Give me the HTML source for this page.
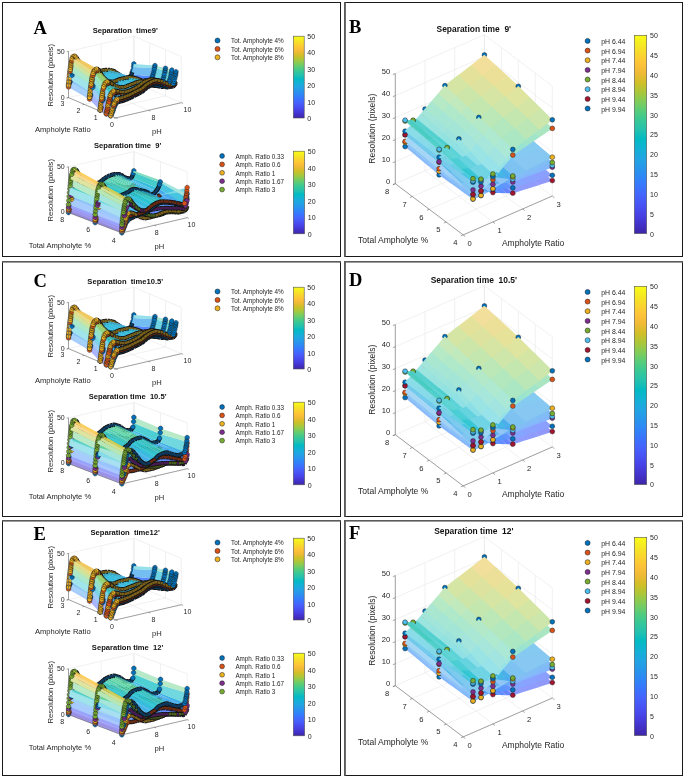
<!DOCTYPE html><html><head><meta charset="utf-8"><style>
html,body{margin:0;padding:0;background:#fff;width:685px;height:778px;overflow:hidden}
svg{display:block;will-change:transform;font-family:"Liberation Sans",sans-serif;fill:#262626}text{white-space:pre}.m{stroke:#1a1a1a;stroke-width:.45}.tb,.t0,.t1,.t2,.t3,.t4{fill:none;stroke-linejoin:round}.tb{stroke:#141414;stroke-width:4.4}.t0,.t1,.t2,.t3,.t4{stroke-width:2.5}.t0{stroke:#0b3a63}.t1{stroke:#6e2a10}.t2{stroke:#7a6018}.t3{stroke:#4a1c55}.t4{stroke:#46621c}

</style></head><body>
<svg width="685" height="778" viewBox="0 0 685 778">
<defs><g id="lt"><line x1="115.9" y1="117.9" x2="68.5" y2="97.6" stroke="#e3e3e3" stroke-width="0.5"/><line x1="148.6" y1="110.3" x2="101.2" y2="90" stroke="#e3e3e3" stroke-width="0.5"/><line x1="181.3" y1="102.7" x2="133.9" y2="82.4" stroke="#e3e3e3" stroke-width="0.5"/><line x1="115.9" y1="117.9" x2="181.3" y2="102.7" stroke="#e3e3e3" stroke-width="0.5"/><line x1="100.1" y1="111.1" x2="165.5" y2="95.9" stroke="#e3e3e3" stroke-width="0.5"/><line x1="84.3" y1="104.4" x2="149.7" y2="89.2" stroke="#e3e3e3" stroke-width="0.5"/><line x1="68.5" y1="97.6" x2="133.9" y2="82.4" stroke="#e3e3e3" stroke-width="0.5"/><line x1="68.5" y1="97.6" x2="68.5" y2="51.4" stroke="#e3e3e3" stroke-width="0.5"/><line x1="101.2" y1="90" x2="101.2" y2="43.8" stroke="#e3e3e3" stroke-width="0.5"/><line x1="133.9" y1="82.4" x2="133.9" y2="36.2" stroke="#e3e3e3" stroke-width="0.5"/><line x1="68.5" y1="51.4" x2="133.9" y2="36.2" stroke="#e3e3e3" stroke-width="0.5"/><line x1="181.3" y1="102.7" x2="181.3" y2="56.5" stroke="#e3e3e3" stroke-width="0.5"/><line x1="165.5" y1="95.9" x2="165.5" y2="49.7" stroke="#e3e3e3" stroke-width="0.5"/><line x1="149.7" y1="89.2" x2="149.7" y2="43" stroke="#e3e3e3" stroke-width="0.5"/><line x1="133.9" y1="82.4" x2="133.9" y2="36.2" stroke="#e3e3e3" stroke-width="0.5"/><line x1="181.3" y1="56.5" x2="133.9" y2="36.2" stroke="#e3e3e3" stroke-width="0.5"/><path d="M152.8 83.6l2-1.7-21.6-3.6-2.1 1.3z" fill="#737af6"/><path d="M154.8 81.9l.4-.6-21.6-3.6-.4.7z" fill="#6370f8"/><path class="tb" d="M133.6 78.3l.3-.5"/><path class="t1" d="M133.6 78.3l.3-.5"/><path d="M150.7 84.1l2.1-.5-21.6-4-2.1.5z" fill="#6367f2"/><path class="tb" d="M131 79.8l.3-.1.3-.1.3-.1.4-.2.3-.1.3-.2.3-.2.4-.5"/><path class="t1" d="M131 79.8l.3-.1.3-.1.3-.1.4-.2.3-.1.3-.2.3-.2.4-.5"/><path d="M148.7 84.2l2-.1-21.6-4-2 .1z" fill="#7378f4"/><path class="tb" d="M128.3 80.2l.4 0 .3 0 .3-.1.3 0 .4 0 .3-.1.3-.1.4-.1"/><path class="t1" d="M128.3 80.2l.4 0 .3 0 .3-.1.3 0 .4 0 .3-.1.3-.1.4-.1"/><path d="M152.8 81.7l2-1.7-21.6-3.5-2.1 1.3z" fill="#7284fc"/><path d="M154.8 80.1l.4-.7-21.6-3.5-.4.6z" fill="#607cfd"/><path class="tb" d="M133.6 76.4l.3-.5"/><path class="t2" d="M133.6 76.4l.3-.5"/><path d="M150.7 82.3l2.1-.6-21.6-3.9-2.1.4z" fill="#6273fa"/><path class="tb" d="M131 78l.3-.1.3-.1.3-.2.4-.1.3-.2.3-.2.3-.2.4-.5"/><path class="t2" d="M131 78l.3-.1.3-.1.3-.2.4-.1.3-.2.3-.2.3-.2.4-.5"/><path d="M146.6 84.1l2.1.1-21.6-4-2.1-.2z" fill="#636cf6"/><path class="tb" d="M125.7 80.1l.4.1.3 0 .3 0 .3 0 .4 0 .3 0 .3 0 .3 0"/><path class="t1" d="M125.7 80.1l.4.1.3 0 .3 0 .3 0 .4 0 .3 0 .3 0 .3 0"/><path d="M148.7 82.3l2 0-21.6-4.1-2 .1z" fill="#7282fb"/><path class="tb" d="M128.3 78.4l.4 0 .3-.1.3 0 .3 0 .4-.1.3-.1.3 0 .4-.1"/><path class="t2" d="M128.3 78.4l.4 0 .3-.1.3 0 .3 0 .4-.1.3-.1.3 0 .4-.1"/><path d="M146.6 84.2l2.1-1.2-21.6-4.2-2.1.9z" fill="#6370f8"/><path d="M148.7 83.1l2-2.8-21.6-3.3-2 1.9z" fill="#7185fc"/><path class="tb" d="M125.7 79.7l.4-.1.3-.1.3-.2.3-.2.4-.2.3-.2.3-.3.3-.3"/><path class="t0" d="M125.7 79.7l.4-.1.3-.1.3-.2.3-.2.4-.2.3-.2.3-.3.3-.3"/><path d="M144.6 84.1l2 .1-21.6-4.5-2-.6z" fill="#727ffa"/><path d="M144.6 83.6l2 .5-21.6-4.1-2-.8z" fill="#7280fa"/><path d="M146.6 82.2l2.1.1-21.6-4-2.1-.1z" fill="#6178fc"/><path class="tb" d="M125.7 78.3l.4 0 .3 0 .3.1.3 0 .4 0 .3 0 .3 0 .3 0"/><path class="t2" d="M125.7 78.3l.4 0 .3 0 .3.1.3 0 .4 0 .3 0 .3 0 .3 0"/><path d="M150.7 80.4l2.1-4-21.6-2.1-2.1 2.8z" fill="#5888ff"/><path class="tb" d="M128.3 78.1l.4-.3.3-.3.3-.3.3-.3.4-.4.3-.4.3-.3.4-.5"/><path class="t0" d="M128.3 78.1l.4-.3.3-.3.3-.3.3-.3.4-.4.3-.4.3-.3.4-.5"/><path d="M144.6 81.7l2 .5-21.6-4-2-.8z" fill="#6f8bfe"/><path d="M142.5 83.5l2.1.6-21.6-5-2.1-1.3z" fill="#6178fc"/><path class="tb" d="M123.1 79.1l.3.2.4.1.3.2.3.1.3 0 .4 0 .3 0 .3 0"/><path class="t0" d="M123.1 79.1l.3.2.4.1.3.2.3.1.3 0 .4 0 .3 0 .3 0"/><path d="M142.5 82.7l2.1.9-21.6-4.4-2.1-1.3z" fill="#617afd"/><path class="tb" d="M123.1 79.2l.3.2.4.1.3.2.3.1.3.1.4.1.3.1.3 0"/><path class="t1" d="M123.1 79.2l.3.2.4.1.3.2.3.1.3.1.4.1.3.1.3 0"/><path class="m" d="M132.2 70a2.3 2.3 0 1 0 .1 0M132.9 67.9a2.3 2.3 0 1 0 .1 0M133.5 64.2a2.3 2.3 0 1 0 .1 0M133.8 61.6a2.3 2.3 0 1 0 .1 0" fill="#0072BD"/><path d="M142.5 80.9l2.1.8-21.6-4.3-2.1-1.4z" fill="#5987ff"/><path class="tb" d="M123.1 77.3l.3.2.4.2.3.1.3.2.3.1.4.1.3.1.3 0"/><path class="t2" d="M123.1 77.3l.3.2.4.2.3.1.3.2.3.1.4.1.3.1.3 0"/><path d="M152.7 76.5l2.1-8.5-21.6-1-2 7.5z" fill="#74bdf1"/><path d="M140.5 82.9l2 .6-21.6-5.7-2-1.3z" fill="#6d8ffe"/><path class="tb" d="M131 75.3l.3-.5.3-.7.3-.8.4-1"/><path class="t0" d="M131 75.3l.3-.5.3-.7.3-.8.4-1"/><path class="tb" d="M120.5 77.3l.3.3.3.2.4.2.3.3.3.2.4.2.3.2.3.2"/><path class="t0" d="M120.5 77.3l.3.3.3.2.4.2.3.3.3.2.4.2.3.2.3.2"/><path d="M140.5 81.9l2 .9-21.6-4.9-2-1.4z" fill="#6b91ff"/><path class="tb" d="M120.5 77.4l.3.2.3.3.4.2.3.2.3.3.4.2.3.2.3.2"/><path class="t1" d="M120.5 77.4l.3.2.3.3.4.2.3.2.3.3.4.2.3.2.3.2"/><path d="M140.5 80.1l2 .8-21.6-4.9-2-1.3z" fill="#619dfc"/><path class="tb" d="M120.5 75.6l.3.2.3.2.4.3.3.2.3.2.4.2.3.2.3.2"/><path class="t2" d="M120.5 75.6l.3.2.3.2.4.3.3.2.3.2.4.2.3.2.3.2"/><path d="M138.4 82.2l2.1.7-21.6-6.4-2-1.1z" fill="#548cfe"/><path class="tb" d="M117.9 75.9l.3.2.3.2.4.1.3.2.3.1.3.2.4.2.3.2"/><path class="t0" d="M117.9 75.9l.3.2.3.2.4.1.3.2.3.1.3.2.4.2.3.2"/><path d="M138.4 81.2l2.1.8-21.6-5.5-2-1.4z" fill="#5090fc"/><path class="tb" d="M117.9 75.7l.3.3.3.2.4.2.3.2.3.2.3.2.4.2.3.2"/><path class="t1" d="M117.9 75.7l.3.3.3.2.4.2.3.2.3.2.3.2.4.2.3.2"/><path d="M154.8 68.2l.4-2.7-21.6-1.6-.4 3.3z" fill="#96e0ea"/><path d="M138.4 79.3l2.1.8-21.6-5.4-2-1.4z" fill="#4d9cf6"/><path d="M136.4 81.3l2 .9-21.5-6.8-2.1-1.1z" fill="#5fa0fa"/><path class="tb" d="M117.9 73.9l.3.2.3.2.4.2.3.2.3.2.3.2.4.2.3.3"/><path class="t2" d="M117.9 73.9l.3.2.3.2.4.2.3.2.3.2.3.2.4.2.3.3"/><path class="tb" d="M115.3 74.4l.3.2.3.2.3.2.4.1.3.2.3.2.4.2.3.2"/><path class="t0" d="M115.3 74.4l.3.2.3.2.3.2.4.1.3.2.3.2.4.2.3.2"/><path d="M136.4 80.4l2 .8-21.5-6.1-2.1-1.4z" fill="#5fa4f8"/><path class="tb" d="M115.3 73.9l.3.2.3.2.3.2.4.3.3.2.3.3.4.2.3.2"/><path class="t1" d="M115.3 73.9l.3.2.3.2.3.2.4.3.3.2.3.3.4.2.3.2"/><path d="M134.4 80.8l2 .5-21.6-7-2-.8z" fill="#4c9ef4"/><path d="M136.4 78.6l2 .8-21.5-6.1-2.1-1.5z" fill="#5aaef0"/><path class="tb" d="M115.3 72l.3.2.3.3.3.2.4.2.3.3.3.2.4.3.3.2"/><path class="t2" d="M115.3 72l.3.2.3.3.3.2.4.2.3.3.3.2.4.3.3.2"/><path d="M134.4 79.9l2 .5-21.6-6.7-2-1.1z" fill="#4aa3f0"/><path d="M132.3 80.6l2.1.2-21.6-7.3-2.1-.4z" fill="#5cadf1"/><path d="M163.3 84.4l2.1-1.7-11.2-.9-2 1.7z" fill="#6895ff"/><path class="tb" d="M112.6 73.5l.4 0 .3.1.3.1.4.1.3.2.3.1.3.2.4.1"/><path class="t0" d="M112.6 73.5l.4 0 .3.1.3.1.4.1.3.2.3.1.3.2.4.1"/><path d="M165.4 82.7l.4-.6-11.2-.9-.4.6z" fill="#518ffd"/><path d="M161.3 84.9l2-.5-11.1-.9-2.1.5z" fill="#5b85ff"/><path class="tb" d="M154.6 81.7l.3-.5"/><path class="t1" d="M154.6 81.7l.3-.5"/><path class="tb" d="M152 83.7l.3-.1.3-.2.4-.2.3-.2.3-.3.3-.2.4-.3.3-.5"/><path class="t1" d="M152 83.7l.3-.1.3-.2.4-.2.3-.2.3-.3.3-.2.4-.3.3-.5"/><path d="M134.4 78l2 .6-21.6-6.8-2-1.1z" fill="#45ade9"/><path d="M132.3 79.6l2.1.3-21.6-7.3-2.1-.5z" fill="#59b2ee"/><path class="tb" d="M112.6 72.6l.4.1.3.1.3.1.4.2.3.2.3.1.3.2.4.3"/><path class="t1" d="M112.6 72.6l.4.1.3.1.3.1.4.2.3.2.3.1.3.2.4.3"/><path d="M159.3 85l2-.1-11.2-.9-2 .1z" fill="#6a92ff"/><path class="tb" d="M149.4 84.1l.3 0 .3 0 .3 0 .4-.1.3 0 .3-.1.3-.1.4-.1"/><path class="t1" d="M149.4 84.1l.3 0 .3 0 .3 0 .4-.1.3 0 .3-.1.3-.1.4-.1"/><path d="M130.3 80.6l2 0-21.6-7.5-2-.1z" fill="#47a8ed"/><path class="tb" d="M110 73.1l.4.1.3 0 .3 0 .3.1.4 0 .3.1.3 0 .3.1"/><path class="t0" d="M110 73.1l.4.1.3 0 .3 0 .3.1.4 0 .3.1.3 0 .3.1"/><path d="M163.3 82.6l2.1-1.8-11.2-.9-2 1.8z" fill="#5fa0fa"/><path d="M165.4 80.9l.4-.7-11.2-.9-.4.7z" fill="#4d9bf6"/><path d="M161.3 83.1l2-.6-11.1-.9-2.1.6z" fill="#4f92fc"/><path class="tb" d="M154.6 79.9l.3-.5"/><path class="t2" d="M154.6 79.9l.3-.5"/><path class="tb" d="M152 81.9l.3-.1.3-.2.4-.2.3-.3.3-.2.3-.3.4-.3.3-.4"/><path class="t2" d="M152 81.9l.3-.1.3-.2.4-.2.3-.3.3-.2.3-.3.4-.3.3-.4"/><path d="M130.3 79.3l2 .2-21.6-7.5-2-.3z" fill="#44aee9"/><path d="M132.3 77.7l2.1.3-21.6-7.3-2.1-.5z" fill="#54bbe9"/><path class="tb" d="M110 72l.4 0 .3.1.3.1.3 0 .4.1.3.1.3.1.3.1"/><path class="t1" d="M110 72l.4 0 .3.1.3.1.3 0 .4.1.3.1.3.1.3.1"/><path class="tb" d="M112.6 70.7l.4.1.3.1.3.2.4.1.3.2.3.2.3.2.4.2"/><path class="t2" d="M112.6 70.7l.4.1.3.1.3.2.4.1.3.2.3.2.3.2.4.2"/><path d="M157.2 84.9l2.1.1-11.2-.9-2.1-.1z" fill="#578afe"/><path d="M157.2 86l2.1-1.1-11.2-2-2.1 1.2z" fill="#578afe"/><path class="tb" d="M146.7 84.1l.4 0 .3 0 .3 0 .3 0 .4 0 .3 0 .3 0 .4 0"/><path class="t1" d="M146.7 84.1l.4 0 .3 0 .3 0 .3 0 .4 0 .3 0 .3 0 .4 0"/><path d="M128.2 80.7l2.1-.2-21.6-7.6-2.1.1z" fill="#58b3ed"/><path class="tb" d="M107.4 73.1l.3-.1.4 0 .3 0 .3 0 .3.1.4 0 .3 0 .3 0"/><path class="t0" d="M107.4 73.1l.3-.1.4 0 .3 0 .3 0 .3.1.4 0 .3 0 .3 0"/><path d="M159.2 85.1l2.1-2.4-11.1-2.6-2.1 2.9z" fill="#619dfc"/><path class="tb" d="M146.7 84.1l.4-.1.3-.2.3-.2.3-.3.4-.3.3-.3.3-.4.4-.5"/><path class="t0" d="M146.7 84.1l.4-.1.3-.2.3-.2.3-.3.4-.3.3-.3.3-.4.4-.5"/><path d="M159.3 83.1l2 0-11.2-.9-2 .1z" fill="#609efb"/><path class="tb" d="M149.4 82.3l.3 0 .3-.1.3 0 .4 0 .3-.1.3 0 .3-.1.4-.1"/><path class="t2" d="M149.4 82.3l.3 0 .3-.1.3 0 .4 0 .3-.1.3 0 .3-.1.4-.1"/><path d="M155.2 85.8l2 .1-11.2-1.8-2-.1z" fill="#6795fe"/><path d="M126.2 81.2l2-.5-21.6-7.7-2 .2z" fill="#45acea"/><path d="M128.2 79.3l2.1 0-21.6-7.6-2.1-.1z" fill="#55b9ea"/><path class="tb" d="M107.4 71.7l.3 0 .4 0 .3 0 .3.1.3 0 .4 0 .3.1.3.1"/><path class="t1" d="M107.4 71.7l.3 0 .4 0 .3 0 .3.1.3 0 .4 0 .3.1.3.1"/><path d="M130.3 77.5l2 .2-21.6-7.5-2-.3z" fill="#3db8e3"/><path d="M155.2 84.6l2 .3-11.2-.9-2-.5z" fill="#639afd"/><path class="tb" d="M110 70.1l.4.1.3 0 .3.1.3.1.4.1.3 0 .3.1.3.1"/><path class="t2" d="M110 70.1l.4.1.3 0 .3.1.3.1.4.1.3 0 .3.1.3.1"/><path d="M157.2 83.1l2.1 0-11.2-.8-2.1-.1z" fill="#4e96fa"/><path class="tb" d="M146.7 82.2l.4 0 .3 0 .3.1.3 0 .4 0 .3 0 .3 0 .4 0"/><path class="t2" d="M146.7 82.2l.4 0 .3 0 .3.1.3 0 .4 0 .3 0 .3 0 .4 0"/><path d="M161.2 82.9l2.1-3.8-11.1-2.9-2.1 4.1z" fill="#4aa3f0"/><path class="tb" d="M149.4 81.8l.3-.4.3-.5.3-.5.4-.5.3-.5.3-.6.3-.5.4-.6"/><path class="t0" d="M149.4 81.8l.3-.4.3-.5.3-.5.4-.5.3-.5.3-.6.3-.5.4-.6"/><path class="tb" d="M152 77.7l.3-.9"/><path class="t0" d="M152 77.7l.3-.9"/><path d="M124.1 81.6l2.1-.5-21.6-7.9-2.1.4z" fill="#58b5ec"/><path class="tb" d="M104.8 73.3l.3 0 .4-.1.3 0 .3 0 .3-.1.4 0 .3 0 .3 0"/><path class="t0" d="M104.8 73.3l.3 0 .4-.1.3 0 .3 0 .3-.1.4 0 .3 0 .3 0"/><path d="M126.2 79.8l2-.5-21.6-7.7-2 .2z" fill="#41b3e6"/><path d="M153.1 85.1l2.1.7-11.2-1.8-2.1-.6z" fill="#5190fc"/><path class="tb" d="M144.1 84l.4.1.3 0 .3.1.3 0 .4 0 .3 0 .3-.1.3 0"/><path class="t0" d="M144.1 84l.4.1.3 0 .3.1.3 0 .4 0 .3 0 .3-.1.3 0"/><path d="M128.2 77.5l2.1-.1-21.6-7.6-2.1 0z" fill="#4dc1e2"/><path class="tb" d="M107.4 69.8l.3.1.4 0 .3 0 .3 0 .3.1.4 0 .3.1.3 0"/><path class="t2" d="M107.4 69.8l.3.1.4 0 .3 0 .3 0 .3.1.4 0 .3.1.3 0"/><path d="M122.1 82.1l2-.5-21.5-8.1-2.1.4z" fill="#45adea"/><path class="tb" d="M102.2 73.8l.3-.1.3 0 .4-.1.3 0 .3-.1.3-.1.4 0 .3-.1"/><path class="t0" d="M102.2 73.8l.3-.1.3 0 .4-.1.3 0 .3-.1.3-.1.4 0 .3-.1"/><path d="M155.2 82.8l2 .3-11.2-.9-2-.6z" fill="#5fa5f8"/><path d="M153.1 84.1l2.1.5-11.2-1.1-2.1-.9z" fill="#4e95fa"/><path class="tb" d="M144.1 83.5l.4.1.3.1.3.1.3.1.4 0 .3.1.3 0 .3.1"/><path class="t1" d="M144.1 83.5l.4.1.3.1.3.1.3.1.4 0 .3.1.3 0 .3.1"/><path d="M124.1 80.3l2.1-.5-21.6-8-2.1.4z" fill="#53bbe8"/><path class="tb" d="M104.8 71.9l.3 0 .4-.1.3 0 .3 0 .3-.1.4 0 .3 0 .3 0"/><path class="t1" d="M104.8 71.9l.3 0 .4-.1.3 0 .3 0 .3-.1.4 0 .3 0 .3 0"/><path d="M120 82.6l2.1-.5-21.6-8.2-2 .3z" fill="#57b5ec"/><path class="tb" d="M99.6 74.2l.3 0 .3-.1.3 0 .4-.1.3 0 .3-.1.4-.1.3 0"/><path class="t0" d="M99.6 74.2l.3 0 .3-.1.3 0 .4-.1.3 0 .3-.1.4-.1.3 0"/><path d="M126.2 77.9l2-.4-21.6-7.8-2 .3z" fill="#37bcdd"/><path d="M122.1 80.7l2-.5-21.5-8-2.1.3z" fill="#40b4e6"/><path d="M151.1 84.6l2 .6-11.2-1.8-2-.6z" fill="#5fa1fa"/><path class="tb" d="M102.2 72.4l.3-.1.3 0 .4-.1.3 0 .3-.1.3-.1.4 0 .3-.1"/><path class="t1" d="M102.2 72.4l.3-.1.3 0 .4-.1.3 0 .3-.1.3-.1.4 0 .3-.1"/><path class="tb" d="M141.5 83.2l.3.1.4.1.3.1.3.1.3.1.4.1.3.1.3.1"/><path class="t0" d="M141.5 83.2l.3.1.4.1.3.1.3.1.3.1.4.1.3.1.3.1"/><path d="M118 83.5l2-.9-21.5-8.4-2.1.3z" fill="#45ade9"/><path d="M153.1 82.3l2.1.5-11.2-1.1-2.1-.9z" fill="#4ba1f2"/><path class="tb" d="M96.9 74.5l.4 0 .3 0 .3-.1.4 0 .3-.1.3 0 .3 0 .4-.1"/><path class="t0" d="M96.9 74.5l.4 0 .3 0 .3-.1.4 0 .3-.1.3 0 .3 0 .4-.1"/><path class="tb" d="M144.1 81.6l.4.1.3.1.3.1.3.1.4.1.3 0 .3.1.3 0"/><path class="t2" d="M144.1 81.6l.4.1.3.1.3.1.3.1.4.1.3 0 .3.1.3 0"/><path d="M124.1 78.4l2.1-.5-21.6-7.9-2.1.3z" fill="#4ac3e0"/><path class="tb" d="M104.8 70.1l.3-.1.4 0 .3 0 .3-.1.3 0 .4 0 .3 0 .3-.1"/><path class="t2" d="M104.8 70.1l.3-.1.4 0 .3 0 .3-.1.3 0 .4 0 .3 0 .3-.1"/><path d="M151.1 83.7l2 .5-11.2-1.5-2-.9z" fill="#5ea6f6"/><path class="tb" d="M141.5 82.4l.3.1.4.2.3.1.3.1.3.2.4.1.3.1.3.2"/><path class="t1" d="M141.5 82.4l.3.1.4.2.3.1.3.1.3.2.4.1.3.1.3.2"/><path d="M120 81.3l2.1-.6-21.6-8.2-2 .3z" fill="#53bce8"/><path class="tb" d="M99.6 72.8l.3 0 .3-.1.3 0 .4-.1.3 0 .3-.1.4 0 .3-.1"/><path class="t1" d="M99.6 72.8l.3 0 .3-.1.3 0 .4-.1.3 0 .3-.1.4 0 .3-.1"/><path d="M115.9 84.3l2.1-.9-21.6-9-2 .2z" fill="#57b5ec"/><path d="M163.2 79.4l2.2-8.7-11.1-2.8-2.1 8.6z" fill="#6ed3e4"/><path d="M122.1 78.9l2-.5-21.5-8.1-2.1.4z" fill="#35bddc"/><path class="tb" d="M102.2 70.5l.3 0 .3-.1.4 0 .3-.1.3 0 .3-.1.4-.1.3 0"/><path class="t2" d="M102.2 70.5l.3 0 .3-.1.4 0 .3-.1.3 0 .3-.1.4-.1.3 0"/><path d="M118 82.1l2-.9-21.5-8.4-2.1.3z" fill="#40b4e5"/><path d="M149 84.2l2.1.4-11.2-1.8-2-.8z" fill="#4c9df5"/><path class="tb" d="M96.9 73.1l.4 0 .3 0 .3-.1.4 0 .3 0 .3-.1.3 0 .4-.1"/><path class="t1" d="M96.9 73.1l.4 0 .3 0 .3-.1.4 0 .3 0 .3-.1.3 0 .4-.1"/><path class="tb" d="M138.9 82.4l.3.1.3.1.4.1.3.1.3.1.4.1.3.1.3.1"/><path class="t0" d="M138.9 82.4l.3.1.3.1.4.1.3.1.3.1.4.1.3.1.3.1"/><path d="M113.9 85l2.1-.7-21.6-9.7-2.1.1z" fill="#45adea"/><path class="tb" d="M94.3 74.8l.4-.1.3 0 .3 0 .3 0 .4-.1.3 0 .3 0 .3-.1"/><path class="t0" d="M94.3 74.8l.4-.1.3 0 .3 0 .3 0 .4-.1.3 0 .3 0 .3-.1"/><path d="M169.6 85.2l2.1-2.7-6.9.1-2 1.8z" fill="#5ea7f6"/><path d="M151.1 81.8l2 .5-11.2-1.5-2-.8z" fill="#5ab0ef"/><path d="M167.6 85.7l2.1-.7-6.9-.7-2.1.6z" fill="#4d98f8"/><path class="tb" d="M141.5 80.5l.3.2.4.1.3.1.3.2.3.1.4.2.3.1.3.1"/><path class="t2" d="M141.5 80.5l.3.2.4.1.3.1.3.2.3.1.4.2.3.1.3.1"/><path d="M120 79.4l2.1-.5-21.6-8.2-2 .3z" fill="#49c4df"/><path d="M115.9 83l2.1-1-21.6-9-2 .2z" fill="#53bce8"/><path class="tb" d="M99.6 71l.3-.1.3 0 .3-.1.4 0 .3-.1.3 0 .4-.1.3-.1"/><path class="t2" d="M99.6 71l.3-.1.3 0 .3-.1.4 0 .3-.1.3 0 .4-.1.3-.1"/><path d="M149 83.1l2.1.6-11.2-1.9-2-.7z" fill="#4aa3f0"/><path class="tb" d="M138.9 81.4l.3.1.3.2.4.1.3.1.3.1.4.1.3.1.3.2"/><path class="t1" d="M138.9 81.4l.3.1.3.2.4.1.3.1.3.1.4.1.3.1.3.2"/><path d="M171.7 82.6l.4-.6-6.9 0-.4.7z" fill="#49a4f0"/><path class="tb" d="M162.6 84.6l.3-.2.3-.1.3-.2.4-.3.3-.2.3-.3.3-.3.4-.4"/><path class="t1" d="M162.6 84.6l.3-.2.3-.1.3-.2.4-.3.3-.2.3-.3.3-.3.4-.4"/><path class="tb" d="M165.2 82.6l.3-.5"/><path class="t1" d="M165.2 82.6l.3-.5"/><path d="M111.8 85.2l2.1-.3-21.5-10.2-2.1-.2z" fill="#57b7eb"/><path d="M118 80.2l2-.8-21.5-8.4-2.1.2z" fill="#34bddc"/><path class="tb" d="M91.7 74.8l.3 0 .4 0 .3 0 .3 0 .4 0 .3 0 .3 0 .3 0"/><path class="t0" d="M91.7 74.8l.3 0 .4 0 .3 0 .3 0 .4 0 .3 0 .3 0 .3 0"/><path class="tb" d="M96.9 71.3l.4 0 .3-.1.3 0 .4-.1.3 0 .3 0 .3-.1.4 0"/><path class="t2" d="M96.9 71.3l.4 0 .3-.1.3 0 .4-.1.3 0 .3 0 .3-.1.4 0"/><path d="M113.9 83.6l2.1-.7-21.6-9.7-2.1.1z" fill="#40b4e5"/><path class="tb" d="M94.3 73.4l.4-.1.3 0 .3 0 .3 0 .4-.1.3 0 .3 0 .3-.1"/><path class="t1" d="M94.3 73.4l.4-.1.3 0 .3 0 .3 0 .4-.1.3 0 .3 0 .3-.1"/><path d="M165.6 85.3l2 .4-6.9-.9-2 .1z" fill="#5fa4f8"/><path d="M147 83.8l2 .4-11.1-2.2-2.1-.8z" fill="#5cadf1"/><path class="tb" d="M159.9 84.9l.4 0 .3 0 .3 0 .3 0 .4-.1.3 0 .3-.1.4-.1"/><path class="t1" d="M159.9 84.9l.4 0 .3 0 .3 0 .3 0 .4-.1.3 0 .3-.1.4-.1"/><path class="tb" d="M136.3 81.3l.3.1.3.2.4.1.3.2.3.1.3.1.4.2.3.1"/><path class="t0" d="M136.3 81.3l.3.1.3.2.4.1.3.2.3.1.3.1.4.2.3.1"/><path d="M169.6 83.3l2.1-2.6-6.9 0-2 1.9z" fill="#59b1ee"/><path d="M167.6 83.9l2.1-.7-6.9-.8-2.1.6z" fill="#4aa4f0"/><path d="M115.9 81.1l2.1-.9-21.6-9-2 .2z" fill="#49c4e0"/><path d="M163.5 86.9l2.1-1-6.9-1.1-2.1 1.1z" fill="#4d99f8"/><path d="M165.5 86.1l2.1-2-6.8-1.6-2.1 2.5z" fill="#5ea8f5"/><path d="M149 81.3l2.1.6-11.2-1.9-2-.8z" fill="#44aee9"/><path class="tb" d="M138.9 79.6l.3.1.3.1.4.1.3.1.3.1.4.2.3.1.3.1"/><path class="t2" d="M138.9 79.6l.3.1.3.1.4.1.3.1.3.1.4.2.3.1.3.1"/><path d="M171.7 80.8l.4-.7-6.9.1-.4.7z" fill="#44aee9"/><path class="tb" d="M162.6 82.7l.3-.1.3-.2.3-.2.4-.2.3-.3.3-.2.3-.3.4-.5"/><path class="t2" d="M162.6 82.7l.3-.1.3-.2.3-.2.4-.2.3-.3.3-.2.3-.3.4-.5"/><path d="M147 82.5l2 .6-11.1-2-2.1-.8z" fill="#59b2ed"/><path class="tb" d="M165.2 80.7l.3-.5"/><path class="t2" d="M165.2 80.7l.3-.5"/><path d="M111.8 83.8l2.1-.3-21.5-10.2-2.1-.2z" fill="#52bde7"/><path class="tb" d="M136.3 80.4l.3.1.3.1.4.2.3.1.3.1.3.2.4.1.3.1"/><path class="t1" d="M136.3 80.4l.3.1.3.1.4.2.3.1.3.1.3.2.4.1.3.1"/><path class="tb" d="M91.7 73.4l.3 0 .4 0 .3 0 .3 0 .4 0 .3 0 .3 0 .3 0"/><path class="t1" d="M91.7 73.4l.3 0 .4 0 .3 0 .3 0 .4 0 .3 0 .3 0 .3 0"/><path class="tb" d="M157.3 85.8l.4-.1.3-.1.3-.2.3-.2.4-.3.3-.3.3-.3.3-.3"/><path class="t0" d="M157.3 85.8l.4-.1.3-.1.3-.2.3-.2.4-.3.3-.3.3-.3.3-.3"/><path d="M109.8 85.1l2.1.1-21.6-10.7-2-.4z" fill="#42b2e7"/><path class="tb" d="M89.1 74.4l.3 0 .4.1.3.1.3 0 .3.1.4 0 .3 0 .3.1"/><path class="t0" d="M89.1 74.4l.3 0 .4.1.3.1.3 0 .3.1.4 0 .3 0 .3.1"/><path d="M163.5 84.7l2.1.6-6.9-.4-2.1 0z" fill="#4c9ef4"/><path class="tb" d="M157.3 84.9l.4 0 .3 0 .3 0 .3 0 .4 0 .3.1.3 0 .3-.1"/><path class="t1" d="M157.3 84.9l.4 0 .3 0 .3 0 .3 0 .4 0 .3.1.3 0 .3-.1"/><path d="M113.9 81.7l2.1-.6-21.6-9.7-2.1.1z" fill="#35bddc"/><path d="M161.5 86.8l2 0-6.9-1-2-.1z" fill="#5fa3f9"/><path class="tb" d="M94.3 71.5l.4 0 .3 0 .3 0 .3-.1.4 0 .3 0 .3-.1.3 0"/><path class="t2" d="M94.3 71.5l.4 0 .3 0 .3 0 .3-.1.4 0 .3 0 .3-.1.3 0"/><path d="M165.6 83.4l2 .4-6.9-.8-2 .1z" fill="#5baef0"/><path class="tb" d="M159.9 83.1l.4 0 .3 0 .3-.1.3 0 .4 0 .3-.1.3-.1.4-.1"/><path class="t2" d="M159.9 83.1l.4 0 .3 0 .3-.1.3 0 .4 0 .3-.1.3-.1.4-.1"/><path d="M144.9 83.8l2.1 0-11.2-2.6-2-.6z" fill="#46a9ec"/><path d="M167.5 84.4l2.2-3.4-6.8-2.1-2.2 3.8z" fill="#45abea"/><path class="tb" d="M159.9 84l.4-.4.3-.4.3-.4.3-.4.4-.5.3-.4.3-.5.4-.6"/><path class="t0" d="M159.9 84l.4-.4.3-.4.3-.4.3-.4.4-.5.3-.4.3-.5.4-.6"/><path d="M165.4 70.9l.4-2.7-11.2-2.8-.4 2.7z" fill="#a6e6d6"/><path class="m" d="M154.5 65.3a2.3 2.3 0 1 0 .1 0M154.9 63.2a2.3 2.3 0 1 0 .1 0" fill="#0072BD"/><path d="M109.8 83.7l2.1.1-21.6-10.7-2-.4z" fill="#3cb9e2"/><path class="tb" d="M89.1 73l.3.1.4 0 .3.1.3 0 .3.1.4 0 .3.1.3 0"/><path class="t1" d="M89.1 73l.3.1.4 0 .3.1.3 0 .3.1.4 0 .3.1.3 0"/><path d="M147 80.7l2 .6-11.1-2.1-2.1-.8z" fill="#53bbe8"/><path d="M111.8 81.9l2.1-.2-21.5-10.3-2.1-.1z" fill="#46c5de"/><path class="tb" d="M136.3 78.6l.3.1.3.1.4.1.3.1.3.2.3.1.4.1.3.2"/><path class="t2" d="M136.3 78.6l.3.1.3.1.4.1.3.1.3.2.3.1.4.1.3.2"/><path d="M144.9 82.4l2.1.1-11.2-2.2-2-.6z" fill="#43afe8"/><path class="tb" d="M91.7 71.5l.3.1.4 0 .3 0 .3 0 .4 0 .3-.1.3 0 .3 0"/><path class="t2" d="M91.7 71.5l.3.1.4 0 .3 0 .3 0 .4 0 .3-.1.3 0 .3 0"/><path d="M107.8 84.5l2 .6-21.5-11-2.1-.9z" fill="#51bee6"/><path class="tb" d="M86.5 73.4l.3.2.3.1.4.2.3.1.3.1.3.1.4.1.3.1"/><path class="t0" d="M86.5 73.4l.3.2.3.1.4.2.3.1.3.1.3.1.4.1.3.1"/><path class="tb" d="M162.6 80.4l.3-.8"/><path class="t0" d="M162.6 80.4l.3-.8"/><path d="M142.9 84.3l2-.5-11.1-3.2-2.1-.2z" fill="#58b4ec"/><path d="M163.5 82.8l2.1.6-6.9-.3-2.1-.1z" fill="#46a9ec"/><path class="tb" d="M133.7 80.6l.3.1.3 0 .3.1.4.1.3.1.3.1.3.1.4.1"/><path class="t0" d="M133.7 80.6l.3.1.3 0 .3.1.4.1.3.1.3.1.3.1.4.1"/><path d="M161.5 83.8l2 .9-6.9.2-2-.3z" fill="#5cadf1"/><path d="M159.4 86.3l2.1.5-6.9-1.1-2.1-.6z" fill="#4c9ef4"/><path class="tb" d="M157.3 83l.4.1.3 0 .3 0 .3 0 .4 0 .3 0 .3 0 .3 0"/><path class="t2" d="M157.3 83l.4.1.3 0 .3 0 .3 0 .4 0 .3 0 .3 0 .3 0"/><path class="tb" d="M154.7 85.7l.3.1.4 0 .3.1.3 0 .3 0 .4 0 .3 0 .3-.1"/><path class="t0" d="M154.7 85.7l.3.1.4 0 .3.1.3 0 .3 0 .4 0 .3 0 .3-.1"/><path d="M109.8 81.9l2.1 0-21.6-10.6-2-.4z" fill="#2bc0d6"/><path class="tb" d="M89.1 71.1l.3.1.4.1.3 0 .3.1.3 0 .4.1.3 0 .3 0"/><path class="t2" d="M89.1 71.1l.3.1.4.1.3 0 .3.1.3 0 .4.1.3 0 .3 0"/><path d="M142.9 82.9l2-.5-11.1-2.7-2.1-.3z" fill="#54bae9"/><path d="M107.8 83.1l2 .6-21.5-11-2.1-.9z" fill="#49c4df"/><path class="tb" d="M133.7 79.7l.3.1.3 0 .3.1.4.1.3.1.3.1.3.1.4.1"/><path class="t1" d="M133.7 79.7l.3.1.3 0 .3.1.4.1.3.1.3.1.3.1.4.1"/><path class="tb" d="M86.5 71.9l.3.2.3.2.4.2.3.1.3.1.3.1.4.1.3.1"/><path class="t1" d="M86.5 71.9l.3.2.3.2.4.2.3.1.3.1.3.1.4.1.3.1"/><path d="M140.8 84.8l2.1-.6-11.1-3.8-2.1 0z" fill="#44aee9"/><path class="tb" d="M131 80.5l.4 0 .3 0 .3 0 .4 0 .3.1.3 0 .3 0 .4 0"/><path class="t0" d="M131 80.5l.4 0 .3 0 .3 0 .4 0 .3.1.3 0 .3 0 .4 0"/><path d="M171.8 86.7l2.1-.7-4.8-1.1-2.1.7z" fill="#4ba1f2"/><path d="M144.9 80.5l2.1.2-11.2-2.3-2-.5z" fill="#3cb9e1"/><path d="M173.8 86.2l2.2-2.8-4.8-1.1-2.1 2.8z" fill="#59b0ef"/><path d="M89.8 97.5l.8-2-21.5-12.3-.9 1.8z" fill="#8fb6fe"/><path d="M161.5 82l2 .9-6.9.2-2-.4z" fill="#57b6eb"/><path d="M157.4 85.9l2 .4-6.9-1.2-2-.6z" fill="#5badf1"/><path d="M176 83.6l.4-.7-4.9-1-.4.7z" fill="#44aee9"/><path class="tb" d="M152.1 84.9l.3.1.3.1.4.1.3.1.3.1.4.1.3.1.3.1"/><path class="t0" d="M152.1 84.9l.3.1.3.1.4.1.3.1.3.1.4.1.3.1.3.1"/><path d="M159.4 82.8l2.1 1.1-6.9.8-2.1-.6z" fill="#46aaeb"/><path class="tb" d="M154.7 84.6l.3 0 .4.1.3 0 .3.1.3 0 .4.1.3 0 .3 0"/><path class="t1" d="M154.7 84.6l.3 0 .4.1.3 0 .3.1.3 0 .4.1.3 0 .3 0"/><path d="M105.7 83l2.1 1.5-21.6-11.3-2-1.3z" fill="#33bedb"/><path d="M138.8 85.3l2.1-.6-11.2-4.4-2 .2z" fill="#56b7eb"/><path class="tb" d="M128.4 80.5l.4 0 .3 0 .3 0 .3 0 .4-.1.3 0 .3.1.3 0"/><path class="t0" d="M128.4 80.5l.4 0 .3 0 .3 0 .3 0 .4-.1.3 0 .3.1.3 0"/><path d="M140.8 83.4l2.1-.6-11.2-3.5-2-.2z" fill="#3fb5e5"/><path class="tb" d="M131 79.3l.4.1.3 0 .3.1.4 0 .3.1.3 0 .3.1.4 0"/><path class="t1" d="M131 79.3l.4.1.3 0 .3.1.4 0 .3.1.3 0 .3.1.4 0"/><path d="M169.8 86.2l2.1.4-4.9-1-2-.4z" fill="#5cadf2"/><path d="M89.7 99.4l.9-7-21.5-13.9-.9 8.4z" fill="#a7cbfc"/><path d="M169.5 81.3l2.1-8.9-6.6-1.9-2.2 8.8z" fill="#6ad6dd"/><path d="M142.9 81l2-.5-11.1-2.7-2.1-.3z" fill="#4bc2e1"/><path d="M107.8 81.2l2 .7-21.5-11.1-2.1-.9z" fill="#3dcad3"/><path d="M169.8 86.8l2.1-1.4-4.8-1.5-2.1 2.1z" fill="#5aaff0"/><path class="tb" d="M133.7 77.9l.3 0 .3.1.3.1.4 0 .3.1.3.1.3.1.4.2"/><path class="t2" d="M133.7 77.9l.3 0 .3.1.3.1.4 0 .3.1.3.1.3.1.4.2"/><path class="tb" d="M86.5 70.1l.3.2.3.2.4.1.3.2.3.1.3.1.4.1.3 0"/><path class="t2" d="M86.5 70.1l.3.2.3.2.4.1.3.2.3.1.3.1.4.1.3 0"/><path d="M90.6 95.6l.8-2.2-21.5-12.1-.9 2z" fill="#97c4fa"/><path d="M171.8 84.9l2.1-.8-4.8-1.1-2.1.8z" fill="#45acea"/><path d="M173.8 84.3l2.2-2.7-4.8-1.1-2.1 2.8z" fill="#55b9ea"/><path class="tb" d="M168.9 85.4l.3-.2.3-.3.4-.4.3-.4.3-.4.3-.4.4-.4.3-.4"/><path class="t1" d="M168.9 85.4l.3-.2.3-.3.4-.4.3-.4.3-.4.3-.4.4-.4.3-.4"/><path d="M167.8 87.3l2-.7-4.8-.8-2.1 1z" fill="#4ba2f1"/><path d="M136.7 85.8l2.1-.6-11.1-4.7-2.1.5z" fill="#43afe8"/><path class="tb" d="M166.3 85.5l.3.1.3 0 .3 0 .4.1.3-.1.3 0 .4-.1.3-.1"/><path class="t1" d="M166.3 85.5l.3.1.3 0 .3 0 .4.1.3-.1.3 0 .4-.1.3-.1"/><path d="M171.7 85.7l2.2-2.7-4.7-2.2-2.2 3.4z" fill="#44afe9"/><path d="M138.8 83.9l2.1-.6-11.2-4.2-2 0z" fill="#52bde7"/><path d="M105.7 81.4l2.1 1.7-21.6-11.3-2-1.6z" fill="#27c3d0"/><path class="tb" d="M128.4 79.2l.4 0 .3 0 .3 0 .3 0 .4 0 .3 0 .3.1.3 0"/><path class="t1" d="M128.4 79.2l.4 0 .3 0 .3 0 .3 0 .4 0 .3 0 .3.1.3 0"/><path d="M155.4 85.7l2 .2-6.9-1.4-2.1-.4z" fill="#46a9ec"/><path class="tb" d="M149.5 84.3l.3.1.3.1.4 0 .3.1.3 0 .3.1.4.1.3.1"/><path class="t0" d="M149.5 84.3l.3.1.3.1.4 0 .3.1.3 0 .3.1.4.1.3.1"/><path d="M176 81.8l.4-.7-4.9-1-.4.6z" fill="#3db8e2"/><path d="M159.4 80.9l2.1 1.1-6.9.8-2.1-.5z" fill="#40b4e5"/><path class="tb" d="M171.5 82.5l.3-.5"/><path class="t1" d="M171.5 82.5l.3-.5"/><path class="tb" d="M154.7 82.7l.3.1.4 0 .3.1.3 0 .3.1.4 0 .3 0 .3 0"/><path class="t2" d="M154.7 82.7l.3.1.4 0 .3.1.3 0 .3.1.4 0 .3 0 .3 0"/><path d="M157.4 82.1l2 .8-6.8 1.3-2.1-.5z" fill="#55b8ea"/><path class="tb" d="M152.1 83.9l.3.1.3.1.4.1.3 0 .3.1.4.1.3.1.3.1"/><path class="t1" d="M152.1 83.9l.3.1.3.1.4.1.3 0 .3.1.4.1.3.1.3.1"/><path d="M134.7 86.6l2.1-.9-11.2-4.8-2 .5z" fill="#56b7eb"/><path d="M140.8 81.5l2.1-.5-11.2-3.5-2-.2z" fill="#34bddb"/><path class="tb" d="M125.8 81.1l.3-.1.4-.1.3-.1.3 0 .3-.1.4-.1.3 0 .3-.1"/><path class="t0" d="M125.8 81.1l.3-.1.4-.1.3-.1.3 0 .3-.1.4-.1.3 0 .3-.1"/><path class="tb" d="M131 77.5l.4 0 .3.1.3 0 .4.1.3 0 .3.1.3 0 .4.1"/><path class="t2" d="M131 77.5l.4 0 .3.1.3 0 .4.1.3 0 .3.1.3 0 .4.1"/><path d="M169.8 84.4l2.1.4-4.9-1.1-2-.3z" fill="#57b6eb"/><path d="M167.8 85.7l2 .5-4.8-1-2.1-.5z" fill="#47a9ec"/><path d="M165.8 86.6l2 .6-4.9-.5-2 0z" fill="#5cadf1"/><path d="M89.7 97.6l.9-7.1-21.5-13.9-.9 8.5z" fill="#a6d1f8"/><path d="M136.7 84.4l2.1-.6-11.1-4.7-2.1.5z" fill="#3eb7e4"/><path d="M91.4 93.5l.8-2.9-21.5-11.6-.8 2.4z" fill="#88c6f4"/><path class="m" d="M96.3 75.2a2.3 2.3 0 1 0 .1 0M152.2 74.5a2.3 2.3 0 1 0 .1 0M152.9 72.5a2.3 2.3 0 1 0 .1 0M153.6 70a2.3 2.3 0 1 0 .1 0M154.2 67.3a2.3 2.3 0 1 0 .1 0" fill="#0072BD"/><path class="tb" d="M163.6 86.7l.4-.1.3-.1.3-.2.4-.2.3-.2.3-.2.3-.3.4-.2"/><path class="t0" d="M163.6 86.7l.4-.1.3-.1.3-.2.4-.2.3-.2.3-.2.3-.3.4-.2"/><path class="tb" d="M168.9 83.6l.3-.3.3-.3.4-.3.3-.4.3-.4.3-.4.4-.4.3-.5"/><path class="t2" d="M168.9 83.6l.3-.3.3-.3.4-.3.3-.4.3-.4.3-.4.4-.4.3-.5"/><path d="M132.6 87.4l2.1-.9-11.1-5.1-2.1.5z" fill="#44aee9"/><path class="tb" d="M123.2 81.7l.3-.1.3-.1.4-.1.3 0 .3-.1.4-.1.3-.1.3 0"/><path class="t0" d="M123.2 81.7l.3-.1.3-.1.4-.1.3 0 .3-.1.4-.1.3-.1.3 0"/><path d="M103.7 81.4l2 1.6-21.5-11.1-2.1-1.7z" fill="#3dcbd1"/><path class="tb" d="M83.9 71.6l.3.2.3.3.3.2.4.2.3.3.3.2.4.2.3.2"/><path class="t0" d="M83.9 71.6l.3.2.3.3.3.2.4.2.3.3.3.2.4.2.3.2"/><path class="tb" d="M166.3 85.2l.3-.3.3-.3.3-.4.4-.3.3-.4.3-.3.4-.4.3-.6"/><path class="t0" d="M166.3 85.2l.3-.3.3-.3.3-.4.4-.3.3-.4.3-.3.4-.4.3-.6"/><path class="tb" d="M166.3 83.7l.3 0 .3.1.3 0 .4 0 .3 0 .3 0 .4-.1.3-.1"/><path class="t2" d="M166.3 83.7l.3 0 .3.1.3 0 .4 0 .3 0 .3 0 .4-.1.3-.1"/><path d="M138.8 82l2.1-.5-11.2-4.3-2 .1z" fill="#45c5dd"/><path d="M153.3 85.5l2.1.2-6.9-1.6-2.1-.5z" fill="#57b6eb"/><path d="M105.7 79.5l2.1 1.7-21.6-11.2-2-1.6z" fill="#3ac9c1"/><path class="tb" d="M128.4 77.3l.4 0 .3 0 .3 0 .3 0 .4.1.3 0 .3 0 .3.1"/><path class="t2" d="M128.4 77.3l.4 0 .3 0 .3 0 .3 0 .4.1.3 0 .3 0 .3.1"/><path d="M134.7 85.2l2.1-.9-11.2-4.8-2 .5z" fill="#51bee7"/><path class="tb" d="M125.8 79.7l.3-.1.4-.1.3 0 .3-.1.3-.1.4 0 .3-.1.3 0"/><path class="t1" d="M125.8 79.7l.3-.1.4-.1.3 0 .3-.1.3-.1.4 0 .3-.1.3 0"/><path class="tb" d="M163.6 84.8l.4.1.3.1.3.1.4.1.3.1.3.1.3 0 .4.1"/><path class="t1" d="M163.6 84.8l.4.1.3.1.3.1.4.1.3.1.3.1.3 0 .4.1"/><path class="tb" d="M171.5 80.6l.3-.4"/><path class="t2" d="M171.5 80.6l.3-.4"/><path d="M130.6 88.2l2.1-.8-11.1-5.6-2.1.6z" fill="#57b5ec"/><path class="tb" d="M120.6 82.3l.3-.1.3-.1.4 0 .3-.1.3-.1.3-.1.4 0 .3-.1"/><path class="t0" d="M120.6 82.3l.3-.1.3-.1.4 0 .3-.1.3-.1.3-.1.4 0 .3-.1"/><path d="M157.4 80.2l2 .8-6.8 1.4-2.1-.6z" fill="#4ec1e3"/><path class="tb" d="M152.1 82.1l.3.1.3 0 .4.1.3.1.3.1.4.1.3 0 .3.1"/><path class="t2" d="M152.1 82.1l.3.1.3 0 .4.1.3.1.3.1.4.1.3 0 .3.1"/><path class="tb" d="M146.9 83.7l.3.1.3.1.3 0 .4.1.3.1.3.1.4 0 .3.1"/><path class="t0" d="M146.9 83.7l.3.1.3.1.3 0 .4.1.3.1.3.1.4 0 .3.1"/><path class="m" d="M68.5 82.8a2.3 2.3 0 1 0 .1 0M69.4 80.7a2.3 2.3 0 1 0 .1 0M70.1 79.2a2.3 2.3 0 1 0 .1 0M70.7 77.4a2.3 2.3 0 1 0 .1 0M71.4 75.3a2.3 2.3 0 1 0 .1 0" fill="#0072BD"/><path d="M155.3 81.6l2.1.6-6.9 1.6-2.1-.7z" fill="#3fb6e4"/><path class="tb" d="M168.9 82.2l.3-.7"/><path class="t0" d="M168.9 82.2l.3-.7"/><path class="tb" d="M149.5 83.3l.3.1.3.1.4.1.3 0 .3.1.3.1.4.1.3 0"/><path class="t1" d="M149.5 83.3l.3.1.3.1.4.1.3 0 .3.1.3.1.4.1.3 0"/><path d="M167.8 83.8l2 .6-4.8-1-2.1-.6z" fill="#41b3e6"/><path d="M132.6 86l2.1-.9-11.1-5.1-2.1.5z" fill="#3fb5e5"/><path class="tb" d="M123.2 80.3l.3-.1.3-.1.4 0 .3-.1.3-.1.4-.1.3 0 .3-.1"/><path class="t1" d="M123.2 80.3l.3-.1.3-.1.4 0 .3-.1.3-.1.4-.1.3 0 .3-.1"/><path d="M128.5 89.1l2.1-.9-11.1-5.9-2.1.9z" fill="#45acea"/><path d="M163.7 85.2l2.1 1.5-4.9.1-2.1-.5z" fill="#46aaec"/><path d="M136.7 82.6l2.1-.6-11.1-4.8-2.1.5z" fill="#2fbfd9"/><path d="M165.8 84.8l2 .9-4.9-1-2-.9z" fill="#56b7eb"/><path class="tb" d="M118 83.2l.3-.1.3-.2.3-.1.4-.1.3-.1.3-.1.4-.1.3-.1"/><path class="t0" d="M118 83.2l.3-.1.3-.2.3-.1.4-.1.3-.1.3-.1.4-.1.3-.1"/><path class="tb" d="M161 86.7l.4 0 .3.1.3 0 .3 0 .4 0 .3 0 .3-.1.3 0"/><path class="t0" d="M161 86.7l.4 0 .3.1.3 0 .3 0 .4 0 .3 0 .3-.1.3 0"/><path d="M92.2 90.6l.9-3.1-21.6-11.2-.8 2.8z" fill="#8fd4f0"/><path d="M103.7 79.3l2 2.1-21.5-11.2-2.1-2z" fill="#53cfc4"/><path class="tb" d="M83.9 69.8l.3.3.3.3.3.3.4.3.3.2.3.3.4.2.3.2"/><path class="t1" d="M83.9 69.8l.3.3.3.3.3.3.4.3.3.2.3.3.4.2.3.2"/><path d="M151.2 85.6l2.1-.1-6.9-1.9-2 0z" fill="#42b1e8"/><path d="M126.5 89.9l2.1-.9-11.1-5.9-2.1 1z" fill="#59b2ed"/><path d="M130.6 86.9l2.1-.9-11.1-5.6-2.1.6z" fill="#53bce8"/><path class="tb" d="M120.6 80.9l.3-.1.3-.1.4 0 .3-.1.3-.1.3-.1.4 0 .3-.1"/><path class="t1" d="M120.6 80.9l.3-.1.3-.1.4 0 .3-.1.3-.1.3-.1.4 0 .3-.1"/><path d="M102.9 80.5l.8.9-21.6-11.2-.8-.8z" fill="#3dc9c0"/><path d="M171.7 72.8l.4-2.8-6.8-2-.5 2.8z" fill="#abe8cf"/><path d="M134.7 83.3l2.1-.8-11.2-4.8-2 .5z" fill="#45c5dd"/><path class="tb" d="M125.8 77.8l.3 0 .4-.1.3-.1.3-.1.3 0 .4-.1.3 0 .3-.1"/><path class="t2" d="M125.8 77.8l.3 0 .4-.1.3-.1.3-.1.3 0 .4-.1.3 0 .3-.1"/><path class="tb" d="M163.6 83l.4.1.3.1.3 0 .4.1.3.1.3.1.3.1.4.1"/><path class="t2" d="M163.6 83l.4.1.3.1.3 0 .4.1.3.1.3.1.3.1.4.1"/><path class="m" d="M68.5 84.7a2.3 2.3 0 1 0 .1 0M68.8 81.4a2.3 2.3 0 1 0 .1 0M69.1 78.1a2.3 2.3 0 1 0 .1 0M69.4 74.8a2.3 2.3 0 1 0 .1 0M69.8 71.7a2.3 2.3 0 1 0 .1 0" fill="#D95319"/><path d="M173.7 83.3l2.2-9.1-4.6-1.9-2.1 8.9z" fill="#6bd7db"/><path class="tb" d="M173.1 86.3l.4-.2.3-.3.3-.4.4-.4.3-.4.3-.4.3-.4.4-.4"/><path class="t1" d="M173.1 86.3l.4-.2.3-.3.3-.4.4-.4.3-.4.3-.4.3-.4.4-.4"/><path d="M124.5 90.4l2-.6-11.1-5.8-2 .7z" fill="#47a8ed"/><path d="M128.5 87.7l2.1-.9-11.1-5.9-2.1.9z" fill="#41b3e6"/><path class="tb" d="M115.3 84.3l.4-.1.3-.1.3-.2.4-.1.3-.1.3-.2.3-.1.4-.2"/><path class="t0" d="M115.3 84.3l.4-.1.3-.1.3-.2.4-.1.3-.1.3-.2.3-.1.4-.2"/><path class="tb" d="M118 81.8l.3-.1.3-.1.3-.2.4-.1.3-.1.3-.1.4-.1.3-.1"/><path class="t1" d="M118 81.8l.3-.1.3-.1.3-.2.4-.1.3-.1.3-.1.4-.1.3-.1"/><path d="M155.3 79.7l2.1.6-6.9 1.6-2.1-.7z" fill="#31beda"/><path class="tb" d="M149.5 81.5l.3.1.3 0 .4.1.3.1.3.1.3 0 .4.1.3.1"/><path class="t2" d="M149.5 81.5l.3.1.3 0 .4.1.3.1.3.1.3 0 .4.1.3.1"/><path d="M153.3 81.2l2.1.5-6.9 1.5-2.1-.7z" fill="#4dc1e2"/><path class="tb" d="M170.5 86.4l.4.1.3 0 .3 0 .3.1.4-.1.3 0 .3-.1.3-.1"/><path class="t1" d="M170.5 86.4l.4.1.3 0 .3 0 .3.1.4-.1.3 0 .3-.1.3-.1"/><path class="tb" d="M146.9 82.5l.3.1.3.1.3.1.4.1.3.1.3.1.4.1.3.1"/><path class="t1" d="M146.9 82.5l.3.1.3.1.3.1.4.1.3.1.3.1.4.1.3.1"/><path d="M132.6 84.2l2.1-.9-11.1-5.2-2.1.6z" fill="#32beda"/><path d="M149.2 86.2l2.1-.7-6.9-1.9-2.1.5z" fill="#55bae9"/><path class="tb" d="M123.2 78.4l.3 0 .3-.1.4-.1.3-.1.3 0 .4-.1.3-.1.3-.1"/><path class="t2" d="M123.2 78.4l.3 0 .3-.1.4-.1.3-.1.3 0 .4-.1.3-.1.3-.1"/><path class="tb" d="M144.2 83.8l.4-.1.3 0 .3-.1.4 0 .3 0 .3.1.3 0 .4 0"/><path class="t0" d="M144.2 83.8l.4-.1.3 0 .3-.1.4 0 .3 0 .3.1.3 0 .4 0"/><path d="M165.8 83l2 .9-4.9-1-2-.9z" fill="#4fc0e4"/><path d="M126.5 88.5l2.1-.9-11.1-5.8-2.1.9z" fill="#55b9ea"/><path class="m" d="M164.8 69.9a2.3 2.3 0 1 0 .1 0M165.1 68a2.3 2.3 0 1 0 .1 0M165.4 65.9a2.3 2.3 0 1 0 .1 0" fill="#0072BD"/><path class="tb" d="M175.8 83.4l.3-.5"/><path class="t1" d="M175.8 83.4l.3-.5"/><path d="M161.6 84.3l2.1 1.1-4.8 1-2.1-.5z" fill="#56b8ea"/><path d="M102 79.7l.9.8-21.6-11.1-.8-.8z" fill="#5bd1be"/><path class="tb" d="M158.4 86.1l.3.1.4 0 .3.1.3.1.3.1.4 0 .3.1.3.1"/><path class="t0" d="M158.4 86.1l.3.1.4 0 .3.1.3.1.3.1.4 0 .3.1.3.1"/><path d="M103.7 77.5l2 2.1-21.5-11.2-2.1-2z" fill="#62d3b6"/><path class="tb" d="M81.3 69.2l.3.4.3.3.3.3.4.3.3.3.3.3.3.2.4.3"/><path class="t0" d="M81.3 69.2l.3.4.3.3.3.3.4.3.3.3.3.3.3.2.4.3"/><path class="tb" d="M83.9 68l.3.3.3.3.3.3.4.2.3.3.3.2.4.3.3.2"/><path class="t2" d="M83.9 68l.3.3.3.3.3.3.4.2.3.3.3.2.4.3.3.2"/><path d="M122.4 90.6l2.1-.2-11.1-5.7-2.1.2z" fill="#59b1ee"/><path d="M163.7 83.8l2 1.1-4.8-1-2-1.1z" fill="#3eb6e4"/><path class="tb" d="M112.7 85l.4-.1.3 0 .3-.1.3-.1.4-.1.3 0 .3-.2.3-.1"/><path class="t0" d="M112.7 85l.4-.1.3 0 .3-.1.3-.1.4-.1.3 0 .3-.2.3-.1"/><path class="tb" d="M161 83.8l.4.2.3.1.3.2.3.1.4.1.3.1.3.1.3.1"/><path class="t1" d="M161 83.8l.4.2.3.1.3.2.3.1.4.1.3.1.3.1.3.1"/><path d="M130.6 85l2.1-.9-11.1-5.5-2.1.6z" fill="#49c4df"/><path class="tb" d="M120.6 79.1l.3-.1.3-.1.4-.1.3-.1.3 0 .3-.1.4-.1.3-.1"/><path class="t2" d="M120.6 79.1l.3-.1.3-.1.4-.1.3-.1.3 0 .3-.1.4-.1.3-.1"/><path d="M147.1 87l2.1-.9-6.8-2.1-2.1.6z" fill="#42b1e7"/><path d="M124.5 89.1l2-.7-11.1-5.8-2 .7z" fill="#43b0e8"/><path class="tb" d="M115.3 82.9l.4-.1.3-.1.3-.1.4-.2.3-.1.3-.2.3-.1.4-.2"/><path class="t1" d="M115.3 82.9l.4-.1.3-.1.3-.1.4-.2.3-.1.3-.2.3-.1.4-.2"/><path d="M93 87.5l.9-3.3-21.6-11-.8 3.2z" fill="#75d7e3"/><path d="M90.5 92.5l.9-6.5-21.5-14.9-.9 7.5z" fill="#a5e2f0"/><path class="tb" d="M170.5 86.1l.4-.2.3-.2.3-.2.3-.2.4-.2.3-.3.3-.2.3-.4"/><path class="t0" d="M170.5 86.1l.4-.2.3-.2.3-.2.3-.2.4-.2.3-.3.3-.2.3-.4"/><path d="M102.9 78.2l.8 1.1-21.6-11.1-.8-1.1z" fill="#51cfad"/><path class="m" d="M68.5 82.8a2.3 2.3 0 1 0 .1 0M68.8 79.6a2.3 2.3 0 1 0 .1 0M69.1 76.2a2.3 2.3 0 1 0 .1 0M69.4 72.9a2.3 2.3 0 1 0 .1 0M69.8 69.8a2.3 2.3 0 1 0 .1 0" fill="#EDB120"/><path class="tb" d="M173.1 84.5l.4-.3.3-.3.3-.3.4-.4.3-.4.3-.4.3-.4.4-.5"/><path class="t2" d="M173.1 84.5l.4-.3.3-.3.3-.3.4-.4.3-.4.3-.4.3-.4.4-.5"/><path class="tb" d="M141.6 84.4l.4-.1.3-.1.3 0 .3-.1.4-.1.3-.1.3 0 .3-.1"/><path class="t0" d="M141.6 84.4l.4-.1.3-.1.3 0 .3-.1.4-.1.3-.1.3 0 .3-.1"/><path d="M128.5 85.9l2.1-1-11.1-5.8-2.1.9z" fill="#37bcdd"/><path class="tb" d="M173.1 84.2l.4-.7"/><path class="t0" d="M173.1 84.2l.4-.7"/><path class="tb" d="M167.9 87.1l.3-.1.4-.1.3-.1.3-.1.3-.1.4-.2.3-.1.3-.2"/><path class="t0" d="M167.9 87.1l.3-.1.4-.1.3-.1.3-.1.3-.1.4-.2.3-.1.3-.2"/><path class="tb" d="M118 80l.3-.2.3-.1.3-.1.4-.1.3-.2.3-.1.4-.1.3 0"/><path class="t2" d="M118 80l.3-.2.3-.1.3-.1.4-.1.3-.2.3-.1.4-.1.3 0"/><path d="M151.3 81.3l2 0-6.9 1.2-2-.1z" fill="#32bedb"/><path d="M100.3 110.5l.8-2.5-10.9-12.8-.9 2z" fill="#9a9ef7"/><path d="M153.3 79.3l2.1.5-6.9 1.5-2.1-.7z" fill="#3ec8d7"/><path d="M145.1 87.8l2.1-1-6.9-2.3-2.1.5z" fill="#55b8ea"/><path class="tb" d="M170.5 84.6l.4 0 .3.1.3 0 .3 0 .4 0 .3 0 .3-.1.3-.1"/><path class="t2" d="M170.5 84.6l.4 0 .3.1.3 0 .3 0 .4 0 .3 0 .3-.1.3-.1"/><path class="tb" d="M146.9 80.6l.3.1.3.1.3.1.4.1.3.1.3.1.4.2.3.1"/><path class="t2" d="M146.9 80.6l.3.1.3.1.3.1.4.1.3.1.3.1.4.2.3.1"/><path d="M101.2 78.9l.8.8-21.5-11.1-.8-.8z" fill="#50ceaf"/><path d="M120.4 90.6l2 0-11.1-5.7-2 0z" fill="#46abeb"/><path d="M122.4 89.2l2.1-.2-11.1-5.7-2.1.2z" fill="#56b8ea"/><path class="tb" d="M110.1 85l.3 0 .4 0 .3 0 .3 0 .4 0 .3 0 .3 0 .3 0"/><path class="t0" d="M110.1 85l.3 0 .4 0 .3 0 .3 0 .4 0 .3 0 .3 0 .3 0"/><path d="M126.5 86.7l2.1-.9-11.1-5.9-2.1 1z" fill="#4dc1e3"/><path class="tb" d="M112.7 83.6l.4-.1.3 0 .3-.1.3-.1.4 0 .3-.1.3-.1.3-.2"/><path class="t1" d="M112.7 83.6l.4-.1.3 0 .3-.1.3-.1.4 0 .3-.1.3-.1.3-.2"/><path class="tb" d="M167.9 85.7l.3.1.4.1.3.1.3.1.3.1.4.1.3 0 .3.1"/><path class="t1" d="M167.9 85.7l.3.1.4.1.3.1.3.1.3.1.4.1.3 0 .3.1"/><path class="tb" d="M175.8 81.5l.3-.4"/><path class="t2" d="M175.8 81.5l.3-.4"/><path d="M159.5 83.8l2.2.6-4.8 1.7-2.1-.4z" fill="#3fb5e5"/><path d="M143 88.8l2.1-1.1-6.8-2.8-2.1.7z" fill="#43afe8"/><path class="tb" d="M155.8 85.7l.3.1.4 0 .3.1.3 0 .3 0 .4.1.3 0 .3.1"/><path class="t0" d="M155.8 85.7l.3.1.4 0 .3.1.3 0 .3 0 .4.1.3 0 .3.1"/><path d="M163.7 82l2 1-4.8-.9-2-1.1z" fill="#30bfd9"/><path class="tb" d="M161 82l.4.1.3.2.3.1.3.2.4.1.3.1.3.1.3.1"/><path class="t2" d="M161 82l.4.1.3.2.3.1.3.2.4.1.3.1.3.1.3.1"/><path d="M100.2 110.5l1-5.5-11-13-1 7.1z" fill="#a7aefb"/><path class="tb" d="M139 85l.3-.1.4-.1.3 0 .3-.1.3-.1.4-.1.3 0 .3-.1"/><path class="t0" d="M139 85l.3-.1.4-.1.3 0 .3-.1.3-.1.4-.1.3 0 .3-.1"/><path d="M149.2 81.8l2.1-.5-6.9 1.1-2.1.4z" fill="#44c5dd"/><path d="M124.5 87.2l2-.6-11.1-5.8-2 .7z" fill="#3bb9e1"/><path class="tb" d="M144.2 82.4l.4-.1.3 0 .3 0 .4 0 .3 0 .3.1.3 0 .4.1"/><path class="t1" d="M144.2 82.4l.4-.1.3 0 .3 0 .4 0 .3 0 .3.1.3 0 .4.1"/><path class="tb" d="M115.3 81.1l.4-.1.3-.2.3-.1.4-.1.3-.2.3-.1.3-.2.4-.1"/><path class="t2" d="M115.3 81.1l.4-.1.3-.2.3-.1.4-.1.3-.2.3-.1.3-.2.4-.1"/><path d="M161.7 83.1l2 .8-4.9-1-2-.8z" fill="#4ac3e0"/><path d="M90.5 90.6l.9-6.5-21.5-14.8-.9 7.5z" fill="#9fe5ea"/><path d="M102 77l.9 1.2-21.6-11-.8-1.2z" fill="#6cd6a9"/><path d="M141 90l2.1-1.3-6.8-3.3-2.2.9z" fill="#57b5ec"/><path class="tb" d="M81.3 66.8l.3.5.3.4.3.4.4.4.3.4.3.3.3.3.4.3"/><path class="t1" d="M81.3 66.8l.3.5.3.4.3.4.4.4.3.4.3.3.3.3.4.3"/><path class="tb" d="M165.3 86.6l.3.1.3.2.4.1.3.1.3.1.4 0 .3 0 .3-.1"/><path class="t0" d="M165.3 86.6l.3.1.3.2.4.1.3.1.3.1.4 0 .3 0 .3-.1"/><path d="M100.4 78.4l.8.6-21.5-11.2-.8-.5z" fill="#66d5af"/><path d="M102.9 76.4l.8 1.1-21.6-11.1-.8-1.1z" fill="#62d39a"/><path class="tb" d="M158.4 82.6l.3.1.4.2.3.1.3.2.3.1.4.2.3.2.3.1"/><path class="t1" d="M158.4 82.6l.3.1.4.2.3.1.3.2.3.1.4.2.3.2.3.1"/><path d="M101.1 108.1l.9-2.7-11-12.4-.9 2.2z" fill="#a4affd"/><path d="M120.4 89.2l2 0-11.1-5.7-2 0z" fill="#41b2e7"/><path d="M151.3 79.4l2 0-6.9 1.3-2-.2z" fill="#28c4cd"/><path class="tb" d="M110.1 83.6l.3 0 .4 0 .3.1.3-.1.4 0 .3 0 .3 0 .3 0"/><path class="t1" d="M110.1 83.6l.3 0 .4 0 .3.1.3-.1.4 0 .3 0 .3 0 .3 0"/><path d="M93.9 84.3l.8-2.8-21.5-11.1-.9 2.8z" fill="#5bd1c8"/><path d="M138.9 91.1l2.1-1.3-6.8-3.6-2.1 1z" fill="#46aaeb"/><path d="M147.2 82.6l2-.8-6.9 1-2 .5z" fill="#30bfd9"/><path d="M118.3 90.4l2.1.1-11.1-5.7-2.1-.6z" fill="#57b7eb"/><path class="tb" d="M141.6 83l.4-.1.3-.1.3 0 .3-.1.4-.1.3-.1.3 0 .3-.1"/><path class="t1" d="M141.6 83l.4-.1.3-.1.3 0 .3-.1.4-.1.3-.1.3 0 .3-.1"/><path class="tb" d="M107.5 84.4l.3.2.4.1.3.1.3.1.3 0 .4.1.3 0 .3 0"/><path class="t0" d="M107.5 84.4l.3.2.4.1.3.1.3.1.3 0 .4.1.3 0 .3 0"/><path d="M100.2 110.5l1-6.5-11-13.8-.9 7z" fill="#a9b5fd"/><path d="M122.4 87.4l2.1-.2-11.1-5.8-2.1.3z" fill="#4ec1e4"/><path class="tb" d="M136.4 85.7l.3-.1.4-.1.3-.1.3-.1.3-.1.4-.1.3 0 .3-.1"/><path class="t0" d="M136.4 85.7l.3-.1.4-.1.3-.1.3-.1.3-.1.4-.1.3 0 .3-.1"/><path class="tb" d="M112.7 81.7l.4 0 .3-.1.3 0 .3-.1.4-.1.3-.1.3-.1.3-.1"/><path class="t2" d="M112.7 81.7l.4 0 .3-.1.3 0 .3-.1.4-.1.3-.1.3-.1.3-.1"/><path class="tb" d="M167.9 83.9l.3.1.4.1.3 0 .3.1.3.1.4.1.3.1.3.1"/><path class="t2" d="M167.9 83.9l.3.1.4.1.3 0 .3.1.3.1.4.1.3.1.3.1"/><path d="M136.9 91.9l2.1-.9-6.8-4-2.1 1z" fill="#59b1ee"/><path d="M99.6 77.9l.8.5-21.5-11.1-.9-.5z" fill="#5cd29f"/><path d="M157.5 83.4l2.1.5-4.8 1.9-2.1-.3z" fill="#4fc0e4"/><path d="M175.9 74.6l.5-2.8-4.8-2-.5 2.8z" fill="#ace8cb"/><path class="tb" d="M78.6 67.1l.4.2.3.2.3.2.3.3.4.3.3.3.3.3.4.3"/><path class="t0" d="M78.6 67.1l.4.2.3.2.3.2.3.3.4.3.3.3.3.3.4.3"/><path d="M106.6 114.1l.9-2.1-6.8-4.4-.9 2.5z" fill="#978cdc"/><path class="m" d="M169.2 79.2a2.3 2.3 0 1 0 .1 0M169.8 77.1a2.3 2.3 0 1 0 .1 0M170.5 74.5a2.3 2.3 0 1 0 .1 0M171.1 71.7a2.3 2.3 0 1 0 .1 0M171.4 69.8a2.3 2.3 0 1 0 .1 0" fill="#0072BD"/><path d="M145.1 83.5l2.1-.9-6.9.6-2.1.6z" fill="#47c4de"/><path class="tb" d="M153.2 85.4l.3 0 .3.1.4 0 .3.1.3 0 .3 0 .4.1.3 0"/><path class="t0" d="M153.2 85.4l.3 0 .3.1.4 0 .3.1.3 0 .3 0 .4.1.3 0"/><path class="tb" d="M139 83.6l.3-.1.4 0 .3-.1.3-.1.3-.1.4 0 .3-.1.3-.1"/><path class="t1" d="M139 83.6l.3-.1.4 0 .3-.1.3-.1.3-.1.4 0 .3-.1.3-.1"/><path d="M149.2 80l2.1-.6-6.9 1.1-2.1.5z" fill="#3fcbd0"/><path class="tb" d="M144.2 80.5l.4 0 .3-.1.3 0 .4 0 .3.1.3 0 .3.1.4 0"/><path class="t2" d="M144.2 80.5l.4 0 .3-.1.3 0 .4 0 .3.1.3 0 .3.1.4 0"/><path d="M134.8 92.5l2.2-.8-6.9-3.9-2.1 1z" fill="#47a7ee"/><path d="M101.2 75.8l.8 1.2-21.5-11-.8-1.2z" fill="#6ed490"/><path class="tb" d="M165.3 84.7l.3.2.3.1.4.2.3.1.3.1.4.1.3.1.3.1"/><path class="t1" d="M165.3 84.7l.3.2.3.1.4.2.3.1.3.1.4.1.3.1.3.1"/><path d="M161.7 81.3l2 .7-4.9-1-2-.7z" fill="#3dc9d4"/><path d="M102 75.2l.9 1.2-21.6-11.1-.8-1.2z" fill="#83d896"/><path class="tb" d="M133.8 86.7l.3-.2.3-.1.4-.1.3-.2.3-.1.3-.1.4-.1.3-.1"/><path class="t0" d="M133.8 86.7l.3-.2.3-.1.4-.1.3-.2.3-.1.3-.1.4-.1.3-.1"/><path class="tb" d="M81.3 65l.3.4.3.5.3.4.4.4.3.4.3.3.3.3.4.3"/><path class="t2" d="M81.3 65l.3.4.3.5.3.4.4.4.3.4.3.3.3.3.4.3"/><path class="tb" d="M158.4 80.8l.3.1.4.1.3.2.3.1.3.2.4.1.3.2.3.2"/><path class="t2" d="M158.4 80.8l.3.1.4.1.3.2.3.1.3.2.4.1.3.2.3.2"/><path d="M159.6 82.7l2.1.5-4.9-1.1-2-.5z" fill="#2bc1d5"/><path d="M118.3 88.9l2.1.3-11.1-5.8-2.1-.6z" fill="#51bee7"/><path class="tb" d="M107.5 82.9l.3.2.4.2.3.1.3.1.3.1.4 0 .3 0 .3 0"/><path class="t1" d="M107.5 82.9l.3.2.4.2.3.1.3.1.3.1.4 0 .3 0 .3 0"/><path d="M143.1 84.6l2-1.2-6.9.3-2 .6z" fill="#35bddc"/><path d="M98.8 77.5l.8.4-21.6-11.1-.8-.4z" fill="#73d7a3"/><path d="M94.7 81.6l.8-2-21.5-11.1-.9 2z" fill="#51cfac"/><path d="M120.4 87.3l2 .1-11.1-5.8-2 0z" fill="#38bbde"/><path class="tb" d="M110.1 81.8l.3 0 .4 0 .3 0 .3 0 .4 0 .3 0 .3 0 .3-.1"/><path class="t2" d="M110.1 81.8l.3 0 .4 0 .3 0 .3 0 .4 0 .3 0 .3 0 .3-.1"/><path d="M132.8 93.1l2.1-.7-6.8-3.7-2.1.9z" fill="#5baef0"/><path d="M106.6 114.1l.9-3.6-6.7-5.9-1 5.6z" fill="#9890e5"/><path d="M147.2 80.8l2-.8-6.9.9-2 .5z" fill="#28c5cc"/><path d="M101.9 105.5l.9-3.9-11-11.4-.9 2.9z" fill="#93b2ff"/><path class="tb" d="M141.6 81.2l.4-.1.3-.1.3-.1.3-.1.4 0 .3-.1.3-.1.3-.1"/><path class="t2" d="M141.6 81.2l.4-.1.3-.1.3-.1.3-.1.4 0 .3-.1.3-.1.3-.1"/><path d="M141 86.3l2.1-1.8-6.9-.3-2.1.8z" fill="#4dc1e2"/><path class="tb" d="M131.2 87.7l.3-.1.3-.1.3-.1.4-.2.3-.1.3-.1.4-.2.3-.1"/><path class="t0" d="M131.2 87.7l.3-.1.3-.1.3-.1.4-.2.3-.1.3-.1.4-.2.3-.1"/><path class="tb" d="M136.4 84.3l.3-.1.4-.1.3-.1.3-.1.3-.1.4 0 .3-.1.3-.1"/><path class="t1" d="M136.4 84.3l.3-.1.4-.1.3-.1.3-.1.3-.1.4 0 .3-.1.3-.1"/><path d="M155.5 83.4l2.1.1-4.8 2.1-2.1 0z" fill="#36bcdd"/><path d="M116.3 89.8l2 .6-11.1-6.2-2-1.5z" fill="#3fb5e5"/><path d="M139 87.9l2.1-1.8-6.9-1.2-2.1.9z" fill="#3db7e3"/><path class="m" d="M72 73a2.3 2.3 0 1 0 .1 0M72.7 70.4a2.3 2.3 0 1 0 .1 0M73.4 68.3a2.3 2.3 0 1 0 .1 0M74 66.8a2.3 2.3 0 1 0 .1 0M75 64.8a2.3 2.3 0 1 0 .1 0" fill="#0072BD"/><path class="tb" d="M155.8 81.9l.3.1.4 0 .3.1.3.1.3.1.4.1.3.1.3.1"/><path class="t1" d="M155.8 81.9l.3.1.4 0 .3.1.3.1.3.1.4.1.3.1.3.1"/><path d="M106.6 114.1l.9-4.7-6.7-5.9-1 6.8z" fill="#a8a2ec"/><path d="M107.4 112.1l.9-2.2-6.8-4.9-.9 2.8z" fill="#a39eee"/><path d="M98 77.3l.8.2-21.6-11.1-.8-.2z" fill="#6bd392"/><path class="tb" d="M162.7 85l.3.2.3.2.4.2.3.2.3.2.3.2.4.2.3.2"/><path class="t0" d="M162.7 85l.3.2.3.2.4.2.3.2.3.2.3.2.4.2.3.2"/><path d="M136.9 89.3l2.1-1.5-6.9-2.1-2 .9z" fill="#53bbe8"/><path d="M130.8 93.7l2.1-.7-6.9-3.5-2.1.7z" fill="#49a4ef"/><path class="tb" d="M133.8 85.3l.3-.1.3-.2.4-.1.3-.1.3-.2.3-.1.4-.1.3-.1"/><path class="t1" d="M133.8 85.3l.3-.1.3-.2.4-.1.3-.1.3-.2.3-.1.4-.1.3-.1"/><path d="M145.1 81.7l2.1-1-6.9.7-2.1.5z" fill="#3dcad2"/><path d="M95.5 79.7l.8-1.6-21.5-11.2-.9 1.7z" fill="#6fd7a6"/><path class="tb" d="M139 81.8l.3-.1.4-.1.3-.1.3 0 .3-.1.4-.1.3-.1.3 0"/><path class="t2" d="M139 81.8l.3-.1.4-.1.3-.1.3 0 .3-.1.4-.1.3-.1.3 0"/><path class="tb" d="M128.5 88.8l.4-.1.3-.2.3-.1.4-.1.3-.2.3-.1.3-.1.4-.2"/><path class="t0" d="M128.5 88.8l.4-.1.3-.2.3-.1.4-.1.3-.2.3-.1.3-.1.4-.2"/><path d="M100.4 74.7l.8 1.1-21.5-11-.8-1.2z" fill="#8fd88b"/><path d="M134.8 90.4l2.2-1.3-6.9-2.6-2.1 1z" fill="#42b1e8"/><path d="M101.2 74l.8 1.2-21.5-11.1-.8-1.2z" fill="#8bd478"/><path class="tb" d="M165.3 82.9l.3.1.3.2.4.1.3.2.3.1.4.1.3.1.3.1"/><path class="t2" d="M165.3 82.9l.3.1.3.2.4.1.3.2.3.1.4.1.3.1.3.1"/><path d="M91.4 86.1l.8-5.6-21.5-15-.8 5.7z" fill="#a3e6d4"/><path d="M97.1 77.3l.9 0-21.6-11.1-.8 0z" fill="#7ed89a"/><path d="M159.6 80.8l2.1.5-4.9-1-2-.5z" fill="#2fc7c7"/><path class="tb" d="M76 66.3l.3 0 .4 0 .3.1.3.1.4.1.3.2.3.2.3.1"/><path class="t0" d="M76 66.3l.3 0 .4 0 .3.1.3.1.4.1.3.2.3.2.3.1"/><path d="M157.6 82.3l2 .4-4.8-1.1-2.1-.4z" fill="#3dcad3"/><path d="M153.5 84l2-.5-4.8 2.1-2.1.5z" fill="#49c3e0"/><path d="M118.3 87l2.1.3-11.1-5.7-2.1-.6z" fill="#45c5dd"/><path class="tb" d="M150.6 85.6l.3-.1.3-.1.3 0 .4 0 .3 0 .3 0 .4 0 .3 0"/><path class="t0" d="M150.6 85.6l.3-.1.3-.1.3 0 .4 0 .3 0 .3 0 .4 0 .3 0"/><path d="M96.3 78.1l.8-.8-21.5-11.1-.8.8z" fill="#6cd491"/><path class="tb" d="M107.5 81.1l.3.2.4.1.3.2.3.1.3 0 .4 0 .3.1.3 0"/><path class="t2" d="M107.5 81.1l.3.2.4.1.3.2.3.1.3 0 .4 0 .3.1.3 0"/><path d="M143.1 82.8l2-1.2-6.9.2-2 .6z" fill="#27c4cf"/><path d="M132.8 91.5l2.1-1.2-6.8-3-2.1.9z" fill="#57b6eb"/><path class="tb" d="M131.2 86.4l.3-.2.3-.1.3-.1.4-.2.3-.1.3-.1.4-.2.3-.1"/><path class="t1" d="M131.2 86.4l.3-.2.3-.1.3-.1.4-.2.3-.1.3-.1.4-.2.3-.1"/><path d="M128.7 94.4l2.1-.8-6.8-3.5-2.1.3z" fill="#5badf1"/><path class="tb" d="M125.9 89.8l.4-.1.3-.1.3-.1.3-.2.4-.1.3-.1.3-.2.3-.1"/><path class="t0" d="M125.9 89.8l.4-.1.3-.1.3-.1.3-.2.4-.1.3-.1.3-.2.3-.1"/><path d="M116.3 88.1l2 .8-11.1-6.1-2-1.7z" fill="#36bcdd"/><path d="M141 84.4l2.1-1.7-6.9-.4-2.1.9z" fill="#3ec8d7"/><path class="tb" d="M136.4 82.4l.3-.1.4-.1.3-.1.3 0 .3-.1.4-.1.3-.1.3 0"/><path class="t2" d="M136.4 82.4l.3-.1.4-.1.3-.1.3 0 .3-.1.4-.1.3-.1.3 0"/><path d="M151.4 85l2.1-.9-4.8 2.1-2.1.7z" fill="#37bcdd"/><path d="M130.8 92.3l2.1-.9-6.9-3.3-2.1.7z" fill="#45acea"/><path d="M139 86.1l2.1-1.8-6.9-1.3-2.1 1z" fill="#2ebfd8"/><path class="tb" d="M147.9 86.4l.4-.1.3-.2.3-.1.4-.1.3-.1.3-.1.3-.1.4 0"/><path class="t0" d="M147.9 86.4l.4-.1.3-.2.3-.1.4-.1.3-.1.3-.1.3-.1.4 0"/><path class="tb" d="M162.7 83.5l.3.1.3.2.4.1.3.2.3.1.3.2.4.2.3.1"/><path class="t1" d="M162.7 83.5l.3.1.3.2.4.1.3.2.3.1.3.2.4.2.3.1"/><path class="tb" d="M155.8 80l.3.1.4.1.3.1.3 0 .3.1.4.1.3.1.3.2"/><path class="t2" d="M155.8 80l.3.1.4.1.3.1.3 0 .3.1.4.1.3.1.3.2"/><path class="tb" d="M128.5 87.4l.4-.1.3-.2.3-.1.4-.1.3-.2.3-.1.3-.1.4-.1"/><path class="t1" d="M128.5 87.4l.4-.1.3-.2.3-.1.4-.1.3-.2.3-.1.3-.1.4-.1"/><path d="M136.9 87.4l2.1-1.4-6.9-2.1-2 .9z" fill="#4ac3e0"/><path d="M101.1 105.1l.9-5.3-11-14.2-.9 6.5z" fill="#9cc5fc"/><path class="tb" d="M133.8 83.4l.3-.1.3-.1.4-.2.3-.1.3-.1.3-.1.4-.2.3-.1"/><path class="t2" d="M133.8 83.4l.3-.1.3-.1.4-.2.3-.1.3-.1.3-.1.4-.2.3-.1"/><path d="M149.4 86.1l2-1.1-4.8 1.9-2 .9z" fill="#4ec1e3"/><path d="M126.6 95.1l2.2-.8-6.8-4-2.1 0z" fill="#49a4ef"/><path class="tb" d="M123.3 90.4l.3 0 .4-.1.3 0 .3-.1.4-.1.3-.1.3-.1.3-.1"/><path class="t0" d="M123.3 90.4l.3 0 .4-.1.3 0 .3-.1.4-.1.3-.1.3-.1.3-.1"/><path d="M99.6 73.5l.8 1.2-21.5-11.1-.9-1.3z" fill="#9ad36c"/><path d="M110.9 115.9l.9-1.7-4.8-2.5-.9 2.1z" fill="#968ad6"/><path d="M108.2 110l1-3-6.8-5.8-1 4z" fill="#9a9ef8"/><path class="tb" d="M78.6 63l.4.5.3.4.3.5.3.5.4.5.3.5.3.5.4.4"/><path class="t1" d="M78.6 63l.4.5.3.4.3.5.3.5.4.5.3.5.3.5.4.4"/><path d="M100.4 72.8l.8 1.2-21.5-11.1-.8-1.2z" fill="#acd776"/><path d="M102.7 101.7l.9-4.1-11-10.5-.9 3.2z" fill="#97c7f9"/><path d="M134.8 88.6l2.2-1.3-6.9-2.7-2.1 1z" fill="#3abae0"/><path d="M114.2 88.9l2.1.9-11.1-7.1-2-1.6z" fill="#4ac3e0"/><path class="tb" d="M153.2 81.3l.3.1.3 0 .4.1.3.1.3 0 .3.1.4.1.3.1"/><path class="t1" d="M153.2 81.3l.3.1.3 0 .4.1.3.1.3 0 .3.1.4.1.3.1"/><path class="tb" d="M104.9 82.4l.3.3.3.3.4.2.3.3.3.2.3.3.4.2.3.2"/><path class="t0" d="M104.9 82.4l.3.3.3.3.4.2.3.3.3.2.3.3.4.2.3.2"/><path class="m" d="M171.8 67.7a2.3 2.3 0 1 0 .1 0" fill="#0072BD"/><path d="M155.5 82.3l2.1-.1-4.9-1-2 .1z" fill="#2cc6c9"/><path class="m" d="M89.5 96.9a2.3 2.3 0 1 0 .1 0M89.8 94.2a2.3 2.3 0 1 0 .1 0M90.1 91.4a2.3 2.3 0 1 0 .1 0M90.4 88.6a2.3 2.3 0 1 0 .1 0M90.8 86a2.3 2.3 0 1 0 .1 0" fill="#D95319"/><path d="M128.7 93.1l2.1-.9-6.8-3.5-2.1.3z" fill="#58b4ec"/><path class="m" d="M89.5 95.1a2.3 2.3 0 1 0 .1 0M90.1 93.5a2.3 2.3 0 1 0 .1 0M90.8 91.9a2.3 2.3 0 1 0 .1 0M91.4 89.9a2.3 2.3 0 1 0 .1 0M92.1 87.5a2.3 2.3 0 1 0 .1 0" fill="#0072BD"/><path d="M91.4 84.3l.8-5.6-21.5-15-.8 5.7z" fill="#ace8c9"/><path d="M147.4 87.4l2-1.4-4.9 1.7-2 1z" fill="#3db7e3"/><path class="tb" d="M125.9 88.4l.4-.1.3-.1.3-.1.3-.1.4-.2.3-.1.3-.1.3-.2"/><path class="t1" d="M125.9 88.4l.4-.1.3-.1.3-.1.3-.1.4-.2.3-.1.3-.1.3-.2"/><path class="tb" d="M145.3 87.4l.4-.1.3-.1.3-.2.3-.1.4-.1.3-.2.3-.1.3-.1"/><path class="t0" d="M145.3 87.4l.4-.1.3-.1.3-.2.3-.1.4-.1.3-.2.3-.1.3-.1"/><path d="M157.6 80.4l2 .4-4.8-1-2.1-.4z" fill="#50cec6"/><path d="M110.9 115.9l.9-2.1-4.7-3.6-1 3.7z" fill="#978bda"/><path d="M143.2 91.1l2.1-2-4.8.5-2.1 1.3z" fill="#44aee9"/><path d="M145.3 89.3l2-2-4.8 1.3-2 1.2z" fill="#54bbe9"/><path d="M132.8 89.6l2.1-1.1-6.8-3-2.1.9z" fill="#50bfe5"/><path class="tb" d="M131.2 84.5l.3-.1.3-.1.3-.2.4-.1.3-.1.3-.2.4-.1.3-.2"/><path class="t2" d="M131.2 84.5l.3-.1.3-.1.3-.2.4-.1.3-.1.3-.2.4-.1.3-.2"/><path d="M141.2 92.5l2.1-1.6-4.9-.2-2 1z" fill="#59b2ed"/><path class="tb" d="M160.1 84.2l.3 0 .3.1.3.1.4.1.3.1.3.1.4.1.3.2"/><path class="t0" d="M160.1 84.2l.3 0 .3.1.3.1.4.1.3.1.3.1.4.1.3.2"/><path d="M107.4 110.7l.9-3.6-6.7-7.7-1 5.4z" fill="#a4aafa"/><path d="M116.3 86.3l2 .7-11.1-6-2-1.7z" fill="#27c3d0"/><path d="M110.8 115.9l1-3.2-4.7-3.5-1 4.7z" fill="#978dde"/><path class="m" d="M174.7 76.4a2.3 2.3 0 1 0 .1 0M175.4 73.6a2.3 2.3 0 1 0 .1 0M175.7 71.6a2.3 2.3 0 1 0 .1 0M176 69.5a2.3 2.3 0 1 0 .1 0" fill="#0072BD"/><path class="tb" d="M142.7 88.6l.3-.1.4-.2.3-.2.3-.1.4-.1.3-.2.3-.1.3-.2"/><path class="t0" d="M142.7 88.6l.3-.1.4-.2.3-.2.3-.1.4-.1.3-.2.3-.1.3-.2"/><path class="m" d="M100.1 107.9a2.3 2.3 0 1 0 .1 0M100.7 106a2.3 2.3 0 1 0 .1 0M101.4 104a2.3 2.3 0 1 0 .1 0M102 101.5a2.3 2.3 0 1 0 .1 0M102.3 99.9a2.3 2.3 0 1 0 .1 0" fill="#0072BD"/><path d="M139.1 93.6l2.1-1.3-4.8-.8-2.1.8z" fill="#47a7ed"/><path d="M124.6 95.4l2.1-.4-6.8-4.8-2.1-.1z" fill="#5aaff0"/><path d="M111.7 114.4l.9-1.8-4.7-3.1-1 2.4z" fill="#a29ae6"/><path d="M130.8 90.5l2.1-1-6.9-3.2-2.1.7z" fill="#3eb6e4"/><path d="M126.7 93.7l2.1-.7-6.8-4.1-2.1 0z" fill="#45acea"/><path class="tb" d="M162.7 81.7l.3.1.3.1.4.2.3.1.3.2.3.2.4.1.3.2"/><path class="t2" d="M162.7 81.7l.3.1.3.1.4.2.3.1.3.2.3.2.4.1.3.2"/><path class="tb" d="M123.3 89l.3 0 .4-.1.3 0 .3-.1.4-.1.3-.1.3-.1.3-.1"/><path class="t1" d="M123.3 89l.3 0 .4-.1.3 0 .3-.1.4-.1.3-.1.3-.1.3-.1"/><path d="M153.4 83l2.1-.8-4.8-1-2.1.6z" fill="#43cccd"/><path d="M101.1 104.1l.9-6.1-11-14.2-.9 6.5z" fill="#9fcdf8"/><path class="tb" d="M128.5 85.6l.4-.2.3-.1.3-.1.4-.2.3-.1.3-.1.3-.2.4-.1"/><path class="t2" d="M128.5 85.6l.4-.2.3-.1.3-.1.4-.2.3-.1.3-.1.3-.2.4-.1"/><path class="tb" d="M120.7 90.4l.3.1.4 0 .3 0 .3 0 .3 0 .4-.1.3 0 .3 0"/><path class="t0" d="M120.7 90.4l.3.1.4 0 .3 0 .3 0 .3 0 .4-.1.3 0 .3 0"/><path class="tb" d="M140.1 90.1l.3-.2.4-.1.3-.2.3-.2.3-.2.4-.2.3-.2.3-.2"/><path class="t0" d="M140.1 90.1l.3-.2.4-.1.3-.2.3-.2.3-.2.4-.2.3-.2.3-.2"/><path d="M137.1 94.6l2.1-1.2-4.8-1.3-2.1.7z" fill="#5baef0"/><path class="m" d="M100.1 107.9a2.3 2.3 0 1 0 .1 0M100.4 105.8a2.3 2.3 0 1 0 .1 0M100.7 103.6a2.3 2.3 0 1 0 .1 0M101 101.5a2.3 2.3 0 1 0 .1 0M101.4 99.4a2.3 2.3 0 1 0 .1 0" fill="#D95319"/><path d="M99.6 71.6l.8 1.3-21.5-11.2-.9-1.2z" fill="#b9cf56"/><path d="M98.8 72.2l.8 1.3-21.6-11.2-.8-1.4z" fill="#bbd56b"/><path class="tb" d="M78.6 61.1l.4.5.3.5.3.5.3.5.4.4.3.5.3.5.4.5"/><path class="t2" d="M78.6 61.1l.4.5.3.5.3.5.3.5.4.4.3.5.3.5.4.5"/><path d="M114.2 87.1l2.1 1-11.1-7-2-2.1z" fill="#3dc9d4"/><path class="tb" d="M104.9 80.7l.3.3.3.3.4.3.3.3.3.3.3.3.4.2.3.2"/><path class="t1" d="M104.9 80.7l.3.3.3.3.4.3.3.3.3.3.3.3.4.2.3.2"/><path class="tb" d="M153.2 79.5l.3 0 .3.1.4 0 .3.1.3.1.3.1.4 0 .3.1"/><path class="t2" d="M153.2 79.5l.3 0 .3.1.4 0 .3.1.3.1.3.1.4 0 .3.1"/><path class="tb" d="M137.5 91.4l.3-.1.3-.2.4-.1.3-.2.3-.1.3-.2.4-.2.3-.2"/><path class="t0" d="M137.5 91.4l.3-.1.3-.2.4-.1.3-.2.3-.1.3-.2.4-.2.3-.2"/><path d="M155.5 80.5l2.1-.1-4.9-1.1-2 .1z" fill="#45cbba"/><path class="m" d="M89.5 95.1a2.3 2.3 0 1 0 .1 0M89.8 92.3a2.3 2.3 0 1 0 .1 0M90.1 89.5a2.3 2.3 0 1 0 .1 0M90.4 86.8a2.3 2.3 0 1 0 .1 0M90.8 84.1a2.3 2.3 0 1 0 .1 0" fill="#EDB120"/><path d="M128.7 91.2l2.1-.8-6.8-3.6-2.1.3z" fill="#52bde7"/><path d="M151.4 83.9l2.1-1.1-4.8-1.1-2.1.9z" fill="#2cc6c9"/><path d="M113.4 88.1l.8.8-11-7.8-.8-.9z" fill="#28c2d3"/><path class="tb" d="M125.9 86.6l.4-.1.3-.1.3-.2.3-.1.4-.1.3-.2.3-.1.3-.1"/><path class="t2" d="M125.9 86.6l.4-.1.3-.1.3-.2.3-.1.4-.1.3-.2.3-.1.3-.1"/><path class="tb" d="M150.6 81.4l.3-.1.3 0 .3 0 .4-.1.3 0 .3.1.4 0 .3 0"/><path class="t1" d="M150.6 81.4l.3-.1.3 0 .3 0 .4-.1.3 0 .3.1.4 0 .3 0"/><path class="tb" d="M160.1 82.8l.3.1.3 0 .3.1.4.1.3.1.3.1.4.1.3.1"/><path class="t1" d="M160.1 82.8l.3.1.3 0 .3.1.4.1.3.1.3.1.4.1.3.1"/><path d="M107.4 109.7l.9-4.5-6.7-7.7-1 6.3z" fill="#a5b1fd"/><path d="M135 95.6l2.1-1.2-4.7-1.8-2.2.8z" fill="#4aa3f0"/><path class="m" d="M105.6 87.7a2.3 2.3 0 1 0 .1 0M106.6 85.7a2.3 2.3 0 1 0 .1 0M162.8 77.3a2.3 2.3 0 1 0 .1 0M163.5 75.3a2.3 2.3 0 1 0 .1 0M164.1 72.7a2.3 2.3 0 1 0 .1 0" fill="#0072BD"/><path class="m" d="M100.1 107.9a2.3 2.3 0 1 0 .1 0M100.4 105.4a2.3 2.3 0 1 0 .1 0M100.7 102.8a2.3 2.3 0 1 0 .1 0M101 100.2a2.3 2.3 0 1 0 .1 0M101.4 97.8a2.3 2.3 0 1 0 .1 0" fill="#EDB120"/><path d="M124.6 94l2.1-.4-6.8-4.8-2.1-.2z" fill="#57b6eb"/><path d="M111.7 114l.9-2.3-4.7-5-1 3.7z" fill="#a49fef"/><path d="M92.2 80.6l.9-4.2-21.6-14.9-.8 4.1z" fill="#bce6b0"/><path d="M149.3 85l2.2-1.3-4.8-1.3-2.2 1.1z" fill="#3dcad2"/><path d="M122.6 95.4l2.1-.1-6.8-5.3-2.1-.5z" fill="#46a9ec"/><path d="M141.1 91.2l2.2-1.6-4.8-2.1-2.1 1.6z" fill="#52bde7"/><path class="m" d="M70.1 69a2.3 2.3 0 1 0 .1 0M70.4 66.7a2.3 2.3 0 1 0 .1 0M70.7 64.5a2.3 2.3 0 1 0 .1 0M71.1 62.5a2.3 2.3 0 1 0 .1 0M71.4 60.8a2.3 2.3 0 1 0 .1 0" fill="#D95319"/><path d="M143.1 89.8l2.2-2-4.7-1.9-2.2 1.9z" fill="#3abae0"/><path class="tb" d="M134.9 92.2l.3-.1.3-.1.4-.1.3-.1.3-.1.3-.1.4-.1.3-.1"/><path class="t0" d="M134.9 92.2l.3-.1.3-.1.4-.1.3-.1.3-.1.3-.1.4-.1.3-.1"/><path d="M109 107.1l1-3.1-6.8-6.8-.9 4.1z" fill="#a2b4fe"/><path class="tb" d="M120.7 89.1l.3 0 .4 0 .3 0 .3 0 .3 0 .4 0 .3-.1.3 0"/><path class="t1" d="M120.7 89.1l.3 0 .4 0 .3 0 .3 0 .3 0 .4 0 .3-.1.3 0"/><path d="M103.5 97.7l.9-3.4-11-10.4-.9 3.3z" fill="#85ccf0"/><path d="M112.5 112.8l.9-2.8-4.7-3.4-.9 3.2z" fill="#9a97f1"/><path d="M132.9 96.7l2.2-1.3-4.7-2.1-2.2.8z" fill="#5daaf3"/><path d="M139.1 92.2l2.1-1.3-4.7-2.1-2.2 1.4z" fill="#42b1e7"/><path d="M147.3 86.2l2.1-1.4-4.8-1.5-2.1 1.2z" fill="#27c3d1"/><path d="M145.2 88l2.2-2-4.8-1.7-2.1 1.8z" fill="#43c6dc"/><path d="M126.7 91.8l2.1-.7-6.8-4.1-2.1.1z" fill="#3eb6e4"/><path class="tb" d="M123.3 87.2l.3-.1.4 0 .3-.1.3 0 .4-.1.3-.1.3-.1.3-.1"/><path class="t2" d="M123.3 87.2l.3-.1.4 0 .3-.1.3 0 .4-.1.3-.1.3-.1.3-.1"/><path d="M153.4 81.1l2.1-.7-4.8-1.1-2.1.7z" fill="#59d0c0"/><path d="M137 93.2l2.2-1.2-4.8-2-2.1 1.2z" fill="#57b6eb"/><path class="tb" d="M157.4 83.6l.4.1.3 0 .3.1.4.1.3 0 .3.1.3.1.4.1"/><path class="t0" d="M157.4 83.6l.4.1.3 0 .3.1.4.1.3 0 .3.1.3.1.4.1"/><path class="tb" d="M118.1 90.2l.3.1.3 0 .4.1.3 0 .3 0 .3 0 .4 0 .3 0"/><path class="t0" d="M118.1 90.2l.3.1.3 0 .4.1.3 0 .3 0 .3 0 .4 0 .3 0"/><path d="M130.9 97.8l2.2-1.3-4.8-2.5-2.1.8z" fill="#4c9ef4"/><path d="M112.6 87.3l.8.8-11.1-7.9-.8-.8z" fill="#3fcbd0"/><path class="tb" d="M102.3 80.1l.3.3.3.3.3.4.4.3.3.3.3.2.4.3.3.2"/><path class="t0" d="M102.3 80.1l.3.3.3.3.3.4.4.3.3.3.3.2.4.3.3.2"/><path class="tb" d="M147.9 82.2l.4-.1.3-.1.3-.1.4-.1.3-.1.3-.1.3-.1.4-.1"/><path class="t1" d="M147.9 82.2l.4-.1.3-.1.3-.1.4-.1.3-.1.3-.1.3-.1.4-.1"/><path d="M98 71.1l.8 1.1-21.6-11.3-.8-1.2z" fill="#c9cc4d"/><path d="M98.8 70.3l.8 1.3-21.6-11.1-.8-1.4z" fill="#d4d05c"/><path d="M114.2 85.2l2.1 1.1-11.1-7-2-2.2z" fill="#4ecec7"/><path d="M135 94.2l2.1-1.2-4.7-1.9-2.2 1z" fill="#45abea"/><path class="tb" d="M104.9 78.9l.3.3.3.3.4.3.3.3.3.3.3.2.4.3.3.2"/><path class="t2" d="M104.9 78.9l.3.3.3.3.4.3.3.3.3.3.3.2.4.3.3.2"/><path class="tb" d="M132.3 93l.3-.1.3-.1.3-.1.4-.1.3-.1.3-.1.3-.1.4-.1"/><path class="t0" d="M132.3 93l.3-.1.3-.1.3-.1.4-.1.3-.1.3-.1.3-.1.4-.1"/><path d="M151.4 82.1l2.1-1.1-4.8-1.2-2.1.9z" fill="#45cbba"/><path d="M111.6 113l1-3.2-4.7-4.9-1 4.6z" fill="#a4a4f5"/><path class="tb" d="M150.6 79.6l.3-.1.3-.1.3 0 .4 0 .3 0 .3 0 .4 0 .3.1"/><path class="t2" d="M150.6 79.6l.3-.1.3-.1.3 0 .4 0 .3 0 .3 0 .4 0 .3.1"/><path d="M113.4 86.5l.8.6-11-8.1-.8-1.1z" fill="#36c8c3"/><path class="tb" d="M160.1 80.9l.3.1.3.1.3.1.4 0 .3.1.3.1.4.1.3.2"/><path class="t2" d="M160.1 80.9l.3.1.3.1.3.1.4 0 .3.1.3.1.4.1.3.2"/><path d="M122.5 94.1l2.2-.1-6.8-5.5-2.1-.7z" fill="#42b2e7"/><path d="M128.8 98.7l2.2-1.1-4.7-3-2.2.5z" fill="#5ea7f6"/><path d="M132.9 95.3l2.2-1.2-4.8-2.2-2.1.9z" fill="#59b1ee"/><path d="M124.6 92.2l2.1-.4-6.8-4.8-2.1-.3z" fill="#50bfe5"/><path d="M92.2 78.8l.9-4.2-21.6-14.9-.8 4.1z" fill="#cee4a2"/><path d="M149.3 83.1l2.2-1.2-4.8-1.3-2.2 1z" fill="#53cfc4"/><path class="tb" d="M145.3 83.3l.4-.2.3-.1.3-.2.3-.1.4-.1.3-.2.3-.1.3-.1"/><path class="t1" d="M145.3 83.3l.4-.2.3-.1.3-.2.3-.1.4-.1.3-.2.3-.1.3-.1"/><path d="M120.5 95.3l2.1.1-6.8-6-2-.9z" fill="#57b6eb"/><path d="M141.1 89.3l2.2-1.6-4.8-2-2.1 1.5z" fill="#47c4de"/><path class="m" d="M70.1 67.2a2.3 2.3 0 1 0 .1 0M70.4 64.9a2.3 2.3 0 1 0 .1 0M70.7 62.6a2.3 2.3 0 1 0 .1 0M71.1 60.6a2.3 2.3 0 1 0 .1 0M71.4 58.9a2.3 2.3 0 1 0 .1 0" fill="#EDB120"/><path d="M143.1 88l2.2-2.1-4.7-1.9-2.2 1.9z" fill="#29c2d3"/><path d="M101.9 99.9l.9-5.3-11-14.5-.9 5.6z" fill="#82d0ee"/><path class="tb" d="M120.7 87.2l.3 0 .4 0 .3 0 .3 0 .3 0 .4 0 .3 0 .3 0"/><path class="t2" d="M120.7 87.2l.3 0 .4 0 .3 0 .3 0 .3 0 .4 0 .3 0 .3 0"/><path class="tb" d="M157.4 82.2l.4.1.3 0 .3.1.4.1.3 0 .3.1.3.1.4.1"/><path class="t1" d="M157.4 82.2l.4.1.3 0 .3.1.4.1.3 0 .3.1.3.1.4.1"/><path d="M139.1 90.4l2.1-1.3-4.7-2.1-2.2 1.4z" fill="#39badf"/><path d="M108.2 107.3l.9-4.3-6.7-8.9-.9 5.5z" fill="#92b3ff"/><path d="M111.8 86.8l.8.5-11.1-7.9-.8-.8z" fill="#35c8c4"/><path class="tb" d="M118.1 88.7l.3.1.3.1.4 0 .3.1.3 0 .3 0 .4 0 .3.1"/><path class="t1" d="M118.1 88.7l.3.1.3.1.4 0 .3.1.3 0 .3 0 .4 0 .3.1"/><path d="M147.3 84.4l2.1-1.5-4.8-1.5-2.1 1.3z" fill="#37c8c3"/><path d="M130.9 96.4l2.2-1.2-4.8-2.6-2.1.8z" fill="#47a7ee"/><path d="M145.2 86.2l2.2-2-4.8-1.8-2.1 1.9z" fill="#40cbcf"/><path class="tb" d="M129.6 93.8l.4-.1.3-.1.3-.1.3-.1.4-.1.3-.1.3-.1.4-.1"/><path class="t0" d="M129.6 93.8l.4-.1.3-.1.3-.1.3-.1.4-.1.3-.1.3-.1.4-.1"/><path d="M113.3 110.3l1-2.7-4.8-4-.9 3.3z" fill="#a4abfb"/><path d="M97.1 70.8l.9.3-21.6-11.4-.8-.9z" fill="#dcce5a"/><path class="tb" d="M137.5 88.6l.3-.2.3-.2.4-.2.3-.3.3-.2.3-.3.4-.3.3-.2"/><path class="t1" d="M137.5 88.6l.3-.2.3-.2.4-.2.3-.3.3-.2.3-.3.4-.3.3-.2"/><path d="M126.8 99.6l2.1-1-4.6-3.7-2.2.1z" fill="#4d9cf5"/><path class="tb" d="M76 59.1l.3.3.4.4.3.5.3.5.4.5.3.6.3.5.3.6"/><path class="t1" d="M76 59.1l.3.3.4.4.3.5.3.5.4.5.3.6.3.5.3.6"/><path d="M137 91.4l2.2-1.2-4.8-2-2.1 1.2z" fill="#50bfe5"/><path class="tb" d="M142.7 84.6l.3-.2.4-.2.3-.2.3-.2.4-.1.3-.1.3-.2.3-.1"/><path class="t1" d="M142.7 84.6l.3-.2.4-.2.3-.2.3-.2.4-.1.3-.1.3-.2.3-.1"/><path class="m" d="M106.4 111.5a2.3 2.3 0 1 0 .1 0M107 110a2.3 2.3 0 1 0 .1 0M107.7 108.4a2.3 2.3 0 1 0 .1 0M108.3 106.4a2.3 2.3 0 1 0 .1 0M109 103.9a2.3 2.3 0 1 0 .1 0" fill="#0072BD"/><path d="M112.4 111.9l1-3.2-4.6-6.1-1 4.3z" fill="#9aa1fa"/><path class="tb" d="M134.9 90.1l.3-.2.3-.2.4-.1.3-.2.3-.2.3-.2.4-.2.3-.2"/><path class="t1" d="M134.9 90.1l.3-.2.3-.2.4-.1.3-.2.3-.2.3-.2.4-.2.3-.2"/><path d="M104.4 94.3l.9-2.6-11.1-10.5-.9 2.8z" fill="#47c4de"/><path class="tb" d="M140.1 86.7l.3-.3.4-.3.3-.3.3-.2.3-.3.4-.2.3-.3.3-.2"/><path class="t1" d="M140.1 86.7l.3-.3.4-.3.3-.3.3-.2.3-.3.4-.2.3-.3.3-.2"/><path d="M93 76.5l.9-2.6-21.5-15.1-.9 2.8z" fill="#d7df8f"/><path class="tb" d="M147.9 80.4l.4-.2.3-.1.3-.1.4-.1.3-.1.3-.1.3-.1.4 0"/><path class="t2" d="M147.9 80.4l.4-.2.3-.1.3-.1.4-.1.3-.1.3-.1.3-.1.4 0"/><path d="M98 69.3l.8 1-21.6-11.2-.8-1.3z" fill="#e2c749"/><path class="tb" d="M154.8 83.7l.4-.1.3 0 .3-.1.3 0 .4 0 .3 0 .3.1.3 0"/><path class="t0" d="M154.8 83.7l.4-.1.3 0 .3-.1.3 0 .4 0 .3 0 .3.1.3 0"/><path d="M109.8 104.1l1-2.9-6.8-7.4-.9 3.5z" fill="#8cbafc"/><path d="M112.6 85.9l.8.6-11-8.6-.9-1.2z" fill="#57d0c2"/><path class="m" d="M106.4 111.5a2.3 2.3 0 1 0 .1 0M106.7 109.8a2.3 2.3 0 1 0 .1 0M107 108a2.3 2.3 0 1 0 .1 0M107.4 106.3a2.3 2.3 0 1 0 .1 0M107.7 104.5a2.3 2.3 0 1 0 .1 0" fill="#EDB120"/><path d="M128.8 97.3l2.2-1.1-4.7-3-2.2.5z" fill="#5baef0"/><path class="tb" d="M102.3 77.6l.3.5.3.4.3.5.4.4.3.3.3.4.4.3.3.3"/><path class="t1" d="M102.3 77.6l.3.5.3.4.3.5.4.4.3.3.3.4.4.3.3.3"/><path d="M135 92.4l2.1-1.2-4.7-2-2.2 1z" fill="#3fb5e5"/><path class="tb" d="M132.3 91.4l.3-.1.3-.2.3-.1.4-.2.3-.2.3-.1.3-.2.4-.2"/><path class="t1" d="M132.3 91.4l.3-.1.3-.2.3-.1.4-.2.3-.2.3-.1.3-.2.4-.2"/><path class="tb" d="M115.5 89.5l.3.1.3.1.4.1.3.1.3.1.3.1.4 0 .3.1"/><path class="t0" d="M115.5 89.5l.3.1.3.1.4.1.3.1.3.1.3.1.4 0 .3.1"/><path d="M111 86.7l.8.1-11.1-8.2-.8-.5z" fill="#52cfc5"/><path class="tb" d="M127 94.7l.3-.1.4-.1.3-.1.3-.1.4-.2.3-.1.3-.1.3-.1"/><path class="t0" d="M127 94.7l.3-.1.4-.1.3-.1.3-.1.4-.2.3-.1.3-.1.3-.1"/><path d="M113.4 84.7l.8.6-11-8.1-.8-1.2z" fill="#4ccdb4"/><path d="M122.5 92.2l2.2-.1-6.8-5.4-2.1-.8z" fill="#39bbdf"/><path d="M96.3 71.2l.8-.4-21.5-12-.8-.7z" fill="#dfc749"/><path d="M119.7 95.2l.8.1-6.7-6.8-.8-.8z" fill="#41b3e6"/><path d="M120.5 93.9l2.1.1-6.7-6.3-2.1-1z" fill="#51bee6"/><path d="M132.9 93.5l2.2-1.3-4.8-2.2-2.1.9z" fill="#54bae9"/><path d="M124.7 100.4l2.2-.9-4.7-4.6-2.1 0z" fill="#5ea7f6"/><path class="tb" d="M129.6 92.5l.4-.2.3-.1.3-.1.3-.1.4-.2.3-.1.3-.1.4-.2"/><path class="t1" d="M129.6 92.5l.4-.2.3-.1.3-.1.3-.1.4-.2.3-.1.3-.1.4-.2"/><path class="tb" d="M145.3 81.4l.4-.1.3-.2.3-.1.3-.1.4-.2.3-.1.3-.1.3-.1"/><path class="t2" d="M145.3 81.4l.4-.1.3-.2.3-.1.3-.1.4-.2.3-.1.3-.1.3-.1"/><path d="M126.8 98.2l2.1-1-4.6-3.6-2.2.1z" fill="#49a5ef"/><path d="M101.9 98.1l.9-5.4-11-14.4-.9 5.6z" fill="#7ad5e7"/><path class="tb" d="M157.4 80.4l.4 0 .3.1.3 0 .4.1.3.1.3.1.3.1.4 0"/><path class="t2" d="M157.4 80.4l.4 0 .3.1.3 0 .4.1.3.1.3.1.3.1.4 0"/><path class="tb" d="M118.1 86.9l.3.1.3 0 .4.1.3 0 .3.1.3 0 .4 0 .3 0"/><path class="t2" d="M118.1 86.9l.3.1.3 0 .4.1.3 0 .3.1.3 0 .4 0 .3 0"/><path d="M95.5 71.7l.8-.5-21.5-13.1-.8-.5z" fill="#e5cc5c"/><path d="M110.1 86.9l.9-.2-11.1-8.6-.8-.5z" fill="#45cbbb"/><path d="M108.2 105.4l.9-4.4-6.7-8.8-.9 5.5z" fill="#8cbcfb"/><path d="M130.9 94.5l2.2-1.2-4.8-2.5-2.1.7z" fill="#42b1e8"/><path class="tb" d="M99.7 78l.3.2.3.1.3.3.4.2.3.3.3.3.3.3.4.4"/><path class="t0" d="M99.7 78l.3.2.3.1.3.3.4.2.3.3.3.3.3.3.4.4"/><path class="tb" d="M152.2 84.6l.3-.1.4-.2.3-.1.3-.1.4-.1.3-.1.3-.1.3-.1"/><path class="t0" d="M152.2 84.6l.3-.1.4-.2.3-.1.3-.1.4-.1.3-.1.3-.1.3-.1"/><path d="M93.8 73.9l.9-1.5-21.5-14.9-.9 1.4z" fill="#dece5a"/><path class="tb" d="M154.8 82.3l.4-.1.3 0 .3 0 .3-.1.4 0 .3.1.3 0 .3 0"/><path class="t1" d="M154.8 82.3l.4-.1.3 0 .3 0 .3-.1.4 0 .3.1.3 0 .3 0"/><path d="M97.1 69l.9.3-21.6-11.5-.8-.9z" fill="#f0cb62"/><path class="tb" d="M137.5 86.8l.3-.2.3-.3.4-.2.3-.2.3-.3.3-.3.4-.2.3-.3"/><path class="t2" d="M137.5 86.8l.3-.2.3-.3.4-.2.3-.2.3-.3.3-.3.4-.2.3-.3"/><path d="M105.2 91.7l.9-1.9-11.1-10.5-.8 2z" fill="#29c5cb"/><path class="m" d="M106.4 111.5a2.3 2.3 0 1 0 .1 0M107 108.8a2.3 2.3 0 1 0 .1 0M107.7 106.1a2.3 2.3 0 1 0 .1 0M108.3 103.1a2.3 2.3 0 1 0 .1 0M108.7 101.4a2.3 2.3 0 1 0 .1 0" fill="#D95319"/><path d="M123.9 100.7l.9-.4-4.7-5.5-.8-.1z" fill="#4c9ef4"/><path class="tb" d="M76 57.2l.3.4.4.4.3.5.3.5.4.5.3.6.3.5.3.5"/><path class="t2" d="M76 57.2l.3.4.4.4.3.5.3.5.4.5.3.6.3.5.3.5"/><path class="m" d="M72 58.3a2.3 2.3 0 1 0 .1 0M72.7 56.3a2.3 2.3 0 1 0 .1 0M74.3 55.5a2.3 2.3 0 1 0 .1 0M75.6 56.5a2.3 2.3 0 1 0 .1 0" fill="#D95319"/><path d="M114.1 107.8l.9-2-4.6-5-1 3z" fill="#98acfe"/><path class="tb" d="M124.4 95.2l.3 0 .4-.1.3 0 .3-.1.3 0 .4-.1.3-.1.3-.1"/><path class="t0" d="M124.4 95.2l.3 0 .4-.1.3 0 .3-.1.3 0 .4-.1.3-.1.3-.1"/><path d="M111.8 85.3l.8.6-11.1-9.2-.8-1.2z" fill="#4ecdb1"/><path class="tb" d="M142.7 82.7l.3-.2.4-.2.3-.1.3-.2.4-.1.3-.2.3-.1.3-.2"/><path class="t2" d="M142.7 82.7l.3-.2.4-.2.3-.1.3-.2.4-.1.3-.2.3-.1.3-.2"/><path d="M118.9 95l.8.1-6.7-7.4-.8-.8z" fill="#52bde7"/><path class="tb" d="M134.9 88.3l.3-.2.3-.2.4-.2.3-.2.3-.2.3-.2.4-.2.3-.1"/><path class="t2" d="M134.9 88.3l.3-.2.3-.2.4-.2.3-.2.3-.2.3-.2.4-.2.3-.1"/><path d="M112.4 110l1-3.3-4.6-6.1-1 4.5z" fill="#99a9fe"/><path d="M94.7 72.4l.8-.7-21.5-14.1-.8-.1z" fill="#e3c64a"/><path class="tb" d="M140.1 84.8l.3-.3.4-.2.3-.3.3-.3.3-.2.4-.3.3-.2.3-.3"/><path class="t2" d="M140.1 84.8l.3-.3.4-.2.3-.3.3-.3.3-.2.4-.3.3-.2.3-.3"/><path d="M93 74.6l.9-2.6-21.5-15-.9 2.7z" fill="#e8dc89"/><path class="tb" d="M127 93.3l.3-.1.4-.1.3-.1.3-.1.4-.1.3-.1.3-.1.3-.1"/><path class="t1" d="M127 93.3l.3-.1.4-.1.3-.1.3-.1.4-.1.3-.1.3-.1.3-.1"/><path class="tb" d="M115.5 87.7l.3.1.3.2.4.1.3.2.3.1.3.1.4.1.3.1"/><path class="t1" d="M115.5 87.7l.3.1.3.2.4.1.3.2.3.1.3.1.4.1.3.1"/><path d="M112.6 84l.8.7-11-8.7-.9-1.2z" fill="#64d4b3"/><path d="M109.3 87.1l.8-.2-11-9.3-.8-.4z" fill="#5ad1bf"/><path d="M128.8 95.5l2.2-1.1-4.7-3-2.2.4z" fill="#56b7ea"/><path class="tb" d="M102.3 75.8l.3.4.3.5.3.4.4.4.3.4.3.3.4.3.3.4"/><path class="t2" d="M102.3 75.8l.3.4.3.5.3.4.4.4.3.4.3.3.4.3.3.4"/><path class="tb" d="M141.8 91.8l.3-.2.3-.2.3-.3.4-.2.3-.3.3-.3.3-.3.4-.3"/><path class="t0" d="M141.8 91.8l.3-.2.3-.2.3-.3.4-.2.3-.3.3-.3.3-.3.4-.3"/><path d="M123.1 101l.9-.4-4.7-5.9-.8-.2z" fill="#5ea8f5"/><path class="tb" d="M132.3 89.6l.3-.2.3-.1.3-.2.4-.1.3-.2.3-.2.3-.2.4-.1"/><path class="t2" d="M132.3 89.6l.3-.2.3-.1.3-.2.4-.1.3-.2.3-.2.3-.2.4-.1"/><path class="tb" d="M149.6 85.9l.3-.2.4-.2.3-.1.3-.2.3-.1.4-.2.3-.2.3-.1"/><path class="t0" d="M149.6 85.9l.3-.2.4-.2.3-.1.3-.2.3-.1.4-.2.3-.2.3-.1"/><path d="M124.7 99l2.2-.9-4.7-4.5-2.1-.1z" fill="#5baef0"/><path d="M119.7 93.7l.8.2-6.7-7.2-.8-.6z" fill="#3abae0"/><path class="tb" d="M139.1 93.3l.4-.2.3-.2.3-.2.3-.1.4-.2.3-.2.3-.2.4-.2"/><path class="t0" d="M139.1 93.3l.4-.2.3-.2.3-.2.3-.1.4-.2.3-.2.3-.2.4-.2"/><path d="M110.7 101.3l.9-2.3-6.7-7.7-1 2.6z" fill="#5badf1"/><path d="M96.3 69.3l.8-.3-21.5-12.1-.8-.6z" fill="#f4c456"/><path class="tb" d="M144.4 89.7l.3-.3.3-.2.3-.3.4-.3.3-.3.3-.3.4-.3.3-.2"/><path class="t0" d="M144.4 89.7l.3-.3.3-.2.3-.3.4-.3.3-.3.3-.3.4-.3.3-.2"/><path d="M120.5 92.1l2.1.1-6.7-6.3-2.1-1z" fill="#44c5dd"/><path d="M122.3 101.2l.8-.3-4.6-6.4-.8-.1z" fill="#4c9ff3"/><path class="tb" d="M147 87.5l.3-.3.3-.2.4-.2.3-.2.3-.2.3-.2.4-.1.3-.2"/><path class="t0" d="M147 87.5l.3-.3.3-.2.4-.2.3-.2.3-.2.3-.2.4-.1.3-.2"/><path d="M113.2 108.8l1-3-4.6-6.9-1 3.8z" fill="#a0b7ff"/><path d="M108.5 87.3l.8-.2-11-9.9-.8-.2z" fill="#4accb6"/><path d="M118 94.9l.9.1-6.7-8.1-.8-.5z" fill="#3cb9e1"/><path class="tb" d="M136.5 94.5l.3-.1.4-.2.3-.1.3-.2.4-.2.3-.1.3-.2.3-.1"/><path class="t0" d="M136.5 94.5l.3-.1.4-.2.3-.1.3-.2.4-.2.3-.1.3-.2.3-.1"/><path d="M106 89.8l.9-1.6-11-10.5-.9 1.7z" fill="#51cfc5"/><path class="tb" d="M129.6 90.6l.4-.1.3-.1.3-.2.3-.1.4-.1.3-.1.3-.2.4-.1"/><path class="t2" d="M129.6 90.6l.4-.1.3-.1.3-.2.3-.1.4-.1.3-.1.3-.2.4-.1"/><path class="tb" d="M152.2 83.2l.3-.1.4-.2.3-.1.3-.1.4-.1.3-.1.3-.1.3-.1"/><path class="t1" d="M152.2 83.2l.3-.1.4-.2.3-.1.3-.1.4-.1.3-.1.3-.1.3-.1"/><path class="m" d="M92.7 85.1a2.3 2.3 0 1 0 .1 0M93.4 82.5a2.3 2.3 0 1 0 .1 0M94 80a2.3 2.3 0 1 0 .1 0M94.7 78.4a2.3 2.3 0 1 0 .1 0M95.4 76.9a2.3 2.3 0 1 0 .1 0" fill="#0072BD"/><path d="M126.8 96.3l2.1-1-4.6-3.6-2.2.1z" fill="#44afe8"/><path d="M123.9 99.2l.9-.3-4.7-5.5-.8-.1z" fill="#48a6ee"/><path class="tb" d="M124.4 93.8l.3 0 .4-.1.3 0 .3-.1.3 0 .4-.1.3-.1.3-.1"/><path class="t1" d="M124.4 93.8l.3 0 .4-.1.3 0 .3-.1.3 0 .4-.1.3-.1.3-.1"/><path d="M110.9 84.8l.9.5-11.1-9.8-.8-1.1z" fill="#66d5b0"/><path d="M121.5 101.5l.8-.3-4.6-6.8-.8.1z" fill="#5ea9f4"/><path d="M114.9 106l.9-1.5-4.6-5.9-1 2.3z" fill="#6697fe"/><path d="M95.5 69.9l.8-.6-21.5-13-.8-.6z" fill="#f7ca69"/><path d="M109 103.1l.9-3.7-6.6-9.6-1 4.5z" fill="#95cbf6"/><path d="M118.9 93.5l.8.2-6.7-7.6-.8-.6z" fill="#49c4df"/><path d="M107.7 87.5l.8-.2-11-10.4-.9.1z" fill="#5dd1bc"/><path class="tb" d="M121.8 95.2l.3 0 .3 0 .4 0 .3 0 .3 0 .4 0 .3 0 .3 0"/><path class="t0" d="M121.8 95.2l.3 0 .3 0 .4 0 .3 0 .3 0 .4 0 .3 0 .3 0"/><path class="tb" d="M133.9 95.9l.3-.2.4-.2.3-.1.3-.2.3-.2.4-.1.3-.2.3-.2"/><path class="t0" d="M133.9 95.9l.3-.2.4-.2.3-.1.3-.2.3-.2.4-.1.3-.2.3-.2"/><path d="M93.8 72l.9-1.5-21.5-14.9-.9 1.4z" fill="#f2ca64"/><path class="tb" d="M154.8 80.5l.4-.1.3-.1.3 0 .3 0 .4 0 .3 0 .3 0 .3.1"/><path class="t2" d="M154.8 80.5l.4-.1.3-.1.3 0 .3 0 .4 0 .3 0 .3 0 .3.1"/><path d="M106.8 88.2l.9-.8-11-10.5-.9.8z" fill="#49ccb7"/><path class="tb" d="M112.9 87.6l.3.3.3.4.3.3.4.2.3.3.3.1.3.2.4.1"/><path class="t0" d="M112.9 87.6l.3.3.3.4.3.3.4.2.3.3.3.1.3.2.4.1"/><path d="M117.2 95l.9-.1-6.7-8.5-.9-.1z" fill="#4dc1e2"/><path class="m" d="M72 56.4a2.3 2.3 0 1 0 .1 0M72.7 54.5a2.3 2.3 0 1 0 .1 0M74.3 53.7a2.3 2.3 0 1 0 .1 0M75.6 54.6a2.3 2.3 0 1 0 .1 0" fill="#EDB120"/><path class="m" d="M110.6 113.4a2.3 2.3 0 1 0 .1 0M111.3 111.8a2.3 2.3 0 1 0 .1 0M111.9 110.2a2.3 2.3 0 1 0 .1 0M112.6 108.2a2.3 2.3 0 1 0 .1 0M113.3 105.6a2.3 2.3 0 1 0 .1 0" fill="#D95319"/><path d="M120.6 101.6l.9-.2-4.6-6.9-.9.2z" fill="#4ca0f3"/><path class="tb" d="M141.8 90.4l.3-.2.3-.2.3-.3.4-.2.3-.3.3-.3.3-.2.4-.3"/><path class="t1" d="M141.8 90.4l.3-.2.3-.2.3-.3.4-.2.3-.3.3-.3.3-.2.4-.3"/><path d="M111.8 83.5l.8.5-11.1-9.2-.8-1.2z" fill="#5cd29f"/><path d="M102.7 94.7l.9-4.5-11-14.2-.9 4.2z" fill="#88dfdd"/><path class="tb" d="M149.6 84.5l.3-.2.4-.1.3-.2.3-.2.3-.1.4-.2.3-.1.3-.2"/><path class="t1" d="M149.6 84.5l.3-.2.4-.1.3-.2.3-.2.3-.1.4-.2.3-.1.3-.2"/><path d="M123.1 99.5l.9-.3-4.7-6-.8-.2z" fill="#5ab0ef"/><path d="M94.7 70.5l.8-.7-21.5-14.1-.8-.1z" fill="#f7c458"/><path class="tb" d="M139.1 91.9l.4-.2.3-.2.3-.1.3-.2.4-.2.3-.2.3-.2.4-.2"/><path class="t1" d="M139.1 91.9l.4-.2.3-.2.3-.1.3-.2.4-.2.3-.2.3-.2.4-.2"/><path class="m" d="M110.6 113.4a2.3 2.3 0 1 0 .1 0M111.6 111.6a2.3 2.3 0 1 0 .1 0M112.6 109.3a2.3 2.3 0 1 0 .1 0M113.3 107.2a2.3 2.3 0 1 0 .1 0M113.9 105.2a2.3 2.3 0 1 0 .1 0" fill="#0072BD"/><path class="tb" d="M127 91.5l.3-.1.4-.1.3-.1.3-.1.4-.1.3-.2.3-.1.3-.1"/><path class="t2" d="M127 91.5l.3-.1.4-.1.3-.1.3-.1.4-.1.3-.2.3-.1.3-.1"/><path class="tb" d="M131.3 97.2l.3-.1.3-.2.4-.2.3-.1.3-.2.3-.2.4-.2.3-.1"/><path class="t0" d="M131.3 97.2l.3-.1.3-.2.4-.2.3-.1.3-.2.3-.2.4-.2.3-.1"/><path d="M111.5 99.1l.9-1.6-6.7-8.2-.9 2z" fill="#44afe9"/><path class="tb" d="M115.5 85.8l.3.2.3.1.4.2.3.1.3.1.3.2.4.1.3.1"/><path class="t2" d="M115.5 85.8l.3.2.3.1.4.2.3.1.3.1.3.2.4.1.3.1"/><path d="M119.8 101.8l.9-.2-4.6-6.9-.9.2z" fill="#5ea9f4"/><path class="tb" d="M144.4 88.4l.3-.3.3-.3.3-.3.4-.3.3-.3.3-.3.4-.3.3-.2"/><path class="t1" d="M144.4 88.4l.3-.3.3-.3.3-.3.4-.3.3-.3.3-.3.4-.3.3-.2"/><path d="M116.4 95.2l.8-.2-6.6-8.8-.9.3z" fill="#38bbdf"/><path class="tb" d="M147 86.1l.3-.3.3-.2.4-.2.3-.2.3-.2.3-.1.4-.2.3-.2"/><path class="t1" d="M147 86.1l.3-.3.3-.2.4-.2.3-.2.3-.2.3-.1.4-.2.3-.2"/><path d="M124.7 97.1l2.2-.9-4.7-4.5-2.1 0z" fill="#56b8ea"/><path d="M115.7 104.6l.9-1.1-4.6-6.4-.9 1.5z" fill="#4e95fa"/><path class="m" d="M102.7 98.3a2.3 2.3 0 1 0 .1 0M103 96.6a2.3 2.3 0 1 0 .1 0M103.6 93.8a2.3 2.3 0 1 0 .1 0M104.3 91.2a2.3 2.3 0 1 0 .1 0M105 89.2a2.3 2.3 0 1 0 .1 0" fill="#0072BD"/><path d="M119.7 91.9l.8.2-6.7-7.3-.8-.5z" fill="#28c2d3"/><path d="M122.3 99.7l.8-.3-4.6-6.4-.8-.2z" fill="#47a8ed"/><path class="tb" d="M136.5 93.1l.3-.1.4-.2.3-.1.3-.2.4-.1.3-.2.3-.2.3-.1"/><path class="t1" d="M136.5 93.1l.3-.1.4-.2.3-.1.3-.2.4-.1.3-.2.3-.2.3-.1"/><path d="M118 93.3l.9.2-6.7-8-.9-.6z" fill="#2ebfd8"/><path d="M119 102l.9-.2-4.6-6.9-.9.2z" fill="#4ca0f3"/><path d="M115.6 95.4l.8-.2-6.7-8.8-.8.2z" fill="#4cc2e2"/><path class="tb" d="M128.7 98.4l.3-.1.3-.1.4-.2.3-.1.3-.2.3-.1.4-.2.3-.2"/><path class="t0" d="M128.7 98.4l.3-.1.3-.1.4-.2.3-.1.3-.2.3-.1.4-.2.3-.2"/><path d="M110.1 84.4l.8.4-11-10.4-.8-1.3z" fill="#5ed29d"/><path class="tb" d="M99.7 73.9l.3.4.3.5.3.4.4.5.3.4.3.5.3.5.4.5"/><path class="t1" d="M99.7 73.9l.3.4.3.5.3.4.4.5.3.4.3.5.3.5.4.5"/><path d="M113.2 106.8l1-2.8-4.6-6.9-1 3.7z" fill="#99bffd"/><path class="tb" d="M97 77.1l.4 0 .3.1.3 0 .3.1.4.2.3.1.3.2.4.2"/><path class="t0" d="M97 77.1l.4 0 .3.1.3 0 .3.1.4.2.3.1.3.2.4.2"/><path d="M116.5 103.6l.9-1-4.6-6.8-.9 1.3z" fill="#5fa5f7"/><path d="M118.2 102.2l.9-.2-4.6-7-.9.3z" fill="#5ea9f4"/><path class="tb" d="M121.8 93.8l.3 0 .3 0 .4 0 .3 0 .3 0 .4 0 .3 0 .3 0"/><path class="t1" d="M121.8 93.8l.3 0 .3 0 .4 0 .3 0 .3 0 .4 0 .3 0 .3 0"/><path d="M121.4 100l.9-.3-4.6-6.9-.8-.1z" fill="#59b2ee"/><path class="tb" d="M152.2 81.4l.3-.2.4-.1.3-.1.3-.2.4-.1.3-.1.3-.1.3 0"/><path class="t2" d="M152.2 81.4l.3-.2.4-.1.3-.1.3-.2.4-.1.3-.1.3-.1.3 0"/><path class="tb" d="M133.9 94.5l.3-.2.4-.2.3-.1.3-.2.3-.2.4-.1.3-.2.3-.2"/><path class="t1" d="M133.9 94.5l.3-.2.4-.2.3-.1.3-.2.3-.2.4-.1.3-.2.3-.2"/><path d="M114.8 95.6l.8-.3-6.7-8.7-.8.2z" fill="#38bbdf"/><path class="m" d="M110.6 113.4a2.3 2.3 0 1 0 .1 0M111.3 111a2.3 2.3 0 1 0 .1 0M111.9 108.6a2.3 2.3 0 1 0 .1 0M112.6 106.2a2.3 2.3 0 1 0 .1 0M113.3 103.6a2.3 2.3 0 1 0 .1 0" fill="#EDB120"/><path d="M112.3 97.6l.9-1.3-6.7-8.5-.9 1.6z" fill="#52bde7"/><path class="m" d="M114.6 103.8a2.3 2.3 0 1 0 .1 0M115.5 102.1a2.3 2.3 0 1 0 .1 0M116.8 100.4a2.3 2.3 0 1 0 .1 0M173.4 81.2a2.3 2.3 0 1 0 .1 0M174.1 79.1a2.3 2.3 0 1 0 .1 0" fill="#0072BD"/><path d="M114.1 105.9l.9-1.9-4.6-7.5-.9 2.5z" fill="#8cbafc"/><path d="M117.4 102.7l.8-.5-4.6-7-.8.7z" fill="#4c9ff4"/><path d="M123.9 97.4l.9-.4-4.7-5.4-.8-.2z" fill="#43b0e8"/><path class="tb" d="M124.4 92l.3-.1.4 0 .3 0 .3-.1.3-.1.4-.1.3 0 .3-.1"/><path class="t2" d="M124.4 92l.3-.1.4 0 .3 0 .3-.1.3-.1.4-.1.3 0 .3-.1"/><path d="M110.9 83l.9.5-11.1-9.9-.8-1.1z" fill="#78d89e"/><path class="tb" d="M126.1 99.5l.3-.1.3-.1.3-.2.4-.1.3-.1.3-.2.3-.1.4-.2"/><path class="t0" d="M126.1 99.5l.3-.1.3-.1.3-.2.4-.1.3-.1.3-.2.3-.1.4-.2"/><path d="M118.9 91.7l.8.2-6.7-7.7-.8-.6z" fill="#3dcad3"/><path d="M113.9 95.7l.9-.2-6.7-8.7-.8.2z" fill="#4cc2e2"/><path d="M109 101.2l.9-3.6-6.6-9.7-1 4.4z" fill="#92d1f2"/><path class="tb" d="M112.9 86.1l.3.2.3.3.3.2.4.2.3.2.3.2.3.1.4.2"/><path class="t1" d="M112.9 86.1l.3.2.3.3.3.2.4.2.3.2.3.2.3.1.4.2"/><path d="M117.2 93.1l.9.2-6.7-8.4-.9-.5z" fill="#3ec8d8"/><path class="tb" d="M131.3 95.9l.3-.2.3-.2.4-.1.3-.2.3-.2.3-.2.4-.1.3-.2"/><path class="t1" d="M131.3 95.9l.3-.2.3-.2.4-.1.3-.2.3-.2.3-.2.4-.1.3-.2"/><path d="M120.6 100.2l.9-.3-4.6-7.3-.8-.1z" fill="#46aaeb"/><path d="M113.1 96.4l.9-.7-6.7-8.7-.9.8z" fill="#3abae0"/><path class="tb" d="M119.2 94.9l.3 0 .3.1.4.1.3 0 .3.1.3 0 .4 0 .3 0"/><path class="t0" d="M119.2 94.9l.3 0 .3.1.4.1.3 0 .3.1.3 0 .4 0 .3 0"/><path class="tb" d="M141.8 88.6l.3-.2.3-.3.3-.2.4-.3.3-.2.3-.3.3-.3.4-.3"/><path class="t2" d="M141.8 88.6l.3-.2.3-.3.3-.2.4-.3.3-.2.3-.3.3-.3.4-.3"/><path class="tb" d="M149.6 82.7l.3-.2.4-.2.3-.2.3-.1.3-.2.4-.1.3-.2.3-.1"/><path class="t2" d="M149.6 82.7l.3-.2.4-.2.3-.2.3-.1.3-.2.4-.1.3-.2.3-.1"/><path d="M123.1 97.6l.9-.3-4.7-5.9-.8-.2z" fill="#55b9ea"/><path d="M102.7 92.7l.9-4.3-11-14.2-.9 4.2z" fill="#96e1d4"/><path class="tb" d="M139.1 90l.4-.1.3-.2.3-.2.3-.2.4-.1.3-.2.3-.2.4-.2"/><path class="t2" d="M139.1 90l.4-.1.3-.2.3-.2.3-.2.4-.1.3-.2.3-.2.4-.2"/><path class="m" d="M101.7 97.4a2.3 2.3 0 1 0 .1 0M102 95.3a2.3 2.3 0 1 0 .1 0M102.3 93.2a2.3 2.3 0 1 0 .1 0M102.7 91.1a2.3 2.3 0 1 0 .1 0M103 89.3a2.3 2.3 0 1 0 .1 0" fill="#D95319"/><path class="tb" d="M128.7 97.1l.3-.2.3-.1.4-.2.3-.1.3-.2.3-.1.4-.2.3-.1"/><path class="t1" d="M128.7 97.1l.3-.2.3-.1.4-.2.3-.1.3-.2.3-.1.4-.2.3-.1"/><path d="M119.8 100.4l.9-.2-4.6-7.7-.9-.1z" fill="#58b3ed"/><path class="m" d="M91.1 83.6a2.3 2.3 0 1 0 .1 0M91.4 81.3a2.3 2.3 0 1 0 .1 0M91.8 79.1a2.3 2.3 0 1 0 .1 0M92.1 77.1a2.3 2.3 0 1 0 .1 0M92.4 75.3a2.3 2.3 0 1 0 .1 0" fill="#D95319"/><path class="tb" d="M144.4 86.5l.3-.3.3-.3.3-.3.4-.3.3-.3.3-.2.4-.3.3-.3"/><path class="t2" d="M144.4 86.5l.3-.3.3-.3.3-.3.4-.3.3-.3.3-.2.4-.3.3-.3"/><path class="tb" d="M147 84.2l.3-.2.3-.2.4-.2.3-.2.3-.2.3-.2.4-.2.3-.1"/><path class="t2" d="M147 84.2l.3-.2.3-.2.4-.2.3-.2.3-.2.3-.2.4-.2.3-.1"/><path class="tb" d="M123.4 100.5l.4-.1.3-.1.3-.2.3-.1.4-.1.3-.1.3-.2.4-.1"/><path class="t0" d="M123.4 100.5l.4-.1.3-.1.3-.2.3-.1.4-.1.3-.1.3-.2.4-.1"/><path d="M109.3 84l.8.4-11-11.3-.8-1.3z" fill="#7bd89c"/><path d="M122.3 97.9l.8-.3-4.6-6.4-.8-.2z" fill="#41b2e7"/><path class="tb" d="M136.5 91.3l.3-.2.4-.1.3-.2.3-.1.4-.2.3-.2.3-.1.3-.2"/><path class="t2" d="M136.5 91.3l.3-.2.4-.1.3-.2.3-.1.4-.2.3-.2.3-.1.3-.2"/><path d="M114.9 104.1l.9-1.4-4.6-7.8-.9 1.7z" fill="#5ea8f5"/><path d="M116.4 93l.8.1-6.6-8.7-.9-.4z" fill="#27c3d0"/><path d="M109.8 99.5l.9-2.5-6.6-10.4-1 3.2z" fill="#82d0ed"/><path d="M118 91.4l.9.2-6.7-8-.9-.6z" fill="#2bc6ca"/><path d="M119 100.6l.8-.2-4.5-8-.9 0z" fill="#45abea"/><path d="M110.1 82.6l.8.4-11-10.5-.8-1.2z" fill="#78d487"/><path class="tb" d="M99.7 72l.3.5.3.4.3.5.4.4.3.5.3.5.3.5.4.5"/><path class="t2" d="M99.7 72l.3.5.3.4.3.5.4.4.3.5.3.5.3.5.4.5"/><path class="tb" d="M126.1 98.1l.3-.1.3-.1.3-.1.4-.2.3-.1.3-.2.3-.1.4-.1"/><path class="t1" d="M126.1 98.1l.3-.1.3-.1.3-.1.4-.2.3-.1.3-.2.3-.1.4-.1"/><path class="tb" d="M121.8 92l.3 0 .3 0 .4 0 .3 0 .3 0 .4 0 .3 0 .3 0"/><path class="t2" d="M121.8 92l.3 0 .3 0 .4 0 .3 0 .3 0 .4 0 .3 0 .3 0"/><path d="M103.5 90.3l.9-3.2-11-13.7-.8 2.7z" fill="#91e1c7"/><path d="M121.4 98.1l.9-.2-4.6-7-.8-.1z" fill="#54bbe9"/><path class="tb" d="M133.9 92.6l.3-.1.4-.2.3-.2.3-.2.3-.1.4-.2.3-.1.3-.2"/><path class="t2" d="M133.9 92.6l.3-.1.4-.2.3-.2.3-.2.3-.1.4-.2.3-.1.3-.2"/><path d="M114.1 104.1l.9-1.9-4.6-7.5-.9 2.5z" fill="#8bc2f7"/><path d="M115.7 102.8l.9-.9-4.6-8.1-.9 1.1z" fill="#49a5ef"/><path class="tb" d="M119.2 93.4l.3.1.3.1.4.1.3 0 .3.1.3 0 .4 0 .3 0"/><path class="t1" d="M119.2 93.4l.3.1.3.1.4.1.3 0 .3.1.3 0 .4 0 .3 0"/><path d="M118.2 100.8l.8-.2-4.5-8.2-.9.1z" fill="#58b4ec"/><path class="tb" d="M120.8 101.3l.4-.1.3-.1.3 0 .3-.1.4-.1.3-.1.3-.2.3-.1"/><path class="t0" d="M120.8 101.3l.4-.1.3-.1.3 0 .3-.1.4-.1.3-.1.3-.2.3-.1"/><path d="M115.6 92.9l.8.1-6.7-9-.8-.4z" fill="#3dcad2"/><path d="M116.5 101.9l.9-.7-4.6-8.3-.8.9z" fill="#59b1ee"/><path d="M117.3 101.3l.9-.5-4.5-8.4-.9.5z" fill="#46abeb"/><path class="tb" d="M112.9 84.2l.3.3.3.2.3.3.4.2.3.2.3.1.3.2.4.1"/><path class="t2" d="M112.9 84.2l.3.3.3.2.3.3.4.2.3.2.3.1.3.2.4.1"/><path d="M117.2 91.3l.9.1-6.7-8.4-.9-.4z" fill="#46cdcb"/><path class="tb" d="M131.3 94l.3-.2.3-.1.4-.2.3-.2.3-.1.3-.2.4-.2.3-.2"/><path class="t2" d="M131.3 94l.3-.2.3-.1.4-.2.3-.2.3-.1.3-.2.4-.2.3-.2"/><path d="M120.6 98.3l.9-.2-4.6-7.3-.8-.1z" fill="#40b4e6"/><path class="tb" d="M110.2 86.6l.4-.1.3 0 .3 0 .3.1.4.2.3.2.3.3.4.3"/><path class="t0" d="M110.2 86.6l.4-.1.3 0 .3 0 .3.1.4.2.3.2.3.3.4.3"/><path d="M108.5 83.8l.8.2-11-12.2-.8-1z" fill="#7ad485"/><path class="tb" d="M123.4 99.1l.4-.1.3-.2.3-.1.3-.1.4-.1.3-.1.3-.1.4-.2"/><path class="t1" d="M123.4 99.1l.4-.1.3-.2.3-.1.3-.1.4-.1.3-.1.3-.1.4-.2"/><path class="tb" d="M116.6 94.9l.3-.1.3-.1.3 0 .4 0 .3 0 .3 0 .3.1.4.1"/><path class="t0" d="M116.6 94.9l.3-.1.3-.1.3 0 .4 0 .3 0 .3 0 .3.1.4.1"/><path class="m" d="M101.7 95.5a2.3 2.3 0 1 0 .1 0M102 93.3a2.3 2.3 0 1 0 .1 0M102.3 91.2a2.3 2.3 0 1 0 .1 0M102.7 89.2a2.3 2.3 0 1 0 .1 0M103 87.4a2.3 2.3 0 1 0 .1 0" fill="#EDB120"/><path class="tb" d="M128.7 95.2l.3-.1.3-.2.4-.1.3-.2.3-.1.3-.2.4-.1.3-.2"/><path class="t2" d="M128.7 95.2l.3-.1.3-.2.4-.1.3-.2.3-.1.3-.2.4-.1.3-.2"/><path d="M119.8 98.6l.9-.3-4.6-7.6-.9-.1z" fill="#53bce8"/><path class="m" d="M91.1 81.7a2.3 2.3 0 1 0 .1 0M91.4 79.5a2.3 2.3 0 1 0 .1 0M91.8 77.3a2.3 2.3 0 1 0 .1 0M92.1 75.3a2.3 2.3 0 1 0 .1 0M92.4 73.5a2.3 2.3 0 1 0 .1 0" fill="#EDB120"/><path d="M114.8 92.9l.8 0-6.7-9.3-.8-.3z" fill="#2bc6ca"/><path d="M110.6 97.1l.9-1.7-6.6-10.6-.9 1.9z" fill="#42c6dc"/><path d="M109.3 82.2l.8.4-11-11.3-.8-1.3z" fill="#95d887"/><path class="m" d="M109.6 101.5a2.3 2.3 0 1 0 .1 0M110.3 99.3a2.3 2.3 0 1 0 .1 0M110.9 97.3a2.3 2.3 0 1 0 .1 0M111.9 95.3a2.3 2.3 0 1 0 .1 0M112.9 93.8a2.3 2.3 0 1 0 .1 0" fill="#0072BD"/><path d="M114.9 102.2l.9-1.3-4.6-7.9-.9 1.7z" fill="#59b2ee"/><path d="M116.4 91.2l.8.1-6.6-8.8-.9-.4z" fill="#39c8c2"/><path d="M109.8 97.6l.9-2.4-6.6-10.4-1 3.2z" fill="#79d5e7"/><path class="tb" d="M118.2 101.9l.3-.1.4 0 .3-.1.3-.1.3-.1.4 0 .3-.1.3-.1"/><path class="t0" d="M118.2 101.9l.3-.1.4 0 .3-.1.3-.1.3-.1.4 0 .3-.1.3-.1"/><path class="m" d="M108 102.8a2.3 2.3 0 1 0 .1 0M108.3 101.2a2.3 2.3 0 1 0 .1 0M108.7 99.4a2.3 2.3 0 1 0 .1 0M109 97.8a2.3 2.3 0 1 0 .1 0M109.6 95.1a2.3 2.3 0 1 0 .1 0" fill="#EDB120"/><path d="M119 98.8l.8-.3-4.5-8-.9 0z" fill="#3fb5e5"/><path d="M107.6 83.8l.9 0-11-13-.8-.3z" fill="#90d88b"/><path d="M104.4 87.2l.8-1.9-10.9-13.4-.9 1.6z" fill="#7bd89c"/><path class="tb" d="M126.1 96.3l.3-.1.3-.2.3-.1.4-.1.3-.2.3-.1.3-.1.4-.2"/><path class="t2" d="M126.1 96.3l.3-.1.3-.2.3-.1.4-.1.3-.2.3-.1.3-.1.4-.2"/><path d="M113.9 93l.9-.1-6.7-9.6-.8 0z" fill="#43cccd"/><path class="tb" d="M120.8 99.8l.4 0 .3-.1.3-.1.3-.1.4-.1.3-.1.3-.1.3-.1"/><path class="t1" d="M120.8 99.8l.4 0 .3-.1.3-.1.3-.1.4-.1.3-.1.3-.1.3-.1"/><path d="M103.5 88.5l.9-3.2-11-13.7-.8 2.6z" fill="#9ee3ba"/><path d="M111.5 95.4l.8-1.1-6.6-10.2-.9.7z" fill="#27c3cf"/><path d="M115.7 100.9l.9-.8-4.6-8.2-.9 1.2z" fill="#44afe8"/><path class="tb" d="M119.2 91.6l.3 0 .3.1.4.1.3.1.3 0 .3 0 .4.1.3 0"/><path class="t2" d="M119.2 91.6l.3 0 .3.1.4.1.3.1.3 0 .3 0 .4.1.3 0"/><path d="M118.2 99l.8-.3-4.5-8.2-.9.1z" fill="#52bde7"/><path d="M113.1 93.5l.9-.5-6.7-9.7-.8.3z" fill="#2ec6c8"/><path d="M112.3 94.3l.9-.9-6.7-9.8-.9.5z" fill="#3fcbd0"/><path d="M106.8 84.1l.9-.3-11-13.3-.8.3z" fill="#85d47c"/><path d="M115.6 91.1l.8.1-6.7-9.1-.8-.4z" fill="#52cfc4"/><path class="tb" d="M110.2 84.4l.4.2.3.1.3.2.3.2.4.2.3.3.3.2.4.3"/><path class="t1" d="M110.2 84.4l.4.2.3.1.3.2.3.2.4.2.3.3.3.2.4.3"/><path d="M116.5 100.1l.9-.7-4.6-8.3-.8.9z" fill="#54bae9"/><path d="M105.2 85.3l.8-.7-10.9-13.3-.9.7z" fill="#7bd484"/><path d="M117.3 99.4l.9-.4-4.5-8.4-.9.5z" fill="#3fb5e5"/><path d="M106 84.6l.8-.5-10.9-13.3-.9.5z" fill="#8ed88c"/><path class="tb" d="M113.9 95.5l.4-.1.3-.1.3-.1.3 0 .4-.1.3-.1.3-.1.4 0"/><path class="t0" d="M113.9 95.5l.4-.1.3-.1.3-.1.3 0 .4-.1.3-.1.3-.1.4 0"/><path class="tb" d="M107.6 87.2l.3-.1.4 0 .3-.1.3-.1.4-.1.3 0 .3-.1.3-.1"/><path class="t0" d="M107.6 87.2l.3-.1.4 0 .3-.1.3-.1.4-.1.3 0 .3-.1.3-.1"/><path d="M108.5 81.9l.8.3-11-12.3-.8-1z" fill="#99d36e"/><path class="tb" d="M116.6 92.8l.3.1.3 0 .3.1.4 0 .3.1.3.1.3.1.4.1"/><path class="t1" d="M116.6 92.8l.3.1.3 0 .3.1.4 0 .3.1.3.1.3.1.4.1"/><path class="tb" d="M123.4 97.2l.4-.1.3-.1.3-.1.3-.1.4-.1.3-.2.3-.1.4-.1"/><path class="t2" d="M123.4 97.2l.4-.1.3-.1.3-.1.3-.1.4-.1.3-.2.3-.1.4-.1"/><path class="tb" d="M118.2 100.5l.3-.1.4-.1.3 0 .3-.1.3-.1.4-.1.3-.1.3-.1"/><path class="t1" d="M118.2 100.5l.3-.1.4-.1.3 0 .3-.1.3-.1.4-.1.3-.1.3-.1"/><path d="M114.8 91l.8.1-6.7-9.4-.8-.2z" fill="#44cbbb"/><path d="M110.6 95.2l.9-1.7-6.6-10.6-.9 1.9z" fill="#40cbcf"/><path class="m" d="M113.9 103.4a2.3 2.3 0 1 0 .1 0M114.6 101.8a2.3 2.3 0 1 0 .1 0M115.5 100.2a2.3 2.3 0 1 0 .1 0M116.8 98.9a2.3 2.3 0 1 0 .1 0" fill="#D95319"/><path d="M107.6 81.9l.9 0-11-13-.8-.3z" fill="#acd775"/><path class="tb" d="M97 70.7l.4.1.3.2.3.3.3.5.4.5.3.5.3.5.4.6"/><path class="t1" d="M97 70.7l.4.1.3.2.3.3.3.5.4.5.3.5.3.5.4.6"/><path d="M104.4 85.3l.8-1.9-10.9-13.3-.9 1.5z" fill="#95d887"/><path d="M113.9 91.1l.9-.1-6.7-9.6-.8.1z" fill="#59d0c0"/><path class="tb" d="M120.8 98l.4-.1.3-.1.3-.1.3-.1.4-.1.3-.1.3-.1.3-.1"/><path class="t2" d="M120.8 98l.4-.1.3-.1.3-.1.3-.1.4-.1.3-.1.3-.1.3-.1"/><path d="M111.5 93.6l.8-1.2-6.6-10.1-.9.7z" fill="#3bc9c1"/><path d="M113.1 91.6l.9-.5-6.7-9.7-.8.4z" fill="#46cbb9"/><path class="m" d="M109 99.7a2.3 2.3 0 1 0 .1 0M109.6 96.9a2.3 2.3 0 1 0 .1 0M110.3 94.9a2.3 2.3 0 1 0 .1 0M110.9 93.4a2.3 2.3 0 1 0 .1 0M111.9 92a2.3 2.3 0 1 0 .1 0" fill="#D95319"/><path d="M112.3 92.5l.9-.9-6.7-9.9-.9.6z" fill="#55d0c3"/><path d="M106.8 82.3l.9-.4-11-13.3-.8.3z" fill="#a5d265"/><path class="tb" d="M110.2 82.5l.4.2.3.2.3.2.3.2.4.2.3.2.3.3.4.2"/><path class="t2" d="M110.2 82.5l.4.2.3.2.3.2.3.2.4.2.3.2.3.3.4.2"/><path d="M105.2 83.4l.8-.7-10.9-13.3-.9.7z" fill="#9ad36d"/><path d="M106 82.8l.8-.6-10.9-13.3-.9.6z" fill="#aad777"/><path class="tb" d="M116.6 91l.3 0 .3.1.3 0 .4.1.3.1.3.1.3.1.4.1"/><path class="t2" d="M116.6 91l.3 0 .3.1.3 0 .4.1.3.1.3.1.3.1.4.1"/><path class="tb" d="M118.2 98.7l.3-.1.4-.1.3-.1.3-.1.3-.1.4 0 .3-.1.3-.1"/><path class="t2" d="M118.2 98.7l.3-.1.4-.1.3-.1.3-.1.3-.1.4 0 .3-.1.3-.1"/><path class="tb" d="M113.9 92.7l.4-.1.3 0 .3 0 .3.1.4 0 .3 0 .3.1.4 0"/><path class="t1" d="M113.9 92.7l.4-.1.3 0 .3 0 .3.1.4 0 .3 0 .3.1.4 0"/><path class="m" d="M113.9 101.5a2.3 2.3 0 1 0 .1 0M114.6 100a2.3 2.3 0 1 0 .1 0M115.5 98.4a2.3 2.3 0 1 0 .1 0M116.8 97.1a2.3 2.3 0 1 0 .1 0" fill="#EDB120"/><path class="tb" d="M97 68.8l.4.1.3.3.3.3.3.4.4.5.3.6.3.5.4.5"/><path class="t2" d="M97 68.8l.4.1.3.3.3.3.3.4.4.5.3.6.3.5.4.5"/><path class="tb" d="M107.6 83.5l.3 0 .4 0 .3.1.3.1.4.2.3.1.3.2.3.2"/><path class="t1" d="M107.6 83.5l.3 0 .4 0 .3.1.3.1.4.2.3.1.3.2.3.2"/><path class="m" d="M93.1 72.9a2.3 2.3 0 1 0 .1 0M93.7 71a2.3 2.3 0 1 0 .1 0M94.7 69.6a2.3 2.3 0 1 0 .1 0M96.3 68.6a2.3 2.3 0 1 0 .1 0" fill="#D95319"/><path class="tb" d="M113.9 90.8l.4 0 .3 0 .3 0 .3 0 .4 0 .3.1.3 0 .4.1"/><path class="t2" d="M113.9 90.8l.4 0 .3 0 .3 0 .3 0 .4 0 .3.1.3 0 .4.1"/><path class="m" d="M113.2 90.6a2.3 2.3 0 1 0 .1 0" fill="#D95319"/><path class="m" d="M103.6 86.4a2.3 2.3 0 1 0 .1 0M104.3 84.1a2.3 2.3 0 1 0 .1 0M105.3 82.5a2.3 2.3 0 1 0 .1 0M106.9 81.4a2.3 2.3 0 1 0 .1 0" fill="#D95319"/><path class="tb" d="M107.6 81.7l.3 0 .4 0 .3.1.3.1.4.1.3.2.3.2.3.1"/><path class="t2" d="M107.6 81.7l.3 0 .4 0 .3.1.3.1.4.1.3.2.3.2.3.1"/><path class="m" d="M110.3 93.1a2.3 2.3 0 1 0 .1 0M110.9 91.5a2.3 2.3 0 1 0 .1 0M111.9 90.1a2.3 2.3 0 1 0 .1 0M113.2 88.8a2.3 2.3 0 1 0 .1 0" fill="#EDB120"/><path class="m" d="M93.1 71a2.3 2.3 0 1 0 .1 0M93.7 69.1a2.3 2.3 0 1 0 .1 0M94.7 67.8a2.3 2.3 0 1 0 .1 0M96.3 66.7a2.3 2.3 0 1 0 .1 0" fill="#EDB120"/><path class="m" d="M103.6 84.6a2.3 2.3 0 1 0 .1 0M104.3 82.2a2.3 2.3 0 1 0 .1 0M105.3 80.6a2.3 2.3 0 1 0 .1 0M106.9 79.6a2.3 2.3 0 1 0 .1 0" fill="#EDB120"/><line x1="115.9" y1="117.9" x2="181.3" y2="102.7" stroke="#6a6a6a" stroke-width="0.6"/><line x1="115.9" y1="117.9" x2="68.5" y2="97.6" stroke="#6a6a6a" stroke-width="0.6"/><line x1="68.5" y1="97.6" x2="68.5" y2="51.4" stroke="#6a6a6a" stroke-width="0.6"/><line x1="115.9" y1="117.9" x2="117.6" y2="118.6" stroke="#6a6a6a" stroke-width="0.6"/><line x1="148.6" y1="110.3" x2="150.3" y2="111" stroke="#6a6a6a" stroke-width="0.6"/><line x1="181.3" y1="102.7" x2="183" y2="103.4" stroke="#6a6a6a" stroke-width="0.6"/><line x1="115.9" y1="117.9" x2="114.1" y2="118.3" stroke="#6a6a6a" stroke-width="0.6"/><line x1="100.1" y1="111.1" x2="98.3" y2="111.5" stroke="#6a6a6a" stroke-width="0.6"/><line x1="84.3" y1="104.4" x2="82.5" y2="104.8" stroke="#6a6a6a" stroke-width="0.6"/><line x1="68.5" y1="97.6" x2="66.7" y2="98" stroke="#6a6a6a" stroke-width="0.6"/><line x1="68.5" y1="97.6" x2="66.7" y2="98" stroke="#6a6a6a" stroke-width="0.6"/><line x1="68.5" y1="51.4" x2="66.7" y2="51.8" stroke="#6a6a6a" stroke-width="0.6"/></g><g id="lb"><line x1="121.8" y1="232.9" x2="68.5" y2="212.6" stroke="#e3e3e3" stroke-width="0.5"/><line x1="154.5" y1="225.3" x2="101.2" y2="205" stroke="#e3e3e3" stroke-width="0.5"/><line x1="187.2" y1="217.7" x2="133.9" y2="197.4" stroke="#e3e3e3" stroke-width="0.5"/><line x1="121.8" y1="232.9" x2="187.2" y2="217.7" stroke="#e3e3e3" stroke-width="0.5"/><line x1="95.2" y1="222.8" x2="160.5" y2="207.5" stroke="#e3e3e3" stroke-width="0.5"/><line x1="68.5" y1="212.6" x2="133.9" y2="197.4" stroke="#e3e3e3" stroke-width="0.5"/><line x1="68.5" y1="212.6" x2="68.5" y2="166.8" stroke="#e3e3e3" stroke-width="0.5"/><line x1="101.2" y1="205" x2="101.2" y2="159.2" stroke="#e3e3e3" stroke-width="0.5"/><line x1="133.9" y1="197.4" x2="133.9" y2="151.6" stroke="#e3e3e3" stroke-width="0.5"/><line x1="68.5" y1="166.8" x2="133.9" y2="151.6" stroke="#e3e3e3" stroke-width="0.5"/><line x1="187.2" y1="217.7" x2="187.2" y2="171.9" stroke="#e3e3e3" stroke-width="0.5"/><line x1="160.5" y1="207.5" x2="160.5" y2="161.7" stroke="#e3e3e3" stroke-width="0.5"/><line x1="133.9" y1="197.4" x2="133.9" y2="151.6" stroke="#e3e3e3" stroke-width="0.5"/><line x1="187.2" y1="171.9" x2="133.9" y2="151.6" stroke="#e3e3e3" stroke-width="0.5"/><path d="M156.3 201.4l2.1-.8-27.2-10.4-2.1.8z" fill="#6372fa"/><path d="M158.4 200.7l2-2.9-27.2-10.4-2 2.9z" fill="#7088fd"/><path d="M154.3 201.9l2-.5-27.2-10.4-2 .5z" fill="#7280fa"/><path class="tb" d="M128.3 191.4l.4-.1.3-.1.3-.1.3 0 .4-.1.3-.1.3-.1.4-.1"/><path class="t4" d="M128.3 191.4l.4-.1.3-.1.3-.1.3 0 .4-.1.3-.1.3-.1.4-.1"/><path d="M160.4 197.5l.4-.4-27.2-10.3-.4.3z" fill="#5a86ff"/><path class="tb" d="M133.6 187.2l.3-.3"/><path class="t3" d="M133.6 187.2l.3-.3"/><path d="M160.4 197.8l.4-1.1-27.2-10.4-.4 1.1z" fill="#5987ff"/><path class="tb" d="M131 190.7l.3-.2.3-.3.3-.3.4-.4.3-.4.3-.4.3-.6.4-.8"/><path class="t4" d="M131 190.7l.3-.2.3-.3.3-.3.4-.4.3-.4.3-.4.3-.6.4-.8"/><path class="tb" d="M133.6 187.3l.3-.9"/><path class="t4" d="M133.6 187.3l.3-.9"/><path d="M158.4 198.5l2-1-27.2-10.4-2 1z" fill="#6c90ff"/><path d="M152.2 202.3l2.1-.5-27.2-10.3-2.1.5z" fill="#6371f9"/><path class="tb" d="M125.7 192l.4-.1.3-.1.3-.1.3 0 .4-.1.3-.1.3-.1.3 0"/><path class="t4" d="M125.7 192l.4-.1.3-.1.3-.1.3 0 .4-.1.3-.1.3-.1.3 0"/><path d="M156.3 199.6l2.1-.8-27.2-11.3-2.1.8z" fill="#5d82fe"/><path d="M156.3 198.8l2.1-.3-27.2-10.4-2.1.3z" fill="#5d82fe"/><path class="tb" d="M131 188.4l.3-.1.3-.2.3-.1.4-.1.3-.2.3-.1.3-.2.4-.2"/><path class="t3" d="M131 188.4l.3-.1.3-.2.3-.1.4-.1.3-.2.3-.1.3-.2.4-.2"/><path d="M158.4 198.8l2-2.9-27.2-11.3-2 2.9z" fill="#6697fe"/><path d="M150.2 202.3l2 0-27.2-10.4-2 .1z" fill="#7281fa"/><path d="M154.3 200l2-.5-27.2-11.3-2 .5z" fill="#6e8dfe"/><path class="tb" d="M128.3 188.6l.4-.1.3 0 .3-.1.3-.1.4-.1.3 0 .3-.1.4-.1"/><path class="t2" d="M128.3 188.6l.4-.1.3 0 .3-.1.3-.1.4-.1.3 0 .3-.1.4-.1"/><path d="M160.4 195.2l.4-.4-27.2-9.4-.4.4z" fill="#4e93fb"/><path class="tb" d="M133.6 185.8l.3-.3"/><path class="t1" d="M133.6 185.8l.3-.3"/><path d="M158.4 196.3l2-1.1-27.2-9.5-2 1.1z" fill="#629cfc"/><path d="M160.4 196l.4-1.2-27.2-11.3-.4 1.2z" fill="#4d97f9"/><path class="tb" d="M131 188l.3-.2.3-.3.3-.4.4-.3.3-.5.3-.4.3-.5.4-.8"/><path class="t2" d="M131 188l.3-.2.3-.3.3-.4.4-.3.3-.5.3-.4.3-.5.4-.8"/><path class="tb" d="M133.6 184.6l.3-.9"/><path class="t2" d="M133.6 184.6l.3-.9"/><path d="M154.3 198.4l2 .4-27.2-10.4-2-.4z" fill="#6a92ff"/><path class="tb" d="M128.3 188.3l.4.1.3.1.3 0 .3 0 .4 0 .3 0 .3 0 .4-.1"/><path class="t3" d="M128.3 188.3l.4.1.3.1.3 0 .3 0 .4 0 .3 0 .3 0 .4-.1"/><path d="M156.3 196.7l2.1-.5-27.2-9.4-2.1.5z" fill="#528ffd"/><path d="M152.2 200.5l2.1-.5-27.2-11.3-2.1.5z" fill="#5e81fe"/><path class="tb" d="M131 187.1l.3-.1.3-.2.3-.1.4-.1.3-.2.3-.2.3-.2.4-.2"/><path class="t1" d="M131 187.1l.3-.1.3-.2.3-.1.4-.1.3-.2.3-.2.3-.2.4-.2"/><path class="tb" d="M125.7 189.2l.4-.1.3 0 .3-.1.3-.1.4-.1.3 0 .3-.1.3-.1"/><path class="t2" d="M125.7 189.2l.4-.1.3 0 .3-.1.3-.1.4-.1.3 0 .3-.1.3-.1"/><path d="M148.2 202.1l2 .2-27.2-10.3-2.1-.2z" fill="#6277fc"/><path class="tb" d="M123.1 192.1l.3 0 .4 0 .3.1.3-.1.3 0 .4 0 .3-.1.3 0"/><path class="t4" d="M123.1 192.1l.3 0 .4 0 .3.1.3-.1.3 0 .4 0 .3-.1.3 0"/><path d="M154.3 196.8l2-.1-27.2-9.4-2 0z" fill="#629bfd"/><path d="M150.2 200.5l2 0-27.2-11.3-2 0z" fill="#6d8ffe"/><path class="tb" d="M128.3 187.4l.4 0 .3 0 .3 0 .3-.1.4 0 .3-.1.3 0 .4-.1"/><path class="t1" d="M128.3 187.4l.4 0 .3 0 .3 0 .3-.1.4 0 .3-.1.3 0 .4-.1"/><path d="M152.2 198.1l2.1.3-27.2-10.4-2.1-.3z" fill="#548cfe"/><path class="tb" d="M125.7 187.8l.4.1.3 0 .3.1.3 0 .4.1.3.1.3.1.3 0"/><path class="t3" d="M125.7 187.8l.4.1.3 0 .3.1.3 0 .4.1.3.1.3.1.3 0"/><path d="M146.1 201.9l2.1.1-27.2-10.2-2.1-.2z" fill="#7089fd"/><path class="tb" d="M120.5 191.8l.3 0 .3.1.4 0 .3.1.3 0 .4 0 .3.1.3 0"/><path class="t4" d="M120.5 191.8l.3 0 .3.1.4 0 .3.1.3 0 .4 0 .3.1.3 0"/><path d="M152.2 196.7l2.1.1-27.2-9.5-2.1 0z" fill="#4f93fb"/><path class="tb" d="M125.7 187.4l.4 0 .3 0 .3 0 .3 0 .4 0 .3 0 .3 0 .3 0"/><path class="t1" d="M125.7 187.4l.4 0 .3 0 .3 0 .3 0 .4 0 .3 0 .3 0 .3 0"/><path d="M148.2 200.2l2 .3-27.2-11.3-2.1-.3z" fill="#5987ff"/><path class="tb" d="M123.1 189.3l.3 0 .4.1.3 0 .3 0 .3 0 .4-.1.3 0 .3-.1"/><path class="t2" d="M123.1 189.3l.3 0 .4.1.3 0 .3 0 .3 0 .4-.1.3 0 .3-.1"/><path d="M150.2 198.1l2 0-27.2-10.4-2 .1z" fill="#629bfd"/><path d="M144.1 202l2-.1-27.2-10.4-2-.2z" fill="#5f7ffe"/><path class="tb" d="M117.9 191.5l.3.1.3 0 .4 0 .3.1.3 0 .3 0 .4 0 .3.1"/><path class="t4" d="M117.9 191.5l.3.1.3 0 .4 0 .3.1.3 0 .3 0 .4 0 .3.1"/><path d="M150.2 196.4l2.1.3-27.3-9.4-2-.3z" fill="#5fa2f9"/><path d="M146.1 200.1l2.1.1-27.2-11.3-2.1-.1z" fill="#6597fe"/><path class="tb" d="M120.5 189l.3 0 .3 0 .4.1.3 0 .3.1.4 0 .3.1.3 0"/><path class="t2" d="M120.5 189l.3 0 .3 0 .4.1.3 0 .3.1.4 0 .3.1.3 0"/><path d="M148.2 198.2l2-.1-27.2-10.3-2.1.1z" fill="#4f93fb"/><path class="tb" d="M123.1 187.9l.3 0 .4 0 .3-.1.3 0 .3 0 .4 0 .3 0 .3 0"/><path class="t3" d="M123.1 187.9l.3 0 .4 0 .3-.1.3 0 .3 0 .4 0 .3 0 .3 0"/><path d="M142 202.1l2.1-.1-27.2-10.7-2.1-.2z" fill="#6c90ff"/><path class="tb" d="M115.3 191.2l.3 0 .3.1.3 0 .4.1.3 0 .3.1.3 0 .4 0"/><path class="t4" d="M115.3 191.2l.3 0 .3.1.3 0 .4.1.3 0 .3.1.3 0 .4 0"/><path d="M146.1 198.3l2.1-.1-27.2-10.4-2.1.1z" fill="#5fa0fa"/><path d="M144.1 200.2l2-.1-27.2-11.3-2 .1z" fill="#518ffd"/><path class="tb" d="M120.5 188l.3 0 .3 0 .4-.1.3 0 .3 0 .4 0 .3 0 .3 0"/><path class="t3" d="M120.5 188l.3 0 .3 0 .4-.1.3 0 .3 0 .4 0 .3 0 .3 0"/><path class="tb" d="M117.9 189l.3 0 .3-.1.4 0 .3 0 .3 0 .3 0 .4 0 .3.1"/><path class="t2" d="M117.9 189l.3 0 .3-.1.4 0 .3 0 .3 0 .3 0 .4 0 .3.1"/><path d="M148.2 196l2 .4-27.2-9.4-2.1-.5z" fill="#4d9df5"/><path class="tb" d="M123.1 187.1l.3 0 .4.1.3 0 .3.1.3 0 .4.1.3 0 .3 0"/><path class="t1" d="M123.1 187.1l.3 0 .4.1.3 0 .3.1.3 0 .4.1.3 0 .3 0"/><path d="M140 202.4l2-.3-27.2-11-2 .1z" fill="#5a86ff"/><path d="M142 200.3l2.1-.1-27.2-11.3-2.1.1z" fill="#619dfc"/><path class="tb" d="M115.3 189.1l.3 0 .3 0 .3-.1.4 0 .3 0 .3 0 .3 0 .4 0"/><path class="t2" d="M115.3 189.1l.3 0 .3 0 .3-.1.4 0 .3 0 .3 0 .3 0 .4 0"/><path d="M144.1 198.2l2 0-27.2-10.3-2-.1z" fill="#4d99f8"/><path class="tb" d="M117.9 188l.3 0 .3 0 .4 0 .3 0 .3 0 .3 0 .4 0 .3 0"/><path class="t3" d="M117.9 188l.3 0 .3 0 .4 0 .3 0 .3 0 .3 0 .4 0 .3 0"/><path d="M137.9 203.1l2.1-.7-27.2-11.3-2.1.7z" fill="#6a93ff"/><path class="tb" d="M112.6 191.3l.4 0 .3-.1.3 0 .4 0 .3 0 .3 0 .3 0 .4 0"/><path class="t4" d="M112.6 191.3l.4 0 .3-.1.3 0 .4 0 .3 0 .3 0 .3 0 .4 0"/><path d="M154.3 193.6l2-2.3-27.2-12.9-2-.3z" fill="#51bee6"/><path d="M156.3 191.3l2.1-3.1-27.2-10.7-2.1 1z" fill="#37bcde"/><path class="tb" d="M128.3 178.5l.4 0 .3.1.3 0 .3 0 .4 0 .3-.1.3 0 .4-.2"/><path class="t0" d="M128.3 178.5l.4 0 .3.1.3 0 .3 0 .4 0 .3-.1.3 0 .4-.2"/><path d="M146.1 195.5l2.1.4-27.3-9.4-2-.4z" fill="#5cacf2"/><path class="tb" d="M120.5 186.4l.3.1.3.1.4.1.3.1.3 0 .4.1.3.1.3.1"/><path class="t1" d="M120.5 186.4l.3.1.3.1.4.1.3.1.3 0 .4.1.3.1.3.1"/><path d="M135.9 203.9l2-.9-27.2-11.3-2 .9z" fill="#5b85ff"/><path class="tb" d="M110 192.3l.4-.2.3-.1.3-.1.3-.2.4-.1.3-.1.3-.1.3-.1"/><path class="t4" d="M110 192.3l.4-.2.3-.1.3-.1.3-.2.4-.1.3-.1.3-.1.3-.1"/><path d="M140 200.6l2-.3-27.2-11.3-2 .3z" fill="#4e94fb"/><path d="M152.2 194.6l2.1-1.1-27.2-15.4-2-.6z" fill="#3eb7e4"/><path class="tb" d="M125.7 177.8l.4.1.3.1.3.1.3 0 .4.1.3.1.3.1.3.1"/><path class="t0" d="M125.7 177.8l.4.1.3.1.3.1.3 0 .4.1.3.1.3.1.3.1"/><path d="M133.8 204.8l2.1-.9-27.2-11.3-2.1.9z" fill="#6d8ffe"/><path d="M142 198l2.1.2-27.2-10.4-2.1-.1z" fill="#5ea7f6"/><path class="tb" d="M107.4 193.4l.3-.1.4-.2.3-.1.3-.1.3-.2.4-.1.3-.2.3-.1"/><path class="t4" d="M107.4 193.4l.3-.1.4-.2.3-.1.3-.1.3-.2.4-.1.3-.2.3-.1"/><path class="tb" d="M115.3 187.8l.3 0 .3 0 .3 0 .4.1.3 0 .3 0 .3 0 .4.1"/><path class="t3" d="M115.3 187.8l.3 0 .3 0 .3 0 .4.1.3 0 .3 0 .3 0 .4.1"/><path d="M137.9 201.2l2.1-.6-27.2-11.3-2.1.6z" fill="#609ffb"/><path class="tb" d="M112.6 189.5l.4-.1.3 0 .3-.1.4 0 .3-.1.3 0 .3-.1.4 0"/><path class="t2" d="M112.6 189.5l.4-.1.3 0 .3-.1.4 0 .3-.1.3 0 .3-.1.4 0"/><path d="M131.8 205.2l2.1-.5-27.2-11.3-2.1.5z" fill="#5e81fe"/><path d="M144.1 195l2 .5-27.2-9.4-2-.5z" fill="#47a8ed"/><path class="tb" d="M117.9 185.9l.3.1.3 0 .4.1.3.1.3 0 .3.1.4.1.3 0"/><path class="t1" d="M117.9 185.9l.3.1.3 0 .4.1.3.1.3 0 .3.1.4.1.3 0"/><path d="M158.3 188.3l2.1-5.9-27.2-10.1-2 5.3z" fill="#46cdcb"/><path class="tb" d="M131 178.3l.3-.4.3-.6.3-.6.4-.8.3-.8.3-.8.3-.9"/><path class="t0" d="M131 178.3l.3-.4.3-.6.3-.6.4-.8.3-.8.3-.8.3-.9"/><path d="M135.9 202l2-.8-27.2-11.3-2 .8z" fill="#4f93fb"/><path class="tb" d="M110 190.4l.4-.2.3-.1.3-.1.3-.1.4-.1.3-.1.3-.1.3-.1"/><path class="t2" d="M110 190.4l.4-.2.3-.1.3-.1.3-.1.4-.1.3-.1.3-.1.3-.1"/><path d="M150.2 194.1l2 .5-27.1-17.1-2.1-1.2z" fill="#4dc1e3"/><path d="M140 197.9l2 .1-27.2-10.4-2 0z" fill="#4ba0f2"/><path d="M129.8 205.4l2-.2-27.2-11.3-2 .3z" fill="#6d8efe"/><path d="M133.8 202.8l2.1-.8-27.2-11.3-2.1.8z" fill="#629bfd"/><path class="tb" d="M104.8 194l.3 0 .4-.1.3 0 .3-.1.3-.1.4-.1.3-.1.3-.1"/><path class="t4" d="M104.8 194l.3 0 .4-.1.3 0 .3-.1.3-.1.4-.1.3-.1.3-.1"/><path class="tb" d="M107.4 191.4l.3-.1.4-.1.3-.2.3-.1.3-.1.4-.2.3-.1.3-.1"/><path class="t2" d="M107.4 191.4l.3-.1.4-.1.3-.2.3-.1.3-.1.4-.2.3-.1.3-.1"/><path d="M131.8 203.6l2.1-.8-27.2-11.3-2.1.8z" fill="#528efd"/><path d="M142 194.5l2.1.5-27.2-9.4-2.1-.5z" fill="#57b6eb"/><path class="tb" d="M115.3 185.2l.3.1.3.1.3.1.4 0 .3.1.3.1.3.1.4.1"/><path class="t1" d="M115.3 185.2l.3.1.3.1.3.1.4 0 .3.1.3.1.3.1.4.1"/><path d="M137.9 198l2.1-.1-27.2-10.3-2.1 0z" fill="#5cacf2"/><path class="m" d="M133.2 171.1a2.3 2.3 0 1 0 .1 0M133.8 168.5a2.3 2.3 0 1 0 .1 0" fill="#0072BD"/><path class="tb" d="M112.6 187.7l.4 0 .3 0 .3 0 .4 0 .3 0 .3 0 .3 0 .4.1"/><path class="t3" d="M112.6 187.7l.4 0 .3 0 .3 0 .4 0 .3 0 .3 0 .3 0 .4.1"/><path d="M127.7 205.5l2.1-.1-27.2-11.3-2.1.2z" fill="#5c84ff"/><path d="M129.8 204.5l2-.9-27.2-11.3-2 .9z" fill="#6697fe"/><path class="tb" d="M102.2 194.3l.3 0 .3 0 .4-.1.3 0 .3 0 .3-.1.4 0 .3-.1"/><path class="t4" d="M102.2 194.3l.3 0 .3 0 .4-.1.3 0 .3 0 .3-.1.4 0 .3-.1"/><path class="tb" d="M104.8 192.5l.3-.2.4-.1.3-.1.3-.1.3-.2.4-.1.3-.1.3-.2"/><path class="t2" d="M104.8 192.5l.3-.2.4-.1.3-.1.3-.1.3-.2.4-.1.3-.1.3-.2"/><path d="M127.7 205.2l2.1-.7-27.2-11.3-2.1.7z" fill="#5789fe"/><path class="tb" d="M102.2 193.5l.3-.1.3-.1.4-.1.3-.2.3-.1.3-.2.4-.1.3-.1"/><path class="t2" d="M102.2 193.5l.3-.1.3-.1.4-.1.3-.2.3-.1.3-.2.4-.1.3-.1"/><path d="M160.4 182.4l.4-1.9-27.2-9.8-.4 1.7z" fill="#81dcbf"/><path d="M148.1 192.9l2.1 1.2-27.2-17.8-2-1.5z" fill="#2ac1d5"/><path class="tb" d="M123.1 176.3l.3.3.4.2.3.2.3.2.3.2.4.1.3.2.3.1"/><path class="t0" d="M123.1 176.3l.3.3.4.2.3.2.3.2.3.2.4.1.3.2.3.1"/><path d="M135.9 198.1l2-.1-27.2-10.4-2 .1z" fill="#48a6ee"/><path class="tb" d="M110 187.8l.4 0 .3-.1.3 0 .3 0 .4 0 .3 0 .3 0 .3 0"/><path class="t3" d="M110 187.8l.4 0 .3-.1.3 0 .3 0 .4 0 .3 0 .3 0 .3 0"/><path d="M125.7 205.6l2-.1-27.2-11.3-2 .1z" fill="#6993ff"/><path d="M125.7 205.8l2-.6-27.2-11.3-2 .6z" fill="#6993ff"/><path class="tb" d="M99.6 194.4l.3 0 .3 0 .3 0 .4 0 .3-.1.3 0 .4 0 .3 0"/><path class="t4" d="M99.6 194.4l.3 0 .3 0 .3 0 .4 0 .3-.1.3 0 .4 0 .3 0"/><path d="M140 194.3l2 .2-27.2-9.4-2-.3z" fill="#41b2e7"/><path class="tb" d="M99.6 194.4l.3-.1.3-.1.3-.1.4-.1.3-.1.3-.1.4-.1.3-.2"/><path class="t2" d="M99.6 194.4l.3-.1.3-.1.3-.1.4-.1.3-.1.3-.1.4-.1.3-.2"/><path d="M123.6 206.2l2.1-.5-27.2-11.2-2.1.4z" fill="#5987ff"/><path class="tb" d="M96.9 195l.4-.1.3-.1.3 0 .4-.1.3-.1.3-.1.3 0 .4-.1"/><path class="t2" d="M96.9 195l.4-.1.3-.1.3 0 .4-.1.3-.1.3-.1.3 0 .4-.1"/><path d="M133.8 198.3l2.1-.2-27.2-10.4-2.1.2z" fill="#59b0ef"/><path class="tb" d="M107.4 188l.3-.1.4 0 .3 0 .3 0 .3-.1.4 0 .3 0 .3 0"/><path class="t3" d="M107.4 188l.3-.1.4 0 .3 0 .3 0 .3-.1.4 0 .3 0 .3 0"/><path d="M123.6 205.4l2.1.2-27.2-11.3-2.1-.2z" fill="#558bfe"/><path class="tb" d="M96.9 194.2l.4.1.3 0 .3 0 .4.1.3 0 .3 0 .3 0 .4 0"/><path class="t4" d="M96.9 194.2l.4.1.3 0 .3 0 .4.1.3 0 .3 0 .3 0 .4 0"/><path d="M137.9 194.3l2.1 0-27.2-9.5-2.1.1z" fill="#52bce7"/><path class="tb" d="M112.6 184.9l.4 0 .3 0 .3.1.4 0 .3 0 .3.1.3.1.4 0"/><path class="t1" d="M112.6 184.9l.4 0 .3 0 .3.1.4 0 .3 0 .3.1.3.1.4 0"/><path d="M121.6 206.7l2-.5-27.2-11.3-2 .5z" fill="#6993ff"/><path d="M146.1 191.9l2 1-27.1-18.1-2.1-.7z" fill="#41ccce"/><path class="tb" d="M120.5 174.6l.3.2.3.2.4.2.3.2.3.2.4.2.3.3.3.2"/><path class="t0" d="M120.5 174.6l.3.2.3.2.4.2.3.2.3.2.4.2.3.3.3.2"/><path d="M131.8 198.5l2.1-.2-27.3-10.4-2 .3z" fill="#46a9ec"/><path d="M119.5 207.2l2.1-.5-27.2-11.3-2.1.5z" fill="#5987ff"/><path class="tb" d="M94.3 195.6l.4-.1.3 0 .3-.1.3-.1.4-.1.3-.1.3 0 .3-.1"/><path class="t2" d="M94.3 195.6l.4-.1.3 0 .3-.1.3-.1.4-.1.3-.1.3 0 .3-.1"/><path d="M135.9 194.4l2-.1-27.2-9.4-2 .1z" fill="#3db7e3"/><path class="tb" d="M110 185l.4 0 .3 0 .3 0 .3 0 .4 0 .3 0 .3-.1.3 0"/><path class="t1" d="M110 185l.4 0 .3 0 .3 0 .3 0 .4 0 .3 0 .3-.1.3 0"/><path d="M183 211.5l2-.7-27.2-10.4-2 .8z" fill="#6372fa"/><path d="M121.6 204.9l2 .5-27.2-11.3-2-.5z" fill="#619cfc"/><path d="M185 210.8l2.1-2.9-27.2-10.4-2.1 2.9z" fill="#7088fd"/><path d="M129.8 198.8l2-.3-27.2-10.4-2 .4z" fill="#58b3ed"/><path class="tb" d="M104.8 188.3l.3-.1.4 0 .3-.1.3 0 .3 0 .4-.1.3 0 .3 0"/><path class="t3" d="M104.8 188.3l.3-.1.4 0 .3-.1.3 0 .3 0 .4-.1.3 0 .3 0"/><path d="M180.9 212l2.1-.5-27.2-10.4-2.1.5z" fill="#7280fa"/><path class="tb" d="M155 201.5l.3-.1.3 0 .4-.1.3-.1.3-.1.4 0 .3-.1.3-.1"/><path class="t4" d="M155 201.5l.3-.1.3 0 .4-.1.3-.1.3-.1.4 0 .3-.1.3-.1"/><path d="M144 191.3l2.1.6-27.2-17.8-2-.1z" fill="#3cc9c0"/><path class="tb" d="M117.9 174.2l.3 0 .3 0 .4 0 .3.1.3 0 .3.1.4.1.3.1"/><path class="t0" d="M117.9 174.2l.3 0 .3 0 .4 0 .3.1.3 0 .3.1.4.1.3.1"/><path d="M117.5 207.1l2 .1-27.2-11.3-2-.1z" fill="#6795fe"/><path d="M133.9 194.7l2-.3-27.2-9.4-2.1.3z" fill="#50bfe5"/><path class="tb" d="M91.7 196l.3 0 .4 0 .3 0 .3-.1.4-.1.3 0 .3-.1.3-.1"/><path class="t2" d="M91.7 196l.3 0 .4 0 .3 0 .3-.1.4-.1.3 0 .3-.1.3-.1"/><path class="tb" d="M107.4 185.3l.3-.1.4 0 .3 0 .3-.1.3 0 .4 0 .3-.1.3 0"/><path class="t1" d="M107.4 185.3l.3-.1.4 0 .3 0 .3-.1.3 0 .4 0 .3-.1.3 0"/><path d="M183 210.6l2-.7-27.2-11.3-2 .7z" fill="#607bfd"/><path d="M187.1 208l.4-1.2-27.2-10.4-.4 1.2z" fill="#5987ff"/><path d="M127.7 199.2l2.1-.4-27.2-10.3-2.1.3z" fill="#46abeb"/><path class="tb" d="M157.6 200.9l.3-.2.4-.3.3-.4.3-.3.3-.5.4-.4.3-.5.3-.8"/><path class="t4" d="M157.6 200.9l.3-.2.4-.3.3-.4.3-.3.3-.5.4-.4.3-.5.3-.8"/><path class="tb" d="M160.2 197.5l.3-.9"/><path class="t4" d="M160.2 197.5l.3-.9"/><path class="tb" d="M102.2 188.7l.3-.1.3 0 .4-.1.3 0 .3-.1.3 0 .4-.1.3 0"/><path class="t3" d="M102.2 188.7l.3-.1.3 0 .4-.1.3 0 .3-.1.3 0 .4-.1.3 0"/><path d="M185 209.9l2.1-2.9-27.2-11.3-2.1 2.9z" fill="#6c91ff"/><path d="M178.9 212.5l2-.5-27.2-10.4-2 .5z" fill="#6371f9"/><path class="tb" d="M152.4 202.1l.3-.1.3 0 .4-.1.3-.1.3-.1.3 0 .4-.1.3-.1"/><path class="t4" d="M152.4 202.1l.3-.1.3 0 .4-.1.3-.1.3-.1.3 0 .4-.1.3-.1"/><path d="M95.4 222.9l.9-2.5-27.3-10.4-.8 2.5z" fill="#968bd9"/><path d="M131.8 195.3l2.1-.6-27.3-9.4-2 .6z" fill="#3cb9e2"/><path d="M180.9 211.1l2.1-.5-27.2-11.3-2.1.5z" fill="#7188fd"/><path d="M119.5 204.2l2.1.7-27.2-11.3-2.1-.7z" fill="#4d98f9"/><path class="tb" d="M155 199.7l.3-.1.3-.1.4 0 .3-.1.3-.1.4-.1.3-.1.3-.1"/><path class="t2" d="M155 199.7l.3-.1.3-.1.4 0 .3-.1.3-.1.4-.1.3-.1.3-.1"/><path class="tb" d="M94.3 193.6l.4.1.3.1.3.1.3.1.4 0 .3.1.3.1.3 0"/><path class="t4" d="M94.3 193.6l.4.1.3.1.3.1.3.1.4 0 .3.1.3.1.3 0"/><path d="M183 208.9l2-1-27.2-9.7-2 .4z" fill="#5c84ff"/><path d="M125.7 199.5l2-.4-27.2-10.3-2 .3z" fill="#58b4ec"/><path d="M142 190.7l2 .6-27.1-17.3-2.1.1z" fill="#58d0c1"/><path class="tb" d="M99.6 189.1l.3-.1.3 0 .3-.1.4 0 .3-.1.3 0 .4-.1.3 0"/><path class="t3" d="M99.6 189.1l.3-.1.3 0 .3-.1.4 0 .3-.1.3 0 .4-.1.3 0"/><path class="tb" d="M115.3 174.2l.3 0 .3 0 .3 0 .4 0 .3 0 .3 0 .3 0 .4 0"/><path class="t0" d="M115.3 174.2l.3 0 .3 0 .3 0 .4 0 .3 0 .3 0 .3 0 .4 0"/><path d="M129.8 196.3l2-1.1-27.2-9.4-2.1 1.1z" fill="#51bee6"/><path d="M187.1 207l.4-1.1-27.2-11.3-.4 1.1z" fill="#5091fc"/><path d="M115.5 206.5l2 .5-27.2-11.3-2-.5z" fill="#518ffd"/><path class="tb" d="M104.8 186l.3-.2.4-.1.3-.1.3-.1.3 0 .4-.1.3-.1.3 0"/><path class="t1" d="M104.8 186l.3-.2.4-.1.3-.1.3-.1.3 0 .4-.1.3-.1.3 0"/><path class="tb" d="M157.6 199l.3-.2.4-.3.3-.3.3-.4.3-.4.4-.4.3-.5.3-.9"/><path class="t2" d="M157.6 199l.3-.2.4-.3.3-.3.3-.4.3-.4.4-.4.3-.5.3-.9"/><path class="tb" d="M160.2 195.6l.3-.9"/><path class="t2" d="M160.2 195.6l.3-.9"/><path class="tb" d="M89.1 195.5l.3.1.4.1.3.1.3 0 .3.1.4.1.3 0 .3 0"/><path class="t2" d="M89.1 195.5l.3.1.4.1.3.1.3 0 .3.1.4.1.3 0 .3 0"/><path d="M176.8 212.5l2.1 0-27.2-10.4-2.1 0z" fill="#7281fa"/><path d="M127.7 197.5l2.1-1.2-27.2-9.4-2.1 1.2z" fill="#40b4e6"/><path d="M178.9 211.6l2-.5-27.2-11.3-2 .5z" fill="#617bfd"/><path class="tb" d="M102.2 187.4l.3-.2.3-.2.4-.2.3-.2.3-.2.3-.1.4-.2.3-.1"/><path class="t1" d="M102.2 187.4l.3-.2.3-.2.4-.2.3-.2.3-.2.3-.1.4-.2.3-.1"/><path class="tb" d="M152.4 200.3l.3-.1.3-.1.4 0 .3-.1.3-.1.3-.1.4 0 .3-.1"/><path class="t2" d="M152.4 200.3l.3-.1.3-.1.4 0 .3-.1.3-.1.3-.1.4 0 .3-.1"/><path d="M185 207.9l2.1-6.5-27.2-4.1-2.1 1z" fill="#629bfd"/><path d="M125.7 198.7l2-1.2-27.2-9.4-2 1.1z" fill="#56b8ea"/><path class="tb" d="M99.6 188.9l.3-.2.3-.2.3-.1.4-.2.3-.2.3-.2.4-.2.3-.2"/><path class="t1" d="M99.6 188.9l.3-.2.3-.2.3-.1.4-.2.3-.2.3-.2.4-.2.3-.2"/><path d="M95.4 221l.9-1.5-27.3-10.3-.8 1.5z" fill="#988fe5"/><path d="M123.6 200.2l2.1-1.5-27.2-9.5-2.1 1.1z" fill="#45acea"/><path class="tb" d="M96.9 190.3l.4-.2.3-.2.3-.2.4-.1.3-.2.3-.2.3-.1.4-.2"/><path class="t1" d="M96.9 190.3l.4-.2.3-.2.3-.2.4-.1.3-.2.3-.2.3-.1.4-.2"/><path d="M123.6 199.8l2.1-.4-27.2-10.3-2.1.3z" fill="#45adea"/><path d="M121.6 201.6l2-1.5-27.2-9.8-2 1.1z" fill="#59b0ef"/><path d="M180.9 208.5l2.1.4-27.2-10.3-2.1-.4z" fill="#6a92ff"/><path class="tb" d="M96.9 189.5l.4-.1.3 0 .3-.1.4 0 .3-.1.3 0 .3-.1.4 0"/><path class="t3" d="M96.9 189.5l.4-.1.3 0 .3-.1.4 0 .3-.1.3 0 .3-.1.4 0"/><path class="m" d="M68.5 210.3a2.3 2.3 0 1 0 .1 0M69.1 208.3a2.3 2.3 0 1 0 .1 0M69.8 206.3a2.3 2.3 0 1 0 .1 0M70.4 204.3a2.3 2.3 0 1 0 .1 0M71.1 202.3a2.3 2.3 0 1 0 .1 0" fill="#0072BD"/><path class="tb" d="M155 198.5l.3.1.3 0 .4.1.3 0 .3 0 .4 0 .3-.1.3-.1"/><path class="t3" d="M155 198.5l.3.1.3 0 .4.1.3 0 .3 0 .4 0 .3-.1.3-.1"/><path d="M96.2 220.4l.9-2.5-27.2-10.4-.9 2.5z" fill="#a39eee"/><path d="M119.5 202.7l2.1-1.2-27.2-10.2-2.1 1z" fill="#49a4f0"/><path class="tb" d="M94.3 191.6l.4-.1.3-.2.3-.2.3-.1.4-.2.3-.2.3-.2.3-.1"/><path class="t1" d="M94.3 191.6l.4-.1.3-.2.3-.2.3-.1.4-.2.3-.2.3-.2.3-.1"/><path d="M140 190.3l2 .4-27.2-16.6-2 .3z" fill="#4ccdb4"/><path d="M176.8 211.6l2.1-.1-27.2-11.3-2.1.1z" fill="#7089fd"/><path d="M96.2 219.6l.9-1.7-27.2-10.4-.9 1.7z" fill="#a49ff0"/><path d="M117.5 203.7l2.1-1-27.3-10.4-2 1z" fill="#5daaf4"/><path d="M174.8 212.2l2.1.3-27.3-10.4-2-.3z" fill="#6277fc"/><path class="tb" d="M91.7 192.9l.3-.2.4-.1.3-.2.3-.2.4-.1.3-.2.3-.1.3-.2"/><path class="t1" d="M91.7 192.9l.3-.2.4-.1.3-.2.3-.2.4-.1.3-.2.3-.1.3-.2"/><path class="tb" d="M149.8 202.2l.3 0 .3.1.3 0 .4 0 .3 0 .3-.1.3 0 .4-.1"/><path class="t4" d="M149.8 202.2l.3 0 .3.1.3 0 .4 0 .3 0 .3-.1.3 0 .4-.1"/><path d="M117.5 202.5l2 1.7-27.2-11.3-2-1.6z" fill="#5dacf2"/><path d="M187.1 201.5l.4-2.3-27.2-2.2-.5.3z" fill="#4c9ef4"/><path class="tb" d="M91.7 192.4l.3.2.4.2.3.2.3.2.4.1.3.1.3.1.3.1"/><path class="t4" d="M91.7 192.4l.3.2.4.2.3.2.3.2.4.1.3.1.3.1.3.1"/><path d="M121.6 200l2-.3-27.2-10.3-2 .3z" fill="#57b6eb"/><path d="M113.4 205.7l2.1.8-27.2-11.3-2.1-.8z" fill="#5fa1fa"/><path class="tb" d="M157.6 198.5l.3-.1.4-.1.3-.1.3-.2.3-.1.4-.2.3-.1.3-.3"/><path class="t3" d="M157.6 198.5l.3-.1.4-.1.3-.1.3-.2.3-.1.4-.2.3-.1.3-.3"/><path class="tb" d="M160.2 197.3l.3-.3"/><path class="t3" d="M160.2 197.3l.3-.3"/><path class="tb" d="M86.5 194.5l.3.2.3.2.4.1.3.1.3.1.3.1.4.1.3.1"/><path class="t2" d="M86.5 194.5l.3.2.3.2.4.1.3.1.3.1.3.1.4.1.3.1"/><path d="M115.5 204.5l2-.8-27.2-10.4-2.1.8z" fill="#4c9ef4"/><path class="tb" d="M89.1 194l.3-.1.4-.1.3-.2.3-.1.3-.2.4-.1.3-.2.3-.1"/><path class="t1" d="M89.1 194l.3-.1.4-.1.3-.2.3-.1.3-.2.4-.1.3-.2.3-.1"/><path d="M95.4 219.2l.9-1.4-27.3-10.4-.8 1.4z" fill="#9a96f0"/><path class="m" d="M68.5 208.5a2.3 2.3 0 1 0 .1 0M69.4 206.7a2.3 2.3 0 1 0 .1 0M70.4 204.5a2.3 2.3 0 1 0 .1 0M71.1 202.3a2.3 2.3 0 1 0 .1 0M71.7 200.4a2.3 2.3 0 1 0 .1 0" fill="#D95319"/><path d="M178.9 208.3l2 .2-27.2-10.3-2-.3z" fill="#548cfe"/><path class="tb" d="M152.4 198l.3 0 .3.1.4 0 .3.1.3.1.3 0 .4.1.3.1"/><path class="t3" d="M152.4 198l.3 0 .3.1.4 0 .3.1.3.1.3 0 .4.1.3.1"/><path d="M137.9 189.8l2.1.5-27.2-16-2.1.6z" fill="#60d3b8"/><path class="tb" d="M112.6 174.6l.4-.1.3-.1.3 0 .4-.1.3 0 .3 0 .3-.1.4 0"/><path class="t0" d="M112.6 174.6l.4-.1.3-.1.3 0 .4-.1.3 0 .3 0 .3-.1.4 0"/><path d="M113.4 204.9l2.1-.5-27.2-10.3-2.1.5z" fill="#5ea7f6"/><path d="M97.1 217.9l.8-2.5-27.2-10.4-.9 2.6z" fill="#9a9df6"/><path d="M174.8 211.3l2.1.3-27.3-11.3-2-.3z" fill="#5e80fe"/><path d="M183 204.5l2-1.6-27.2-6.8-2 .4z" fill="#4d9bf6"/><path class="tb" d="M86.5 194.7l.3-.1.3-.1.4 0 .3-.1.3-.1.3-.1.4-.1.3-.1"/><path class="t1" d="M86.5 194.7l.3-.1.3-.1.4 0 .3-.1.3-.1.3-.1.4-.1.3-.1"/><path d="M97.1 217.9l.8-2.7-27.2-10.2-.9 2.6z" fill="#9a9df7"/><path class="tb" d="M149.8 200.4l.3 0 .3 0 .3 0 .4 0 .3 0 .3 0 .3 0 .4-.1"/><path class="t2" d="M149.8 200.4l.3 0 .3 0 .3 0 .4 0 .3 0 .3 0 .3 0 .4-.1"/><path d="M119.5 200.3l2.1-.3-27.2-10.4-2.1.3z" fill="#44afe8"/><path class="tb" d="M94.3 189.8l.4 0 .3-.1.3 0 .3-.1.4 0 .3-.1.3 0 .3 0"/><path class="t3" d="M94.3 189.8l.4 0 .3-.1.3 0 .3-.1.4 0 .3-.1.3 0 .3 0"/><path d="M172.8 212.1l2 .1-27.2-10.4-2-.1z" fill="#7089fd"/><path d="M96.2 217.8l.9-1.8-27.2-10.3-.9 1.7z" fill="#a4a6f7"/><path class="tb" d="M147.1 201.9l.4 0 .3 0 .3.1.4 0 .3.1.3 0 .3.1.4 0"/><path class="t4" d="M147.1 201.9l.4 0 .3 0 .3.1.4 0 .3.1.3 0 .3.1.4 0"/><path d="M111.4 205.4l2-.5-27.2-10.3-2 .5z" fill="#4d9df5"/><path d="M180.9 204.1l2.1.4-27.2-8-2.1.1z" fill="#5fa5f7"/><path class="tb" d="M155 196.7l.3 0 .3-.1.4 0 .3 0 .3-.1.4 0 .3-.1.3-.1"/><path class="t1" d="M155 196.7l.3 0 .3-.1.4 0 .3 0 .3-.1.4 0 .3-.1.3-.1"/><path d="M135.9 189.4l2 .4-27.1-14.9-2.1.9z" fill="#51cfad"/><path class="tb" d="M110 175.4l.4-.1.3-.1.3-.1.3-.1.4-.1.3-.1.3-.1.3-.1"/><path class="t0" d="M110 175.4l.4-.1.3-.1.3-.1.3-.1.4-.1.3-.1.3-.1.3-.1"/><path d="M176.8 208.3l2.1-.1-27.2-10.3-2.1 0z" fill="#629bfd"/><path class="m" d="M68.5 206.6a2.3 2.3 0 1 0 .1 0M69.4 204.9a2.3 2.3 0 1 0 .1 0M70.4 202.3a2.3 2.3 0 1 0 .1 0M70.7 200.7a2.3 2.3 0 1 0 .1 0M71.1 198.9a2.3 2.3 0 1 0 .1 0" fill="#EDB120"/><path d="M117.5 200.4l2-.2-27.2-10.3-2 .2z" fill="#55b8ea"/><path d="M111.4 204.5l2 1.2-27.2-11.3-2-1.2z" fill="#4ba0f2"/><path class="tb" d="M91.7 190.1l.3 0 .4-.1.3 0 .3 0 .4-.1.3 0 .3-.1.3 0"/><path class="t3" d="M91.7 190.1l.3 0 .4-.1.3 0 .3 0 .4-.1.3 0 .3-.1.3 0"/><path d="M172.8 211.2l2 .1-27.2-11.3-2-.1z" fill="#6b91ff"/><path class="tb" d="M147.1 200l.4.1.3 0 .3 0 .4.1.3 0 .3.1.3 0 .4.1"/><path class="t2" d="M147.1 200l.4.1.3 0 .3 0 .4.1.3 0 .3.1.3 0 .4.1"/><path d="M170.7 212.2l2.1-.1-27.2-10.4-2.1.1z" fill="#5f7ffe"/><path class="tb" d="M144.5 201.9l.4-.1.3 0 .3 0 .3 0 .4 0 .3 0 .3 0 .3.1"/><path class="t4" d="M144.5 201.9l.4-.1.3 0 .3 0 .3 0 .4 0 .3 0 .3 0 .3.1"/><path d="M95.4 217.4l.9-2.8-27.3-10.4-.8 2.8z" fill="#9aa1fa"/><path d="M97.9 215.4l.8-2.5-27.2-10.4-.8 2.6z" fill="#a4affd"/><path d="M109.3 205.9l2.1-.5-27.2-10.4-2.1.5z" fill="#5ea7f6"/><path d="M97.9 215.3l.8-2.4-27.2-10.4-.8 2.5z" fill="#a4affd"/><path class="tb" d="M83.9 195.3l.3-.1.3-.1.4 0 .3-.1.3-.1.3-.1.4 0 .3-.1"/><path class="t1" d="M83.9 195.3l.3-.1.3-.1.4 0 .3-.1.3-.1.3-.1.4 0 .3-.1"/><path d="M185 203l2.1-11.5-27.3 3.5-2 1.1z" fill="#57b5eb"/><path d="M115.5 200.4l2 2.1-27.2-11.2-2-2.2z" fill="#43b0e8"/><path d="M133.8 189.3l2.1.1-27.2-13.6-2.1 1z" fill="#63d4b4"/><path class="tb" d="M89.1 189.9l.3.3.4.4.3.3.3.3.3.4.4.3.3.2.3.3"/><path class="t4" d="M89.1 189.9l.3.3.4.4.3.3.3.3.3.4.4.3.3.2.3.3"/><path class="tb" d="M107.4 176.6l.3-.1.4-.2.3-.1.3-.2.3-.1.4-.2.3-.1.3-.2"/><path class="t0" d="M107.4 176.6l.3-.1.4-.2.3-.1.3-.2.3-.1.4-.2.3-.1.3-.2"/><path d="M97.1 216.1l.8-3.4-27.2-10.8-.9 3.8z" fill="#99a7fd"/><path d="M108.5 206.1l.8-.2-27.2-10.4-.8.2z" fill="#4d9df5"/><path d="M174.8 208.4l2.1-.1-27.3-10.4-2 .1z" fill="#4f93fb"/><path d="M178.9 203.6l2.1.5-27.3-7.5-2-.1z" fill="#4ca0f3"/><path class="tb" d="M149.8 198l.3 0 .3 0 .3 0 .4 0 .3 0 .3 0 .3 0 .4 0"/><path class="t3" d="M149.8 198l.3 0 .3 0 .3 0 .4 0 .3 0 .3 0 .3 0 .4 0"/><path d="M183 205.4l2-.8-27.1-16.6-2.1 3z" fill="#45abea"/><path d="M115.5 200.5l2-.1-27.2-10.3-2.1 0z" fill="#41b3e7"/><path class="tb" d="M152.4 196.6l.3 0 .3 0 .4.1.3 0 .3 0 .3 0 .4 0 .3 0"/><path class="t1" d="M152.4 196.6l.3 0 .3 0 .4.1.3 0 .3 0 .3 0 .4 0 .3 0"/><path d="M180.9 205l2.1.4-27.2-14.4-2.1 2.3z" fill="#5aaff0"/><path class="tb" d="M89.1 190.2l.3 0 .4 0 .3 0 .3 0 .3 0 .4-.1.3 0 .3 0"/><path class="t3" d="M89.1 190.2l.3 0 .4 0 .3 0 .3 0 .3 0 .4-.1.3 0 .3 0"/><path class="tb" d="M155 192.4l.3-.3.3-.4.4-.5.3-.4.3-.4.4-.4.3-.5.3-.5"/><path class="t0" d="M155 192.4l.3-.3.3-.4.4-.5.3-.4.3-.4.4-.4.3-.5.3-.5"/><path d="M107.7 206.3l.8-.2-27.2-10.4-.8.2z" fill="#5ea7f6"/><path d="M131.8 189.9l2.1-.6-27.2-12.6-2.1 1.3z" fill="#51cfad"/><path class="tb" d="M81.3 195.9l.3-.1.3-.1.3 0 .4-.1.3-.1.3-.1.3 0 .4-.1"/><path class="t1" d="M81.3 195.9l.3-.1.3-.1.3 0 .4-.1.3-.1.3-.1.3 0 .4-.1"/><path d="M168.7 212.3l2-.2-27.2-10.3-2 .1z" fill="#6d8efe"/><path d="M170.7 211.2l2.1 0-27.2-11.3-2.1.1z" fill="#5789fe"/><path class="tb" d="M141.9 202l.3 0 .4 0 .3-.1.3 0 .3 0 .4 0 .3 0 .3 0"/><path class="t4" d="M141.9 202l.3 0 .4 0 .3-.1.3 0 .3 0 .4 0 .3 0 .3 0"/><path class="tb" d="M144.5 200l.4 0 .3 0 .3 0 .3 0 .4 0 .3 0 .3 0 .3 0"/><path class="t2" d="M144.5 200l.4 0 .3 0 .3 0 .3 0 .4 0 .3 0 .3 0 .3 0"/><path d="M127.7 192.5l2.1-1.4-27.2-11.5-2.1 1.7z" fill="#42cabc"/><path d="M129.8 191.1l2-1.3-27.2-11.9-2 1.8z" fill="#5ed2bb"/><path d="M125.7 193.6l2-1.1-27.2-11.2-2 1.2z" fill="#4acdc9"/><path d="M106.9 206.5l.8-.2-27.2-10.4-.8.2z" fill="#4d9df5"/><path class="tb" d="M102.2 180.3l.3-.3.3-.2.4-.3.3-.3.3-.3.3-.3.4-.2.3-.3"/><path class="t0" d="M102.2 180.3l.3-.3.3-.2.4-.3.3-.3.3-.3.3-.3.4-.2.3-.3"/><path class="tb" d="M104.8 178.1l.3-.2.4-.2.3-.2.3-.2.3-.2.4-.1.3-.2.3-.2"/><path class="t0" d="M104.8 178.1l.3-.2.4-.2.3-.2.3-.2.3-.2.4-.1.3-.2.3-.2"/><path class="tb" d="M99.6 182.2l.3-.2.3-.2.3-.2.4-.2.3-.3.3-.2.4-.3.3-.3"/><path class="t0" d="M99.6 182.2l.3-.2.3-.2.3-.2.4-.2.3-.3.3-.2.4-.3.3-.3"/><path d="M98.7 213l.8-1.9-27.2-10.3-.8 1.8z" fill="#96afff"/><path d="M98.7 213l.8-1.8-27.2-10.9-.8 2.3z" fill="#95afff"/><path d="M178.9 204.5l2 .5-27.2-11.7-2 1z" fill="#48a5ef"/><path class="tb" d="M152.4 194.3l.3-.1.3-.1.4-.2.3-.2.3-.3.3-.3.4-.3.3-.4"/><path class="t0" d="M152.4 194.3l.3-.1.3-.1.4-.2.3-.2.3-.3.3-.3.4-.3.3-.4"/><path d="M106.1 206.7l.8-.2-27.2-10.4-.9.2z" fill="#5ea7f6"/><path d="M123.6 194.5l2.1-.9-27.2-11.1-2.1.9z" fill="#2ec6c8"/><path class="tb" d="M96.9 183.4l.4-.2.3-.1.3-.1.4-.2.3-.1.3-.2.3-.1.4-.2"/><path class="t0" d="M96.9 183.4l.4-.2.3-.1.3-.1.4-.2.3-.1.3-.2.3-.1.4-.2"/><path d="M109.3 203.5l2.1 1-27.2-11.3-2.1-1z" fill="#59b2ee"/><path d="M172.8 208.4l2 0-27.2-10.4-2 0z" fill="#5fa0fa"/><path class="tb" d="M83.9 193l.3.2.3.2.4.2.3.2.3.2.3.2.4.2.3.1"/><path class="t2" d="M83.9 193l.3.2.3.2.4.2.3.2.3.2.3.2.4.2.3.1"/><path class="tb" d="M147.1 198.1l.4 0 .3 0 .3 0 .4 0 .3 0 .3 0 .3-.1.4 0"/><path class="t3" d="M147.1 198.1l.4 0 .3 0 .3 0 .4 0 .3 0 .3 0 .3-.1.4 0"/><path d="M105.2 206.8l.9-.2-27.3-10.3-.8.2z" fill="#4d9df5"/><path d="M96.2 214.6l.9-3.1-27.2-10.4-.9 3.2z" fill="#a1b5fe"/><path class="tb" d="M78.6 196.5l.4-.1.3 0 .3-.1.3-.1.4-.1.3-.1.3 0 .4-.1"/><path class="t1" d="M78.6 196.5l.4-.1.3 0 .3-.1.3-.1.4-.1.3-.1.3 0 .4-.1"/><path class="m" d="M68.5 204.8a2.3 2.3 0 1 0 .1 0M69.1 202.6a2.3 2.3 0 1 0 .1 0M69.8 200.3a2.3 2.3 0 1 0 .1 0M70.4 197.2a2.3 2.3 0 1 0 .1 0M70.7 195.1a2.3 2.3 0 1 0 .1 0" fill="#7E2F8E"/><path d="M166.6 212.6l2.1-.3-27.2-10.4-2.1.3z" fill="#5c83ff"/><path d="M121.6 195.4l2-.9-27.2-11.2-2 .9z" fill="#3fcbd0"/><path d="M113.4 200.1l2.1.4-27.3-10.4-2-.4z" fill="#52bde7"/><path d="M99.5 211.2l.8-1.4-27.2-10.4-.8 1.4z" fill="#6499fe"/><path d="M168.7 211.4l2-.2-27.2-11.3-2 .2z" fill="#6697fe"/><path d="M176.9 203.1l2 .5-27.2-7.1-2.1-.3z" fill="#5baef1"/><path class="tb" d="M86.5 189.8l.3.1.3.1.4.1.3 0 .3.1.3 0 .4 0 .3 0"/><path class="t3" d="M86.5 189.8l.3.1.3.1.4.1.3 0 .3.1.3 0 .4 0 .3 0"/><path d="M104.4 207l.8-.2-27.2-10.3-.8.2z" fill="#5ea7f6"/><path class="tb" d="M141.9 200.2l.3 0 .4-.1.3 0 .3 0 .3 0 .4 0 .3-.1.3 0"/><path class="t2" d="M141.9 200.2l.3 0 .4-.1.3 0 .3 0 .3 0 .4 0 .3-.1.3 0"/><path class="m" d="M72.7 198.3a2.3 2.3 0 1 0 .1 0M73.7 196.8a2.3 2.3 0 1 0 .1 0M75 195.3a2.3 2.3 0 1 0 .1 0" fill="#D95319"/><path d="M99.5 211.2l.8-1.4-27.2-11.3-.8 1.9z" fill="#629bfd"/><path class="m" d="M71.7 200.4a2.3 2.3 0 1 0 .1 0M72.4 198.6a2.3 2.3 0 1 0 .1 0M73 197a2.3 2.3 0 1 0 .1 0M74 195.3a2.3 2.3 0 1 0 .1 0M75 193.9a2.3 2.3 0 1 0 .1 0" fill="#0072BD"/><path d="M103.6 207.2l.8-.2-27.2-10.3-.8.2z" fill="#4d9df5"/><path d="M119.5 196.3l2.1-.9-27.2-11.3-2.1.9z" fill="#28c4ce"/><path class="tb" d="M94.3 184.4l.4-.1.3-.2.3-.1.3-.1.4-.1.3-.2.3-.1.3-.1"/><path class="t0" d="M94.3 184.4l.4-.1.3-.2.3-.1.3-.1.4-.1.3-.2.3-.1.3-.1"/><path d="M100.3 209.8l.9-1-27.3-10.4-.8 1.1z" fill="#4e94fb"/><path d="M176.9 204.1l2 .4-27.2-10.2-2.1-.5z" fill="#59b1ee"/><path d="M102.8 207.4l.8-.2-27.2-10.4-.8.2z" fill="#5ea7f6"/><path d="M164.6 213.2l2-.6-27.2-10.4-2 .6z" fill="#6c90ff"/><path class="tb" d="M76 197.1l.3-.1.4 0 .3-.1.3-.1.4-.1.3 0 .3-.1.3-.1"/><path class="t1" d="M76 197.1l.3-.1.4 0 .3-.1.3-.1.4-.1.3 0 .3-.1.3-.1"/><path class="tb" d="M139.3 202.4l.3-.1.3 0 .4-.1.3 0 .3-.1.4 0 .3-.1.3 0"/><path class="t4" d="M139.3 202.4l.3-.1.3 0 .4-.1.3 0 .3-.1.4 0 .3-.1.3 0"/><path d="M97.9 212.8l.8-3.6-27.2-11.2-.8 4z" fill="#9abdfe"/><path d="M185 204.6l2.1-6.8-27.2-15.7-2.1 5.9z" fill="#47c4df"/><path d="M101.1 208.8l.9-.9-27.2-10.4-.9.9z" fill="#5fa3f9"/><path d="M187.1 191.6l.4-4.2-27.2 7.4-.5.3z" fill="#7bd8e6"/><path class="tb" d="M157.6 189l.3-.5.4-.7.3-.8.3-.8.3-.9.4-.9"/><path class="t0" d="M157.6 189l.3-.5.4-.7.3-.8.3-.8.3-.9.4-.9"/><path d="M170.7 208.3l2.1.1-27.2-10.4-2.1 0z" fill="#4d99f8"/><path d="M102 207.9l.8-.5-27.2-10.4-.8.5z" fill="#4d9cf6"/><path class="tb" d="M157.6 196.3l.3-.1.4-.1.3-.2.3-.1.3-.2.4-.1.3-.2.3-.3"/><path class="t1" d="M157.6 196.3l.3-.1.4-.1.3-.2.3-.1.3-.2.4-.1.3-.2.3-.3"/><path class="tb" d="M160.2 195l.3-.3"/><path class="t1" d="M160.2 195l.3-.3"/><path d="M117.5 197.1l2-.8-27.2-11.3-2 .8z" fill="#3dc9d5"/><path class="tb" d="M144.5 198.1l.4 0 .3 0 .3 0 .3 0 .4 0 .3 0 .3 0 .3 0"/><path class="t3" d="M144.5 198.1l.4 0 .3 0 .3 0 .3 0 .4 0 .3 0 .3 0 .3 0"/><path d="M100.3 209.8l.9-1.3-27.2-11.3-.9 1.3z" fill="#4d98f9"/><path class="tb" d="M91.7 185.4l.3-.1.4-.1.3-.1.3-.2.4-.1.3-.2.3-.1.3-.1"/><path class="t0" d="M91.7 185.4l.3-.1.4-.1.3-.1.3-.2.4-.1.3-.2.3-.1.3-.1"/><path d="M166.6 211.7l2.1-.3-27.2-11.3-2.1.3z" fill="#538dfd"/><path d="M113.4 198.6l2.1 1.8-27.3-11.3-2-2.3z" fill="#4ac3e0"/><path d="M108.5 203l.8.5-27.2-11.3-.8-.5z" fill="#43b0e8"/><path class="tb" d="M86.5 187l.3.4.3.3.4.4.3.4.3.3.3.4.4.3.3.4"/><path class="t4" d="M86.5 187l.3.4.3.3.4.4.3.4.3.3.3.4.4.3.3.4"/><path d="M162.5 214.1l2.1-.9-27.2-10.4-2.1.9z" fill="#5d82fe"/><path class="tb" d="M136.7 203.3l.3-.1.3-.1.4-.2.3-.1.3-.1.3-.1.4-.1.3-.1"/><path class="t4" d="M136.7 203.3l.3-.1.3-.1.4-.2.3-.1.3-.1.3-.1.4-.1.3-.1"/><path d="M115.4 198l2.1-.9-27.2-11.3-2.1.9z" fill="#28c2d3"/><path class="tb" d="M89.1 186.5l.3-.1.4-.2.3-.1.3-.1.3-.2.4-.1.3-.1.3-.2"/><path class="t0" d="M89.1 186.5l.3-.1.4-.2.3-.1.3-.1.3-.2.4-.1.3-.1.3-.2"/><path d="M101.1 208.6l.9-1.2-27.2-11.3-.9 1.1z" fill="#5ea8f5"/><path d="M174.8 202.7l2.1.4-27.3-6.9-2-.4z" fill="#46aaec"/><path class="tb" d="M149.8 196.3l.3.1.3 0 .3.1.4 0 .3.1.3 0 .3 0 .4 0"/><path class="t1" d="M149.8 196.3l.3.1.3 0 .3.1.4 0 .3.1.3 0 .3 0 .4 0"/><path d="M111.4 199l2 1-27.2-10.3-2-1z" fill="#37bcde"/><path d="M160.5 214.9l2.1-.8-27.3-10.4-2 .8z" fill="#6f8cfe"/><path d="M113.4 199.1l2.1-1.2-27.2-11.3-2.1 1.2z" fill="#41c6db"/><path class="tb" d="M134.1 204.5l.3-.2.3-.1.3-.1.4-.2.3-.1.3-.2.4-.1.3-.2"/><path class="t4" d="M134.1 204.5l.3-.2.3-.1.3-.1.4-.2.3-.1.3-.2.4-.1.3-.2"/><path d="M102 207.4l.8-.9-27.2-11.3-.8.9z" fill="#4aa3f0"/><path d="M164.6 212.3l2-.6-27.2-11.3-2 .6z" fill="#6499fd"/><path class="tb" d="M86.5 187.9l.3-.2.3-.2.4-.2.3-.2.3-.1.3-.2.4-.1.3-.2"/><path class="t0" d="M86.5 187.9l.3-.2.3-.2.4-.2.3-.2.3-.1.3-.2.4-.1.3-.2"/><path class="tb" d="M139.3 200.6l.3-.1.3-.1.4 0 .3-.1.3 0 .4-.1.3 0 .3 0"/><path class="t2" d="M139.3 200.6l.3-.1.3-.1.4 0 .3-.1.3 0 .4-.1.3 0 .3 0"/><path d="M107.7 202.6l.8.4-27.2-11.3-.8-.4z" fill="#54bae9"/><path class="tb" d="M81.3 191.7l.3.1.3.2.3.2.4.2.3.1.3.2.3.2.4.1"/><path class="t2" d="M81.3 191.7l.3.1.3.2.3.2.4.2.3.1.3.2.3.2.4.1"/><path d="M111.4 200.3l2-1.3-27.2-11.3-2 1.4z" fill="#34bddc"/><path d="M102.8 206.5l.8-.8-27.2-11.3-.8.8z" fill="#5ab0ef"/><path d="M109.3 201.7l2.1-1.4-27.2-11.3-2.1 1.4z" fill="#4fc0e4"/><path d="M168.7 208.2l2 .1-27.2-10.4-2-.1z" fill="#5ea7f6"/><path d="M103.6 205.8l.8-.7-27.2-11.3-.8.7z" fill="#46aaeb"/><path class="tb" d="M83.9 189.5l.3-.2.3-.2.4-.2.3-.2.3-.2.3-.2.4-.2.3-.2"/><path class="t0" d="M83.9 189.5l.3-.2.3-.2.4-.2.3-.2.3-.2.3-.2.4-.2.3-.2"/><path d="M108.5 202.2l.8-.6-27.2-11.3-.8.6z" fill="#3eb6e4"/><path d="M104.4 205.1l.8-.6-27.2-11.3-.8.6z" fill="#58b4ec"/><path d="M107.7 202.8l.8-.6-27.2-11.3-.8.6z" fill="#53bce8"/><path class="tb" d="M141.9 197.9l.3 0 .4.1.3 0 .3 0 .3 0 .4.1.3 0 .3 0"/><path class="t3" d="M141.9 197.9l.3 0 .4.1.3 0 .3 0 .3 0 .4.1.3 0 .3 0"/><path d="M105.2 204.5l.9-.6-27.2-11.3-.9.6z" fill="#44aee9"/><path d="M106.1 203.9l.8-.6-27.2-11.3-.9.6z" fill="#55b8ea"/><path d="M106.9 203.3l.8-.6-27.2-11.3-.8.6z" fill="#41b3e6"/><path class="tb" d="M81.3 191.2l.3-.2.3-.2.3-.2.4-.2.3-.2.3-.3.3-.2.4-.2"/><path class="t0" d="M81.3 191.2l.3-.2.3-.2.3-.2.4-.2.3-.2.3-.3.3-.2.4-.2"/><path class="tb" d="M76 195.2l.3-.3.4-.3.3-.3.3-.3.4-.2.3-.2.3-.3.3-.2"/><path class="t0" d="M76 195.2l.3-.3.4-.3.3-.3.3-.3.4-.2.3-.2.3-.3.3-.2"/><path d="M174.8 203.7l2.1.4-27.3-10.3-2-1.2z" fill="#44aee9"/><path class="tb" d="M78.6 193.1l.4-.3.3-.2.3-.2.3-.3.4-.2.3-.2.3-.2.4-.3"/><path class="t0" d="M78.6 193.1l.4-.3.3-.2.3-.2.3-.3.4-.2.3-.2.3-.2.4-.3"/><path class="tb" d="M149.8 193.8l.3.2.3.1.3.1.4.1.3.1.3 0 .3 0 .4-.1"/><path class="t0" d="M149.8 193.8l.3.2.3.1.3.1.4.1.3.1.3 0 .3 0 .4-.1"/><path d="M158.5 215.4l2-.5-27.2-10.4-2.1.5z" fill="#5f7efe"/><path d="M162.5 213l2.1-.8-27.2-11.3-2.1.9z" fill="#548cfe"/><path class="tb" d="M136.7 201.4l.3-.1.3-.1.4-.1.3-.1.3-.2.3 0 .4-.1.3-.1"/><path class="t2" d="M136.7 201.4l.3-.1.3-.1.4-.1.3-.1.3-.2.3 0 .4-.1.3-.1"/><path d="M97 211.5l.9-4.9-27.2-10.4-.9 5z" fill="#9dc8fb"/><path d="M106.9 202.3l.8.3-27.2-11.3-.8-.3z" fill="#3fb6e4"/><path d="M95.4 214.7l.9-8.6-27.2-11.9-.9 10.1z" fill="#a7cbfc"/><path d="M98.7 209.3l.8-2.3-27.2-11.4-.8 2.4z" fill="#8bc2f7"/><path d="M160.5 213.9l2-.9-27.2-11.3-2 .9z" fill="#6795fe"/><path class="tb" d="M134.1 202.5l.3-.1.3-.2.3-.1.4-.1.3-.2.3-.1.4-.1.3-.2"/><path class="t2" d="M134.1 202.5l.3-.1.3-.2.3-.1.4-.1.3-.2.3-.1.4-.1.3-.2"/><path d="M172.8 202.3l2 .4-27.2-6.9-2.1-.5z" fill="#57b7eb"/><path class="tb" d="M147.1 195.7l.4.1.3 0 .3.1.4.1.3.1.3 0 .3.1.4.1"/><path class="t1" d="M147.1 195.7l.4.1.3 0 .3.1.4.1.3.1.3 0 .3.1.4.1"/><path d="M156.4 215.6l2.1-.3-27.2-10.3-2.1.2z" fill="#6f8cfe"/><path class="tb" d="M131.4 205.1l.4-.1.3 0 .3-.1.4-.1.3 0 .3-.1.3-.1.4-.1"/><path class="t4" d="M131.4 205.1l.4-.1.3 0 .3-.1.4-.1.3 0 .3-.1.3-.1.4-.1"/><path d="M106.1 202.1l.8.2-27.2-11.3-.9-.2z" fill="#50bfe5"/><path d="M166.6 208.1l2.1.1-27.2-10.4-2.1-.1z" fill="#4ba0f2"/><path d="M158.4 214.7l2.1-.8-27.2-11.3-2.1.8z" fill="#5987ff"/><path class="tb" d="M184.3 211l.3-.2.3-.3.3-.3.4-.4.3-.4.3-.4.3-.6.4-.8"/><path class="t4" d="M184.3 211l.3-.2.3-.3.3-.3.4-.4.3-.4.3-.4.3-.6.4-.8"/><path class="m" d="M71.4 197.1a2.3 2.3 0 1 0 .1 0M72 194.8a2.3 2.3 0 1 0 .1 0M72.7 193.1a2.3 2.3 0 1 0 .1 0M73.7 191.2a2.3 2.3 0 1 0 .1 0M74.7 189.5a2.3 2.3 0 1 0 .1 0" fill="#EDB120"/><path class="tb" d="M181.6 211.7l.4-.1.3-.1.3-.1.3 0 .4-.1.3-.1.3-.1.4-.1"/><path class="t4" d="M181.6 211.7l.4-.1.3-.1.3-.1.3 0 .4-.1.3-.1.3-.1.4-.1"/><path d="M109.3 197.9l2.1 1.1-27.2-10.3-2.1-1.2z" fill="#3ec8d7"/><path d="M187 197.9l.5-3.9-27.2-13.7-.4 1.9z" fill="#a3e5dd"/><path class="tb" d="M83.9 188.5l.3.1.3.2.4.2.3.2.3.1.3.2.4.2.3.1"/><path class="t3" d="M83.9 188.5l.3.1.3.2.4.2.3.2.3.1.3.2.4.2.3.1"/><path class="m" d="M159.5 182.1a2.3 2.3 0 1 0 .1 0M160.2 179.6a2.3 2.3 0 1 0 .1 0" fill="#0072BD"/><path d="M111.4 196.9l2 1.7-27.2-11.7-2-2.7z" fill="#2bc6ca"/><path d="M99.5 207l.8-1.8-27.2-11.3-.8 1.8z" fill="#58b4ed"/><path d="M156.4 215.5l2.1-.8-27.2-11.3-2.1.8z" fill="#6c91ff"/><path d="M105.2 201.9l.9.2-27.2-11.3-.9-.2z" fill="#3bbae0"/><path d="M172.8 203.4l2 .3-27.2-11.1-2-1z" fill="#52bce8"/><path class="tb" d="M131.4 203.5l.4-.1.3-.1.3-.2.4-.1.3-.1.3-.1.3-.2.4-.1"/><path class="t2" d="M131.4 203.5l.4-.1.3-.1.3-.2.4-.1.3-.1.3-.1.3-.2.4-.1"/><path class="tb" d="M78.6 190.8l.4.1.3 0 .3.1.3.1.4.1.3.2.3.1.4.2"/><path class="t2" d="M78.6 190.8l.4.1.3 0 .3.1.3.1.4.1.3.2.3.1.4.2"/><path class="tb" d="M147.1 192.3l.4.2.3.2.3.2.4.2.3.2.3.2.3.2.4.1"/><path class="t0" d="M147.1 192.3l.4.2.3.2.3.2.4.2.3.2.3.2.3.2.4.1"/><path class="tb" d="M184.3 210.1l.3-.2.3-.3.3-.3.4-.4.3-.4.3-.5.3-.5.4-.8"/><path class="t2" d="M184.3 210.1l.3-.2.3-.3.3-.3.4-.4.3-.4.3-.5.3-.5.4-.8"/><path d="M154.4 215.7l2-.1-27.2-10.4-2 .1z" fill="#5e81fe"/><path class="tb" d="M181.6 210.7l.4 0 .3-.1.3-.1.3-.1.4 0 .3-.1.3-.1.4-.1"/><path class="t2" d="M181.6 210.7l.4 0 .3-.1.3-.1.3-.1.4 0 .3-.1.3-.1.4-.1"/><path class="tb" d="M128.8 205.4l.4-.1.3 0 .3 0 .3 0 .4-.1.3 0 .3 0 .3-.1"/><path class="t4" d="M128.8 205.4l.4-.1.3 0 .3 0 .3 0 .4-.1.3 0 .3 0 .3-.1"/><path d="M154.4 216.3l2-.8-27.2-11.3-2 .8z" fill="#5d82fe"/><path d="M104.4 201.8l.8.1-27.2-11.3-.8-.1z" fill="#4cc2e2"/><path class="tb" d="M128.8 204.6l.4-.1.3-.1.3-.2.3-.1.4-.2.3-.1.3-.1.3-.2"/><path class="t2" d="M128.8 204.6l.4-.1.3-.1.3-.2.3-.1.4-.2.3-.1.3-.1.3-.2"/><path d="M170.7 202l2.1.3-27.3-7-2-.5z" fill="#40b3e6"/><path d="M164.6 208.1l2 0-27.2-10.4-2 .1z" fill="#5cacf2"/><path class="tb" d="M144.5 195.1l.4.1.3.1.3 0 .3.1.4.1.3 0 .3.1.3.1"/><path class="t1" d="M144.5 195.1l.4.1.3.1.3 0 .3.1.4.1.3 0 .3.1.3.1"/><path class="tb" d="M139.3 197.8l.3 0 .3 0 .4 0 .3 0 .3.1.4 0 .3 0 .3 0"/><path class="t3" d="M139.3 197.8l.3 0 .3 0 .4 0 .3 0 .3.1.4 0 .3 0 .3 0"/><path class="tb" d="M179 212.3l.4-.1.3-.1.3-.1.3 0 .4-.1.3-.1.3-.1.3 0"/><path class="t4" d="M179 212.3l.4-.1.3-.1.3-.1.3 0 .4-.1.3-.1.3-.1.3 0"/><path class="tb" d="M186.9 207.6l.3-.9"/><path class="t4" d="M186.9 207.6l.3-.9"/><path d="M100.3 205.3l.9-1.5-27.2-11.3-.9 1.5z" fill="#41b3e6"/><path class="m" d="M68.5 202.1a2.3 2.3 0 1 0 .1 0M68.8 198.2a2.3 2.3 0 1 0 .1 0M69.1 194.1a2.3 2.3 0 1 0 .1 0M69.4 190.2a2.3 2.3 0 1 0 .1 0M69.8 186.5a2.3 2.3 0 1 0 .1 0" fill="#77AC30"/><path d="M103.6 201.8l.8 0-27.2-11.3-.8 0z" fill="#36bcdd"/><path d="M152.3 216.8l2.1-.5-27.2-11.3-2.1.5z" fill="#6e8efe"/><path class="tb" d="M126.2 205.5l.3-.1.4-.1.3-.1.3-.1.3-.1.4-.1.3-.2.3-.1"/><path class="t2" d="M126.2 205.5l.3-.1.4-.1.3-.1.3-.1.3-.1.4-.1.3-.2.3-.1"/><path d="M108.5 197.4l.8.5-27.2-10.4-.8-.5z" fill="#2bc6ca"/><path d="M101.1 203.8l.9-1.3-27.2-11.3-.9 1.3z" fill="#4fc0e4"/><path class="tb" d="M179 211.4l.4-.1.3-.1.3-.1.3 0 .4-.1.3-.1.3-.1.3-.1"/><path class="t2" d="M179 211.4l.4-.1.3-.1.3-.1.3 0 .4-.1.3-.1.3-.1.3-.1"/><path class="tb" d="M186.9 206.7l.3-.9"/><path class="t2" d="M186.9 206.7l.3-.9"/><path d="M152.3 215.7l2.1 0-27.2-10.4-2.1 0z" fill="#6c90ff"/><path d="M102.8 201.9l.8-.1-27.2-11.3-.8.1z" fill="#49c4e0"/><path class="tb" d="M126.2 205.5l.3-.1.4 0 .3 0 .3 0 .3 0 .4 0 .3 0 .3 0"/><path class="t4" d="M126.2 205.5l.3-.1.4 0 .3 0 .3 0 .3 0 .4 0 .3 0 .3 0"/><path class="tb" d="M76 190.7l.3 0 .4-.1.3 0 .3 0 .4.1.3 0 .3.1.3 0"/><path class="t2" d="M76 190.7l.3 0 .4-.1.3 0 .3 0 .4.1.3 0 .3.1.3 0"/><path class="m" d="M76 188.4a2.3 2.3 0 1 0 .1 0" fill="#EDB120"/><path d="M102 202.6l.8-.7-27.2-11.3-.8.7z" fill="#36bcdd"/><path d="M170.7 203l2.1.4-27.2-11.8-2.1-.6z" fill="#3abae0"/><path d="M162.5 208.3l2.1-.2-27.2-10.3-2.1.1z" fill="#48a6ee"/><path class="tb" d="M144.5 191.3l.4.1.3.1.3.1.3.1.4.2.3.1.3.1.3.2"/><path class="t0" d="M144.5 191.3l.4.1.3.1.3.1.3.1.4.2.3.1.3.1.3.2"/><path class="tb" d="M136.7 197.9l.3 0 .3 0 .4 0 .3 0 .3 0 .3 0 .4-.1.3 0"/><path class="t3" d="M136.7 197.9l.3 0 .3 0 .4 0 .3 0 .3 0 .3 0 .4-.1.3 0"/><path class="tb" d="M181.6 208.6l.4.1.3.1.3 0 .3 0 .4 0 .3 0 .3 0 .4-.3"/><path class="t3" d="M181.6 208.6l.4.1.3.1.3 0 .3 0 .4 0 .3 0 .3 0 .4-.3"/><path class="tb" d="M176.4 212.4l.3 0 .4 0 .3 0 .3 0 .3 0 .4 0 .3-.1.3 0"/><path class="t4" d="M176.4 212.4l.3 0 .4 0 .3 0 .3 0 .3 0 .4 0 .3-.1.3 0"/><path class="tb" d="M184.3 208.5l.3-.4.3-.7.3-.8.4-.9"/><path class="t3" d="M184.3 208.5l.3-.4.3-.7.3-.8.4-.9"/><path d="M150.3 217.3l2-.5-27.2-11.3-2 .5z" fill="#5e81fe"/><path class="tb" d="M123.6 206.1l.3-.1.4-.1.3-.1.3 0 .3-.1.4-.1.3-.1.3 0"/><path class="t2" d="M123.6 206.1l.3-.1.4-.1.3-.1.3 0 .3-.1.4-.1.3-.1.3 0"/><path d="M97.9 206.7l.8-4.8-27.2-10.4-.8 4.8z" fill="#9dd9f2"/><path d="M168.7 201.8l2 .2-27.2-7.2-2-.4z" fill="#50bfe5"/><path class="tb" d="M141.9 194.5l.3 0 .4.1.3.1.3.1.3.1.4 0 .3.1.3.1"/><path class="t1" d="M141.9 194.5l.3 0 .4.1.3.1.3.1.3.1.4 0 .3.1.3.1"/><path d="M107.7 196.8l.8.6-27.2-10.4-.8-.6z" fill="#49cdca"/><path class="tb" d="M81.3 186.9l.3.2.3.2.3.2.4.2.3.2.3.2.3.2.4.2"/><path class="t3" d="M81.3 186.9l.3.2.3.2.3.2.4.2.3.2.3.2.3.2.4.2"/><path class="tb" d="M176.4 211.4l.3.1.4 0 .3 0 .3 0 .3 0 .4 0 .3-.1.3 0"/><path class="t2" d="M176.4 211.4l.3.1.4 0 .3 0 .3 0 .3 0 .4 0 .3-.1.3 0"/><path d="M148.2 217.8l2.1-.5-27.2-11.3-2.1.5z" fill="#6e8dfe"/><path d="M150.3 215.5l2 .2-27.2-10.4-2-.2z" fill="#5888ff"/><path d="M160.5 208.4l2-.2-27.2-10.3-2 .2z" fill="#59b0ef"/><path class="tb" d="M123.6 205.3l.3 0 .4.1.3 0 .3 0 .3 0 .4.1.3 0 .3 0"/><path class="t4" d="M123.6 205.3l.3 0 .4.1.3 0 .3 0 .3 0 .4.1.3 0 .3 0"/><path class="tb" d="M134.1 198.1l.3 0 .3 0 .3-.1.4 0 .3 0 .3 0 .4-.1.3 0"/><path class="t3" d="M134.1 198.1l.3 0 .3 0 .3-.1.4 0 .3 0 .3 0 .4-.1.3 0"/><path d="M109.3 194.6l2.1 2.3-27.2-12.6-2.1-3.1z" fill="#5fd2ba"/><path class="tb" d="M83.9 183.6l.3.4.3.5.4.4.3.4.3.5.3.4.4.4.3.4"/><path class="t4" d="M83.9 183.6l.3.4.3.5.4.4.3.4.3.5.3.4.4.4.3.4"/><path d="M106.9 196.2l.8.6-27.2-10.4-.8-.6z" fill="#40cabe"/><path d="M168.7 202.7l2 .3-27.2-12-2-.6z" fill="#46c5de"/><path class="tb" d="M141.9 190.6l.3.1.4.1.3.1.3.1.3 0 .4.1.3.1.3.1"/><path class="t0" d="M141.9 190.6l.3.1.4.1.3.1.3.1.3 0 .4.1.3.1.3.1"/><path d="M166.6 201.7l2.1.1-27.2-7.5-2.1-.2z" fill="#38bbde"/><path class="m" d="M71.1 193a2.3 2.3 0 1 0 .1 0M71.4 191a2.3 2.3 0 1 0 .1 0M71.7 189.4a2.3 2.3 0 1 0 .1 0M72.4 187a2.3 2.3 0 1 0 .1 0M73 185.1a2.3 2.3 0 1 0 .1 0" fill="#7E2F8E"/><path class="tb" d="M173.8 212l.3 0 .3.1.4 0 .3.1.3 0 .4.1.3 0 .3.1"/><path class="t4" d="M173.8 212l.3 0 .3.1.4 0 .3.1.3 0 .4.1.3 0 .3.1"/><path d="M146.2 218.2l2-.4-27.2-11.3-2 .4z" fill="#5e81fe"/><path class="tb" d="M121 206.7l.3-.1.3-.1.4-.1.3 0 .3-.1.3-.1.4-.1.3 0"/><path class="t2" d="M121 206.7l.3-.1.3-.1.4-.1.3 0 .3-.1.3-.1.4-.1.3 0"/><path class="tb" d="M179 208.2l.4 0 .3 0 .3.1.3 0 .4.1.3.1.3.1.3 0"/><path class="t3" d="M179 208.2l.4 0 .3 0 .3.1.3 0 .4.1.3.1.3.1.3 0"/><path d="M158.5 208.7l2-.3-27.2-10.4-2.1.3z" fill="#46a9ec"/><path d="M106.1 195.7l.8.5-27.2-10.4-.9-.5z" fill="#5ad1bf"/><path d="M148.2 215l2.1.5-27.2-10.4-2.1-.4z" fill="#6399fd"/><path class="tb" d="M173.8 211.1l.3 0 .3.1.4 0 .3.1.3 0 .4.1.3 0 .3 0"/><path class="t2" d="M173.8 211.1l.3 0 .3.1.4 0 .3.1.3 0 .4.1.3 0 .3 0"/><path d="M144.1 218.1l2.1.1-27.2-11.3-2.1-.1z" fill="#6d8fff"/><path class="tb" d="M118.4 207.1l.3 0 .3 0 .3-.1.4 0 .3-.1.3-.1.4-.1.3 0"/><path class="t2" d="M118.4 207.1l.3 0 .3 0 .3-.1.4 0 .3-.1.3-.1.4-.1.3 0"/><path d="M98.7 202l.8-3-27.2-10.4-.8 3z" fill="#74d9e0"/><path class="tb" d="M181.6 205.1l.4.1.3 0 .3.1.3 0 .4 0 .3-.1.3 0 .4-.2"/><path class="t0" d="M181.6 205.1l.4.1.3 0 .3.1.3 0 .4 0 .3-.1.3 0 .4-.2"/><path d="M166.6 202.6l2.1.1-27.2-12.3-2.1-.4z" fill="#29c1d4"/><path d="M164.6 201.6l2 .1-27.2-7.6-2 0z" fill="#47c4de"/><path d="M156.4 209l2.1-.3-27.2-10.4-2.1.3z" fill="#58b3ed"/><path class="tb" d="M139.3 194.2l.3 0 .3 0 .4 0 .3 0 .3.1.4 0 .3.1.3.1"/><path class="t1" d="M139.3 194.2l.3 0 .3 0 .4 0 .3 0 .3.1.4 0 .3.1.3.1"/><path class="tb" d="M131.4 198.4l.4 0 .3-.1.3 0 .4 0 .3-.1.3 0 .3-.1.4 0"/><path class="t3" d="M131.4 198.4l.4 0 .3-.1.3 0 .4 0 .3-.1.3 0 .3-.1.4 0"/><path class="tb" d="M184.3 205l.3-.3.3-.5.3-.7.4-.7.3-.9.3-.9"/><path class="t0" d="M184.3 205l.3-.3.3-.5.3-.7.4-.7.3-.9.3-.9"/><path d="M105.2 195l.9.7-27.3-10.4-.8-.6z" fill="#4eceb0"/><path class="tb" d="M184.3 204l.3-.7"/><path class="t1" d="M184.3 204l.3-.7"/><path class="tb" d="M78.6 185l.4.3.3.2.3.2.3.2.4.3.3.2.3.2.4.3"/><path class="t3" d="M78.6 185l.4.3.3.2.3.2.3.2.4.3.3.2.3.2.4.3"/><path class="tb" d="M171.2 212l.3 0 .3 0 .4 0 .3 0 .3 0 .3 0 .4 0 .3 0"/><path class="t4" d="M171.2 212l.3 0 .3 0 .4 0 .3 0 .3 0 .3 0 .4 0 .3 0"/><path class="tb" d="M176.4 208.2l.3 0 .4 0 .3-.1.3 0 .3 0 .4 0 .3 0 .3.1"/><path class="t3" d="M176.4 208.2l.3 0 .4 0 .3-.1.3 0 .3 0 .4 0 .3 0 .3.1"/><path d="M96.2 206.3l.9-7.7-27.2-13.1-.9 8.9z" fill="#9fe4eb"/><path class="tb" d="M181.6 204.3l.4 0 .3.1.3 0 .3 0 .4 0 .3 0 .3 0 .4-.4"/><path class="t1" d="M181.6 204.3l.4 0 .3.1.3 0 .3 0 .4 0 .3 0 .3 0 .4-.4"/><path d="M108.5 193.3l.8 1.3-27.2-13.4-.8-1.5z" fill="#62d39a"/><path d="M154.4 209.3l2-.3-27.2-10.4-2 .3z" fill="#46abeb"/><path class="tb" d="M128.8 198.8l.4 0 .3-.1.3 0 .3-.1.4 0 .3-.1.3 0 .3-.1"/><path class="t3" d="M128.8 198.8l.4 0 .3-.1.3 0 .3-.1.4 0 .3-.1.3 0 .3-.1"/><path d="M146.2 214.3l2 .7-27.2-10.3-2-.8z" fill="#4e95fa"/><path d="M162.6 201.6l2 0-27.2-7.5-2.1.2z" fill="#2ebfd8"/><path class="tb" d="M121 204.7l.3.1.3.1.4 0 .3.1.3.1.3.1.4 0 .3.1"/><path class="t4" d="M121 204.7l.3.1.3.1.4 0 .3.1.3.1.3.1.4 0 .3.1"/><path class="tb" d="M171.2 211.1l.3 0 .3 0 .4 0 .3-.1.3 0 .3 0 .4.1.3 0"/><path class="t2" d="M171.2 211.1l.3 0 .3 0 .4 0 .3-.1.3 0 .3 0 .4.1.3 0"/><path class="tb" d="M136.7 194.3l.3-.1.3 0 .4 0 .3 0 .3 0 .3 0 .4 0 .3 0"/><path class="t1" d="M136.7 194.3l.3-.1.3 0 .4 0 .3 0 .3 0 .3 0 .4 0 .3 0"/><path d="M142.1 217.6l2.1.5-27.3-11.3-2-.5z" fill="#5789fe"/><path class="tb" d="M115.8 206.6l.3 0 .3.1.3.1.4.1.3.1.3 0 .3.1.4 0"/><path class="t2" d="M115.8 206.6l.3 0 .3.1.3.1.4.1.3.1.3 0 .3.1.4 0"/><path d="M122.1 233l.8-2-27.2-10.9-.8 2.6z" fill="#968bd9"/><path d="M104.4 194.3l.8.7-27.2-10.3-.8-.8z" fill="#65d5b1"/><path d="M164.6 202.7l2-.1-27.2-12.6-2-.4z" fill="#3dcad4"/><path class="tb" d="M139.3 190l.3.1.3.1.4 0 .3.1.3.1.4.1.3 0 .3.1"/><path class="t0" d="M139.3 190l.3.1.3.1.4 0 .3.1.3.1.4.1.3 0 .3.1"/><path d="M99.5 199l.8-2-27.2-10.4-.8 2.1z" fill="#55cfc3"/><path class="tb" d="M179 204.5l.4 0 .3.1.3.1.3.1.4.1.3.1.3 0 .3.1"/><path class="t0" d="M179 204.5l.4 0 .3.1.3.1.3.1.4.1.3.1.3 0 .3.1"/><path d="M152.3 209.6l2.1-.3-27.2-10.4-2.1.3z" fill="#58b4ec"/><path class="tb" d="M168.6 212.2l.3-.1.3 0 .3 0 .4 0 .3 0 .3-.1.3 0 .4 0"/><path class="t4" d="M168.6 212.2l.3-.1.3 0 .3 0 .4 0 .3 0 .3-.1.3 0 .4 0"/><path class="tb" d="M126.2 199.2l.3 0 .4-.1.3 0 .3-.1.3 0 .4-.1.3 0 .3-.1"/><path class="t3" d="M126.2 199.2l.3 0 .4-.1.3 0 .3-.1.3 0 .4-.1.3 0 .3-.1"/><path class="tb" d="M173.8 208.3l.3 0 .3 0 .4-.1.3 0 .3 0 .4 0 .3 0 .3 0"/><path class="t3" d="M173.8 208.3l.3 0 .3 0 .4-.1.3 0 .3 0 .4 0 .3 0 .3 0"/><path d="M160.5 201.8l2.1-.2-27.3-7.4-2 .3z" fill="#40c7da"/><path class="tb" d="M134.1 194.5l.3 0 .3-.1.3 0 .4 0 .3-.1.3 0 .4 0 .3 0"/><path class="t1" d="M134.1 194.5l.3 0 .3-.1.3 0 .4 0 .3-.1.3 0 .4 0 .3 0"/><path d="M103.6 193.8l.8.5-27.2-10.4-.8-.5z" fill="#5bd2a0"/><path d="M100.3 197l.9-1.5-27.3-10.4-.8 1.5z" fill="#50ceae"/><path d="M107.7 191.9l.8 1.4-27.2-13.6-.8-1.5z" fill="#86d893"/><path d="M122.1 231.2l.8-1.5-27.2-10.4-.8 1.5z" fill="#988fe5"/><path class="tb" d="M179 203.6l.4 0 .3.1.3.1.3.1.4.1.3.1.3.1.3.1"/><path class="t1" d="M179 203.6l.4 0 .3.1.3.1.3.1.4.1.3.1.3.1.3.1"/><path class="tb" d="M81.3 179.3l.3.6.3.6.3.5.4.6.3.5.3.5.3.5.4.5"/><path class="t4" d="M81.3 179.3l.3.6.3.6.3.5.4.6.3.5.3.5.3.5.4.5"/><path class="tb" d="M168.6 211.2l.3 0 .3 0 .3 0 .4 0 .3-.1.3 0 .3 0 .4 0"/><path class="t2" d="M168.6 211.2l.3 0 .3 0 .3 0 .4 0 .3-.1.3 0 .3 0 .4 0"/><path d="M162.5 202.8l2.1-.1-27.2-13.1-2.1-.5z" fill="#2bc6ca"/><path class="m" d="M74 183.2a2.3 2.3 0 1 0 .1 0M75 181.7a2.3 2.3 0 1 0 .1 0" fill="#7E2F8E"/><path d="M122.9 231l.8-2.1-27.2-11.2-.8 2.5z" fill="#a39ceb"/><path class="tb" d="M136.7 189.5l.3 0 .3.1.4.1.3.1.3 0 .3.1.4.1.3 0"/><path class="t0" d="M136.7 189.5l.3 0 .3.1.4.1.3.1.3 0 .3.1.4.1.3 0"/><path d="M150.3 209.9l2-.3-27.2-10.4-2 .3z" fill="#45adea"/><path class="tb" d="M123.6 199.6l.3 0 .4-.1.3 0 .3-.1.3 0 .4-.1.3 0 .3-.1"/><path class="t3" d="M123.6 199.6l.3 0 .4-.1.3 0 .3-.1.3 0 .4-.1.3 0 .3-.1"/><path class="m" d="M95.1 220.4a2.3 2.3 0 1 0 .1 0M95.8 218.5a2.3 2.3 0 1 0 .1 0M96.4 216.5a2.3 2.3 0 1 0 .1 0M97.1 214.5a2.3 2.3 0 1 0 .1 0M97.7 212.3a2.3 2.3 0 1 0 .1 0" fill="#0072BD"/><path class="m" d="M187.1 196.9a2.3 2.3 0 1 0 .1 0" fill="#7E2F8E"/><path d="M140.1 216.8l2 .8-27.2-11.3-2-.8z" fill="#619cfc"/><path d="M101.1 195.5l.9-1.2-27.2-10.4-.9 1.3z" fill="#69d6ac"/><path class="tb" d="M113.1 205.6l.4.2.3.1.3.2.3.1.4.1.3.1.3.1.4.1"/><path class="t2" d="M113.1 205.6l.4.2.3.1.3.2.3.1.4.1.3.1.3.1.4.1"/><path d="M102.8 193.7l.8.1-27.2-10.4-.8-.1z" fill="#71d7a4"/><path d="M158.5 202.4l2-.6-27.2-7.3-2.1.6z" fill="#2ac1d5"/><path class="tb" d="M76 183.4l.3 0 .4.1.3.2.3.2.4.3.3.3.3.3.3.2"/><path class="t3" d="M76 183.4l.3 0 .4.1.3.2.3.2.4.3.3.3.3.3.3.2"/><path class="tb" d="M165.9 212.6l.4-.1.3-.1.3 0 .4-.1.3 0 .3-.1.3 0 .4 0"/><path class="t4" d="M165.9 212.6l.4-.1.3-.1.3 0 .4-.1.3 0 .3-.1.3 0 .4 0"/><path d="M144.2 213l2 1.3-27.2-10.4-2.1-1.7z" fill="#5ea9f4"/><path class="tb" d="M118.4 203.4l.3.3.3.2.3.2.4.1.3.1.3.2.4.1.3.1"/><path class="t4" d="M118.4 203.4l.3.3.3.2.3.2.4.1.3.1.3.2.4.1.3.1"/><path d="M122.9 229.7l.8-1.7-27.2-10.3-.8 1.7z" fill="#a49ff0"/><path d="M102 194.3l.8-.6-27.2-10.4-.8.6z" fill="#61d29b"/><path class="tb" d="M171.2 208.3l.3 0 .3 0 .4 0 .3 0 .3 0 .3 0 .4 0 .3 0"/><path class="t3" d="M171.2 208.3l.3 0 .3 0 .4 0 .3 0 .3 0 .3 0 .4 0 .3 0"/><path d="M156.4 203.3l2.1-1-27.3-7.2-2 1z" fill="#41c6db"/><path class="tb" d="M131.4 195.2l.4-.1.3-.1.3-.1.4-.1.3-.1.3-.1.3 0 .4-.1"/><path class="t1" d="M131.4 195.2l.4-.1.3-.1.3-.1.4-.1.3-.1.3-.1.3 0 .4-.1"/><path d="M148.2 210.2l2.1-.3-27.2-10.4-2.1.3z" fill="#57b6eb"/><path class="tb" d="M176.4 204l.3.1.4 0 .3.1.3.1.3 0 .4.1.3 0 .3.1"/><path class="t0" d="M176.4 204l.3.1.4 0 .3.1.3.1.3 0 .4.1.3 0 .3.1"/><path d="M160.5 203.1l2-.3-27.1-13.7-2.1-.1z" fill="#46cdcb"/><path class="tb" d="M165.9 211.6l.4 0 .3-.1.3 0 .4-.1.3 0 .3-.1.3 0 .4-.1"/><path class="t2" d="M165.9 211.6l.4 0 .3-.1.3 0 .4-.1.3 0 .3-.1.3 0 .4-.1"/><path d="M154.4 204.4l2-1.1-27.2-7.2-2.1 1.2z" fill="#33bedb"/><path class="tb" d="M134.1 189.1l.3 0 .3 0 .3.1.4 0 .3.1.3 0 .4.1.3.1"/><path class="t0" d="M134.1 189.1l.3 0 .3 0 .3.1.4 0 .3.1.3 0 .4.1.3.1"/><path class="tb" d="M128.8 196.6l.4-.2.3-.2.3-.2.3-.2.4-.2.3-.1.3-.2.3-.1"/><path class="t1" d="M128.8 196.6l.4-.2.3-.2.3-.2.3-.2.4-.2.3-.1.3-.2.3-.1"/><path d="M122.1 229.4l.8-1.5-27.2-10.4-.8 1.5z" fill="#9a96f0"/><path d="M146.2 210.6l2.1-1.5-27.3-7.8-2 1.2z" fill="#46abeb"/><path d="M148.2 209.1l2.1-1.8-27.2-7.4-2.1 1.5z" fill="#56b8ea"/><path d="M123.7 229l.8-2.1-27.2-11.9-.8 2.7z" fill="#9a9af5"/><path class="m" d="M95.1 218.6a2.3 2.3 0 1 0 .1 0M96.1 216.8a2.3 2.3 0 1 0 .1 0M97.1 214.6a2.3 2.3 0 1 0 .1 0M97.7 212.5a2.3 2.3 0 1 0 .1 0M98.4 210.5a2.3 2.3 0 1 0 .1 0" fill="#D95319"/><path d="M152.3 205.7l2.1-1.3-27.2-7.1-2.1 1.3z" fill="#4dc1e3"/><path d="M106.9 190.6l.8 1.4-27.2-13.8-.8-1.5z" fill="#94d371"/><path class="tb" d="M163.3 213.5l.4-.1.3-.2.3-.1.3-.1.4-.2.3-.1.3-.1.3 0"/><path class="t4" d="M163.3 213.5l.4-.1.3-.2.3-.1.3-.1.4-.2.3-.1.3-.1.3 0"/><path d="M150.3 207.3l2-1.6-27.2-7.2-2 1.5z" fill="#3eb6e4"/><path class="tb" d="M126.2 198.1l.3-.2.4-.2.3-.2.3-.1.3-.2.4-.2.3-.2.3-.2"/><path class="t1" d="M126.2 198.1l.3-.2.4-.2.3-.2.3-.1.3-.2.4-.2.3-.2.3-.2"/><path d="M144.2 212l2-1.4-27.2-8.1-2.1 1z" fill="#5aaff0"/><path class="tb" d="M121 201.7l.3-.3.3-.2.4-.2.3-.2.3-.2.3-.3.4-.2.3-.2"/><path class="t1" d="M121 201.7l.3-.3.3-.2.4-.2.3-.2.3-.2.3-.3.4-.2.3-.2"/><path class="tb" d="M123.6 199.9l.3-.3.4-.2.3-.2.3-.3.3-.2.4-.2.3-.2.3-.2"/><path class="t1" d="M123.6 199.9l.3-.3.4-.2.3-.2.3-.3.3-.2.4-.2.3-.2.3-.2"/><path class="tb" d="M118.4 203l.3-.1.3-.2.3-.1.4-.2.3-.2.3-.2.4-.1.3-.2"/><path class="t1" d="M118.4 203l.3-.1.3-.2.3-.1.4-.2.3-.2.3-.2.4-.1.3-.2"/><path class="tb" d="M176.4 203l.3.1.4.1.3 0 .3.1.3.1.4 0 .3.1.3.1"/><path class="t1" d="M176.4 203l.3.1.4.1.3 0 .3.1.3.1.4 0 .3.1.3.1"/><path d="M123.7 228.1l.8-2.5-27.2-10.4-.8 2.5z" fill="#9a9cf6"/><path d="M142.1 213l2.1-1.1-27.3-8.4-2 .8z" fill="#4aa3f0"/><path class="tb" d="M115.8 204.2l.3-.1.3-.2.3-.1.4-.1.3-.2.3-.1.3-.2.4-.2"/><path class="t1" d="M115.8 204.2l.3-.1.3-.2.3-.1.4-.1.3-.2.3-.1.3-.2.4-.2"/><path d="M146.2 210.4l2-.2-27.2-10.4-2 .2z" fill="#44afe8"/><path class="tb" d="M121 200l.3-.1.3 0 .4-.1.3 0 .3-.1.3 0 .4-.1.3 0"/><path class="t3" d="M121 200l.3-.1.3 0 .4-.1.3 0 .3-.1.3 0 .4-.1.3 0"/><path class="tb" d="M160.7 214.6l.3-.1.4-.2.3-.1.3-.1.3-.2.4-.1.3-.2.3-.1"/><path class="t4" d="M160.7 214.6l.3-.1.4-.2.3-.1.3-.1.3-.2.4-.1.3-.2.3-.1"/><path d="M158.4 203.7l2.1-.7-27.2-14-2 .6z" fill="#34c8c4"/><path d="M122.9 227.9l.8-1.7-27.2-10.4-.8 1.8z" fill="#a4a6f7"/><path class="tb" d="M163.3 212.5l.4-.1.3-.2.3-.1.3-.1.4-.1.3-.1.3-.1.3-.1"/><path class="t2" d="M163.3 212.5l.4-.1.3-.2.3-.1.3-.1.4-.1.3-.1.3-.1.3-.1"/><path d="M138 215.6l2.1 1.2-27.2-11.3-2.1-1.2z" fill="#4d9af7"/><path class="tb" d="M168.6 208.1l.3 0 .3 0 .3 0 .4.1.3 0 .3 0 .3 0 .4.1"/><path class="t3" d="M168.6 208.1l.3 0 .3 0 .3 0 .4.1.3 0 .3 0 .3 0 .4.1"/><path d="M140.1 213.6l2-.6-27.2-8.8-2.1.5z" fill="#5dabf3"/><path class="tb" d="M113.1 204.8l.4 0 .3-.1.3-.1.3-.1.4-.1.3 0 .3-.1.4-.1"/><path class="t1" d="M113.1 204.8l.4 0 .3-.1.3-.1.3-.1.4-.1.3 0 .3-.1.4-.1"/><path d="M156.4 205l2.1-1.3-27.2-14.1-2.1 1.2z" fill="#42ccce"/><path d="M154.3 206.6l2.1-1.6-27.2-14.2-2 1.5z" fill="#27c4cf"/><path class="tb" d="M131.4 189.8l.4-.2.3-.1.3-.1.4-.1.3-.1.3 0 .3-.1.4 0"/><path class="t0" d="M131.4 189.8l.4-.2.3-.1.3-.1.4-.1.3-.1.3 0 .3-.1.4 0"/><path d="M152.3 208.2l2.1-1.6-27.2-14.4-2.1 1.2z" fill="#41c6da"/><path class="tb" d="M128.8 191.4l.4-.2.3-.2.3-.3.3-.2.4-.2.3-.2.3-.2.3-.1"/><path class="t0" d="M128.8 191.4l.4-.2.3-.2.3-.3.3-.2.4-.2.3-.2.3-.2.3-.1"/><path class="tb" d="M126.2 193.1l.3-.2.4-.2.3-.2.3-.2.3-.2.4-.2.3-.2.3-.3"/><path class="t0" d="M126.2 193.1l.3-.2.4-.2.3-.2.3-.2.3-.2.4-.2.3-.2.3-.3"/><path d="M150.3 210l2-1.9-27.2-14.8-2 1z" fill="#35bddc"/><path class="tb" d="M123.6 194.3l.3-.1.4-.2.3-.1.3-.2.3-.1.4-.2.3-.2.3-.1"/><path class="t0" d="M123.6 194.3l.3-.1.4-.2.3-.1.3-.2.3-.1.4-.2.3-.2.3-.1"/><path d="M148.2 211.8l2.1-1.8-27.2-15.8-2.1.9z" fill="#4fc0e4"/><path d="M124.5 226.9l.9-2-27.2-12.2-.9 2.4z" fill="#a4acfb"/><path class="tb" d="M158.1 215.3l.3-.1.4-.1.3 0 .3-.1.3-.1.4-.1.3-.1.3-.1"/><path class="t4" d="M158.1 215.3l.3-.1.4-.1.3 0 .3-.1.3-.1.4-.1.3-.1.3-.1"/><path class="tb" d="M160.7 213.6l.3-.2.4-.1.3-.1.3-.2.3-.1.4-.1.3-.2.3-.1"/><path class="t2" d="M160.7 213.6l.3-.2.4-.1.3-.1.3-.2.3-.1.4-.1.3-.2.3-.1"/><path d="M146.2 212.9l2-1.2-27.1-16.6-2.1.9z" fill="#3fb5e5"/><path class="tb" d="M173.8 203.5l.3 0 .3.1.4.1.3 0 .3.1.4.1.3 0 .3.1"/><path class="t0" d="M173.8 203.5l.3 0 .3.1.4.1.3 0 .3.1.4.1.3 0 .3.1"/><path class="tb" d="M121 195.4l.3-.1.3-.2.4-.1.3-.1.3-.2.3-.1.4-.2.3-.1"/><path class="t0" d="M121 195.4l.3-.1.3-.2.4-.1.3-.1.3-.2.3-.1.4-.2.3-.1"/><path d="M144.1 210.6l2.1-.2-27.2-10.4-2.1.2z" fill="#55b8ea"/><path d="M106 189.3l.9 1.3-27.2-13.9-.8-1.5z" fill="#b7d56d"/><path d="M142.1 211.3l2 1.7-27.2-10.7-2-2.2z" fill="#45acea"/><path class="tb" d="M118.4 200.2l.3 0 .3 0 .3-.1.4 0 .3 0 .3-.1.4 0 .3 0"/><path class="t3" d="M118.4 200.2l.3 0 .3 0 .3-.1.4 0 .3 0 .3-.1.4 0 .3 0"/><path class="tb" d="M115.8 200.8l.3.4.3.3.3.4.4.3.3.3.3.3.3.3.4.3"/><path class="t4" d="M115.8 200.8l.3.4.3.3.3.4.4.3.3.3.3.3.3.3.4.3"/><path d="M138 214.2l2.1-.6-27.2-8.9-2.1.5z" fill="#4ba1f2"/><path d="M122.1 227.5l.8-2.8-27.2-10.3-.8 2.8z" fill="#9aa1fa"/><path d="M97 198.7l.9-6.2-27.2-13.6-.9 6.7z" fill="#b8eac8"/><path d="M124.5 225.7l.9-2.6-27.2-10.4-.9 2.5z" fill="#a4affd"/><path class="m" d="M95.1 216.8a2.3 2.3 0 1 0 .1 0M96.1 215.1a2.3 2.3 0 1 0 .1 0M97.1 212.6a2.3 2.3 0 1 0 .1 0M97.7 209.6a2.3 2.3 0 1 0 .1 0M98.4 206.9a2.3 2.3 0 1 0 .1 0" fill="#EDB120"/><path d="M144.1 213.6l2.1-.8-27.2-16.8-2 .8z" fill="#54bbe9"/><path class="m" d="M186.8 194.6a2.3 2.3 0 1 0 .1 0M187.1 191.6a2.3 2.3 0 1 0 .1 0" fill="#0072BD"/><path class="tb" d="M118.4 196.5l.3-.1.3-.1.3-.2.4-.1.3-.2.3-.1.4-.1.3-.2"/><path class="t0" d="M118.4 196.5l.3-.1.3-.1.3-.2.4-.1.3-.2.3-.1.4-.1.3-.2"/><path d="M123.7 226.2l.8-2.9-27.2-10.8-.8 3.4z" fill="#9aa6fc"/><path class="tb" d="M158.1 214.6l.3-.1.4-.2.3-.1.3-.1.3-.1.4-.2.3-.1.3-.1"/><path class="t2" d="M158.1 214.6l.3-.1.4-.2.3-.1.3-.1.3-.1.4-.2.3-.1.3-.1"/><path class="m" d="M185.2 198.6a2.3 2.3 0 1 0 .1 0M185.8 195.3a2.3 2.3 0 1 0 .1 0M186.2 193.6a2.3 2.3 0 1 0 .1 0M186.5 191.6a2.3 2.3 0 1 0 .1 0M186.8 188.5a2.3 2.3 0 1 0 .1 0" fill="#D95319"/><path class="tb" d="M173.8 202.5l.3 0 .3.1.4.1.3 0 .3.1.4.1.3.1.3 0"/><path class="t1" d="M173.8 202.5l.3 0 .3.1.4.1.3 0 .3.1.4.1.3.1.3 0"/><path d="M125.3 225l.9-1.8-27.2-12.2-.9 1.7z" fill="#98abfe"/><path d="M136 214.7l2-.5-27.2-9-2 .5z" fill="#5dabf3"/><path d="M142.1 214.2l2-.7-27.1-16.7-2.1.9z" fill="#42b2e7"/><path class="tb" d="M155.5 215.5l.3 0 .3 0 .4-.1.3 0 .3 0 .3-.1.4 0 .3 0"/><path class="t4" d="M155.5 215.5l.3 0 .3 0 .4-.1.3 0 .3 0 .3-.1.4 0 .3 0"/><path class="tb" d="M165.9 208l.4 0 .3 0 .3 0 .4 0 .3 0 .3 0 .3 0 .4.1"/><path class="t3" d="M165.9 208l.4 0 .3 0 .3 0 .4 0 .3 0 .3 0 .3 0 .4.1"/><path class="tb" d="M110.5 205.4l.3 0 .4-.1.3-.1.3-.1.4 0 .3-.1.3-.1.3-.1"/><path class="t1" d="M110.5 205.4l.3 0 .4-.1.3-.1.3-.1.4 0 .3-.1.3-.1.3-.1"/><path class="tb" d="M115.8 197.6l.3-.2.3-.1.3-.1.4-.2.3-.1.3-.1.3-.1.4-.2"/><path class="t0" d="M115.8 197.6l.3-.2.3-.1.3-.1.4-.2.3-.1.3-.1.3-.1.4-.2"/><path d="M142.1 210.6l2.1 0-27.3-10.4-2 0z" fill="#41b3e7"/><path class="tb" d="M115.8 200.4l.3 0 .3-.1.3 0 .4 0 .3 0 .3 0 .3 0 .4-.1"/><path class="t3" d="M115.8 200.4l.3 0 .3-.1.3 0 .4 0 .3 0 .3 0 .3 0 .4-.1"/><path class="tb" d="M155.5 215.7l.3-.2.3-.1.4-.1.3-.2.3-.1.3-.1.4-.2.3-.1"/><path class="t2" d="M155.5 215.7l.3-.2.3-.1.4-.1.3-.2.3-.1.3-.1.4-.2.3-.1"/><path d="M136 214.5l2 1.1-27.2-11.3-2-1.1z" fill="#5badf1"/><path class="tb" d="M110.5 204.1l.3.2.4.2.3.2.3.2.4.2.3.1.3.2.3.2"/><path class="t2" d="M110.5 204.1l.3.2.4.2.3.2.3.2.4.2.3.1.3.2.3.2"/><path d="M135.2 214.8l.8-.2-27.2-8.9-.9.2z" fill="#4ba1f2"/><path d="M140 214.8l2.1-.6-27.2-16.5-2 1.1z" fill="#56b8ea"/><path class="tb" d="M113.1 198.9l.4-.2.3-.2.3-.1.3-.2.4-.2.3-.1.3-.2.4-.1"/><path class="t0" d="M113.1 198.9l.4-.2.3-.2.3-.1.3-.2.4-.2.3-.1.3-.2.4-.1"/><path d="M126.2 223.2l.8-1.4-27.2-12.2-.8 1.4z" fill="#6a92ff"/><path d="M105.2 187.9l.8 1.4-27.1-14.1-.9-1.7z" fill="#c9cc4d"/><path d="M125.3 223.1l.9-2.3-27.2-9.9-.9 1.8z" fill="#95afff"/><path class="tb" d="M78.6 174.4l.4.6.3.6.3.6.3.6.4.6.3.6.3.6.4.7"/><path class="t4" d="M78.6 174.4l.4.6.3.6.3.6.3.6.4.6.3.6.3.6.4.7"/><path d="M134.3 215l.9-.2-27.3-8.9-.8.2z" fill="#5dabf3"/><path class="tb" d="M171.2 203l.3.1.3.1.4 0 .3.1.3 0 .3.1.4 0 .3.1"/><path class="t0" d="M171.2 203l.3.1.3.1.4 0 .3.1.3 0 .3.1.4 0 .3.1"/><path class="tb" d="M107.9 206l.3 0 .4-.1.3-.1.3-.1.3 0 .4-.1.3-.1.3-.1"/><path class="t1" d="M107.9 206l.3 0 .4-.1.3-.1.3-.1.3 0 .4-.1.3-.1.3-.1"/><path class="tb" d="M152.9 216.5l.3-.1.3 0 .3-.1.4-.1.3-.2.3-.1.4-.1.3-.1"/><path class="t2" d="M152.9 216.5l.3-.1.3 0 .3-.1.4-.1.3-.2.3-.1.4-.1.3-.1"/><path d="M138 215.5l2.1-.7-27.2-16-2.1 1.3z" fill="#44aee9"/><path d="M133.5 215.2l.8-.2-27.2-8.9-.8.2z" fill="#4ba1f2"/><path d="M127 221.8l.8-1-27.2-12.5-.8 1.3z" fill="#528efd"/><path d="M122.9 224.8l.8-3.2-27.2-10.4-.8 3.2z" fill="#a1b5fe"/><path d="M136 216.2l2-.8-27.2-15.3-2 1.3z" fill="#58b3ed"/><path class="m" d="M95.1 215a2.3 2.3 0 1 0 .1 0M95.8 212.7a2.3 2.3 0 1 0 .1 0M96.4 210.4a2.3 2.3 0 1 0 .1 0M97.1 207.4a2.3 2.3 0 1 0 .1 0M97.4 205.3a2.3 2.3 0 1 0 .1 0" fill="#7E2F8E"/><path class="tb" d="M110.5 200.6l.3-.2.4-.2.3-.3.3-.2.4-.2.3-.2.3-.2.3-.2"/><path class="t0" d="M110.5 200.6l.3-.2.4-.2.3-.3.3-.2.4-.2.3-.2.3-.2.3-.2"/><path class="tb" d="M152.9 215.6l.3 0 .3 0 .3 0 .4 0 .3 0 .3-.1.4 0 .3 0"/><path class="t4" d="M152.9 215.6l.3 0 .3 0 .3 0 .4 0 .3 0 .3-.1.4 0 .3 0"/><path d="M140.1 210.2l2 .4-27.2-10.4-2-.4z" fill="#52bde7"/><path d="M132.7 215.4l.8-.2-27.2-8.9-.8.2z" fill="#5dabf3"/><path class="tb" d="M163.3 208.1l.4 0 .3-.1.3 0 .3 0 .4 0 .3 0 .3 0 .3 0"/><path class="t3" d="M163.3 208.1l.4 0 .3-.1.3 0 .3 0 .4 0 .3 0 .3 0 .3 0"/><path class="tb" d="M113.1 199.9l.4.2.3.1.3 0 .3.1.4 0 .3 0 .3.1.4 0"/><path class="t3" d="M113.1 199.9l.4.2.3.1.3 0 .3.1.4 0 .3 0 .3.1.4 0"/><path d="M135.1 216.6l.9-.4-27.2-14.8-.8.5z" fill="#47a8ec"/><path class="m" d="M98.4 210.5a2.3 2.3 0 1 0 .1 0M99.4 208.5a2.3 2.3 0 1 0 .1 0M100.3 206.9a2.3 2.3 0 1 0 .1 0M101.3 205.4a2.3 2.3 0 1 0 .1 0M102.6 203.9a2.3 2.3 0 1 0 .1 0" fill="#0072BD"/><path class="m" d="M99.4 208.4a2.3 2.3 0 1 0 .1 0M100.3 207a2.3 2.3 0 1 0 .1 0M101.6 205.5a2.3 2.3 0 1 0 .1 0" fill="#D95319"/><path d="M134.3 217l.8-.4-27.1-14.7-.9.6z" fill="#5ab0ef"/><path d="M127.8 220.9l.8-.9-27.2-12.8-.8 1.1z" fill="#609ffb"/><path class="m" d="M70.1 183.4a2.3 2.3 0 1 0 .1 0M70.4 180.6a2.3 2.3 0 1 0 .1 0M70.7 178a2.3 2.3 0 1 0 .1 0M71.1 175.6a2.3 2.3 0 1 0 .1 0M71.4 173.6a2.3 2.3 0 1 0 .1 0" fill="#77AC30"/><path d="M140.1 210l2 1.4-27.2-11.3-2-1.7z" fill="#50bfe6"/><path class="tb" d="M107.9 202.3l.3-.2.4-.2.3-.3.3-.2.3-.2.4-.2.3-.2.3-.2"/><path class="t0" d="M107.9 202.3l.3-.2.4-.2.3-.3.3-.2.3-.2.4-.2.3-.2.3-.2"/><path class="tb" d="M171.2 202.1l.3 0 .3.1.4 0 .3.1.3 0 .3.1.4 0 .3.1"/><path class="t1" d="M171.2 202.1l.3 0 .3.1.4 0 .3.1.3 0 .3.1.4 0 .3.1"/><path d="M124.5 223.4l.9-3.1-27.2-11.3-.9 3.6z" fill="#9dbbff"/><path d="M133.5 217.4l.8-.5-27.1-14.4-.9.6z" fill="#48a5ef"/><path class="tb" d="M113.1 198.5l.4.3.3.2.3.3.3.3.4.3.3.3.3.3.4.3"/><path class="t4" d="M113.1 198.5l.4.3.3.2.3.3.3.3.4.3.3.3.3.3.4.3"/><path d="M126.2 220.8l.8-1.8-27.2-9.4-.9 1.4z" fill="#629bfd"/><path d="M131.9 215.6l.8-.2-27.2-9-.8.2z" fill="#4ba1f2"/><path d="M132.7 217.8l.8-.5-27.2-14.2-.8.6z" fill="#5cadf1"/><path d="M135.2 214.1l.8.4-27.2-11.3-.8-.4z" fill="#46aaeb"/><path class="tb" d="M105.3 206.7l.3-.1.3-.1.4-.1.3-.1.3 0 .3-.1.4-.1.3-.1"/><path class="t1" d="M105.3 206.7l.3-.1.3-.1.4-.1.3-.1.3 0 .3-.1.4-.1.3-.1"/><path d="M131.9 218.1l.8-.4-27.2-14.1-.8.7z" fill="#4ba2f1"/><path class="tb" d="M150.2 217.1l.4 0 .3-.1.3-.1.4-.1.3-.1.3 0 .3-.1.4-.1"/><path class="t2" d="M150.2 217.1l.4 0 .3-.1.3-.1.4-.1.3-.1.3 0 .3-.1.4-.1"/><path d="M128.6 220l.8-.6-27.2-13.2-.8 1z" fill="#4d98f8"/><path class="tb" d="M105.3 204.1l.3-.2.3-.2.4-.3.3-.2.3-.2.3-.3.4-.2.3-.2"/><path class="t0" d="M105.3 204.1l.3-.2.3-.2.4-.3.3-.2.3-.2.3-.3.4-.2.3-.2"/><path d="M131.1 218.5l.8-.4-27.2-13.9-.8.7z" fill="#5ea9f4"/><path d="M130.2 218.9l.9-.4-27.2-13.7-.8.7z" fill="#4c9ef4"/><path d="M129.4 219.4l.8-.5-27.1-13.4-.9.8z" fill="#5fa5f7"/><path class="tb" d="M102.7 206.2l.3-.3.3-.3.4-.2.3-.3.3-.2.3-.3.4-.2.3-.3"/><path class="t0" d="M102.7 206.2l.3-.3.3-.3.4-.2.3-.3.3-.2.3-.3.4-.2.3-.3"/><path d="M131.1 215.9l.8-.3-27.2-9-.8.2z" fill="#5daaf3"/><path d="M130.3 216.3l.8-.4-27.2-9.1-.9.2z" fill="#4ba1f2"/><path d="M127 219l.8-1-27.2-9.4-.8 1z" fill="#4d97f9"/><path d="M104.4 186.4l.8 1.5-27.2-14.3-.8-1.8z" fill="#e4cd5b"/><path d="M129.4 216.6l.9-.3-27.3-9.3-.8.2z" fill="#5daaf4"/><path class="tb" d="M102.7 207.3l.3-.1.3-.1.4-.1.3 0 .3-.1.3-.1.4-.1.3 0"/><path class="t1" d="M102.7 207.3l.3-.1.3-.1.4-.1.3 0 .3-.1.3-.1.4-.1.3 0"/><path d="M134.3 213.7l.9.4-27.2-11.3-.9-.4z" fill="#57b6eb"/><path d="M127.8 218l.8-.8-27.2-9.5-.8.9z" fill="#5ea6f7"/><path class="tb" d="M107.9 202.7l.3.2.4.2.3.2.3.1.3.2.4.2.3.1.3.2"/><path class="t2" d="M107.9 202.7l.3.2.4.2.3.2.3.1.3.2.4.2.3.1.3.2"/><path d="M128.6 217.2l.8-.6-27.2-9.4-.8.5z" fill="#4c9ff4"/><path class="tb" d="M168.6 202.6l.3.1.3 0 .3.1.4 0 .3.1.3 0 .3.1.4 0"/><path class="t0" d="M168.6 202.6l.3.1.3 0 .3.1.4 0 .3.1.3 0 .3.1.4 0"/><path class="tb" d="M147.6 217.7l.4 0 .3-.1.3-.1.3-.1.4 0 .3-.1.3-.1.3-.1"/><path class="t2" d="M147.6 217.7l.4 0 .3-.1.3-.1.3-.1.4 0 .3-.1.3-.1.3-.1"/><path class="tb" d="M160.7 208.3l.3-.1.4 0 .3 0 .3 0 .3-.1.4 0 .3 0 .3 0"/><path class="t3" d="M160.7 208.3l.3-.1.4 0 .3 0 .3 0 .3-.1.4 0 .3 0 .3 0"/><path class="tb" d="M150.2 215.4l.4.1.3 0 .3 0 .4.1.3 0 .3 0 .3 0 .4 0"/><path class="t4" d="M150.2 215.4l.4.1.3 0 .3 0 .4.1.3 0 .3 0 .3 0 .4 0"/><path d="M138 209.2l2.1 1-27.2-10.4-2.1-1z" fill="#37bcde"/><path d="M97.8 192.6l.9-4.4-27.2-14.1-.8 4.9z" fill="#e0e4a1"/><path d="M133.5 213.4l.8.3-27.2-11.3-.8-.3z" fill="#42b1e7"/><path d="M122 224.8l.9-6.4-27.2-12.5-.8 8.6z" fill="#a9c8fe"/><path d="M125.3 220.4l.9-2.3-27.2-11.4-.9 2.4z" fill="#8cbefa"/><path class="tb" d="M168.6 201.7l.3.1.3 0 .3 0 .4.1.3 0 .3.1.3 0 .4.1"/><path class="t1" d="M168.6 201.7l.3.1.3 0 .3 0 .4.1.3 0 .3.1.3 0 .4.1"/><path class="tb" d="M145 218.2l.3 0 .4-.1.3 0 .3-.1.4 0 .3-.1.3-.1.3-.1"/><path class="t2" d="M145 218.2l.3 0 .4-.1.3 0 .3-.1.4 0 .3-.1.3-.1.3-.1"/><path d="M123.7 221.7l.8-5-27.2-10.3-.8 4.9z" fill="#9dc8fb"/><path d="M132.7 213.1l.8.3-27.2-11.3-.8-.3z" fill="#53bbe9"/><path d="M138 208.6l2.1 1.4-27.2-11.6-2.1-1.7z" fill="#2cc0d6"/><path d="M103.6 185.2l.8 1.3-27.2-14.7-.8-1.5z" fill="#f3c455"/><path class="tb" d="M158.1 208.6l.3-.1.4 0 .3-.1.3 0 .3 0 .4-.1.3 0 .3 0"/><path class="t3" d="M158.1 208.6l.3-.1.4 0 .3-.1.3 0 .3 0 .4-.1.3 0 .3 0"/><path class="tb" d="M165.9 202.5l.4 0 .3 0 .3 0 .4 0 .3 0 .3.1.3 0 .4 0"/><path class="t0" d="M165.9 202.5l.4 0 .3 0 .3 0 .4 0 .3 0 .3.1.3 0 .4 0"/><path d="M126.2 218.1l.8-1.8-27.2-11.3-.8 1.8z" fill="#5aaff0"/><path d="M131.9 213l.8.1-27.2-11.3-.8-.1z" fill="#3fb5e5"/><path class="tb" d="M147.6 214.8l.4.1.3.1.3.1.3 0 .4.1.3.1.3.1.3 0"/><path class="t4" d="M147.6 214.8l.4.1.3.1.3.1.3 0 .4.1.3.1.3.1.3 0"/><path class="tb" d="M105.3 201.9l.3 0 .3.1.4.1.3.1.3.1.3.1.4.2.3.1"/><path class="t2" d="M105.3 201.9l.3 0 .3.1.4.1.3.1.3.1.3.1.4.2.3.1"/><path class="tb" d="M165.9 201.6l.4 0 .3 0 .3 0 .4 0 .3 0 .3.1.3 0 .4 0"/><path class="t1" d="M165.9 201.6l.4 0 .3 0 .3 0 .4 0 .3 0 .3.1.3 0 .4 0"/><path d="M136 208l2 1.2-27.2-10.4-2-1.1z" fill="#3ec8d7"/><path d="M131.1 212.9l.8.1-27.2-11.3-.8-.1z" fill="#51bee6"/><path class="m" d="M99 205a2.3 2.3 0 1 0 .1 0M99.7 203.4a2.3 2.3 0 1 0 .1 0M100.7 201.7a2.3 2.3 0 1 0 .1 0M101.6 200.1a2.3 2.3 0 1 0 .1 0" fill="#EDB120"/><path class="tb" d="M110.5 198.6l.3.2.4.2.3.2.3.1.4.2.3.2.3.1.3.1"/><path class="t3" d="M110.5 198.6l.3.2.4.2.3.2.3.1.4.2.3.2.3.1.3.1"/><path class="tb" d="M155.5 209l.3-.1.3 0 .4-.1.3 0 .3-.1.3 0 .4-.1.3 0"/><path class="t3" d="M155.5 209l.3-.1.3 0 .4-.1.3 0 .3-.1.3 0 .4-.1.3 0"/><path class="m" d="M95.1 212.2a2.3 2.3 0 1 0 .1 0M95.4 208.9a2.3 2.3 0 1 0 .1 0M95.8 205.5a2.3 2.3 0 1 0 .1 0M96.1 202.2a2.3 2.3 0 1 0 .1 0M96.4 199a2.3 2.3 0 1 0 .1 0" fill="#77AC30"/><path d="M102.8 184.5l.8.7-27.2-14.9-.8-.8z" fill="#fecd6a"/><path class="tb" d="M142.4 217.6l.3.1.4.1.3.1.3.1.3 0 .4.1.3 0 .3.1"/><path class="t2" d="M142.4 217.6l.3.1.4.1.3.1.3.1.3 0 .4.1.3 0 .3.1"/><path d="M127 216.3l.8-1.5-27.2-11.3-.8 1.5z" fill="#44aee9"/><path class="tb" d="M76 169.8l.3.2.4.5.3.5.3.6.4.7.3.7.3.7.3.7"/><path class="t4" d="M76 169.8l.3.2.4.5.3.5.3.6.4.7.3.7.3.7.3.7"/><path d="M130.3 212.9l.8 0-27.2-11.3-.9 0z" fill="#3cb8e2"/><path class="m" d="M187.1 185.2a2.3 2.3 0 1 0 .1 0" fill="#D95319"/><path d="M98.7 188.3l.8-2.8-27.2-14.7-.8 3.4z" fill="#f7d990"/><path class="tb" d="M163.3 202.6l.4 0 .3 0 .3-.1.3 0 .4 0 .3 0 .3 0 .3 0"/><path class="t0" d="M163.3 202.6l.4 0 .3 0 .3-.1.3 0 .4 0 .3 0 .3 0 .3 0"/><path d="M127.8 214.9l.8-1.3-27.2-11.3-.8 1.3z" fill="#53bce8"/><path d="M129.4 213l.9-.1-27.3-11.3-.8.1z" fill="#4fc0e4"/><path class="tb" d="M102.7 201.8l.3-.1.3 0 .4 0 .3 0 .3 0 .3.1.4 0 .3.1"/><path class="t2" d="M102.7 201.8l.3-.1.3 0 .4 0 .3 0 .3 0 .3.1.4 0 .3.1"/><path d="M102 184.3l.8.2-27.2-15-.8-.2z" fill="#fecc56"/><path d="M128.6 213.6l.8-.6-27.2-11.3-.8.6z" fill="#3db8e2"/><path class="tb" d="M152.9 209.4l.3-.1.3 0 .3-.1.4 0 .3-.1.3 0 .4-.1.3 0"/><path class="t3" d="M152.9 209.4l.3-.1.3 0 .3-.1.4 0 .3-.1.3 0 .4-.1.3 0"/><path d="M136 206.8l2 1.8-27.2-11.9-2-2.4z" fill="#47cdcb"/><path d="M135.2 207.5l.8.5-27.2-10.3-.8-.6z" fill="#2bc6ca"/><path class="tb" d="M163.3 201.5l.4 0 .3 0 .3 0 .3.1.4 0 .3 0 .3 0 .3 0"/><path class="t1" d="M163.3 201.5l.4 0 .3 0 .3 0 .3.1.4 0 .3 0 .3 0 .3 0"/><path class="tb" d="M110.5 196.2l.3.3.4.4.3.3.3.2.4.3.3.3.3.2.3.3"/><path class="t4" d="M110.5 196.2l.3.3.4.4.3.3.3.2.4.3.3.3.3.2.3.3"/><path class="tb" d="M145 213.7l.3.2.4.2.3.1.3.2.4.1.3.1.3.1.3.1"/><path class="t4" d="M145 213.7l.3.2.4.2.3.1.3.2.4.1.3.1.3.1.3.1"/><path d="M101.1 184.1l.9.2-27.2-15.1-.8-.1z" fill="#fed365"/><path d="M99.5 185.6l.8-1.4-27.1-15-.9 1.7z" fill="#fed167"/><path class="tb" d="M160.7 202.8l.3 0 .4 0 .3-.1.3 0 .3 0 .4-.1.3 0 .3 0"/><path class="t0" d="M160.7 202.8l.3 0 .4 0 .3-.1.3 0 .3 0 .4-.1.3 0 .3 0"/><path class="m" d="M71.7 172a2.3 2.3 0 1 0 .1 0M72.4 169.3a2.3 2.3 0 1 0 .1 0M73 167.4a2.3 2.3 0 1 0 .1 0M74.7 167a2.3 2.3 0 1 0 .1 0" fill="#77AC30"/><path d="M124.5 216.8l.9-4.8-27.2-10.3-.9 4.8z" fill="#9dd9f2"/><path d="M100.3 184.2l.8-.1-27.1-15-.9.1z" fill="#fed053"/><path class="tb" d="M139.8 216.7l.3.1.3.2.4.1.3.1.3.1.3.1.4.1.3.1"/><path class="t2" d="M139.8 216.7l.3.1.3.2.4.1.3.1.3.1.3.1.4.1.3.1"/><path d="M134.3 206.9l.9.6-27.3-10.4-.8-.5z" fill="#49cdca"/><path class="tb" d="M107.9 197l.3.2.4.3.3.2.3.2.3.2.4.2.3.1.3.2"/><path class="t3" d="M107.9 197l.3.2.4.3.3.2.3.2.3.2.4.2.3.1.3.2"/><path class="tb" d="M150.2 209.8l.4-.1.3 0 .3-.1.4 0 .3-.1.3 0 .3-.1.4 0"/><path class="t3" d="M150.2 209.8l.4-.1.3 0 .3-.1.4 0 .3-.1.3 0 .3-.1.4 0"/><path class="tb" d="M160.7 201.7l.3-.1.4 0 .3 0 .3 0 .3 0 .4-.1.3 0 .3 0"/><path class="t1" d="M160.7 201.7l.3-.1.4 0 .3 0 .3 0 .3 0 .4-.1.3 0 .3 0"/><path class="tb" d="M147.6 211.8l.4-.2.3-.3.3-.2.3-.3.4-.3.3-.3.3-.3.3-.3"/><path class="t0" d="M147.6 211.8l.4-.2.3-.3.3-.2.3-.3.4-.3.3-.3.3-.3.3-.3"/><path class="m" d="M121.8 230.6a2.3 2.3 0 1 0 .1 0M122.4 229a2.3 2.3 0 1 0 .1 0M123.1 227.4a2.3 2.3 0 1 0 .1 0M123.7 225.7a2.3 2.3 0 1 0 .1 0M124.4 224.1a2.3 2.3 0 1 0 .1 0" fill="#0072BD"/><path class="tb" d="M145 213l.3-.1.4-.1.3-.1.3-.2.4-.1.3-.2.3-.2.3-.2"/><path class="t0" d="M145 213l.3-.1.4-.1.3-.1.3-.2.4-.1.3-.2.3-.2.3-.2"/><path class="tb" d="M158.1 203.6l.3-.2.4-.1.3-.1.3-.1.3-.1.4 0 .3-.1.3-.1"/><path class="t0" d="M158.1 203.6l.3-.2.4-.1.3-.1.3-.1.3-.1.4 0 .3-.1.3-.1"/><path d="M133.5 206.3l.8.6-27.2-10.3-.8-.6z" fill="#40cabe"/><path class="tb" d="M150.2 209.6l.4-.3.3-.3.3-.3.4-.3.3-.3.3-.2.3-.3.4-.2"/><path class="t0" d="M150.2 209.6l.4-.3.3-.3.3-.3.4-.3.3-.3.3-.2.3-.3.4-.2"/><path d="M122.9 218.5l.8-6.1-27.1-14-.9 7.7z" fill="#a8e0f2"/><path d="M135.2 206l.8.8-27.2-12.5-.8-1.3z" fill="#4bccb5"/><path class="tb" d="M152.9 207.4l.3-.3.3-.2.3-.3.4-.2.3-.3.3-.3.4-.2.3-.3"/><path class="t0" d="M152.9 207.4l.3-.3.3-.2.3-.3.4-.2.3-.3.3-.3.4-.2.3-.3"/><path class="m" d="M97.7 203.1a2.3 2.3 0 1 0 .1 0M98 201.1a2.3 2.3 0 1 0 .1 0M98.4 199.5a2.3 2.3 0 1 0 .1 0M99 197.1a2.3 2.3 0 1 0 .1 0M99.7 195.3a2.3 2.3 0 1 0 .1 0" fill="#7E2F8E"/><path class="tb" d="M155.5 205.3l.3-.2.3-.3.4-.2.3-.2.3-.3.3-.2.4-.1.3-.2"/><path class="t0" d="M155.5 205.3l.3-.2.3-.3.4-.2.3-.2.3-.3.3-.2.4-.1.3-.2"/><path class="tb" d="M147.6 210.1l.4 0 .3-.1.3 0 .3-.1.4 0 .3-.1.3 0 .3 0"/><path class="t3" d="M147.6 210.1l.4 0 .3-.1.3 0 .3-.1.4 0 .3-.1.3 0 .3 0"/><path class="m" d="M125 222.5a2.3 2.3 0 1 0 .1 0M126 220.4a2.3 2.3 0 1 0 .1 0M127 219a2.3 2.3 0 1 0 .1 0M128.3 217.6a2.3 2.3 0 1 0 .1 0M186.2 198.7a2.3 2.3 0 1 0 .1 0" fill="#0072BD"/><path class="tb" d="M142.4 213.8l.3-.1.4-.1.3-.1.3-.1.3-.1.4-.1.3-.1.3-.1"/><path class="t0" d="M142.4 213.8l.3-.1.4-.1.3-.1.3-.1.3-.1.4-.1.3-.1.3-.1"/><path class="tb" d="M158.1 202.3l.3-.1.4-.1.3-.1.3-.1.3-.1.4 0 .3-.1.3 0"/><path class="t1" d="M158.1 202.3l.3-.1.4-.1.3-.1.3-.1.3-.1.4 0 .3-.1.3 0"/><path d="M132.7 205.8l.8.6-27.2-10.4-.8-.6z" fill="#5ad1bf"/><path class="tb" d="M142.4 211.7l.3.2.4.3.3.3.3.2.3.3.4.3.3.2.3.2"/><path class="t4" d="M142.4 211.7l.3.2.4.3.3.3.3.2.3.3.4.3.3.2.3.2"/><path class="tb" d="M139.8 214.7l.3-.1.3-.1.4-.1.3-.2.3-.1.3-.1.4-.1.3-.1"/><path class="t0" d="M139.8 214.7l.3-.1.3-.1.4-.1.3-.2.3-.1.3-.1.4-.1.3-.1"/><path d="M125.3 212.1l.9-3-27.2-10.3-.9 3z" fill="#74d9e0"/><path class="tb" d="M137.2 215.2l.3.1.3.2.4.2.3.2.3.2.3.2.4.2.3.2"/><path class="t2" d="M137.2 215.2l.3.1.3.2.4.2.3.2.3.2.3.2.4.2.3.2"/><path class="m" d="M121.8 228.8a2.3 2.3 0 1 0 .1 0M122.7 227a2.3 2.3 0 1 0 .1 0M123.7 224.8a2.3 2.3 0 1 0 .1 0M124.4 222.7a2.3 2.3 0 1 0 .1 0M125 220.7a2.3 2.3 0 1 0 .1 0" fill="#D95319"/><path class="tb" d="M155.5 203.6l.3-.2.3-.2.4-.2.3-.1.3-.2.3-.1.4-.2.3-.1"/><path class="t1" d="M155.5 203.6l.3-.2.3-.2.4-.2.3-.1.3-.2.3-.1.4-.2.3-.1"/><path d="M134.3 205l.8 1-27.1-12.9-.9-1.4z" fill="#65d4b1"/><path class="tb" d="M145 210.4l.3 0 .4-.1.3 0 .3 0 .4-.1.3 0 .3-.1.3 0"/><path class="t3" d="M145 210.4l.3 0 .4-.1.3 0 .3 0 .4-.1.3 0 .3-.1.3 0"/><path class="tb" d="M145 211.1l.3-.2.4-.2.3-.2.3-.2.4-.3.3-.2.3-.3.3-.2"/><path class="t1" d="M145 211.1l.3-.2.4-.2.3-.2.3-.2.4-.3.3-.2.3-.3.3-.2"/><path class="tb" d="M107.9 192.6l.3.6.4.5.3.5.3.5.3.4.4.4.3.4.3.3"/><path class="t4" d="M107.9 192.6l.3.6.4.5.3.5.3.5.3.4.4.4.3.4.3.3"/><path class="m" d="M127.3 203.5a2.3 2.3 0 1 0 .1 0M128.3 202a2.3 2.3 0 1 0 .1 0M185.5 203.4a2.3 2.3 0 1 0 .1 0M186.2 201.4a2.3 2.3 0 1 0 .1 0M186.8 198.7a2.3 2.3 0 1 0 .1 0" fill="#7E2F8E"/><path class="tb" d="M142.4 212.7l.3-.2.4-.2.3-.1.3-.2.3-.2.4-.2.3-.3.3-.2"/><path class="t1" d="M142.4 212.7l.3-.2.4-.2.3-.1.3-.2.3-.2.4-.2.3-.3.3-.2"/><path class="tb" d="M147.6 209.3l.4-.3.3-.3.3-.2.3-.3.4-.3.3-.3.3-.3.3-.3"/><path class="t1" d="M147.6 209.3l.4-.3.3-.3.3-.2.3-.3.4-.3.3-.3.3-.3.3-.3"/><path d="M131.9 205.2l.8.6-27.2-10.4-.8-.6z" fill="#4eceb0"/><path class="tb" d="M152.9 205.1l.3-.2.3-.2.3-.2.4-.2.3-.2.3-.2.4-.2.3-.1"/><path class="t1" d="M152.9 205.1l.3-.2.3-.2.3-.2.4-.2.3-.2.3-.2.4-.2.3-.1"/><path class="tb" d="M105.3 195.2l.3.2.3.3.4.2.3.2.3.2.3.3.4.2.3.2"/><path class="t3" d="M105.3 195.2l.3.2.3.3.4.2.3.2.3.2.3.3.4.2.3.2"/><path class="tb" d="M150.2 207l.4-.2.3-.3.3-.3.4-.2.3-.3.3-.2.3-.2.4-.2"/><path class="t1" d="M150.2 207l.4-.2.3-.3.3-.3.4-.2.3-.3.3-.2.3-.2.4-.2"/><path class="m" d="M125.7 218.8a2.3 2.3 0 1 0 .1 0M126.3 217.2a2.3 2.3 0 1 0 .1 0M127.3 215.8a2.3 2.3 0 1 0 .1 0M128.6 214.5a2.3 2.3 0 1 0 .1 0M184.5 201a2.3 2.3 0 1 0 .1 0" fill="#D95319"/><path class="tb" d="M137.2 215.5l.3-.1.3-.1.4-.1.3-.1.3-.1.3-.1.4-.1.3-.1"/><path class="t0" d="M137.2 215.5l.3-.1.3-.1.4-.1.3-.1.3-.1.3-.1.4-.1.3-.1"/><path class="tb" d="M139.8 213.5l.3-.1.3-.1.4-.1.3-.1.3-.1.3-.1.4-.1.3-.1"/><path class="t1" d="M139.8 213.5l.3-.1.3-.1.4-.1.3-.1.3-.1.3-.1.4-.1.3-.1"/><path d="M131.1 204.5l.8.7-27.2-10.4-.8-.7z" fill="#65d5b1"/><path class="tb" d="M134.6 216.6l.3-.2.3-.1.3-.2.4-.1.3-.1.3-.2.3-.1.4-.1"/><path class="t0" d="M134.6 216.6l.3-.2.3-.1.3-.2.4-.1.3-.1.3-.2.3-.1.4-.1"/><path class="tb" d="M142.4 210.5l.3 0 .4 0 .3 0 .3 0 .3 0 .4-.1.3 0 .3 0"/><path class="t3" d="M142.4 210.5l.3 0 .4 0 .3 0 .3 0 .3 0 .4-.1.3 0 .3 0"/><path d="M126.2 209.2l.8-2.1-27.2-10.4-.9 2.1z" fill="#55cfc3"/><path d="M133.5 204l.8 1-27.2-13.3-.8-1.4z" fill="#61d39a"/><path class="tb" d="M137.2 214.2l.3-.1.3-.1.4 0 .3-.1.3-.1.3-.1.4-.1.3-.1"/><path class="t1" d="M137.2 214.2l.3-.1.3-.1.4 0 .3-.1.3-.1.3-.1.4-.1.3-.1"/><path class="m" d="M121.8 226.9a2.3 2.3 0 1 0 .1 0M122.7 225.2a2.3 2.3 0 1 0 .1 0M123.7 222.8a2.3 2.3 0 1 0 .1 0M124.4 220.3a2.3 2.3 0 1 0 .1 0M125 217.9a2.3 2.3 0 1 0 .1 0" fill="#EDB120"/><path class="tb" d="M131.9 217.8l.4-.1.3-.2.3-.1.3-.2.4-.2.3-.1.3-.2.4-.1"/><path class="t0" d="M131.9 217.8l.4-.1.3-.2.3-.1.3-.2.4-.2.3-.1.3-.2.4-.1"/><path d="M130.3 203.9l.8.6-27.2-10.4-.9-.5z" fill="#5bd2a0"/><path class="tb" d="M129.3 219.2l.3-.2.4-.2.3-.2.3-.1.4-.2.3-.2.3-.1.3-.2"/><path class="t0" d="M129.3 219.2l.3-.2.4-.2.3-.2.3-.1.4-.2.3-.2.3-.1.3-.2"/><path d="M127 207.2l.8-1.6-27.2-10.3-.8 1.5z" fill="#50ceae"/><path class="tb" d="M134.6 214.8l.3-.1.3 0 .3-.1.4-.1.3-.1.3 0 .3-.1.4-.1"/><path class="t1" d="M134.6 214.8l.3-.1.3 0 .3-.1.4-.1.3-.1.3 0 .3-.1.4-.1"/><path class="tb" d="M134.6 213.8l.3.2.3.1.3.2.4.2.3.2.3.1.3.2.4.2"/><path class="t2" d="M134.6 213.8l.3.2.3.1.3.2.4.2.3.2.3.1.3.2.4.2"/><path class="tb" d="M139.8 209.9l.3.2.3.2.4.2.3.2.3.2.3.3.4.2.3.3"/><path class="t4" d="M139.8 209.9l.3.2.3.2.4.2.3.2.3.2.3.3.4.2.3.3"/><path class="m" d="M100.7 193.4a2.3 2.3 0 1 0 .1 0M101.6 191.9a2.3 2.3 0 1 0 .1 0" fill="#7E2F8E"/><path d="M132.7 203.1l.8.9-27.2-13.7-.8-1.3z" fill="#82d896"/><path class="tb" d="M139.8 210.1l.3.1.3.1.4.1.3 0 .3.1.3 0 .4 0 .3 0"/><path class="t3" d="M139.8 210.1l.3.1.3.1.4.1.3 0 .3.1.3 0 .4 0 .3 0"/><path d="M127.8 205.7l.8-1.3-27.2-10.3-.8 1.2z" fill="#69d6ac"/><path d="M129.4 203.8l.9.1-27.3-10.3-.8-.1z" fill="#71d7a4"/><path class="tb" d="M102.7 193.5l.3.1.3.1.4.1.3.3.3.2.3.3.4.3.3.3"/><path class="t3" d="M102.7 193.5l.3.1.3.1.4.1.3.3.3.2.3.3.4.3.3.3"/><path d="M123.7 212.5l.8-5.5-27.1-14.7-.9 6.2z" fill="#a6e6da"/><path d="M128.6 204.4l.8-.6-27.2-10.4-.8.7z" fill="#61d29b"/><path class="tb" d="M131.9 215.4l.4 0 .3-.1.3-.1.3-.1.4 0 .3-.1.3-.1.4-.1"/><path class="t1" d="M131.9 215.4l.4 0 .3-.1.3-.1.3-.1.4 0 .3-.1.3-.1.4-.1"/><path class="m" d="M121.8 225.1a2.3 2.3 0 1 0 .1 0M122.4 222.9a2.3 2.3 0 1 0 .1 0M123.1 220.6a2.3 2.3 0 1 0 .1 0M123.7 217.5a2.3 2.3 0 1 0 .1 0M124 215.4a2.3 2.3 0 1 0 .1 0" fill="#7E2F8E"/><path d="M131.9 202l.8 1.1-27.2-14.1-.8-1.4z" fill="#8bd478"/><path class="tb" d="M105.3 188.3l.3.6.3.5.4.5.3.5.3.6.3.5.4.6.3.5"/><path class="t4" d="M105.3 188.3l.3.6.3.5.4.5.3.5.3.6.3.5.4.6.3.5"/><path class="tb" d="M129.3 216.5l.3-.2.4-.1.3-.2.3-.1.4-.1.3-.2.3-.1.3-.1"/><path class="t1" d="M129.3 216.5l.3-.2.4-.1.3-.2.3-.1.4-.1.3-.2.3-.1.3-.1"/><path class="tb" d="M131.9 212.9l.4.1.3.1.3 0 .3.1.4.2.3.1.3.1.4.2"/><path class="t2" d="M131.9 212.9l.4.1.3.1.3 0 .3.1.4.2.3.1.3.1.4.2"/><path class="tb" d="M137.2 208.8l.3.1.3.2.4.2.3.2.3.1.3.2.4.2.3.1"/><path class="t3" d="M137.2 208.8l.3.1.3.2.4.2.3.2.3.1.3.2.4.2.3.1"/><path class="tb" d="M137.2 208l.3.3.3.2.4.3.3.2.3.2.3.2.4.2.3.3"/><path class="t4" d="M137.2 208l.3.3.3.2.4.3.3.2.3.2.3.2.4.2.3.3"/><path class="m" d="M96.7 196.3a2.3 2.3 0 1 0 .1 0M97.1 193.7a2.3 2.3 0 1 0 .1 0M97.4 191.3a2.3 2.3 0 1 0 .1 0M97.7 189.1a2.3 2.3 0 1 0 .1 0M98 187.2a2.3 2.3 0 1 0 .1 0" fill="#77AC30"/><path d="M131.1 200.9l.8 1.1-27.2-14.4-.8-1.4z" fill="#add675"/><path class="m" d="M121.8 222.4a2.3 2.3 0 1 0 .1 0M122.1 219.8a2.3 2.3 0 1 0 .1 0M122.4 217.3a2.3 2.3 0 1 0 .1 0M122.7 214.8a2.3 2.3 0 1 0 .1 0M123.1 212.3a2.3 2.3 0 1 0 .1 0" fill="#77AC30"/><path d="M124.5 207.1l.9-4.2-27.2-15-.9 4.5z" fill="#b7e6b4"/><path class="tb" d="M129.3 212.8l.3 0 .4 0 .3 0 .3 0 .4 0 .3 0 .3.1.3 0"/><path class="t2" d="M129.3 212.8l.3 0 .4 0 .3 0 .3 0 .4 0 .3 0 .3.1.3 0"/><path class="m" d="M125.7 216.1a2.3 2.3 0 1 0 .1 0M126.3 214.5a2.3 2.3 0 1 0 .1 0M127.3 212.7a2.3 2.3 0 1 0 .1 0M128.3 211.2a2.3 2.3 0 1 0 .1 0" fill="#EDB120"/><path d="M130.2 199.9l.9 1-27.2-14.7-.8-1.3z" fill="#bacf55"/><path class="tb" d="M134.6 207.2l.3.2.3.2.3.2.4.2.3.2.3.2.3.2.4.2"/><path class="t3" d="M134.6 207.2l.3.2.3.2.3.2.4.2.3.2.3.2.3.2.4.2"/><path d="M129.4 199.3l.8.6-27.1-15-.9-.6z" fill="#d0d15e"/><path class="tb" d="M102.7 184.5l.3.2.3.4.4.4.3.5.3.6.3.6.4.6.3.5"/><path class="t4" d="M102.7 184.5l.3.2.3.4.4.4.3.5.3.6.3.6.4.6.3.5"/><path class="tb" d="M134.6 205.5l.3.3.3.4.3.3.4.4.3.3.3.3.3.3.4.2"/><path class="t4" d="M134.6 205.5l.3.3.3.4.3.3.4.4.3.3.3.3.3.3.4.2"/><path d="M125.3 203l.9-2.7-27.2-15.1-.9 2.8z" fill="#d2e091"/><path d="M128.6 199l.8.3-27.2-15-.8-.3z" fill="#d4ca49"/><path d="M127.8 198.9l.8.1-27.2-15-.8-.2z" fill="#ddce5a"/><path d="M126.1 200.3l.9-1.4-27.2-15-.8 1.4z" fill="#d9cf5b"/><path d="M127 198.9l.8 0-27.2-15.1-.8.1z" fill="#dcc848"/><path class="m" d="M98.7 184.7a2.3 2.3 0 1 0 .1 0M99.4 182.7a2.3 2.3 0 1 0 .1 0M100.7 181.7a2.3 2.3 0 1 0 .1 0M102.3 182a2.3 2.3 0 1 0 .1 0" fill="#77AC30"/><path class="tb" d="M131.9 205.3l.4.3.3.2.3.2.3.2.4.3.3.2.3.2.4.3"/><path class="t3" d="M131.9 205.3l.4.3.3.2.3.2.3.2.4.3.3.2.3.2.4.3"/><path class="m" d="M124.4 213.3a2.3 2.3 0 1 0 .1 0M124.7 211.3a2.3 2.3 0 1 0 .1 0M125 209.7a2.3 2.3 0 1 0 .1 0M125.7 207.3a2.3 2.3 0 1 0 .1 0M126.3 205.4a2.3 2.3 0 1 0 .1 0" fill="#7E2F8E"/><path class="tb" d="M131.9 202.3l.4.5.3.3.3.4.3.4.4.4.3.4.3.4.4.4"/><path class="t4" d="M131.9 202.3l.4.5.3.3.3.4.3.4.4.4.3.4.3.4.4.4"/><path class="tb" d="M129.3 203.7l.3 0 .4.1.3.2.3.2.4.3.3.3.3.3.3.2"/><path class="t3" d="M129.3 203.7l.3 0 .4.1.3.2.3.2.4.3.3.3.3.3.3.2"/><path class="m" d="M123.4 210.1a2.3 2.3 0 1 0 .1 0M123.7 207.9a2.3 2.3 0 1 0 .1 0M124 205.7a2.3 2.3 0 1 0 .1 0M124.4 203.7a2.3 2.3 0 1 0 .1 0M124.7 201.9a2.3 2.3 0 1 0 .1 0" fill="#77AC30"/><path class="tb" d="M129.3 199.2l.3.2.4.3.3.4.3.4.4.4.3.5.3.5.3.4"/><path class="t4" d="M129.3 199.2l.3.2.4.3.3.4.3.4.4.4.3.5.3.5.3.4"/><path class="m" d="M125.3 199.4a2.3 2.3 0 1 0 .1 0M126 197.4a2.3 2.3 0 1 0 .1 0M127.3 196.4a2.3 2.3 0 1 0 .1 0M128.9 196.8a2.3 2.3 0 1 0 .1 0" fill="#77AC30"/><line x1="121.8" y1="232.9" x2="187.2" y2="217.7" stroke="#6a6a6a" stroke-width="0.6"/><line x1="121.8" y1="232.9" x2="68.5" y2="212.6" stroke="#6a6a6a" stroke-width="0.6"/><line x1="68.5" y1="212.6" x2="68.5" y2="166.8" stroke="#6a6a6a" stroke-width="0.6"/><line x1="121.8" y1="232.9" x2="123.5" y2="233.5" stroke="#6a6a6a" stroke-width="0.6"/><line x1="154.5" y1="225.3" x2="156.2" y2="225.9" stroke="#6a6a6a" stroke-width="0.6"/><line x1="187.2" y1="217.7" x2="188.9" y2="218.3" stroke="#6a6a6a" stroke-width="0.6"/><line x1="121.8" y1="232.9" x2="120" y2="233.3" stroke="#6a6a6a" stroke-width="0.6"/><line x1="95.2" y1="222.8" x2="93.4" y2="223.2" stroke="#6a6a6a" stroke-width="0.6"/><line x1="68.5" y1="212.6" x2="66.7" y2="213" stroke="#6a6a6a" stroke-width="0.6"/><line x1="68.5" y1="212.6" x2="66.7" y2="213" stroke="#6a6a6a" stroke-width="0.6"/><line x1="68.5" y1="166.8" x2="66.7" y2="167.2" stroke="#6a6a6a" stroke-width="0.6"/></g><g id="lb2"><line x1="121.8" y1="232.9" x2="68.5" y2="212.6" stroke="#e3e3e3" stroke-width="0.5"/><line x1="154.5" y1="225.3" x2="101.2" y2="205" stroke="#e3e3e3" stroke-width="0.5"/><line x1="187.2" y1="217.7" x2="133.9" y2="197.4" stroke="#e3e3e3" stroke-width="0.5"/><line x1="121.8" y1="232.9" x2="187.2" y2="217.7" stroke="#e3e3e3" stroke-width="0.5"/><line x1="95.2" y1="222.8" x2="160.5" y2="207.5" stroke="#e3e3e3" stroke-width="0.5"/><line x1="68.5" y1="212.6" x2="133.9" y2="197.4" stroke="#e3e3e3" stroke-width="0.5"/><line x1="68.5" y1="212.6" x2="68.5" y2="166.8" stroke="#e3e3e3" stroke-width="0.5"/><line x1="101.2" y1="205" x2="101.2" y2="159.2" stroke="#e3e3e3" stroke-width="0.5"/><line x1="133.9" y1="197.4" x2="133.9" y2="151.6" stroke="#e3e3e3" stroke-width="0.5"/><line x1="68.5" y1="166.8" x2="133.9" y2="151.6" stroke="#e3e3e3" stroke-width="0.5"/><line x1="187.2" y1="217.7" x2="187.2" y2="171.9" stroke="#e3e3e3" stroke-width="0.5"/><line x1="160.5" y1="207.5" x2="160.5" y2="161.7" stroke="#e3e3e3" stroke-width="0.5"/><line x1="133.9" y1="197.4" x2="133.9" y2="151.6" stroke="#e3e3e3" stroke-width="0.5"/><line x1="187.2" y1="171.9" x2="133.9" y2="151.6" stroke="#e3e3e3" stroke-width="0.5"/><path d="M156.3 201.4l2.1-.8-27.2-10.4-2.1.8z" fill="#6372fa"/><path d="M158.4 200.7l2-2.9-27.2-10.4-2 2.9z" fill="#7088fd"/><path d="M160.4 199.6l.4-.4-27.2-12.5-.4.4z" fill="#5f7ffe"/><path class="tb" d="M133.6 187.2l.3-.3"/><path class="t3" d="M133.6 187.2l.3-.3"/><path d="M158.4 200.6l2-1.1-27.2-12.4-2 1z" fill="#7089fd"/><path d="M154.3 201.9l2-.5-27.2-10.4-2 .5z" fill="#7280fa"/><path class="tb" d="M128.3 191.4l.4-.1.3-.1.3-.1.3 0 .4-.1.3-.1.3-.1.4-.1"/><path class="t4" d="M128.3 191.4l.4-.1.3-.1.3-.1.3 0 .4-.1.3-.1.3-.1.4-.1"/><path d="M156.3 200.9l2.1-.4-27.2-12.4-2.1.3z" fill="#607bfd"/><path class="tb" d="M131 188.4l.3-.1.3-.2.3-.1.4-.1.3-.2.3-.1.3-.2.4-.2"/><path class="t3" d="M131 188.4l.3-.1.3-.2.3-.1.4-.1.3-.2.3-.1.3-.2.4-.2"/><path d="M160.4 197.8l.4-1.1-27.2-10.4-.4 1.1z" fill="#5987ff"/><path class="tb" d="M131 190.7l.3-.2.3-.3.3-.3.4-.4.3-.4.3-.4.3-.6.4-.8"/><path class="t4" d="M131 190.7l.3-.2.3-.3.3-.3.4-.4.3-.4.3-.4.3-.6.4-.8"/><path class="tb" d="M133.6 187.3l.3-.9"/><path class="t4" d="M133.6 187.3l.3-.9"/><path d="M152.2 202.3l2.1-.5-27.2-10.3-2.1.5z" fill="#6371f9"/><path class="tb" d="M125.7 192l.4-.1.3-.1.3-.1.3 0 .4-.1.3-.1.3-.1.3 0"/><path class="t4" d="M125.7 192l.4-.1.3-.1.3-.1.3 0 .4-.1.3-.1.3-.1.3 0"/><path d="M156.3 200l2.1-.7-27.2-11.8-2.1.8z" fill="#5e80fe"/><path d="M160.4 197.5l.4-.4-27.2-11.7-.4.3z" fill="#558bfe"/><path class="tb" d="M133.6 185.8l.3-.3"/><path class="t1" d="M133.6 185.8l.3-.3"/><path d="M158.4 198.6l2-1.1-27.2-11.8-2 1.1z" fill="#6894ff"/><path d="M158.4 199.3l2-2.9-27.2-11.8-2 2.9z" fill="#6795fe"/><path d="M154.3 200.5l2 .4-27.2-12.5-2-.4z" fill="#6f8cfe"/><path d="M154.3 200.5l2-.5-27.2-11.8-2 .5z" fill="#6f8cfe"/><path class="tb" d="M128.3 188.3l.4.1.3.1.3 0 .3 0 .4 0 .3 0 .3 0 .4-.1"/><path class="t3" d="M128.3 188.3l.4.1.3.1.3 0 .3 0 .4 0 .3 0 .3 0 .4-.1"/><path d="M156.3 199l2.1-.5-27.2-11.7-2.1.5z" fill="#5a86ff"/><path class="tb" d="M128.3 188.6l.4-.1.3 0 .3-.1.3-.1.4-.1.3 0 .3-.1.4-.1"/><path class="t2" d="M128.3 188.6l.4-.1.3 0 .3-.1.3-.1.4-.1.3 0 .3-.1.4-.1"/><path class="tb" d="M131 187.1l.3-.1.3-.2.3-.1.4-.1.3-.2.3-.2.3-.2.4-.2"/><path class="t1" d="M131 187.1l.3-.1.3-.2.3-.1.4-.1.3-.2.3-.2.3-.2.4-.2"/><path d="M150.2 202.3l2 0-27.2-10.4-2 .1z" fill="#7281fa"/><path d="M160.4 196.4l.4-1.1-27.2-11.8-.4 1.2z" fill="#4e95fa"/><path class="tb" d="M131 188l.3-.2.3-.3.3-.4.4-.3.3-.5.3-.4.3-.5.4-.8"/><path class="t2" d="M131 188l.3-.2.3-.3.3-.4.4-.3.3-.5.3-.4.3-.5.4-.8"/><path class="tb" d="M133.6 184.6l.3-.9"/><path class="t2" d="M133.6 184.6l.3-.9"/><path d="M152.2 201l2.1-.5-27.2-11.8-2.1.5z" fill="#5f7ffe"/><path class="tb" d="M125.7 189.2l.4-.1.3 0 .3-.1.3-.1.4-.1.3 0 .3-.1.3-.1"/><path class="t2" d="M125.7 189.2l.4-.1.3 0 .3-.1.3-.1.4-.1.3 0 .3-.1.3-.1"/><path d="M154.3 199.1l2-.1-27.2-11.8-2 .1z" fill="#6994ff"/><path class="tb" d="M128.3 187.4l.4 0 .3 0 .3 0 .3-.1.4 0 .3-.1.3 0 .4-.1"/><path class="t1" d="M128.3 187.4l.4 0 .3 0 .3 0 .3-.1.4 0 .3-.1.3 0 .4-.1"/><path d="M148.2 202.1l2 .2-27.2-10.3-2.1-.2z" fill="#6277fc"/><path d="M152.2 200.2l2.1.2-27.2-12.4-2.1-.3z" fill="#5b85ff"/><path class="tb" d="M123.1 192.1l.3 0 .4 0 .3.1.3-.1.3 0 .4 0 .3-.1.3 0"/><path class="t4" d="M123.1 192.1l.3 0 .4 0 .3.1.3-.1.3 0 .4 0 .3-.1.3 0"/><path class="tb" d="M125.7 187.8l.4.1.3 0 .3.1.3 0 .4.1.3.1.3.1.3 0"/><path class="t3" d="M125.7 187.8l.4.1.3 0 .3.1.3 0 .4.1.3.1.3.1.3 0"/><path d="M150.2 201l2-.1-27.2-11.7-2 0z" fill="#6e8efe"/><path d="M152.2 199l2.1.1-27.2-11.8-2.1 0z" fill="#558bfe"/><path class="tb" d="M125.7 187.4l.4 0 .3 0 .3 0 .3 0 .4 0 .3 0 .3 0 .3 0"/><path class="t1" d="M125.7 187.4l.4 0 .3 0 .3 0 .3 0 .4 0 .3 0 .3 0 .3 0"/><path d="M150.2 200.2l2 0-27.2-12.5-2 .1z" fill="#6895ff"/><path d="M146.1 201.9l2.1.1-27.2-10.2-2.1-.2z" fill="#7089fd"/><path class="tb" d="M120.5 191.8l.3 0 .3.1.4 0 .3.1.3 0 .4 0 .3.1.3 0"/><path class="t4" d="M120.5 191.8l.3 0 .3.1.4 0 .3.1.3 0 .4 0 .3.1.3 0"/><path d="M148.2 200.7l2 .3-27.2-11.8-2-.3z" fill="#5b85ff"/><path class="tb" d="M123.1 189.3l.3 0 .4.1.3 0 .3 0 .3 0 .4-.1.3 0 .3-.1"/><path class="t2" d="M123.1 189.3l.3 0 .4.1.3 0 .3 0 .3 0 .4-.1.3 0 .3-.1"/><path d="M150.2 198.7l2 .3-27.2-11.8-2-.2z" fill="#629bfd"/><path d="M148.1 200.3l2.1-.1-27.2-12.5-2 .1z" fill="#548cfe"/><path class="tb" d="M123.1 187.9l.3 0 .4 0 .3-.1.3 0 .3 0 .4 0 .3 0 .3 0"/><path class="t3" d="M123.1 187.9l.3 0 .4 0 .3-.1.3 0 .3 0 .4 0 .3 0 .3 0"/><path d="M144.1 202l2-.1-27.2-10.4-2-.2z" fill="#5f7ffe"/><path class="tb" d="M117.9 191.5l.3.1.3 0 .4 0 .3.1.3 0 .3 0 .4 0 .3.1"/><path class="t4" d="M117.9 191.5l.3.1.3 0 .4 0 .3.1.3 0 .3 0 .4 0 .3.1"/><path d="M146.1 200.6l2.1.1-27.2-11.8-2.1-.1z" fill="#6796fe"/><path class="tb" d="M120.5 189l.3 0 .3 0 .4.1.3 0 .3.1.4 0 .3.1.3 0"/><path class="t2" d="M120.5 189l.3 0 .3 0 .4.1.3 0 .3.1.4 0 .3.1.3 0"/><path d="M146.1 200.3l2.1 0-27.2-12.5-2.1.1z" fill="#639afd"/><path d="M148.2 198.3l2 .4-27.2-11.7-2-.5z" fill="#4e96fa"/><path class="tb" d="M120.5 188l.3 0 .3 0 .4-.1.3 0 .3 0 .4 0 .3 0 .3 0"/><path class="t3" d="M120.5 188l.3 0 .3 0 .4-.1.3 0 .3 0 .4 0 .3 0 .3 0"/><path class="tb" d="M123.1 187.1l.3 0 .4.1.3 0 .3.1.3 0 .4.1.3 0 .3 0"/><path class="t1" d="M123.1 187.1l.3 0 .4.1.3 0 .3.1.3 0 .4.1.3 0 .3 0"/><path d="M142 202.1l2.1-.1-27.2-10.7-2.1-.2z" fill="#6c90ff"/><path class="tb" d="M115.3 191.2l.3 0 .3.1.3 0 .4.1.3 0 .3.1.3 0 .4 0"/><path class="t4" d="M115.3 191.2l.3 0 .3.1.3 0 .4.1.3 0 .3.1.3 0 .4 0"/><path d="M144.1 200.6l2-.1-27.2-11.7-2 .1z" fill="#528efd"/><path class="tb" d="M117.9 189l.3 0 .3-.1.4 0 .3 0 .3 0 .3 0 .4 0 .3.1"/><path class="t2" d="M117.9 189l.3 0 .3-.1.4 0 .3 0 .3 0 .3 0 .4 0 .3.1"/><path d="M144.1 200.2l2 .1-27.2-12.4-2-.1z" fill="#4f92fb"/><path class="tb" d="M117.9 188l.3 0 .3 0 .4 0 .3 0 .3 0 .3 0 .4 0 .3 0"/><path class="t3" d="M117.9 188l.3 0 .3 0 .4 0 .3 0 .3 0 .3 0 .4 0 .3 0"/><path d="M140 202.4l2-.3-27.2-11-2 .1z" fill="#5a86ff"/><path d="M146.1 197.8l2.1.5-27.2-11.8-2.1-.5z" fill="#5fa5f7"/><path class="tb" d="M120.5 186.4l.3.1.3.1.4.1.3.1.3 0 .4.1.3.1.3.1"/><path class="t1" d="M120.5 186.4l.3.1.3.1.4.1.3.1.3 0 .4.1.3.1.3.1"/><path d="M156.3 191.3l2.1-.9-27.2-12.1-2.1.7z" fill="#3db8e2"/><path d="M142 200.8l2.1-.2-27.2-11.7-2.1.1z" fill="#629bfd"/><path class="tb" d="M115.3 189.1l.3 0 .3 0 .3-.1.4 0 .3 0 .3 0 .3 0 .4 0"/><path class="t2" d="M115.3 189.1l.3 0 .3 0 .3-.1.4 0 .3 0 .3 0 .3 0 .4 0"/><path d="M137.9 203.1l2.1-.7-27.2-11.3-2.1.7z" fill="#6a93ff"/><path class="tb" d="M112.6 191.3l.4 0 .3-.1.3 0 .4 0 .3 0 .3 0 .3 0 .4 0"/><path class="t4" d="M112.6 191.3l.4 0 .3-.1.3 0 .4 0 .3 0 .3 0 .3 0 .4 0"/><path d="M154.3 191.8l2-.5-27.2-12.3-2 .1z" fill="#50bfe6"/><path d="M142 200.1l2.1.1-27.2-12.4-2.1-.2z" fill="#5fa1fa"/><path class="tb" d="M128.3 179.2l.4 0 .3 0 .3-.1.3 0 .4 0 .3-.1.3-.1.4-.1"/><path class="t0" d="M128.3 179.2l.4 0 .3 0 .3-.1.3 0 .4 0 .3-.1.3-.1.4-.1"/><path class="tb" d="M115.3 187.8l.3 0 .3 0 .3 0 .4.1.3 0 .3 0 .3 0 .4.1"/><path class="t3" d="M115.3 187.8l.3 0 .3 0 .3 0 .4.1.3 0 .3 0 .3 0 .4.1"/><path d="M140 201.1l2-.3-27.2-11.8-2 .3z" fill="#4f92fc"/><path d="M135.9 203.9l2-.9-27.2-11.3-2 .9z" fill="#5b85ff"/><path class="tb" d="M110 192.3l.4-.2.3-.1.3-.1.3-.2.4-.1.3-.1.3-.1.3-.1"/><path class="t4" d="M110 192.3l.4-.2.3-.1.3-.1.3-.2.4-.1.3-.1.3-.1.3-.1"/><path d="M144.1 197.3l2 .5-27.2-11.8-2-.4z" fill="#4ba1f2"/><path class="tb" d="M117.9 185.9l.3.1.3 0 .4.1.3.1.3 0 .3.1.4.1.3 0"/><path class="t1" d="M117.9 185.9l.3.1.3 0 .4.1.3.1.3 0 .3.1.4.1.3 0"/><path d="M133.8 204.8l2.1-.9-27.2-11.3-2.1.9z" fill="#6d8ffe"/><path class="tb" d="M107.4 193.4l.3-.1.4-.2.3-.1.3-.1.3-.2.4-.1.3-.2.3-.1"/><path class="t4" d="M107.4 193.4l.3-.1.4-.2.3-.1.3-.1.3-.2.4-.1.3-.2.3-.1"/><path d="M152.2 192.2l2.1-.4-27.2-12.7-2.1-.1z" fill="#3cb9e2"/><path class="tb" d="M125.7 179.1l.4.1.3 0 .3 0 .3 0 .4 0 .3 0 .3 0 .3 0"/><path class="t0" d="M125.7 179.1l.4.1.3 0 .3 0 .3 0 .4 0 .3 0 .3 0 .3 0"/><path d="M137.9 201.7l2.1-.6-27.2-11.8-2.1.6z" fill="#619dfc"/><path class="tb" d="M112.6 189.5l.4-.1.3 0 .3-.1.4 0 .3-.1.3 0 .3-.1.4 0"/><path class="t2" d="M112.6 189.5l.4-.1.3 0 .3-.1.4 0 .3-.1.3 0 .3-.1.4 0"/><path d="M158.3 190.4l2.1-7.5-27.2-11.2-2 6.6z" fill="#4ecfd4"/><path d="M140 200l2 .1-27.2-12.5-2 0z" fill="#4d9af7"/><path class="tb" d="M131 178.8l.3-.2.3-.4.3-.4.4-.6.3-.6.3-.6"/><path class="t0" d="M131 178.8l.3-.2.3-.4.3-.4.4-.6.3-.6.3-.6"/><path d="M131.8 205.2l2.1-.5-27.2-11.3-2.1.5z" fill="#5e81fe"/><path d="M135.9 202.4l2-.8-27.2-11.7-2 .8z" fill="#5091fc"/><path class="tb" d="M110 190.4l.4-.2.3-.1.3-.1.3-.1.4-.1.3-.1.3-.1.3-.1"/><path class="t2" d="M110 190.4l.4-.2.3-.1.3-.1.3-.1.4-.1.3-.1.3-.1.3-.1"/><path d="M142 196.8l2.1.5-27.2-11.7-2.1-.5z" fill="#5ab0ef"/><path d="M133.8 203.3l2.1-.9-27.2-11.7-2.1.8z" fill="#639afd"/><path class="tb" d="M115.3 185.2l.3.1.3.1.3.1.4 0 .3.1.3.1.3.1.4.1"/><path class="t1" d="M115.3 185.2l.3.1.3.1.3.1.4 0 .3.1.3.1.3.1.4.1"/><path class="tb" d="M107.4 191.4l.3-.1.4-.1.3-.2.3-.1.3-.1.4-.2.3-.1.3-.1"/><path class="t2" d="M107.4 191.4l.3-.1.4-.1.3-.2.3-.1.3-.1.4-.2.3-.1.3-.1"/><path d="M129.8 205.4l2-.2-27.2-11.3-2 .3z" fill="#6d8efe"/><path d="M150.2 191.7l2 .5-27.2-13.2-2-1.1z" fill="#4ac3e0"/><path class="tb" d="M104.8 194l.3 0 .4-.1.3 0 .3-.1.3-.1.4-.1.3-.1.3-.1"/><path class="t4" d="M104.8 194l.3 0 .4-.1.3 0 .3-.1.3-.1.4-.1.3-.1.3-.1"/><path d="M137.9 200.1l2.1-.1-27.2-12.5-2.1.1z" fill="#5ea7f6"/><path class="tb" d="M112.6 187.7l.4 0 .3 0 .3 0 .4 0 .3 0 .3 0 .3 0 .4.1"/><path class="t3" d="M112.6 187.7l.4 0 .3 0 .3 0 .4 0 .3 0 .3 0 .3 0 .4.1"/><path d="M131.8 204.1l2.1-.8-27.2-11.8-2.1.8z" fill="#548cfe"/><path d="M129.8 204.9l2-.8-27.2-11.8-2 .9z" fill="#6795ff"/><path class="tb" d="M104.8 192.5l.3-.2.4-.1.3-.1.3-.1.3-.2.4-.1.3-.1.3-.2"/><path class="t2" d="M104.8 192.5l.3-.2.4-.1.3-.1.3-.1.3-.2.4-.1.3-.1.3-.2"/><path d="M127.7 205.5l2.1-.1-27.2-11.3-2.1.2z" fill="#5c84ff"/><path class="tb" d="M102.2 194.3l.3 0 .3 0 .4-.1.3 0 .3 0 .3-.1.4 0 .3-.1"/><path class="t4" d="M102.2 194.3l.3 0 .3 0 .4-.1.3 0 .3 0 .3-.1.4 0 .3-.1"/><path d="M135.9 200.2l2-.1-27.2-12.5-2 .1z" fill="#4c9ff3"/><path class="tb" d="M110 187.8l.4 0 .3-.1.3 0 .3 0 .4 0 .3 0 .3 0 .3 0"/><path class="t3" d="M110 187.8l.4 0 .3-.1.3 0 .3 0 .4 0 .3 0 .3 0 .3 0"/><path d="M140 196.6l2 .2-27.2-11.7-2-.3z" fill="#45acea"/><path d="M127.7 205.7l2.1-.8-27.2-11.7-2.1.7z" fill="#5987ff"/><path class="tb" d="M102.2 193.5l.3-.1.3-.1.4-.1.3-.2.3-.1.3-.2.4-.1.3-.1"/><path class="t2" d="M102.2 193.5l.3-.1.3-.1.4-.1.3-.2.3-.1.3-.2.4-.1.3-.1"/><path d="M125.7 206.2l2-.5-27.2-11.8-2 .6z" fill="#6b92ff"/><path class="tb" d="M99.6 194.4l.3-.1.3-.1.3-.1.4-.1.3-.1.3-.1.4-.1.3-.2"/><path class="t2" d="M99.6 194.4l.3-.1.3-.1.3-.1.4-.1.3-.1.3-.1.4-.1.3-.2"/><path d="M148.1 190.3l2.1 1.4-27.2-13.8-2-1.7z" fill="#27c3d1"/><path d="M125.7 205.6l2-.1-27.2-11.3-2 .1z" fill="#6993ff"/><path class="tb" d="M123.1 177.9l.3.2.4.3.3.2.3.1.3.2.4.1.3.1.3 0"/><path class="t0" d="M123.1 177.9l.3.2.4.3.3.2.3.1.3.2.4.1.3.1.3 0"/><path class="tb" d="M99.6 194.4l.3 0 .3 0 .3 0 .4 0 .3-.1.3 0 .4 0 .3 0"/><path class="t4" d="M99.6 194.4l.3 0 .3 0 .3 0 .4 0 .3-.1.3 0 .4 0 .3 0"/><path d="M133.8 200.4l2.1-.2-27.2-12.5-2.1.2z" fill="#5dabf3"/><path class="tb" d="M107.4 188l.3-.1.4 0 .3 0 .3 0 .3-.1.4 0 .3 0 .3 0"/><path class="t3" d="M107.4 188l.3-.1.4 0 .3 0 .3 0 .3-.1.4 0 .3 0 .3 0"/><path d="M137.9 196.6l2.1 0-27.2-11.8-2.1.1z" fill="#56b7eb"/><path class="tb" d="M112.6 184.9l.4 0 .3 0 .3.1.4 0 .3 0 .3.1.3.1.4 0"/><path class="t1" d="M112.6 184.9l.4 0 .3 0 .3.1.4 0 .3 0 .3.1.3.1.4 0"/><path d="M123.6 206.7l2.1-.5-27.2-11.8-2.1.5z" fill="#5a86ff"/><path class="tb" d="M96.9 195l.4-.1.3-.1.3 0 .4-.1.3-.1.3-.1.3 0 .4-.1"/><path class="t2" d="M96.9 195l.4-.1.3-.1.3 0 .4-.1.3-.1.3-.1.3 0 .4-.1"/><path d="M131.8 200.6l2-.3-27.1-12.4-2.1.2z" fill="#4aa3f0"/><path d="M160.4 183l.4-5.6-27.2-11.3-.4 5.7z" fill="#b5e9ca"/><path class="m" d="M133.8 164a2.3 2.3 0 1 0 .1 0" fill="#0072BD"/><path d="M123.6 205.4l2.1.2-27.2-11.3-2.1-.2z" fill="#558bfe"/><path class="tb" d="M96.9 194.2l.4.1.3 0 .3 0 .4.1.3 0 .3 0 .3 0 .4 0"/><path class="t4" d="M96.9 194.2l.4.1.3 0 .3 0 .4.1.3 0 .3 0 .3 0 .4 0"/><path d="M121.6 207.2l2-.5-27.2-11.8-2 .5z" fill="#6b92ff"/><path d="M135.9 196.8l2-.2-27.2-11.7-2 .1z" fill="#42b1e7"/><path class="tb" d="M110 185l.4 0 .3 0 .3 0 .3 0 .4 0 .3 0 .3-.1.3 0"/><path class="t1" d="M110 185l.4 0 .3 0 .3 0 .3 0 .4 0 .3 0 .3-.1.3 0"/><path d="M129.8 200.9l2-.3-27.2-12.5-2 .4z" fill="#5badf1"/><path class="tb" d="M104.8 188.3l.3-.1.4 0 .3-.1.3 0 .3 0 .4-.1.3 0 .3 0"/><path class="t3" d="M104.8 188.3l.3-.1.4 0 .3-.1.3 0 .3 0 .4-.1.3 0 .3 0"/><path d="M183 213.1l2-1.1-27.2-11.7-2 .3z" fill="#636ff7"/><path d="M119.5 207.6l2.1-.4-27.2-11.8-2.1.5z" fill="#5a86ff"/><path d="M146.1 189.1l2 1.2-27.1-14.1-2.1-1.2z" fill="#4bcec9"/><path class="tb" d="M94.3 195.6l.4-.1.3 0 .3-.1.3-.1.4-.1.3-.1.3 0 .3-.1"/><path class="t2" d="M94.3 195.6l.4-.1.3 0 .3-.1.3-.1.4-.1.3-.1.3 0 .3-.1"/><path class="tb" d="M120.5 175.8l.3.3.3.2.4.3.3.2.3.3.4.3.3.2.3.3"/><path class="t0" d="M120.5 175.8l.3.3.3.2.4.3.3.2.3.3.4.3.3.2.3.3"/><path d="M183 211.5l2-.7-27.2-10.4-2 .8z" fill="#6372fa"/><path d="M133.8 197l2.1-.3-27.2-11.7-2.1.3z" fill="#54bae9"/><path class="tb" d="M107.4 185.3l.3-.1.4 0 .3 0 .3-.1.3 0 .4 0 .3-.1.3 0"/><path class="t1" d="M107.4 185.3l.3-.1.4 0 .3 0 .3-.1.3 0 .4 0 .3-.1.3 0"/><path d="M121.6 204.9l2 .5-27.2-11.3-2-.5z" fill="#619cfc"/><path d="M185 212.1l2.1-6.5-27.2-6.3-2.1 1z" fill="#7187fd"/><path d="M185 210.8l2.1-2.9-27.2-10.4-2.1 2.9z" fill="#7088fd"/><path d="M127.7 201.2l2.1-.3-27.2-12.5-2.1.4z" fill="#48a5ef"/><path class="tb" d="M102.2 188.7l.3-.1.3 0 .4-.1.3 0 .3-.1.3 0 .4-.1.3 0"/><path class="t3" d="M102.2 188.7l.3-.1.3 0 .4-.1.3 0 .3-.1.3 0 .4-.1.3 0"/><path d="M183 211.6l2-.8-27.2-11.8-2 .8z" fill="#6277fc"/><path d="M180.9 212.7l2.1.4-27.2-12.5-2.1-.4z" fill="#727ff9"/><path d="M180.9 212l2.1-.5-27.2-10.4-2.1.5z" fill="#7280fa"/><path class="tb" d="M155 200.6l.3 0 .3.1.4 0 .3 0 .3 0 .4 0 .3 0 .3-.1"/><path class="t3" d="M155 200.6l.3 0 .3.1.4 0 .3 0 .3 0 .4 0 .3 0 .3-.1"/><path d="M117.5 207.5l2 .1-27.2-11.7-2-.1z" fill="#6994ff"/><path class="tb" d="M155 201.5l.3-.1.3 0 .4-.1.3-.1.3-.1.4 0 .3-.1.3-.1"/><path class="t4" d="M155 201.5l.3-.1.3 0 .4-.1.3-.1.3-.1.4 0 .3-.1.3-.1"/><path class="tb" d="M91.7 196l.3 0 .4 0 .3 0 .3-.1.4-.1.3 0 .3-.1.3-.1"/><path class="t2" d="M91.7 196l.3 0 .4 0 .3 0 .3-.1.4-.1.3 0 .3-.1.3-.1"/><path d="M131.8 197.6l2.1-.6-27.2-11.8-2.1.6z" fill="#41b3e6"/><path d="M185 210.8l2.1-2.9-27.2-11.7-2.1 2.9z" fill="#6f8cfe"/><path d="M187.1 208l.4-1.2-27.2-10.4-.4 1.2z" fill="#5987ff"/><path d="M180.9 212l2.1-.5-27.2-11.7-2.1.5z" fill="#7284fc"/><path class="tb" d="M157.6 200.9l.3-.2.4-.3.3-.4.3-.3.3-.5.4-.4.3-.5.3-.8"/><path class="t4" d="M157.6 200.9l.3-.2.4-.3.3-.4.3-.3.3-.5.4-.4.3-.5.3-.8"/><path class="tb" d="M160.2 197.5l.3-.9"/><path class="t4" d="M160.2 197.5l.3-.9"/><path class="tb" d="M155 200.1l.3 0 .3-.1.4-.1.3-.1.3 0 .4-.1.3-.1.3-.1"/><path class="t2" d="M155 200.1l.3 0 .3-.1.4-.1.3-.1.3 0 .4-.1.3-.1.3-.1"/><path d="M125.7 201.5l2-.3-27.2-12.4-2 .3z" fill="#5aaff0"/><path d="M129.8 198.6l2-1-27.2-11.8-2 1.1z" fill="#55b9ea"/><path class="tb" d="M99.6 189.1l.3-.1.3 0 .3-.1.4 0 .3-.1.3 0 .4-.1.3 0"/><path class="t3" d="M99.6 189.1l.3-.1.3 0 .3-.1.4 0 .3-.1.3 0 .4-.1.3 0"/><path class="tb" d="M104.8 186l.3-.2.4-.1.3-.1.3-.1.3 0 .4-.1.3-.1.3 0"/><path class="t1" d="M104.8 186l.3-.2.4-.1.3-.1.3-.1.3 0 .4-.1.3-.1.3 0"/><path d="M178.9 212.5l2-.5-27.2-10.4-2 .5z" fill="#6371f9"/><path d="M187.1 205.6l.4-2.2-27.2-4.4-.5.4z" fill="#588bfe"/><path class="tb" d="M152.4 202.1l.3-.1.3 0 .4-.1.3-.1.3-.1.3 0 .4-.1.3-.1"/><path class="t4" d="M152.4 202.1l.3-.1.3 0 .4-.1.3-.1.3-.1.3 0 .4-.1.3-.1"/><path class="tb" d="M157.6 200.6l.3-.1.4-.1.3-.2.3-.1.3-.1.4-.2.3-.2.3-.2"/><path class="t3" d="M157.6 200.6l.3-.1.4-.1.3-.2.3-.1.3-.1.4-.2.3-.2.3-.2"/><path class="tb" d="M160.2 199.4l.3-.3"/><path class="t3" d="M160.2 199.4l.3-.3"/><path d="M127.7 199.8l2.1-1.2-27.2-11.8-2.1 1.3z" fill="#44aee9"/><path class="tb" d="M102.2 187.4l.3-.2.3-.2.4-.2.3-.2.3-.2.3-.1.4-.2.3-.1"/><path class="t1" d="M102.2 187.4l.3-.2.3-.2.4-.2.3-.2.3-.2.3-.1.4-.2.3-.1"/><path d="M144.1 188.1l2 1-27.2-14.1-2-.7z" fill="#49ccb6"/><path d="M187.1 208l.4-1.2-27.2-11.7-.4 1.1z" fill="#548cfe"/><path class="tb" d="M117.9 174.7l.3.1.3.2.4.1.3.1.3.1.3.2.4.1.3.2"/><path class="t0" d="M117.9 174.7l.3.1.3.2.4.1.3.1.3.1.3.2.4.1.3.2"/><path class="tb" d="M157.6 199.5l.3-.2.4-.3.3-.3.3-.4.3-.4.4-.5.3-.5.3-.8"/><path class="t2" d="M157.6 199.5l.3-.2.4-.3.3-.3.3-.4.3-.4.4-.5.3-.5.3-.8"/><path class="tb" d="M160.2 196.1l.3-.9"/><path class="t2" d="M160.2 196.1l.3-.9"/><path d="M119.5 204.2l2.1.7-27.2-11.3-2.1-.7z" fill="#4d98f9"/><path d="M125.7 201l2-1.2-27.2-11.7-2 1.1z" fill="#59b2ed"/><path class="tb" d="M94.3 193.6l.4.1.3.1.3.1.3.1.4 0 .3.1.3.1.3 0"/><path class="t4" d="M94.3 193.6l.4.1.3.1.3.1.3.1.4 0 .3.1.3.1.3 0"/><path class="tb" d="M99.6 188.9l.3-.2.3-.2.3-.1.4-.2.3-.2.3-.2.4-.2.3-.2"/><path class="t1" d="M99.6 188.9l.3-.2.3-.2.3-.1.4-.2.3-.2.3-.2.4-.2.3-.2"/><path d="M123.6 202.5l2.1-1.5-27.2-11.8-2.1 1.1z" fill="#48a5ef"/><path d="M178.9 212.5l2-.5-27.2-11.8-2 .5z" fill="#6276fb"/><path d="M183 209.1l2-1.6-27.2-9.2-2 .5z" fill="#5c83ff"/><path class="tb" d="M96.9 190.3l.4-.2.3-.2.3-.2.4-.1.3-.2.3-.2.3-.1.4-.2"/><path class="t1" d="M96.9 190.3l.4-.2.3-.2.3-.2.4-.1.3-.2.3-.2.3-.1.4-.2"/><path d="M178.9 212.4l2 .3-27.2-12.5-2-.3z" fill="#6276fc"/><path class="tb" d="M152.4 200.7l.3 0 .3-.1.4-.1.3-.1.3 0 .3-.1.4-.1.3-.1"/><path class="t2" d="M152.4 200.7l.3 0 .3-.1.4-.1.3-.1.3 0 .3-.1.4-.1.3-.1"/><path d="M115.5 207l2 .5-27.2-11.8-2-.5z" fill="#528efd"/><path class="tb" d="M152.4 200.1l.3 0 .3 0 .4.1.3 0 .3.1.3.1.4.1.3.1"/><path class="t3" d="M152.4 200.1l.3 0 .3 0 .4.1.3 0 .3.1.3.1.4.1.3.1"/><path d="M121.6 203.9l2-1.5-27.2-12.1-2 1z" fill="#5daaf3"/><path class="tb" d="M89.1 195.5l.3.1.4.1.3.1.3 0 .3.1.4.1.3 0 .3 0"/><path class="t2" d="M89.1 195.5l.3.1.4.1.3.1.3 0 .3.1.4.1.3 0 .3 0"/><path d="M123.6 201.8l2.1-.3-27.2-12.4-2.1.3z" fill="#47a7ed"/><path class="tb" d="M96.9 189.5l.4-.1.3 0 .3-.1.4 0 .3-.1.3 0 .3-.1.4 0"/><path class="t3" d="M96.9 189.5l.4-.1.3 0 .3-.1.4 0 .3-.1.3 0 .3-.1.4 0"/><path d="M119.5 205l2.1-1.2-27.2-12.5-2.1 1z" fill="#4d9df5"/><path d="M176.8 212.5l2.1 0-27.2-10.4-2.1 0z" fill="#7281fa"/><path d="M95.4 222.9l.9-4.3-27.2-10.4-.9 4.3z" fill="#9c93e2"/><path class="tb" d="M94.3 191.6l.4-.1.3-.2.3-.2.3-.1.4-.2.3-.2.3-.2.3-.1"/><path class="t1" d="M94.3 191.6l.4-.1.3-.2.3-.2.3-.1.4-.2.3-.2.3-.2.3-.1"/><path d="M117.5 206l2-1-27.1-12.7-2.1 1z" fill="#5fa4f8"/><path d="M95.4 221l.9-1.3-27.3-10.5-.8 1.5z" fill="#988fe4"/><path class="tb" d="M91.7 192.9l.3-.2.4-.1.3-.2.3-.2.4-.1.3-.2.3-.1.3-.2"/><path class="t1" d="M91.7 192.9l.3-.2.4-.1.3-.2.3-.2.4-.1.3-.2.3-.1.3-.2"/><path d="M180.9 208.7l2.1.4-27.2-10.3-2.1.1z" fill="#6c90ff"/><path class="tb" d="M155 199l.3-.1.3 0 .4 0 .3 0 .3-.1.4 0 .3-.1.3-.1"/><path class="t1" d="M155 199l.3-.1.3 0 .4 0 .3 0 .3-.1.4 0 .3-.1.3-.1"/><path d="M176.8 212.5l2.1 0-27.2-11.8-2.1 0z" fill="#7185fc"/><path class="m" d="M68.5 210.3a2.3 2.3 0 1 0 .1 0M68.8 208.6a2.3 2.3 0 1 0 .1 0M69.1 206.9a2.3 2.3 0 1 0 .1 0M69.4 205.2a2.3 2.3 0 1 0 .1 0M69.8 203.5a2.3 2.3 0 1 0 .1 0" fill="#0072BD"/><path d="M121.6 202.1l2-.3-27.2-12.4-2 .2z" fill="#59b1ee"/><path d="M115.4 206.8l2.1-.8-27.2-12.7-2 .8z" fill="#4d97f9"/><path class="tb" d="M89.1 194l.3-.1.4-.1.3-.2.3-.1.3-.2.4-.1.3-.2.3-.1"/><path class="t1" d="M89.1 194l.3-.1.4-.1.3-.2.3-.1.3-.2.4-.1.3-.2.3-.1"/><path d="M176.8 212.4l2.1 0-27.2-12.5-2.1.1z" fill="#7188fd"/><path d="M96.2 219.8l.9-1.5-27.2-10.8-.9 1.7z" fill="#a49fef"/><path d="M142 187.2l2.1.9-27.2-13.8-2.1-.5z" fill="#63d4b3"/><path class="tb" d="M115.3 174l.3 0 .3.1.3.1.4.1.3.1.3.1.3.1.4.1"/><path class="t0" d="M115.3 174l.3 0 .3.1.3.1.4.1.3.1.3.1.3.1.4.1"/><path d="M174.8 212.2l2.1.3-27.3-10.4-2-.3z" fill="#6277fc"/><path class="tb" d="M149.8 202.2l.3 0 .3.1.3 0 .4 0 .3 0 .3-.1.3 0 .4-.1"/><path class="t4" d="M149.8 202.2l.3 0 .3.1.3 0 .4 0 .3 0 .3-.1.3 0 .4-.1"/><path d="M185 207.6l2.1-11.5-27.3 1.2-2 1.1z" fill="#5fa3f9"/><path d="M113.4 206.2l2.1.8-27.2-11.8-2.1-.8z" fill="#5fa0fa"/><path d="M113.4 207.3l2.1-.5-27.2-12.7-2.1.5z" fill="#5fa0fa"/><path class="tb" d="M86.5 194.5l.3.2.3.2.4.1.3.1.3.1.3.1.4.1.3.1"/><path class="t2" d="M86.5 194.5l.3.2.3.2.4.1.3.1.3.1.3.1.4.1.3.1"/><path class="tb" d="M86.5 194.7l.3-.1.3-.1.4 0 .3-.1.3-.1.3-.1.4-.1.3-.1"/><path class="t1" d="M86.5 194.7l.3-.1.3-.1.4 0 .3-.1.3-.1.3-.1.4-.1.3-.1"/><path d="M117.5 202.5l2 1.7-27.2-11.3-2-1.6z" fill="#5dacf2"/><path class="tb" d="M91.7 192.4l.3.2.4.2.3.2.3.2.4.1.3.1.3.1.3.1"/><path class="t4" d="M91.7 192.4l.3.2.4.2.3.2.3.2.4.1.3.1.3.1.3.1"/><path d="M119.5 202.3l2.1-.2-27.2-12.5-2.1.3z" fill="#46a9ec"/><path class="tb" d="M94.3 189.8l.4 0 .3-.1.3 0 .3-.1.4 0 .3-.1.3 0 .3 0"/><path class="t3" d="M94.3 189.8l.4 0 .3-.1.3 0 .3-.1.4 0 .3-.1.3 0 .3 0"/><path d="M178.9 208.2l2 .5-27.2-9.8-2-.1z" fill="#5789fe"/><path d="M95.4 219.2l.9-1.4-27.3-10.4-.8 1.4z" fill="#9a96f0"/><path d="M174.8 212.2l2 .3-27.2-11.8-2-.2z" fill="#607cfd"/><path class="tb" d="M152.4 198.9l.3 0 .3 0 .4 0 .3.1.3 0 .3 0 .4 0 .3 0"/><path class="t1" d="M152.4 198.9l.3 0 .3 0 .4 0 .3.1.3 0 .3 0 .4 0 .3 0"/><path class="tb" d="M149.8 200.8l.3.1.3 0 .3 0 .4 0 .3 0 .3 0 .3-.1.4-.1"/><path class="t2" d="M149.8 200.8l.3.1.3 0 .3 0 .4 0 .3 0 .3 0 .3-.1.4-.1"/><path class="m" d="M68.5 208.5a2.3 2.3 0 1 0 .1 0M69.4 206.7a2.3 2.3 0 1 0 .1 0M70.4 204.5a2.3 2.3 0 1 0 .1 0M71.1 202.3a2.3 2.3 0 1 0 .1 0M71.7 200.4a2.3 2.3 0 1 0 .1 0" fill="#D95319"/><path d="M174.8 212.5l2-.1-27.1-12.5-2.1.1z" fill="#607dfd"/><path class="tb" d="M149.8 200.1l.3 0 .3 0 .3 0 .4 0 .3-.1.3 0 .3.1.4 0"/><path class="t3" d="M149.8 200.1l.3 0 .3 0 .3 0 .4 0 .3-.1.3 0 .3.1.4 0"/><path d="M97.1 218.3l.8-2.3-27.2-11-.9 2.6z" fill="#9a9bf6"/><path d="M111.4 207.7l2-.5-27.2-12.7-2 .5z" fill="#4e96fa"/><path d="M96.2 217.8l.9-1.7-27.2-10.4-.9 1.7z" fill="#a4a6f7"/><path d="M172.8 212.1l2 .1-27.2-10.4-2-.1z" fill="#7089fd"/><path d="M140 186.9l2 .3-27.2-13.4-2-.1z" fill="#5ad1a1"/><path class="tb" d="M147.1 201.9l.4 0 .3 0 .3.1.4 0 .3.1.3 0 .3.1.4 0"/><path class="t4" d="M147.1 201.9l.4 0 .3 0 .3.1.4 0 .3.1.3 0 .3.1.4 0"/><path d="M117.5 202.5l2-.2-27.2-12.4-2 .1z" fill="#58b3ed"/><path class="tb" d="M91.7 190.1l.3 0 .4-.1.3 0 .3 0 .4-.1.3 0 .3-.1.3 0"/><path class="t3" d="M91.7 190.1l.3 0 .4-.1.3 0 .3 0 .4-.1.3 0 .3-.1.3 0"/><path d="M109.3 208.2l2.1-.5-27.2-12.7-2.1.5z" fill="#5fa0fa"/><path d="M96.2 218.6l.9-4.4-27.2-10.4-.9 4.5z" fill="#aaaef9"/><path class="tb" d="M83.9 195.3l.3-.1.3-.1.4 0 .3-.1.3-.1.3-.1.4 0 .3-.1"/><path class="t1" d="M83.9 195.3l.3-.1.3-.1.4 0 .3-.1.3-.1.3-.1.4 0 .3-.1"/><path d="M172.8 212.6l2-.1-27.2-12.5-2 .1z" fill="#6e8dfe"/><path d="M172.8 212.1l2 .1-27.2-11.8-2-.1z" fill="#6e8dfe"/><path class="tb" d="M147.1 200.2l.4 0 .3 0 .3 0 .4-.1.3 0 .3 0 .3 0 .4 0"/><path class="t3" d="M147.1 200.2l.4 0 .3 0 .3 0 .4-.1.3 0 .3 0 .3 0 .4 0"/><path d="M176.9 207.7l2 .5-27.2-9.4-2.1-.3z" fill="#639afd"/><path class="tb" d="M147.1 200.5l.4 0 .3.1.3 0 .4 0 .3.1.3 0 .3.1.4 0"/><path class="t2" d="M147.1 200.5l.4 0 .3.1.3 0 .4 0 .3.1.3 0 .3.1.4 0"/><path d="M111.4 205l2 1.2-27.2-11.8-2-1.2z" fill="#4c9ff4"/><path class="m" d="M68.5 206.6a2.3 2.3 0 1 0 .1 0M69.4 204.9a2.3 2.3 0 1 0 .1 0M70.4 202.3a2.3 2.3 0 1 0 .1 0M70.7 200.7a2.3 2.3 0 1 0 .1 0M71.1 198.9a2.3 2.3 0 1 0 .1 0" fill="#EDB120"/><path d="M108.5 208.4l.8-.2-27.2-12.7-.8.2z" fill="#4e96fa"/><path d="M97.9 216l.8-2.3-27.2-11.2-.8 2.6z" fill="#a4aefc"/><path d="M137.9 187.4l2.1-.5-27.2-13.2-2.1.6z" fill="#6dd6a8"/><path class="tb" d="M112.6 173.9l.4 0 .3-.1.3 0 .4 0 .3 0 .3.1.3 0 .4.1"/><path class="t0" d="M112.6 173.9l.4 0 .3-.1.3 0 .4 0 .3 0 .3.1.3 0 .4.1"/><path d="M170.7 212.2l2.1-.1-27.2-10.4-2.1.1z" fill="#5f7ffe"/><path d="M115.4 202.5l2.1 0-27.2-12.5-2 .1z" fill="#45ade9"/><path d="M95.4 217.4l.9-2.7-27.3-10.5-.8 2.8z" fill="#9aa1fa"/><path class="tb" d="M144.5 201.9l.4-.1.3 0 .3 0 .3 0 .4 0 .3 0 .3 0 .3.1"/><path class="t4" d="M144.5 201.9l.4-.1.3 0 .3 0 .3 0 .4 0 .3 0 .3 0 .3.1"/><path d="M107.7 208.6l.8-.2-27.2-12.7-.8.2z" fill="#5fa0fa"/><path class="tb" d="M89.1 190.2l.3 0 .4 0 .3 0 .3 0 .3 0 .4-.1.3 0 .3 0"/><path class="t3" d="M89.1 190.2l.3 0 .4 0 .3 0 .3 0 .3 0 .4-.1.3 0 .3 0"/><path class="tb" d="M81.3 195.9l.3-.1.3-.1.3 0 .4-.1.3-.1.3-.1.3 0 .4-.1"/><path class="t1" d="M81.3 195.9l.3-.1.3-.1.3 0 .4-.1.3-.1.3-.1.3 0 .4-.1"/><path d="M187.1 196.2l.4-4.2-27.2 5-.5.4z" fill="#8dcff1"/><path class="tb" d="M157.6 198.6l.3-.1.4-.1.3-.2.3-.1.3-.2.4-.2.3-.1.3-.3"/><path class="t1" d="M157.6 198.6l.3-.1.4-.1.3-.2.3-.1.3-.2.4-.2.3-.1.3-.3"/><path class="tb" d="M160.2 197.3l.3-.3"/><path class="t1" d="M160.2 197.3l.3-.3"/><path d="M106.9 208.8l.8-.2-27.2-12.7-.8.2z" fill="#4e96fa"/><path d="M115.5 200.4l2 2.1-27.2-11.2-2-2.2z" fill="#43b0e8"/><path d="M97 216.2l.9-3.3-27.2-11-.9 3.8z" fill="#99a6fd"/><path class="tb" d="M89.1 189.9l.3.3.4.4.3.3.3.3.3.4.4.3.3.2.3.3"/><path class="t4" d="M89.1 189.9l.3.3.4.4.3.3.3.3.3.4.4.3.3.2.3.3"/><path d="M135.9 188.2l2-.8-27.2-13.1-2 .7z" fill="#5bd2a0"/><path d="M170.7 212.5l2.1 0-27.2-12.4-2.1-.1z" fill="#5c84ff"/><path d="M170.7 212.2l2.1-.1-27.2-11.8-2.1.1z" fill="#5c84ff"/><path class="tb" d="M110 174.7l.4-.1.3-.1.3-.1.3-.1.4-.1.3-.1.3-.1.3-.1"/><path class="t0" d="M110 174.7l.4-.1.3-.1.3-.1.3-.1.4-.1.3-.1.3-.1.3-.1"/><path class="tb" d="M144.5 200.2l.4 0 .3 0 .3 0 .3 0 .4 0 .3 0 .3 0 .3 0"/><path class="t3" d="M144.5 200.2l.4 0 .3 0 .3 0 .3 0 .4 0 .3 0 .3 0 .3 0"/><path class="tb" d="M144.5 200.5l.4 0 .3 0 .3 0 .3-.1.4 0 .3 0 .3.1.3 0"/><path class="t2" d="M144.5 200.5l.4 0 .3 0 .3 0 .3-.1.4 0 .3 0 .3.1.3 0"/><path d="M125.7 196.1l2-1.6-27.2-14-2 1.4z" fill="#41cbcf"/><path d="M106 209l.9-.2-27.2-12.7-.8.2z" fill="#5fa0fa"/><path d="M123.6 197.3l2.1-1.3-27.2-14.1-2.1 1.3z" fill="#27c3d0"/><path class="tb" d="M96.9 183.2l.4-.2.3-.2.3-.2.4-.2.3-.2.3-.2.3-.2.4-.2"/><path class="t0" d="M96.9 183.2l.4-.2.3-.2.3-.2.4-.2.3-.2.3-.2.3-.2.4-.2"/><path d="M127.7 194.6l2.1-2.3-27.2-13.6-2.1 1.9z" fill="#3dc9bf"/><path d="M174.8 207.3l2.1.4-27.3-9.2-2-.5z" fill="#4e95fa"/><path class="tb" d="M99.6 181.6l.3-.2.3-.3.3-.2.4-.3.3-.3.3-.3.4-.2.3-.3"/><path class="t0" d="M99.6 181.6l.3-.2.3-.3.3-.2.4-.3.3-.3.3-.3.4-.2.3-.3"/><path d="M121.6 198.3l2-1-27.2-14.1-2 1z" fill="#40c7da"/><path class="tb" d="M149.8 198.6l.3 0 .3.1.3.1.4 0 .3 0 .3.1.3 0 .4 0"/><path class="t1" d="M149.8 198.6l.3 0 .3.1.3.1.4 0 .3 0 .3.1.3 0 .4 0"/><path d="M105.2 209.2l.9-.2-27.2-12.7-.9.2z" fill="#4e96fa"/><path d="M98.7 213.7l.8-1.6-27.2-11.3-.8 1.8z" fill="#97adfe"/><path d="M133.8 189l2.1-.9-27.2-13.1-2.1.9z" fill="#69d6ac"/><path class="tb" d="M78.6 196.5l.4-.1.3 0 .3-.1.3-.1.4-.1.3-.1.3 0 .4-.1"/><path class="t1" d="M78.6 196.5l.4-.1.3 0 .3-.1.3-.1.4-.1.3-.1.3 0 .4-.1"/><path d="M168.7 212.3l2-.2-27.2-10.3-2 .1z" fill="#6d8efe"/><path class="tb" d="M107.4 175.8l.3-.1.4-.2.3-.1.3-.2.3-.1.4-.1.3-.1.3-.2"/><path class="t0" d="M107.4 175.8l.3-.1.4-.2.3-.1.3-.2.3-.1.4-.1.3-.1.3-.2"/><path class="tb" d="M141.9 202l.3 0 .4 0 .3-.1.3 0 .3 0 .4 0 .3 0 .3 0"/><path class="t4" d="M141.9 202l.3 0 .4 0 .3-.1.3 0 .3 0 .4 0 .3 0 .3 0"/><path d="M129.7 192.3l2.1-2.1-27.2-13.2-2 1.7z" fill="#5ed2ba"/><path d="M113.4 202.1l2.1.4-27.2-12.4-2.1-.4z" fill="#55b9ea"/><path d="M104.4 209.1l.8 0-27.2-12.7-.8.2z" fill="#5fa1fa"/><path class="tb" d="M102.2 179.5l.3-.3.3-.4.4-.3.3-.2.3-.3.3-.3.4-.3.3-.2"/><path class="t0" d="M102.2 179.5l.3-.3.3-.4.4-.3.3-.2.3-.3.3-.3.4-.3.3-.2"/><path class="tb" d="M86.5 189.8l.3.1.3.1.4.1.3 0 .3.1.3 0 .4 0 .3 0"/><path class="t3" d="M86.5 189.8l.3.1.3.1.4.1.3 0 .3.1.3 0 .4 0 .3 0"/><path d="M131.8 190.2l2.1-1.2-27.2-13.1-2.1 1.1z" fill="#54d0a9"/><path class="tb" d="M104.8 177.2l.3-.3.4-.2.3-.2.3-.1.3-.2.4-.1.3-.2.3-.1"/><path class="t0" d="M104.8 177.2l.3-.3.4-.2.3-.2.3-.1.3-.2.4-.1.3-.2.3-.1"/><path d="M119.5 198.9l2.1-.6-27.2-14.1-2.1.7z" fill="#2ebfd8"/><path class="tb" d="M94.3 184.5l.4-.1.3-.2.3-.1.3-.2.4-.2.3-.2.3-.1.3-.2"/><path class="t0" d="M94.3 184.5l.4-.1.3-.2.3-.1.3-.2.4-.2.3-.2.3-.1.3-.2"/><path d="M183 203.1l2-2-27.2-11-2 1z" fill="#43b0e8"/><path d="M168.7 212.3l2-.1-27.2-11.8-2 .1z" fill="#6a92ff"/><path d="M109.3 203.9l2.1 1.1-27.2-11.8-2.1-1z" fill="#59b1ee"/><path class="tb" d="M141.9 200.6l.3 0 .4 0 .3 0 .3-.1.3 0 .4 0 .3 0 .3 0"/><path class="t2" d="M141.9 200.6l.3 0 .4 0 .3 0 .3-.1.3 0 .4 0 .3 0 .3 0"/><path class="tb" d="M83.9 193l.3.2.3.2.4.2.3.2.3.2.3.2.4.2.3.1"/><path class="t2" d="M83.9 193l.3.2.3.2.4.2.3.2.3.2.3.2.4.2.3.1"/><path d="M103.6 209.1l.8 0-27.2-12.5-.8.2z" fill="#4d97f9"/><path d="M99.5 212.1l.8-1.1-27.2-11.6-.8 1.4z" fill="#6895ff"/><path d="M168.7 212.3l2 .1-27.2-12.4-2-.2z" fill="#6994ff"/><path class="tb" d="M141.9 200l.3 0 .4 0 .3.1.3 0 .3 0 .4 0 .3 0 .3.1"/><path class="t3" d="M141.9 200l.3 0 .4 0 .3.1.3 0 .3 0 .4 0 .3 0 .3.1"/><path d="M96.2 214.8l.9-3-27.2-10.7-.9 3.2z" fill="#a2b5fe"/><path d="M180.9 203.7l2.1-.7-27.2-11.9-2.1.5z" fill="#57b6eb"/><path class="tb" d="M155 191.4l.3 0 .3-.1.4-.1.3-.1.3 0 .4-.1.3-.1.3-.1"/><path class="t0" d="M155 191.4l.3 0 .3-.1.4-.1.3-.1.3 0 .4-.1.3-.1.3-.1"/><path class="m" d="M68.5 204.8a2.3 2.3 0 1 0 .1 0M69.1 202.6a2.3 2.3 0 1 0 .1 0M69.8 200.3a2.3 2.3 0 1 0 .1 0M70.4 197.2a2.3 2.3 0 1 0 .1 0M70.7 195.1a2.3 2.3 0 1 0 .1 0" fill="#7E2F8E"/><path d="M166.6 212.6l2.1-.3-27.2-10.4-2.1.3z" fill="#5c83ff"/><path d="M102.8 209.1l.8 0-27.2-12.3-.8.2z" fill="#5fa2fa"/><path d="M100.3 211l.9-.9-27.2-11.7-.9 1z" fill="#5090fc"/><path class="tb" d="M76 197.1l.3-.1.4 0 .3-.1.3-.1.4-.1.3 0 .3-.1.3-.1"/><path class="t1" d="M76 197.1l.3-.1.4 0 .3-.1.3-.1.4-.1.3 0 .3-.1.3-.1"/><path class="m" d="M72.7 198.3a2.3 2.3 0 1 0 .1 0M73.7 196.8a2.3 2.3 0 1 0 .1 0M75 195.3a2.3 2.3 0 1 0 .1 0" fill="#D95319"/><path d="M101.1 210.1l.9-.7-27.2-11.9-.9.9z" fill="#609ffb"/><path d="M102 209.4l.8-.3-27.2-12.1-.8.5z" fill="#4d97f9"/><path d="M172.8 206.9l2 .4-27.2-9.3-2-.4z" fill="#5fa5f8"/><path d="M97 214.3l.9-5-27.2-10.3-.9 4.9z" fill="#a3bdff"/><path class="tb" d="M147.1 198l.4 0 .3.1.3.1.4.1.3.1.3 0 .3.1.4.1"/><path class="t1" d="M147.1 198l.4 0 .3.1.3.1.4.1.3.1.3 0 .3.1.4.1"/><path d="M117.5 198.5l2 .4-27.1-14.1-2.1-.1z" fill="#40c7da"/><path class="tb" d="M91.7 185l.3 0 .4 0 .3 0 .3-.1.4-.1.3-.1.3-.1.3-.1"/><path class="t0" d="M91.7 185l.3 0 .4 0 .3 0 .3-.1.4-.1.3-.1.3-.1.3-.1"/><path d="M166.6 212.6l2.1-.3-27.2-11.8-2.1.3z" fill="#5888ff"/><path d="M178.9 204.2l2-.5-27.2-12.2-2 .5z" fill="#45ade9"/><path class="tb" d="M152.4 192l.3 0 .3-.1.4-.1.3-.1.3 0 .3-.1.4-.1.3-.1"/><path class="t0" d="M152.4 192l.3 0 .3-.1.4-.1.3-.1.3 0 .3-.1.4-.1.3-.1"/><path d="M164.6 213.2l2-.6-27.2-10.4-2 .6z" fill="#6c90ff"/><path d="M97.9 212.9l.8-3.5-27.2-11.5-.8 4.1z" fill="#9abdfe"/><path class="tb" d="M139.3 202.4l.3-.1.3 0 .4-.1.3 0 .3-.1.4 0 .3-.1.3 0"/><path class="t4" d="M139.3 202.4l.3-.1.3 0 .4-.1.3 0 .3-.1.4 0 .3-.1.3 0"/><path d="M166.6 212.2l2.1.1-27.2-12.5-2.1 0z" fill="#548cfe"/><path d="M111.4 201.1l2 1-27.2-12.4-2-1z" fill="#3eb7e3"/><path d="M108.5 203.5l.8.4-27.2-11.7-.8-.5z" fill="#44aee9"/><path d="M113.4 198.6l2.1 1.8-27.3-11.3-2-2.3z" fill="#4ac3e0"/><path class="m" d="M70.1 201.7a2.3 2.3 0 1 0 .1 0M70.4 199.8a2.3 2.3 0 1 0 .1 0M70.7 197.8a2.3 2.3 0 1 0 .1 0M71.1 195.9a2.3 2.3 0 1 0 .1 0M71.4 193.9a2.3 2.3 0 1 0 .1 0" fill="#0072BD"/><path class="tb" d="M86.5 187l.3.4.3.3.4.4.3.4.3.3.3.4.4.3.3.4"/><path class="t4" d="M86.5 187l.3.4.3.3.4.4.3.4.3.3.3.4.4.3.3.4"/><path d="M162.5 214.1l2.1-.9-27.2-10.4-2.1.9z" fill="#5d82fe"/><path d="M164.6 213.2l2-.6-27.2-11.8-2 .6z" fill="#6894ff"/><path class="tb" d="M136.7 203.3l.3-.1.3-.1.4-.2.3-.1.3-.1.3-.1.4-.1.3-.1"/><path class="t4" d="M136.7 203.3l.3-.1.3-.1.4-.2.3-.1.3-.1.3-.1.4-.1.3-.1"/><path class="tb" d="M139.3 201l.3 0 .3-.1.4-.1.3 0 .3-.1.4 0 .3 0 .3-.1"/><path class="t2" d="M139.3 201l.3 0 .3-.1.4-.1.3 0 .3-.1.4 0 .3 0 .3-.1"/><path d="M176.8 204.2l2.1 0-27.2-12.2-2.1-.6z" fill="#56b7eb"/><path d="M107.7 203.1l.8.4-27.2-11.8-.8-.4z" fill="#55b9e9"/><path d="M160.5 214.9l2.1-.8-27.3-10.4-2 .8z" fill="#6f8cfe"/><path d="M170.7 206.6l2.1.3-27.2-9.3-2.1-.5z" fill="#4ca0f3"/><path class="tb" d="M81.3 191.7l.3.1.3.2.3.2.4.2.3.1.3.2.3.2.4.1"/><path class="t2" d="M81.3 191.7l.3.1.3.2.3.2.4.2.3.1.3.2.3.2.4.1"/><path class="tb" d="M134.1 204.5l.3-.2.3-.1.3-.1.4-.2.3-.1.3-.2.4-.1.3-.2"/><path class="t4" d="M134.1 204.5l.3-.2.3-.1.3-.1.4-.2.3-.1.3-.2.4-.1.3-.2"/><path class="tb" d="M144.5 197.4l.4.1.3.1.3 0 .3.1.4.1.3 0 .3.1.3.1"/><path class="t1" d="M144.5 197.4l.4.1.3.1.3 0 .3.1.4.1.3 0 .3.1.3.1"/><path d="M162.5 214l2.1-.9-27.2-11.7-2.1.8z" fill="#5987ff"/><path d="M115.4 197.5l2.1 1-27.2-13.8-2-.5z" fill="#27c4ce"/><path class="tb" d="M136.7 201.9l.3-.1.3-.2.4-.1.3-.1.3-.1.3-.1.4-.1.3-.1"/><path class="t2" d="M136.7 201.9l.3-.1.3-.2.4-.1.3-.1.3-.1.3-.1.4-.1.3-.1"/><path class="tb" d="M89.1 184.5l.3.1.4.1.3.1.3 0 .3.1.4.1.3 0 .3 0"/><path class="t0" d="M89.1 184.5l.3.1.4.1.3.1.3 0 .3.1.4.1.3 0 .3 0"/><path d="M164.6 212.3l2-.1-27.2-12.4-2 0z" fill="#629bfd"/><path class="tb" d="M139.3 199.9l.3 0 .3 0 .4 0 .3 0 .3 0 .4 0 .3.1.3 0"/><path class="t3" d="M139.3 199.9l.3 0 .3 0 .4 0 .3 0 .3 0 .4 0 .3.1.3 0"/><path class="m" d="M74 182.6a2.3 2.3 0 1 0 .1 0M74.7 181a2.3 2.3 0 1 0 .1 0M75.6 179.4a2.3 2.3 0 1 0 .1 0M132.9 173.7a2.3 2.3 0 1 0 .1 0M133.5 168.4a2.3 2.3 0 1 0 .1 0" fill="#0072BD"/><path d="M185 201.2l2.1-10.5-27.2-8-2.1 7.5z" fill="#70d8de"/><path d="M97 211.9l.9-4.8-27.2-10.9-.9 5z" fill="#9cc6fb"/><path d="M160.5 214.8l2-.9-27.2-11.7-2 .9z" fill="#6c91ff"/><path class="tb" d="M181.6 212.8l.4 0 .3.1.3 0 .3.1.4 0 .3-.1.3 0 .4-.2"/><path class="t3" d="M181.6 212.8l.4 0 .3.1.3 0 .3.1.4 0 .3-.1.3 0 .4-.2"/><path d="M158.5 215.4l2-.5-27.2-10.4-2.1.5z" fill="#5f7efe"/><path class="tb" d="M157.6 190.8l.3-.4.4-.4.3-.6.3-.6.3-.8.4-.9"/><path class="t0" d="M157.6 190.8l.3-.4.4-.4.3-.6.3-.6.3-.8.4-.9"/><path class="tb" d="M134.1 203l.3-.2.3-.1.3-.1.4-.2.3-.1.3-.2.4-.1.3-.1"/><path class="t2" d="M134.1 203l.3-.2.3-.1.3-.1.4-.2.3-.1.3-.2.4-.1.3-.1"/><path class="tb" d="M184.3 212.7l.3-.5.3-.6.3-.8.4-.9"/><path class="t3" d="M184.3 212.7l.3-.5.3-.6.3-.8.4-.9"/><path d="M106.9 202.7l.8.4-27.2-11.8-.8-.3z" fill="#40b5e5"/><path d="M98.7 209.5l.8-2.3-27.2-11.6-.8 2.4z" fill="#8bc2f7"/><path d="M95.4 214.7l.9-8.6-27.2-11.9-.9 10.1z" fill="#a7cbfc"/><path d="M158.4 215.6l2.1-.8-27.2-11.8-2.1.9z" fill="#5d82fe"/><path d="M109.3 200l2.1 1.1-27.2-12.4-2.1-1.2z" fill="#47c4de"/><path class="tb" d="M83.9 188.5l.3.1.3.2.4.2.3.2.3.1.3.2.4.2.3.1"/><path class="t3" d="M83.9 188.5l.3.1.3.2.4.2.3.2.3.1.3.2.4.2.3.1"/><path d="M162.5 212.4l2.1-.1-27.2-12.5-2.1.1z" fill="#4f92fb"/><path d="M106.1 202.5l.8.2-27.2-11.7-.8-.2z" fill="#51bee6"/><path d="M174.8 203.8l2 .4-27.1-12.8-2.1-1.4z" fill="#3fb5e5"/><path class="tb" d="M136.7 200l.3 0 .3 0 .4-.1.3 0 .3 0 .3 0 .4 0 .3 0"/><path class="t3" d="M136.7 200l.3 0 .3 0 .4-.1.3 0 .3 0 .3 0 .4 0 .3 0"/><path d="M168.7 206.4l2 .2-27.2-9.5-2-.5z" fill="#5baef0"/><path class="tb" d="M149.8 191.4l.3.2.3.2.3.1.4.1.3.1.3 0 .3 0 .4-.1"/><path class="t0" d="M149.8 191.4l.3.2.3.2.3.1.4.1.3.1.3 0 .3 0 .4-.1"/><path d="M156.4 215.6l2.1-.3-27.2-10.3-2.1.2z" fill="#6f8cfe"/><path class="tb" d="M141.9 196.8l.3 0 .4.1.3.1.3.1.3 0 .4.1.3.1.3.1"/><path class="t1" d="M141.9 196.8l.3 0 .4.1.3.1.3.1.3 0 .4.1.3.1.3.1"/><path class="tb" d="M131.4 205.1l.4-.1.3 0 .3-.1.4-.1.3 0 .3-.1.3-.1.4-.1"/><path class="t4" d="M131.4 205.1l.4-.1.3 0 .3-.1.4-.1.3 0 .3-.1.3-.1.4-.1"/><path d="M156.4 216.5l2.1-.9-27.2-11.8-2.1.9z" fill="#6f8cfe"/><path class="tb" d="M131.4 204l.4-.1.3-.2.3-.1.4-.1.3-.1.3-.2.3-.1.4-.1"/><path class="t2" d="M131.4 204l.4-.1.3-.2.3-.1.4-.1.3-.1.3-.2.3-.1.4-.1"/><path class="tb" d="M184.3 211l.3-.2.3-.3.3-.3.4-.4.3-.4.3-.4.3-.6.4-.8"/><path class="t2" d="M184.3 211l.3-.2.3-.3.3-.3.4-.4.3-.4.3-.4.3-.6.4-.8"/><path class="tb" d="M184.3 211l.3-.2.3-.3.3-.3.4-.4.3-.4.3-.4.3-.6.4-.8"/><path class="t4" d="M184.3 211l.3-.2.3-.3.3-.3.4-.4.3-.4.3-.4.3-.6.4-.8"/><path class="m" d="M71.4 197.1a2.3 2.3 0 1 0 .1 0M72 194.8a2.3 2.3 0 1 0 .1 0M72.7 193.1a2.3 2.3 0 1 0 .1 0M73.7 191.2a2.3 2.3 0 1 0 .1 0M74.7 189.5a2.3 2.3 0 1 0 .1 0" fill="#EDB120"/><path class="tb" d="M181.6 211.7l.4-.1.3-.1.3-.1.3 0 .4-.1.3-.1.3-.1.4-.1"/><path class="t2" d="M181.6 211.7l.4-.1.3-.1.3-.1.3 0 .4-.1.3-.1.3-.1.4-.1"/><path class="tb" d="M181.6 211.7l.4-.1.3-.1.3-.1.3 0 .4-.1.3-.1.3-.1.4-.1"/><path class="t4" d="M181.6 211.7l.4-.1.3-.1.3-.1.3 0 .4-.1.3-.1.3-.1.4-.1"/><path d="M97.9 209.4l.8-4.8-27.2-10.3-.8 4.8z" fill="#a2d1f7"/><path d="M105.2 202.4l.9.1-27.2-11.7-.9-.2z" fill="#3cb9e2"/><path d="M113.4 196.3l2 1.2-27.1-13.3-2.1-.8z" fill="#4acdc9"/><path class="tb" d="M78.6 190.8l.4.1.3 0 .3.1.3.1.4.1.3.2.3.1.4.2"/><path class="t2" d="M78.6 190.8l.4.1.3 0 .3.1.3.1.4.1.3.2.3.1.4.2"/><path d="M99.5 207.2l.8-1.8-27.2-11.5-.8 1.8z" fill="#58b3ed"/><path class="tb" d="M86.5 183.5l.3.2.3.2.4.1.3.1.3.1.3.1.4.1.3.1"/><path class="t0" d="M86.5 183.5l.3.2.3.2.4.1.3.1.3.1.3.1.4.1.3.1"/><path d="M111.4 196.9l2 1.7-27.2-11.7-2-2.7z" fill="#2bc6ca"/><path d="M154.4 217.2l2-.8-27.2-11.7-2 .8z" fill="#607dfe"/><path class="tb" d="M128.8 205.1l.4-.2.3-.1.3-.1.3-.2.4-.1.3-.1.3-.2.3-.1"/><path class="t2" d="M128.8 205.1l.4-.2.3-.1.3-.1.3-.2.4-.1.3-.1.3-.2.3-.1"/><path class="tb" d="M179 212.3l.4 0 .3 0 .3.1.3.1.4 0 .3.1.3.1.3.1"/><path class="t3" d="M179 212.3l.4 0 .3 0 .3.1.3.1.4 0 .3.1.3.1.3.1"/><path d="M160.5 212.6l2-.2-27.2-12.5-2 .2z" fill="#609ffb"/><path class="tb" d="M134.1 200.2l.3-.1.3 0 .3 0 .4 0 .3-.1.3 0 .4 0 .3 0"/><path class="t3" d="M134.1 200.2l.3-.1.3 0 .3 0 .4 0 .3-.1.3 0 .4 0 .3 0"/><path d="M154.4 215.7l2-.1-27.2-10.4-2 .1z" fill="#5e81fe"/><path d="M104.4 202.3l.8.1-27.2-11.8-.8-.1z" fill="#4ec1e3"/><path class="tb" d="M128.8 205.4l.4-.1.3 0 .3 0 .3 0 .4-.1.3 0 .3 0 .3-.1"/><path class="t4" d="M128.8 205.4l.4-.1.3 0 .3 0 .3 0 .4-.1.3 0 .3 0 .3-.1"/><path d="M108.5 199.4l.8.6-27.2-12.5-.8-.5z" fill="#27c2d2"/><path d="M152.3 217.8l2.1-.6-27.2-11.8-2.1.6z" fill="#7089fd"/><path class="tb" d="M126.2 205.9l.3-.1.4-.1.3-.1.3-.1.3-.1.4-.1.3-.1.3-.1"/><path class="t2" d="M126.2 205.9l.3-.1.4-.1.3-.1.3-.1.3-.1.4-.1.3-.1.3-.1"/><path class="tb" d="M179 212.3l.4-.1.3-.1.3-.1.3 0 .4-.1.3-.1.3-.1.3 0"/><path class="t2" d="M179 212.3l.4-.1.3-.1.3-.1.3 0 .4-.1.3-.1.3-.1.3 0"/><path class="tb" d="M179 212.3l.4-.1.3-.1.3-.1.3 0 .4-.1.3-.1.3-.1.3 0"/><path class="t4" d="M179 212.3l.4-.1.3-.1.3-.1.3 0 .4-.1.3-.1.3-.1.3 0"/><path d="M166.6 206.3l2.1.1-27.2-9.8-2.1-.2z" fill="#46a9ec"/><path d="M100.3 205.5l.9-1.5-27.2-11.5-.9 1.5z" fill="#41b2e7"/><path class="tb" d="M186.9 207.6l.3-.9"/><path class="t2" d="M186.9 207.6l.3-.9"/><path class="tb" d="M186.9 207.6l.3-.9"/><path class="t4" d="M186.9 207.6l.3-.9"/><path d="M103.6 202.2l.8.1-27.2-11.8-.8 0z" fill="#38bbde"/><path class="m" d="M68.5 202.1a2.3 2.3 0 1 0 .1 0M68.8 198.2a2.3 2.3 0 1 0 .1 0M69.1 194.1a2.3 2.3 0 1 0 .1 0M69.4 190.2a2.3 2.3 0 1 0 .1 0M69.8 186.5a2.3 2.3 0 1 0 .1 0" fill="#77AC30"/><path d="M172.7 203.4l2.1.4-27.2-13.8-2-1.2z" fill="#4cc2e2"/><path class="tb" d="M147.1 189.7l.4.2.3.2.3.2.4.3.3.2.3.2.3.2.4.2"/><path class="t0" d="M147.1 189.7l.4.2.3.2.3.2.4.3.3.2.3.2.3.2.4.2"/><path d="M158.4 212.8l2.1-.2-27.2-12.5-2 .3z" fill="#4e96fa"/><path d="M101.1 204.1l.9-1.3-27.2-11.6-.9 1.3z" fill="#50bfe5"/><path class="tb" d="M184.3 208.6l.3-.7"/><path class="t1" d="M184.3 208.6l.3-.7"/><path d="M150.3 218.2l2-.5-27.2-11.7-2 .5z" fill="#607cfd"/><path d="M102.8 202.3l.8-.1-27.2-11.7-.8.1z" fill="#4ac3e1"/><path d="M107.7 198.9l.8.5-27.2-12.4-.8-.6z" fill="#3dcbd1"/><path class="tb" d="M123.6 206.5l.3-.1.4 0 .3-.1.3-.1.3-.1.4 0 .3-.1.3-.1"/><path class="t2" d="M123.6 206.5l.3-.1.4 0 .3-.1.3-.1.3-.1.4 0 .3-.1.3-.1"/><path class="tb" d="M76 190.7l.3 0 .4-.1.3 0 .3 0 .4.1.3 0 .3.1.3 0"/><path class="t2" d="M76 190.7l.3 0 .4-.1.3 0 .3 0 .4.1.3 0 .3.1.3 0"/><path class="tb" d="M81.3 186.9l.3.2.3.2.3.2.4.2.3.2.3.2.3.2.4.2"/><path class="t3" d="M81.3 186.9l.3.2.3.2.3.2.4.2.3.2.3.2.3.2.4.2"/><path d="M152.3 215.7l2.1 0-27.2-10.4-2.1 0z" fill="#6c90ff"/><path class="m" d="M76 188.4a2.3 2.3 0 1 0 .1 0" fill="#EDB120"/><path class="tb" d="M126.2 205.5l.3-.1.4 0 .3 0 .3 0 .3 0 .4 0 .3 0 .3 0"/><path class="t4" d="M126.2 205.5l.3-.1.4 0 .3 0 .3 0 .3 0 .4 0 .3 0 .3 0"/><path d="M102 202.9l.8-.6-27.2-11.7-.8.7z" fill="#38bbde"/><path class="tb" d="M181.6 208.8l.4.1.3.1.3 0 .3 0 .4 0 .3 0 .3-.1.4-.3"/><path class="t1" d="M181.6 208.8l.4.1.3.1.3 0 .3 0 .4 0 .3 0 .3-.1.4-.3"/><path d="M97.9 207.2l.8-4.6-27.2-11.1-.8 4.8z" fill="#9cd7f2"/><path class="tb" d="M176.4 212.4l.3 0 .4 0 .3 0 .3 0 .3 0 .4 0 .3-.1.3 0"/><path class="t2" d="M176.4 212.4l.3 0 .4 0 .3 0 .3 0 .3 0 .4 0 .3-.1.3 0"/><path class="tb" d="M176.4 212.4l.3 0 .4 0 .3 0 .3 0 .3 0 .4 0 .3-.1.3 0"/><path class="t4" d="M176.4 212.4l.3 0 .4 0 .3 0 .3 0 .3 0 .4 0 .3-.1.3 0"/><path d="M164.6 206.2l2 .1-27.2-9.9-2 0z" fill="#58b5ec"/><path class="tb" d="M176.4 212.3l.3 0 .4 0 .3 0 .3 0 .3 0 .4 0 .3 0 .3 0"/><path class="t3" d="M176.4 212.3l.3 0 .4 0 .3 0 .3 0 .3 0 .4 0 .3 0 .3 0"/><path class="tb" d="M139.3 196.5l.3 0 .3 0 .4 0 .3 0 .3.1.4 0 .3.1.3.1"/><path class="t1" d="M139.3 196.5l.3 0 .3 0 .4 0 .3 0 .3.1.4 0 .3.1.3.1"/><path d="M111.4 194.7l2 1.6-27.2-12.9-2-1.2z" fill="#4accb6"/><path d="M148.2 218.7l2.1-.5-27.2-11.8-2.1.5z" fill="#7089fd"/><path d="M156.4 213.1l2.1-.3-27.2-12.5-2.1.4z" fill="#5fa2f9"/><path class="tb" d="M131.4 200.5l.4-.1.3 0 .3 0 .4-.1.3 0 .3-.1.3 0 .4 0"/><path class="t3" d="M131.4 200.5l.4-.1.3 0 .3 0 .4-.1.3 0 .3-.1.3 0 .4 0"/><path d="M106.9 198.3l.8.6-27.2-12.5-.8-.6z" fill="#30c7c6"/><path d="M150.3 215.5l2 .2-27.2-10.4-2-.2z" fill="#5888ff"/><path class="tb" d="M123.6 205.3l.3 0 .4.1.3 0 .3 0 .3 0 .4.1.3 0 .3 0"/><path class="t4" d="M123.6 205.3l.3 0 .4.1.3 0 .3 0 .3 0 .4.1.3 0 .3 0"/><path d="M146.2 219.2l2-.5-27.2-11.8-2 .5z" fill="#607cfd"/><path d="M170.7 202.7l2.1.7-27.2-14.6-2.1-.9z" fill="#2bc1d6"/><path d="M98.7 204.7l.8-4.4-27.2-10.3-.8 4.4z" fill="#85d6ea"/><path class="tb" d="M121 207.1l.3 0 .3-.1.4-.1.3-.1.3-.1.3 0 .4-.1.3-.1"/><path class="t2" d="M121 207.1l.3 0 .3-.1.4-.1.3-.1.3-.1.3 0 .4-.1.3-.1"/><path class="tb" d="M144.5 188.4l.4.2.3.1.3.2.3.1.4.1.3.2.3.2.3.2"/><path class="t0" d="M144.5 188.4l.4.2.3.1.3.2.3.1.4.1.3.2.3.2.3.2"/><path d="M162.5 206.2l2.1 0-27.2-9.8-2.1.1z" fill="#44afe8"/><path d="M109.3 194.6l2.1 2.3-27.2-12.6-2.1-3.1z" fill="#5fd2ba"/><path class="tb" d="M136.7 196.5l.3 0 .3 0 .4 0 .3 0 .3 0 .3 0 .4 0 .3 0"/><path class="t1" d="M136.7 196.5l.3 0 .3 0 .4 0 .3 0 .3 0 .3 0 .4 0 .3 0"/><path d="M154.4 213.5l2-.4-27.2-12.5-2 .4z" fill="#4d99f8"/><path class="tb" d="M83.9 183.6l.3.4.3.5.4.4.3.4.3.5.3.4.4.4.3.4"/><path class="t4" d="M83.9 183.6l.3.4.3.5.4.4.3.4.3.5.3.4.4.4.3.4"/><path class="tb" d="M128.8 200.9l.4-.1.3 0 .3-.1.3 0 .4-.1.3 0 .3-.1.3 0"/><path class="t3" d="M128.8 200.9l.4-.1.3 0 .3-.1.3 0 .4-.1.3 0 .3-.1.3 0"/><path d="M187.1 190.9l.4-4.3-27.2-9.4-.5 5.6z" fill="#b8eac8"/><path d="M106.1 197.7l.8.6-27.2-12.5-.8-.5z" fill="#50cec6"/><path class="tb" d="M173.8 212.4l.3 0 .3 0 .4 0 .3 0 .3-.1.4 0 .3 0 .3 0"/><path class="t3" d="M173.8 212.4l.3 0 .3 0 .4 0 .3 0 .3-.1.4 0 .3 0 .3 0"/><path class="m" d="M160.5 175a2.3 2.3 0 1 0 .1 0" fill="#0072BD"/><path class="m" d="M71.1 193a2.3 2.3 0 1 0 .1 0M71.4 191a2.3 2.3 0 1 0 .1 0M71.7 189.4a2.3 2.3 0 1 0 .1 0M72.4 187a2.3 2.3 0 1 0 .1 0M73 185.1a2.3 2.3 0 1 0 .1 0" fill="#7E2F8E"/><path class="tb" d="M179 208.2l.4 0 .3.1.3.1.3.1.4.1.3.1.3.1.3 0"/><path class="t1" d="M179 208.2l.4 0 .3.1.3.1.3.1.4.1.3.1.3.1.3 0"/><path class="tb" d="M173.8 212l.3 0 .3.1.4 0 .3.1.3 0 .4.1.3 0 .3.1"/><path class="t2" d="M173.8 212l.3 0 .3.1.4 0 .3.1.3 0 .4.1.3 0 .3.1"/><path class="tb" d="M173.8 212l.3 0 .3.1.4 0 .3.1.3 0 .4.1.3 0 .3.1"/><path class="t4" d="M173.8 212l.3 0 .3.1.4 0 .3.1.3 0 .4.1.3 0 .3.1"/><path class="m" d="M71.7 192.1a2.3 2.3 0 1 0 .1 0M72 190.4a2.3 2.3 0 1 0 .1 0M72.4 188.6a2.3 2.3 0 1 0 .1 0M72.7 187a2.3 2.3 0 1 0 .1 0M73.4 184.4a2.3 2.3 0 1 0 .1 0" fill="#0072BD"/><path d="M144.1 219l2.1.1-27.2-11.7-2.1-.1z" fill="#6f8bfe"/><path class="tb" d="M118.4 207.5l.3 0 .3 0 .3 0 .4-.1.3 0 .3-.1.4-.1.3-.1"/><path class="t2" d="M118.4 207.5l.3 0 .3 0 .3 0 .4-.1.3 0 .3-.1.4-.1.3-.1"/><path d="M152.3 213.8l2.1-.4-27.2-12.4-2.1.3z" fill="#5fa4f8"/><path class="tb" d="M126.2 201.3l.3-.1.4 0 .3-.1.3 0 .3-.1.4 0 .3-.1.3 0"/><path class="t3" d="M126.2 201.3l.3-.1.4 0 .3-.1.3 0 .3-.1.4 0 .3-.1.3 0"/><path d="M160.5 206.4l2.1-.2-27.3-9.7-2 .3z" fill="#55b9ea"/><path class="tb" d="M134.1 196.8l.3 0 .3-.1.3 0 .4-.1.3 0 .3 0 .4 0 .3-.1"/><path class="t1" d="M134.1 196.8l.3 0 .3-.1.3 0 .4-.1.3 0 .3 0 .4 0 .3-.1"/><path d="M148.2 215l2.1.5-27.2-10.4-2.1-.4z" fill="#6399fd"/><path d="M105.2 197.1l.8.6-27.1-12.4-.9-.7z" fill="#46cbb9"/><path d="M109.3 193.1l2.1 1.6-27.2-12.5-2.1-1.1z" fill="#68d5ad"/><path class="tb" d="M78.6 185l.4.3.3.2.3.2.3.2.4.3.3.2.3.2.4.3"/><path class="t3" d="M78.6 185l.4.3.3.2.3.2.3.2.4.3.3.2.3.2.4.3"/><path d="M98.7 202.7l.8-2.8-27.2-11.3-.8 3z" fill="#73d8e2"/><path class="tb" d="M83.9 182l.3.2.3.2.4.2.3.2.3.2.3.2.4.2.3.1"/><path class="t0" d="M83.9 182l.3.2.3.2.4.2.3.2.3.2.3.2.4.2.3.1"/><path d="M168.7 201.9l2 .8-27.2-14.8-2-1z" fill="#3ecbd1"/><path class="tb" d="M171.2 212.4l.3 0 .3 0 .4 0 .3 0 .3 0 .3 0 .4 0 .3 0"/><path class="t3" d="M171.2 212.4l.3 0 .3 0 .4 0 .3 0 .3 0 .3 0 .4 0 .3 0"/><path class="tb" d="M141.9 187.1l.3.2.4.1.3.2.3.1.3.2.4.2.3.1.3.2"/><path class="t0" d="M141.9 187.1l.3.2.4.1.3.2.3.1.3.2.4.2.3.1.3.2"/><path d="M150.3 214l2-.3-27.2-12.4-2 .3z" fill="#4d9bf7"/><path d="M158.5 207l2-.6-27.2-9.6-2.1.6z" fill="#42b1e7"/><path class="tb" d="M123.6 201.7l.3-.1.4 0 .3-.1.3 0 .3-.1.4 0 .3-.1.3 0"/><path class="t3" d="M123.6 201.7l.3-.1.4 0 .3-.1.3 0 .3-.1.4 0 .3-.1.3 0"/><path class="tb" d="M171.2 212l.3 0 .3 0 .4 0 .3 0 .3 0 .3 0 .4 0 .3 0"/><path class="t2" d="M171.2 212l.3 0 .3 0 .4 0 .3 0 .3 0 .3 0 .4 0 .3 0"/><path class="tb" d="M171.2 212l.3 0 .3 0 .4 0 .3 0 .3 0 .3 0 .4 0 .3 0"/><path class="t4" d="M171.2 212l.3 0 .3 0 .4 0 .3 0 .3 0 .3 0 .4 0 .3 0"/><path d="M104.4 196.2l.8.9-27.2-12.5-.8-.7z" fill="#5fd2b9"/><path d="M96.2 206.3l.9-7.7-27.2-13.1-.9 8.9z" fill="#9fe4eb"/><path d="M142.1 218.5l2 .5-27.2-11.7-2-.6z" fill="#5c84ff"/><path class="tb" d="M115.8 207l.3.1.3.1.3.1.4.1.3 0 .3.1.3 0 .4 0"/><path class="t2" d="M115.8 207l.3.1.3.1.3.1.4.1.3 0 .3.1.3 0 .4 0"/><path class="tb" d="M176.4 207.6l.3.1.4.1.3 0 .3.1.3.1.4 0 .3.1.3.1"/><path class="t1" d="M176.4 207.6l.3.1.4.1.3 0 .3.1.3.1.4 0 .3.1.3.1"/><path d="M156.4 207.9l2.1-1-27.2-9.6-2.1 1.1z" fill="#56b8ea"/><path d="M108.5 193.3l.8 1.3-27.2-13.4-.8-1.5z" fill="#62d39a"/><path class="tb" d="M131.4 197.5l.4-.1.3-.2.3-.1.4 0 .3-.1.3-.1.3 0 .4-.1"/><path class="t1" d="M131.4 197.5l.4-.1.3-.2.3-.1.4 0 .3-.1.3-.1.3 0 .4-.1"/><path d="M99.5 200.4l.8-3.5-27.2-10.3-.8 3.4z" fill="#76d9d5"/><path d="M99.5 199.9l.8-1.9-27.2-11.4-.8 2.1z" fill="#50cec6"/><path d="M154.4 209l2-1.1-27.2-9.6-2 1.3z" fill="#45acea"/><path d="M146.2 214.3l2 .7-27.2-10.3-2-.8z" fill="#4e95fa"/><path class="tb" d="M128.8 198.8l.4-.1.3-.2.3-.2.3-.2.4-.2.3-.1.3-.2.3-.1"/><path class="t1" d="M128.8 198.8l.4-.1.3-.2.3-.2.3-.2.4-.2.3-.1.3-.2.3-.1"/><path d="M108.5 192.4l.8.7-27.2-12-.8-.5z" fill="#67d395"/><path class="tb" d="M121 204.7l.3.1.3.1.4 0 .3.1.3.1.3.1.4 0 .3.1"/><path class="t4" d="M121 204.7l.3.1.3.1.4 0 .3.1.3.1.3.1.4 0 .3.1"/><path d="M148.2 214.3l2.1-.3-27.2-12.4-2.1.3z" fill="#5ea6f7"/><path d="M146.2 215.2l2-1.5-27.2-10.1-2 1.2z" fill="#4e96fa"/><path d="M148.2 213.7l2.1-1.8-27.2-9.7-2.1 1.5z" fill="#5ea6f6"/><path d="M152.3 210.3l2.1-1.3-27.2-9.4-2.1 1.2z" fill="#59b1ee"/><path d="M150.3 211.9l2-1.6-27.2-9.5-2 1.4z" fill="#4aa3f0"/><path class="tb" d="M126.2 200.4l.3-.2.4-.2.3-.2.3-.2.3-.2.4-.2.3-.2.3-.2"/><path class="t1" d="M126.2 200.4l.3-.2.4-.2.3-.2.3-.2.3-.2.4-.2.3-.2.3-.2"/><path d="M144.1 216.6l2.1-1.4-27.2-10.4-2.1 1z" fill="#619cfc"/><path class="tb" d="M121 203.9l.3-.2.3-.2.4-.2.3-.2.3-.3.3-.2.4-.2.3-.3"/><path class="t1" d="M121 203.9l.3-.2.3-.2.4-.2.3-.2.3-.3.3-.2.4-.2.3-.3"/><path class="tb" d="M123.6 202.1l.3-.2.4-.2.3-.2.3-.3.3-.2.4-.2.3-.2.3-.2"/><path class="t1" d="M123.6 202.1l.3-.2.4-.2.3-.2.3-.3.3-.2.4-.2.3-.2.3-.2"/><path class="tb" d="M118.4 205.3l.3-.1.3-.2.3-.2.4-.1.3-.2.3-.2.4-.2.3-.2"/><path class="t1" d="M118.4 205.3l.3-.1.3-.2.3-.2.4-.1.3-.2.3-.2.4-.2.3-.2"/><path d="M103.6 195.5l.8.7-27.2-12.3-.8-.5z" fill="#53d0a9"/><path class="tb" d="M168.6 212.2l.3 0 .3 0 .3.1.4 0 .3 0 .3 0 .3.1.4 0"/><path class="t3" d="M168.6 212.2l.3 0 .3 0 .3.1.4 0 .3 0 .3 0 .3.1.4 0"/><path d="M142.1 217.6l2.1-1.1-27.2-10.8-2.1.8z" fill="#538dfd"/><path d="M166.6 201.7l2.1.2-27.2-15-2.1-.3z" fill="#36c8c3"/><path class="tb" d="M115.8 206.5l.3-.2.3-.1.3-.1.4-.2.3-.1.3-.2.3-.1.4-.2"/><path class="t1" d="M115.8 206.5l.3-.2.3-.1.3-.1.4-.2.3-.1.3-.2.3-.1.4-.2"/><path class="tb" d="M168.6 212.2l.3-.1.3 0 .3 0 .4 0 .3 0 .3-.1.3 0 .4 0"/><path class="t2" d="M168.6 212.2l.3-.1.3 0 .3 0 .4 0 .3 0 .3-.1.3 0 .4 0"/><path class="tb" d="M168.6 212.2l.3-.1.3 0 .3 0 .4 0 .3 0 .3-.1.3 0 .4 0"/><path class="t4" d="M168.6 212.2l.3-.1.3 0 .3 0 .4 0 .3 0 .3-.1.3 0 .4 0"/><path class="tb" d="M184.3 202.1l.3-.7"/><path class="t0" d="M184.3 202.1l.3-.7"/><path class="tb" d="M181.6 203.3l.4-.1.3-.1.3-.2.3-.1.4-.1.3-.1.3-.2.4-.3"/><path class="t0" d="M181.6 203.3l.4-.1.3-.1.3-.2.3-.1.4-.1.3-.1.3-.2.4-.3"/><path d="M100.3 198l.9-1.3-27.2-11.6-.9 1.5z" fill="#4ccdb3"/><path d="M107.7 191.6l.8.8-27.2-11.8-.8-.5z" fill="#81d897"/><path d="M146.2 214.6l2-.3-27.2-12.5-2 .3z" fill="#4d9df5"/><path class="tb" d="M81.3 180.5l.3.2.3.2.3.2.4.2.3.2.3.2.3.2.4.1"/><path class="t0" d="M81.3 180.5l.3.2.3.2.3.2.4.2.3.2.3.2.3.2.4.1"/><path class="tb" d="M121 202l.3 0 .3-.1.4 0 .3-.1.3 0 .3 0 .4-.1.3 0"/><path class="t3" d="M121 202l.3 0 .3-.1.4 0 .3-.1.3 0 .3 0 .4-.1.3 0"/><path d="M122.1 233l.8-4.8-27.2-9.9-.8 4.4z" fill="#a198e5"/><path d="M140.1 218.2l2-.6-27.2-11.1-2 .5z" fill="#6697fe"/><path d="M102.8 195.2l.8.3-27.2-12.1-.8-.1z" fill="#69d6ac"/><path class="tb" d="M113.1 207.1l.4-.1.3 0 .3-.1.3-.1.4-.1.3 0 .3-.1.4-.1"/><path class="t1" d="M113.1 207.1l.4-.1.3 0 .3-.1.3-.1.4-.1.3 0 .3-.1.4-.1"/><path d="M122.1 231.2l.8-1.1-27.2-10.6-.8 1.3z" fill="#988fe3"/><path d="M140.1 217.7l2 .8-27.2-11.8-2-.8z" fill="#6598fe"/><path class="tb" d="M76 183.4l.3 0 .4.1.3.2.3.2.4.3.3.3.3.3.3.2"/><path class="t3" d="M76 183.4l.3 0 .4.1.3.2.3.2.4.3.3.3.3.3.3.2"/><path d="M107.7 191.9l.8 1.4-27.2-13.6-.8-1.5z" fill="#86d893"/><path class="tb" d="M113.1 206.1l.4.1.3.2.3.1.3.1.4.1.3.1.3.1.4.1"/><path class="t2" d="M113.1 206.1l.4.1.3.2.3.1.3.1.4.1.3.1.3.1.4.1"/><path d="M101.1 196.7l.9-1-27.2-11.8-.9 1.2z" fill="#64d4b2"/><path class="tb" d="M81.3 179.3l.3.6.3.6.3.5.4.6.3.5.3.5.3.5.4.5"/><path class="t4" d="M81.3 179.3l.3.6.3.6.3.5.4.6.3.5.3.5.3.5.4.5"/><path class="m" d="M74 183.2a2.3 2.3 0 1 0 .1 0M75 181.7a2.3 2.3 0 1 0 .1 0" fill="#7E2F8E"/><path class="tb" d="M179 204l.4-.1.3 0 .3-.1.3-.1.4-.1.3-.1.3-.1.3-.1"/><path class="t0" d="M179 204l.4-.1.3 0 .3-.1.3-.1.4-.1.3-.1.3-.1.3-.1"/><path d="M102 195.7l.8-.5-27.2-11.9-.8.6z" fill="#58d1a3"/><path class="tb" d="M173.8 207.1l.3 0 .3.1.4.1.3 0 .3.1.4.1.3 0 .3.1"/><path class="t1" d="M173.8 207.1l.3 0 .3.1.4.1.3 0 .3.1.4.1.3 0 .3.1"/><path d="M100.3 197l.9-2.4-27.2-10.2-.9 2.2z" fill="#53cfaa"/><path class="m" d="M95.1 220.4a2.3 2.3 0 1 0 .1 0M95.4 218.7a2.3 2.3 0 1 0 .1 0M95.8 217a2.3 2.3 0 1 0 .1 0M96.1 215.3a2.3 2.3 0 1 0 .1 0M96.4 213.6a2.3 2.3 0 1 0 .1 0" fill="#0072BD"/><path d="M164.6 202.2l2-.6-27.2-15-2 .6z" fill="#4fcec6"/><path class="tb" d="M139.3 186.8l.3 0 .3 0 .4 0 .3 0 .3 0 .4.1.3.1.3.1"/><path class="t0" d="M139.3 186.8l.3 0 .3 0 .4 0 .3 0 .3 0 .4.1.3.1.3.1"/><path d="M122.9 230.1l.8-1.3-27.2-10.8-.8 1.5z" fill="#a39eed"/><path d="M106.9 191.2l.8.4-27.2-11.5-.8-.3z" fill="#7ed482"/><path d="M138 218.8l2.1-.6-27.2-11.2-2.1.5z" fill="#558bfe"/><path class="tb" d="M165.9 212.6l.4-.1.3-.1.3 0 .4-.1.3 0 .3-.1.3 0 .4 0"/><path class="t2" d="M165.9 212.6l.4-.1.3-.1.3 0 .4-.1.3 0 .3-.1.3 0 .4 0"/><path class="tb" d="M165.9 212.6l.4-.1.3-.1.3 0 .4-.1.3 0 .3-.1.3 0 .4 0"/><path class="t4" d="M165.9 212.6l.4-.1.3-.1.3 0 .4-.1.3 0 .3-.1.3 0 .4 0"/><path d="M144.1 214.7l2.1-.2-27.2-12.4-2.1.2z" fill="#5ea9f5"/><path d="M144.2 213l2 1.3-27.2-10.4-2.1-1.7z" fill="#5ea9f4"/><path class="tb" d="M118.4 202.3l.3 0 .3-.1.3 0 .4 0 .3-.1.3 0 .4 0 .3-.1"/><path class="t3" d="M118.4 202.3l.3 0 .3-.1.3 0 .4 0 .3-.1.3 0 .4 0 .3-.1"/><path class="tb" d="M118.4 203.4l.3.3.3.2.3.2.4.1.3.1.3.2.4.1.3.1"/><path class="t4" d="M118.4 203.4l.3.3.3.2.3.2.4.1.3.1.3.2.4.1.3.1"/><path d="M152.3 210.7l2.1-1.4-27.2-15.1-2.1 1.6z" fill="#52bde7"/><path class="tb" d="M165.9 212.1l.4 0 .3 0 .3 0 .4 0 .3 0 .3 0 .3.1.4 0"/><path class="t3" d="M165.9 212.1l.4 0 .3 0 .3 0 .4 0 .3 0 .3 0 .3.1.4 0"/><path d="M150.3 211.8l2-1.1-27.2-15-2 1.3z" fill="#42b1e7"/><path class="tb" d="M123.6 197l.3-.2.4-.2.3-.2.3-.2.3-.2.4-.2.3-.2.3-.2"/><path class="t0" d="M123.6 197l.3-.2.4-.2.3-.2.3-.2.3-.2.4-.2.3-.2.3-.2"/><path d="M162.5 202.9l2.1-.7-27.2-15.1-2.1.8z" fill="#39c9c1"/><path class="tb" d="M136.7 187.6l.3-.1.3-.1.4-.1.3-.1.3-.1.3-.1.4-.1.3-.1"/><path class="t0" d="M136.7 187.6l.3-.1.3-.1.4-.1.3-.1.3-.1.3-.1.4-.1.3-.1"/><path d="M154.3 209.4l2.1-2.3-27.2-15.1-2 2.3z" fill="#37bcde"/><path class="tb" d="M126.2 195.4l.3-.2.4-.3.3-.3.3-.3.3-.3.4-.4.3-.3.3-.4"/><path class="t0" d="M126.2 195.4l.3-.2.4-.3.3-.3.3-.3.3-.3.4-.4.3-.3.3-.4"/><path d="M106.1 191.1l.8.1-27.2-11.4-.9 0z" fill="#91d88a"/><path d="M148.2 212.7l2.1-.9-27.2-14.8-2.1 1.1z" fill="#57b6eb"/><path class="m" d="M95.1 218.6a2.3 2.3 0 1 0 .1 0M96.1 217.1a2.3 2.3 0 1 0 .1 0M97.1 215.1a2.3 2.3 0 1 0 .1 0M97.7 213.1a2.3 2.3 0 1 0 .1 0M98.4 211.3a2.3 2.3 0 1 0 .1 0" fill="#D95319"/><path class="tb" d="M176.4 204.1l.3 0 .4.1.3 0 .3 0 .3 0 .4-.1.3 0 .3-.1"/><path class="t0" d="M176.4 204.1l.3 0 .4.1.3 0 .3 0 .3 0 .4-.1.3 0 .3-.1"/><path d="M136 219.3l2-.5-27.2-11.3-2 .5z" fill="#6696fe"/><path class="tb" d="M110.5 207.7l.3 0 .4-.1.3-.1.3-.1.4-.1.3 0 .3-.1.3-.1"/><path class="t1" d="M110.5 207.7l.3 0 .4-.1.3-.1.3-.1.4-.1.3 0 .3-.1.3-.1"/><path d="M123.7 228.8l.8-2-27.2-11.1-.8 2.4z" fill="#9a99f4"/><path d="M101.1 194.7l.9-2-27.2-10.2-.9 1.9z" fill="#75d8a1"/><path d="M122.1 229.4l.8-1.4-27.2-10.4-.8 1.4z" fill="#9a96f0"/><path d="M160.5 203.8l2-.9-27.1-15-2.1.9z" fill="#49cdca"/><path class="tb" d="M134.1 188.7l.3-.2.3-.1.3-.1.4-.2.3-.1.3-.1.4-.2.3-.1"/><path class="t0" d="M134.1 188.7l.3-.2.3-.1.3-.1.4-.2.3-.1.3-.1.4-.2.3-.1"/><path d="M105.2 191.3l.9-.2-27.2-11.3-.9.3z" fill="#86d47c"/><path d="M106.9 190.6l.8 1.4-27.2-13.8-.8-1.5z" fill="#94d371"/><path class="tb" d="M78.6 180l.4-.1.3 0 .3 0 .3 0 .4.1.3.1.3.2.4.2"/><path class="t0" d="M78.6 180l.4-.1.3 0 .3 0 .3 0 .4.1.3.1.3.2.4.2"/><path class="tb" d="M163.3 213.5l.4-.1.3-.2.3-.1.3-.1.4-.2.3-.1.3-.1.3 0"/><path class="t4" d="M163.3 213.5l.4-.1.3-.2.3-.1.3-.1.4-.2.3-.1.3-.1.3 0"/><path d="M156.4 207.2l2.1-2.2-27.2-15.1-2.1 2.2z" fill="#3dc8d6"/><path class="tb" d="M163.3 213.4l.4-.1.3-.1.3-.2.3-.1.4-.1.3-.1.3-.1.3 0"/><path class="t2" d="M163.3 213.4l.4-.1.3-.1.3-.2.3-.1.4-.1.3-.1.3-.1.3 0"/><path class="tb" d="M128.8 192.9l.4-.3.3-.4.3-.4.3-.3.4-.4.3-.3.3-.3.3-.3"/><path class="t0" d="M128.8 192.9l.4-.3.3-.4.3-.4.3-.3.4-.4.3-.3.3-.3.3-.3"/><path d="M146.2 213.2l2-.6-27.1-14.6-2.1.7z" fill="#45acea"/><path d="M142.1 214.8l2-.1-27.1-12.5-2.1.1z" fill="#4ba1f2"/><path class="tb" d="M121 198.3l.3-.1.3-.2.4-.1.3-.2.3-.1.3-.2.4-.2.3-.2"/><path class="t0" d="M121 198.3l.3-.1.3-.2.4-.1.3-.2.3-.1.3-.2.4-.2.3-.2"/><path class="tb" d="M115.8 202.4l.3 0 .3 0 .3 0 .4 0 .3 0 .3-.1.3 0 .4 0"/><path class="t3" d="M115.8 202.4l.3 0 .3 0 .3 0 .4 0 .3 0 .3-.1.3 0 .4 0"/><path d="M104.4 191.5l.8-.2-27.2-11.3-.8.4z" fill="#91d88a"/><path d="M158.4 205l2.1-1.2-27.2-15.1-2 1.3z" fill="#2dc6c9"/><path d="M135.2 219.4l.8-.2-27.2-11.2-.8.1z" fill="#558bfe"/><path class="tb" d="M131.4 190.2l.4-.3.3-.2.3-.3.4-.1.3-.2.3-.1.3-.2.4-.1"/><path class="t0" d="M131.4 190.2l.4-.3.3-.2.3-.3.4-.1.3-.2.3-.1.3-.2.4-.1"/><path d="M138 216.5l2.1 1.2-27.2-11.8-2.1-1.1z" fill="#4e96fa"/><path d="M103.6 191.7l.8-.2-27.2-11.1-.8.5z" fill="#83d47e"/><path class="m" d="M185.8 199.9a2.3 2.3 0 1 0 .1 0M186.2 198.1a2.3 2.3 0 1 0 .1 0M186.5 196.2a2.3 2.3 0 1 0 .1 0M186.8 193.1a2.3 2.3 0 1 0 .1 0M187.1 189.8a2.3 2.3 0 1 0 .1 0" fill="#D95319"/><path class="tb" d="M171.2 206.6l.3.1.3 0 .4.1.3 0 .3.1.3 0 .4.1.3.1"/><path class="t1" d="M171.2 206.6l.3.1.3 0 .4.1.3 0 .3.1.3 0 .4.1.3.1"/><path d="M102 192.7l.8-.9-27.2-10.3-.8 1.1z" fill="#78d487"/><path d="M134.3 219.6l.9-.2-27.2-11.3-.9.2z" fill="#6696fe"/><path d="M122.9 228l.8-1.6-27.2-10.5-.8 1.7z" fill="#a4a6f7"/><path d="M102.8 191.8l.8-.2-27.2-10.7-.8.6z" fill="#8dd98d"/><path class="tb" d="M107.9 208.3l.3 0 .4-.1.3-.1.3-.1.3 0 .4-.1.3-.1.3-.1"/><path class="t1" d="M107.9 208.3l.3 0 .4-.1.3-.1.3-.1.3 0 .4-.1.3-.1.3-.1"/><path class="tb" d="M160.7 214.6l.3-.1.4-.2.3-.1.3-.1.3-.2.4-.1.3-.2.3-.1"/><path class="t4" d="M160.7 214.6l.3-.1.4-.2.3-.1.3-.1.3-.2.4-.1.3-.2.3-.1"/><path class="tb" d="M76 181.5l.3-.3.4-.2.3-.2.3-.2.4-.1.3-.2.3-.1.3-.2"/><path class="t0" d="M76 181.5l.3-.3.4-.2.3-.2.3-.2.4-.1.3-.2.3-.1.3-.2"/><path class="tb" d="M163.3 212.2l.4 0 .3 0 .3 0 .3-.1.4 0 .3 0 .3 0 .3 0"/><path class="t3" d="M163.3 212.2l.4 0 .3 0 .3 0 .3-.1.4 0 .3 0 .3 0 .3 0"/><path class="tb" d="M160.7 214.5l.3-.2.4-.1.3-.1.3-.2.3-.1.4-.1.3-.2.3-.1"/><path class="t2" d="M160.7 214.5l.3-.2.4-.1.3-.1.3-.2.3-.1.4-.1.3-.2.3-.1"/><path d="M133.5 219.8l.8-.2-27.2-11.3-.8.2z" fill="#558bfe"/><path d="M124.5 226.8l.9-2.2-27.2-11.1-.9 2.3z" fill="#a4abfb"/><path d="M132.7 220l.8-.2-27.2-11.3-.8.2z" fill="#6696fe"/><path d="M144.1 212.7l2.1.5-27.2-14.6-2-.4z" fill="#57b7eb"/><path class="tb" d="M118.4 198.7l.3.1.3 0 .3 0 .4-.1.3-.1.3 0 .4-.2.3-.1"/><path class="t0" d="M118.4 198.7l.3.1.3 0 .3 0 .4-.1.3-.1.3 0 .4-.2.3-.1"/><path d="M122.9 228.3l.8-4.9-27.2-9.4-.8 4.4z" fill="#aeb3fa"/><path class="tb" d="M158.1 215.5l.3-.1.4-.1.3-.2.3-.1.3-.1.4-.2.3-.1.3-.1"/><path class="t2" d="M158.1 215.5l.3-.1.4-.1.3-.2.3-.1.3-.1.4-.2.3-.1.3-.1"/><path class="tb" d="M158.1 215.3l.3-.1.4-.1.3 0 .3-.1.3-.1.4-.1.3-.1.3-.1"/><path class="t4" d="M158.1 215.3l.3-.1.4-.1.3 0 .3-.1.3-.1.4-.1.3-.1.3-.1"/><path class="tb" d="M173.8 203.5l.3.1.3.1.4.1.3 0 .3.1.4.1.3 0 .3.1"/><path class="t0" d="M173.8 203.5l.3.1.3.1.4.1.3 0 .3.1.4.1.3 0 .3.1"/><path d="M140.1 214.3l2 .4-27.2-12.4-2-.4z" fill="#5baef0"/><path d="M131.9 220.2l.8-.2-27.2-11.3-.8.2z" fill="#558bfe"/><path class="tb" d="M113.1 202l.4.1.3.1.3.1.3.1.4 0 .3 0 .3 0 .4 0"/><path class="t3" d="M113.1 202l.4.1.3.1.3.1.3.1.4 0 .3 0 .3 0 .4 0"/><path class="tb" d="M105.3 208.9l.3 0 .3-.1.4-.1.3-.1.3 0 .3-.1.4-.1.3-.1"/><path class="t1" d="M105.3 208.9l.3 0 .3-.1.4-.1.3-.1.3 0 .3-.1.4-.1.3-.1"/><path d="M106 189.3l.9 1.3-27.2-13.9-.8-1.5z" fill="#b7d56d"/><path d="M142.1 211.3l2 1.7-27.2-10.7-2-2.2z" fill="#45acea"/><path class="tb" d="M115.8 200.8l.3.4.3.3.3.4.4.3.3.3.3.3.3.3.4.3"/><path class="t4" d="M115.8 200.8l.3.4.3.3.3.4.4.3.3.3.3.3.3.3.4.3"/><path d="M122.1 227.5l.8-2.4-27.2-10.6-.8 2.7z" fill="#9aa0f9"/><path class="m" d="M95.1 216.8a2.3 2.3 0 1 0 .1 0M96.1 215.1a2.3 2.3 0 1 0 .1 0M97.1 212.7a2.3 2.3 0 1 0 .1 0M97.7 209.7a2.3 2.3 0 1 0 .1 0M98.4 207a2.3 2.3 0 1 0 .1 0" fill="#EDB120"/><path d="M97 198.7l.9-6.2-27.2-13.6-.9 6.7z" fill="#b8eac8"/><path d="M131.1 220.1l.8.1-27.2-11.3-.8 0z" fill="#6697fe"/><path d="M123.7 226.4l.8-2.8-27.2-11-.8 3.4z" fill="#9aa5fc"/><path class="tb" d="M155.5 216.6l.3-.1.3-.2.4-.1.3-.1.3-.2.3-.1.4-.1.3-.2"/><path class="t2" d="M155.5 216.6l.3-.1.3-.2.4-.1.3-.1.3-.2.3-.1.4-.1.3-.2"/><path class="tb" d="M160.7 212.4l.3 0 .4-.1.3 0 .3 0 .3 0 .4-.1.3 0 .3 0"/><path class="t3" d="M160.7 212.4l.3 0 .4-.1.3 0 .3 0 .3 0 .4-.1.3 0 .3 0"/><path d="M125.3 224.6l.9-1.9-27.2-10.8-.9 1.6z" fill="#98aafe"/><path class="tb" d="M168.6 206.3l.3 0 .3.1.3 0 .4.1.3 0 .3 0 .3.1.4 0"/><path class="t1" d="M168.6 206.3l.3 0 .3.1.3 0 .4.1.3 0 .3 0 .3.1.4 0"/><path d="M136 215.4l2 1.1-27.2-11.7-2-1.1z" fill="#5daaf4"/><path d="M130.3 220.1l.8 0-27.2-11.2-.9 0z" fill="#538dfd"/><path class="tb" d="M110.5 204.6l.3.1.4.2.3.2.3.2.4.2.3.2.3.2.3.2"/><path class="t2" d="M110.5 204.6l.3.1.4.2.3.2.3.2.4.2.3.2.3.2.3.2"/><path class="tb" d="M155.5 215.5l.3 0 .3 0 .4-.1.3 0 .3 0 .3-.1.4 0 .3 0"/><path class="t4" d="M155.5 215.5l.3 0 .3 0 .4-.1.3 0 .3 0 .3-.1.4 0 .3 0"/><path class="tb" d="M152.9 217.4l.3 0 .3-.1.3-.1.4-.1.3-.1.3-.2.4-.1.3-.1"/><path class="t2" d="M152.9 217.4l.3 0 .3-.1.3-.1.4-.1.3-.1.3-.2.4-.1.3-.1"/><path d="M129.4 220.1l.9 0-27.3-11.2-.8 0z" fill="#639afd"/><path class="tb" d="M102.7 209l.3 0 .3 0 .4 0 .3 0 .3 0 .3 0 .4 0 .3-.1"/><path class="t1" d="M102.7 209l.3 0 .3 0 .4 0 .3 0 .3 0 .3 0 .4 0 .3-.1"/><path d="M126.2 222.7l.8-1.4-27.2-10.6-.8 1.2z" fill="#6c91ff"/><path d="M142.1 211.4l2 1.3-27.1-14.5-2.1-1z" fill="#3fb6e5"/><path class="m" d="M99.4 209.4a2.3 2.3 0 1 0 .1 0M100.7 207.9a2.3 2.3 0 1 0 .1 0M102 206.8a2.3 2.3 0 1 0 .1 0" fill="#D95319"/><path class="tb" d="M115.8 197.6l.3.2.3.2.3.1.4.2.3.1.3.1.3.2.4 0"/><path class="t0" d="M115.8 197.6l.3.2.3.2.3.1.4.2.3.1.3.1.3.2.4 0"/><path d="M138 213.3l2.1 1-27.2-12.4-2.1-1z" fill="#45acea"/><path d="M105.2 187.9l.8 1.4-27.1-14.1-.9-1.7z" fill="#c9cc4d"/><path d="M128.6 220.3l.8-.2-27.2-11.2-.8.3z" fill="#518ffd"/><path class="tb" d="M78.6 174.4l.4.6.3.6.3.6.3.6.4.6.3.6.3.6.4.7"/><path class="t4" d="M78.6 174.4l.4.6.3.6.3.6.3.6.4.6.3.6.3.6.4.7"/><path d="M127 221.3l.8-.6-27.2-10.8-.8.8z" fill="#568afe"/><path class="tb" d="M158.1 212.7l.3 0 .4-.1.3 0 .3-.1.3 0 .4 0 .3-.1.3 0"/><path class="t3" d="M158.1 212.7l.3 0 .4-.1.3 0 .3-.1.3 0 .4 0 .3-.1.3 0"/><path d="M127.8 220.7l.8-.5-27.2-11-.8.7z" fill="#6499fd"/><path class="tb" d="M171.2 202.9l.3.1.3.1.4.1.3.1.3 0 .3.1.4.1.3 0"/><path class="t0" d="M171.2 202.9l.3.1.3.1.4.1.3.1.3 0 .3.1.4.1.3 0"/><path d="M122.9 225.1l.8-2.8-27.2-10.7-.8 3z" fill="#a2b4fe"/><path class="tb" d="M150.2 218l.4 0 .3-.1.3-.1.4-.1.3 0 .3-.1.3-.1.4-.1"/><path class="t2" d="M150.2 218l.4 0 .3-.1.3-.1.4-.1.3 0 .3-.1.3-.1.4-.1"/><path class="m" d="M95.1 215a2.3 2.3 0 1 0 .1 0M95.8 212.9a2.3 2.3 0 1 0 .1 0M96.4 210.7a2.3 2.3 0 1 0 .1 0M97.1 207.8a2.3 2.3 0 1 0 .1 0M97.4 205.8a2.3 2.3 0 1 0 .1 0" fill="#7E2F8E"/><path d="M135.2 215l.8.4-27.2-11.7-.8-.5z" fill="#47a7ee"/><path class="tb" d="M152.9 215.6l.3 0 .3 0 .3 0 .4 0 .3 0 .3-.1.4 0 .3 0"/><path class="t4" d="M152.9 215.6l.3 0 .3 0 .3 0 .4 0 .3 0 .3-.1.4 0 .3 0"/><path class="m" d="M128.3 204.8a2.3 2.3 0 1 0 .1 0M185.5 207.6a2.3 2.3 0 1 0 .1 0M186.2 205.6a2.3 2.3 0 1 0 .1 0M186.8 202.8a2.3 2.3 0 1 0 .1 0M187.1 201a2.3 2.3 0 1 0 .1 0" fill="#7E2F8E"/><path class="tb" d="M165.9 206.2l.4 0 .3 0 .3 0 .4 0 .3 0 .3 0 .3.1.4 0"/><path class="t1" d="M165.9 206.2l.4 0 .3 0 .3 0 .4 0 .3 0 .3 0 .3.1.4 0"/><path d="M124.5 223.6l.9-3-27.2-11.4-.9 3.5z" fill="#9ebaff"/><path class="m" d="M70.1 183.4a2.3 2.3 0 1 0 .1 0M70.4 180.6a2.3 2.3 0 1 0 .1 0M70.7 178a2.3 2.3 0 1 0 .1 0M71.1 175.6a2.3 2.3 0 1 0 .1 0M71.4 173.6a2.3 2.3 0 1 0 .1 0" fill="#77AC30"/><path d="M140.1 210l2 1.4-27.2-11.3-2-1.7z" fill="#50bfe6"/><path class="tb" d="M113.1 198.5l.4.3.3.2.3.3.3.3.4.3.3.3.3.3.4.3"/><path class="t4" d="M113.1 198.5l.4.3.3.2.3.3.3.3.4.3.3.3.3.3.4.3"/><path class="tb" d="M155.5 213.1l.3-.1.3 0 .4-.1.3 0 .3-.1.3 0 .4-.1.3 0"/><path class="t3" d="M155.5 213.1l.3-.1.3 0 .4-.1.3 0 .3-.1.3 0 .4-.1.3 0"/><path d="M134.3 214.6l.9.4-27.2-11.8-.9-.4z" fill="#58b3ed"/><path class="tb" d="M147.6 218.7l.4-.1.3-.1.3-.1.3-.1.4 0 .3-.1.3-.1.3-.1"/><path class="t2" d="M147.6 218.7l.4-.1.3-.1.3-.1.3-.1.4 0 .3-.1.3-.1.3-.1"/><path class="tb" d="M107.9 203.2l.3.2.4.1.3.2.3.2.3.2.4.1.3.2.3.2"/><path class="t2" d="M107.9 203.2l.3.2.4.1.3.2.3.2.3.2.4.1.3.2.3.2"/><path d="M123.7 223.5l.8-5.4-27.2-9-.8 5z" fill="#a6c3fe"/><path class="m" d="M185.8 194.2a2.3 2.3 0 1 0 .1 0M186.2 192.6a2.3 2.3 0 1 0 .1 0M186.5 190.7a2.3 2.3 0 1 0 .1 0M186.8 187.6a2.3 2.3 0 1 0 .1 0M187.1 184.3a2.3 2.3 0 1 0 .1 0" fill="#0072BD"/><path d="M104.4 186.4l.8 1.5-27.2-14.3-.8-1.8z" fill="#e4cd5b"/><path class="m" d="M96.7 211.8a2.3 2.3 0 1 0 .1 0M97.1 209.9a2.3 2.3 0 1 0 .1 0M97.4 208a2.3 2.3 0 1 0 .1 0M97.7 206a2.3 2.3 0 1 0 .1 0M98 204.1a2.3 2.3 0 1 0 .1 0" fill="#0072BD"/><path d="M136 212.2l2 1.1-27.2-12.4-2-1.2z" fill="#53bce8"/><path class="tb" d="M110.5 200.7l.3.2.4.1.3.2.3.2.4.2.3.1.3.2.3.1"/><path class="t3" d="M110.5 200.7l.3.2.4.1.3.2.3.2.4.2.3.1.3.2.3.1"/><path d="M133.5 214.3l.8.3-27.2-11.8-.8-.3z" fill="#45ade9"/><path d="M140.1 209.4l2 2-27.2-14.2-2-1.2z" fill="#46c5de"/><path class="tb" d="M150.2 215.4l.4.1.3 0 .3 0 .4.1.3 0 .3 0 .3 0 .4 0"/><path class="t4" d="M150.2 215.4l.4.1.3 0 .3 0 .4.1.3 0 .3 0 .3 0 .4 0"/><path class="tb" d="M113.1 196.1l.4.3.3.2.3.2.3.2.4.1.3.2.3.1.4.2"/><path class="t0" d="M113.1 196.1l.4.3.3.2.3.2.3.2.4.1.3.2.3.1.4.2"/><path class="tb" d="M163.3 206.1l.4 0 .3 0 .3 0 .3 0 .4 0 .3 0 .3 0 .3.1"/><path class="t1" d="M163.3 206.1l.4 0 .3 0 .3 0 .3 0 .4 0 .3 0 .3 0 .3.1"/><path class="tb" d="M168.6 201.8l.3.2.3.1.3.1.4.2.3.1.3.1.3.2.4.1"/><path class="t0" d="M168.6 201.8l.3.2.3.1.3.1.4.2.3.1.3.1.3.2.4.1"/><path class="tb" d="M145 219.1l.3 0 .4 0 .3-.1.3 0 .4-.1.3-.1.3-.1.3 0"/><path class="t2" d="M145 219.1l.3 0 .4 0 .3-.1.3 0 .4-.1.3-.1.3-.1.3 0"/><path class="tb" d="M152.9 213.5l.3 0 .3-.1.3 0 .4-.1.3 0 .3-.1.4-.1.3 0"/><path class="t3" d="M152.9 213.5l.3 0 .3-.1.3 0 .4-.1.3 0 .3-.1.4-.1.3 0"/><path d="M125.3 220.7l.9-2.3-27.2-11.5-.9 2.3z" fill="#8cbdfa"/><path d="M97.8 192.6l.9-4.4-27.2-14.1-.8 4.9z" fill="#e0e4a1"/><path class="m" d="M100.7 192.7a2.3 2.3 0 1 0 .1 0M101.3 191a2.3 2.3 0 1 0 .1 0M102.3 189.5a2.3 2.3 0 1 0 .1 0M159.5 184.8a2.3 2.3 0 1 0 .1 0M160.2 179.4a2.3 2.3 0 1 0 .1 0" fill="#0072BD"/><path d="M122 224.8l.9-6.4-27.2-12.5-.8 8.6z" fill="#a9c8fe"/><path d="M123.7 222.4l.8-4.6-27.2-10.9-.8 4.8z" fill="#99c3fc"/><path d="M132.7 214.1l.8.2-27.2-11.8-.8-.2z" fill="#56b8ea"/><path d="M138 208.6l2.1 1.4-27.2-11.6-2.1-1.7z" fill="#2cc0d6"/><path d="M103.6 185.2l.8 1.3-27.2-14.7-.8-1.5z" fill="#f3c455"/><path d="M131.9 213.9l.8.2-27.2-11.8-.8-.1z" fill="#42b2e7"/><path class="tb" d="M105.3 202.3l.3.1.3 0 .4.1.3.1.3.1.3.2.4.1.3.2"/><path class="t2" d="M105.3 202.3l.3.1.3 0 .4.1.3.1.3.1.3.2.4.1.3.2"/><path d="M135.2 211.6l.8.6-27.2-12.5-.8-.5z" fill="#3abae0"/><path class="m" d="M125.7 220.7a2.3 2.3 0 1 0 .1 0M126.7 218.9a2.3 2.3 0 1 0 .1 0M128 218a2.3 2.3 0 1 0 .1 0M184.5 205.6a2.3 2.3 0 1 0 .1 0M185.2 203.2a2.3 2.3 0 1 0 .1 0" fill="#D95319"/><path d="M126.2 218.5l.8-1.8-27.2-11.5-.8 1.8z" fill="#5badf1"/><path class="tb" d="M150.2 213.9l.4-.1.3 0 .3-.1.4 0 .3-.1.3 0 .3-.1.4 0"/><path class="t3" d="M150.2 213.9l.4-.1.3 0 .3-.1.4 0 .3-.1.3 0 .3-.1.4 0"/><path class="tb" d="M160.7 206.3l.3-.1.4 0 .3 0 .3-.1.3 0 .4 0 .3 0 .3 0"/><path class="t1" d="M160.7 206.3l.3-.1.4 0 .3 0 .3-.1.3 0 .4 0 .3 0 .3 0"/><path class="tb" d="M142.4 218.5l.3.1.4.1.3.1.3.1.3 0 .4.1.3 0 .3.1"/><path class="t2" d="M142.4 218.5l.3.1.4.1.3.1.3.1.3 0 .4.1.3 0 .3.1"/><path d="M131.1 213.7l.8.2-27.2-11.7-.8-.2z" fill="#53bbe8"/><path class="tb" d="M147.6 214.8l.4.1.3.1.3.1.3 0 .4.1.3.1.3.1.3 0"/><path class="t4" d="M147.6 214.8l.4.1.3.1.3.1.3 0 .4.1.3.1.3.1.3 0"/><path class="m" d="M99 205.2a2.3 2.3 0 1 0 .1 0M99.7 203.7a2.3 2.3 0 1 0 .1 0M100.7 201.9a2.3 2.3 0 1 0 .1 0M101.6 200.4a2.3 2.3 0 1 0 .1 0" fill="#EDB120"/><path d="M134.3 211.1l.9.5-27.2-12.4-.9-.6z" fill="#48c4df"/><path d="M127 216.8l.8-1.4-27.2-11.6-.8 1.4z" fill="#45acea"/><path class="tb" d="M107.9 199.1l.3.2.4.2.3.2.3.3.3.1.4.2.3.2.3.2"/><path class="t3" d="M107.9 199.1l.3.2.4.2.3.2.3.3.3.1.4.2.3.2.3.2"/><path class="tb" d="M165.9 201.6l.4-.1.3 0 .3 0 .4 0 .3.1.3 0 .3.1.4.1"/><path class="t0" d="M165.9 201.6l.4-.1.3 0 .3 0 .4 0 .3.1.3 0 .3.1.4.1"/><path d="M130.2 213.6l.9.1-27.2-11.7-.9 0z" fill="#3fb5e5"/><path class="m" d="M95.1 212.2a2.3 2.3 0 1 0 .1 0M95.4 208.9a2.3 2.3 0 1 0 .1 0M95.8 205.5a2.3 2.3 0 1 0 .1 0M96.1 202.2a2.3 2.3 0 1 0 .1 0M96.4 199a2.3 2.3 0 1 0 .1 0" fill="#77AC30"/><path d="M102.8 184.5l.8.7-27.2-14.9-.8-.8z" fill="#fecd6a"/><path class="tb" d="M76 169.8l.3.2.4.5.3.5.3.6.4.7.3.7.3.7.3.7"/><path class="t4" d="M76 169.8l.3.2.4.5.3.5.3.6.4.7.3.7.3.7.3.7"/><path d="M138 206.5l2 2.9-27.1-13.4-2.1-1.5z" fill="#2dc6c8"/><path class="tb" d="M147.6 214.2l.4 0 .3-.1.3 0 .3 0 .4-.1.3 0 .3-.1.3 0"/><path class="t3" d="M147.6 214.2l.4 0 .3-.1.3 0 .3 0 .4-.1.3 0 .3-.1.3 0"/><path class="tb" d="M158.1 206.9l.3-.1.4-.1.3-.1.3-.1.3-.1.4-.1.3 0 .3 0"/><path class="t1" d="M158.1 206.9l.3-.1.4-.1.3-.1.3-.1.3-.1.4-.1.3 0 .3 0"/><path d="M127.8 215.4l.8-1.2-27.2-11.6-.8 1.2z" fill="#55bae9"/><path d="M129.4 213.7l.9-.1-27.2-11.6-.9 0z" fill="#52bde7"/><path class="tb" d="M102.7 202.1l.3 0 .3 0 .4 0 .3 0 .3.1.3 0 .4.1.3 0"/><path class="t2" d="M102.7 202.1l.3 0 .3 0 .4 0 .3 0 .3.1.3 0 .4.1.3 0"/><path d="M124.5 218.2l.9-5.3-27.2-8.5-.9 4.8z" fill="#a6d6f5"/><path d="M98.7 188.3l.8-2.8-27.2-14.7-.8 3.4z" fill="#f7d990"/><path d="M128.6 214.2l.8-.5-27.2-11.7-.8.6z" fill="#3fb6e5"/><path d="M133.5 210.5l.8.6-27.2-12.5-.8-.6z" fill="#2bc0d6"/><path d="M102 184.3l.8.2-27.2-15-.8-.2z" fill="#fecc56"/><path class="tb" d="M163.3 202.4l.4-.2.3-.1.3-.1.3-.1.4-.1.3-.1.3 0 .3-.1"/><path class="t0" d="M163.3 202.4l.4-.2.3-.1.3-.1.3-.1.4-.1.3-.1.3 0 .3-.1"/><path class="tb" d="M155.5 208.1l.3-.1.3-.2.4-.2.3-.1.3-.2.3-.1.4-.2.3-.1"/><path class="t1" d="M155.5 208.1l.3-.1.3-.2.4-.2.3-.1.3-.2.3-.1.4-.2.3-.1"/><path class="tb" d="M145 215.7l.3-.2.4-.2.3-.3.3-.2.4-.2.3-.2.3-.3.3-.2"/><path class="t1" d="M145 215.7l.3-.2.4-.2.3-.3.3-.2.4-.2.3-.2.3-.3.3-.2"/><path class="tb" d="M142.4 217.2l.3-.1.4-.2.3-.2.3-.2.3-.2.4-.2.3-.2.3-.2"/><path class="t1" d="M142.4 217.2l.3-.1.4-.2.3-.2.3-.2.3-.2.4-.2.3-.2.3-.2"/><path class="tb" d="M147.6 213.9l.4-.3.3-.3.3-.3.3-.2.4-.3.3-.3.3-.3.3-.3"/><path class="t1" d="M147.6 213.9l.4-.3.3-.3.3-.3.3-.2.4-.3.3-.3.3-.3.3-.3"/><path class="tb" d="M152.9 210.1l.3-.2.3-.2.3-.3.4-.3.3-.3.3-.4.4-.3.3-.4"/><path class="t0" d="M152.9 210.1l.3-.2.3-.2.3-.3.4-.3.3-.3.3-.4.4-.3.3-.4"/><path d="M124.5 217.8l.9-4.4-27.2-11-.9 4.6z" fill="#99d4f3"/><path d="M136 206.8l2 1.8-27.2-11.9-2-2.4z" fill="#47cdcb"/><path class="tb" d="M150.2 211.5l.4-.2.3-.1.3-.2.4-.2.3-.2.3-.1.3-.2.4-.2"/><path class="t0" d="M150.2 211.5l.4-.2.3-.1.3-.2.4-.2.3-.2.3-.1.3-.2.4-.2"/><path class="tb" d="M110.5 196.2l.3.3.4.4.3.3.3.2.4.3.3.3.3.2.3.3"/><path class="t4" d="M110.5 196.2l.3.3.4.4.3.3.3.2.4.3.3.3.3.2.3.3"/><path class="tb" d="M152.9 209.7l.3-.2.3-.2.3-.2.4-.2.3-.2.3-.2.4-.2.3-.2"/><path class="t1" d="M152.9 209.7l.3-.2.3-.2.3-.2.4-.2.3-.2.3-.2.4-.2.3-.2"/><path class="tb" d="M139.8 217.6l.3.2.3.1.4.1.3.2.3.1.3.1.4 0 .3.1"/><path class="t2" d="M139.8 217.6l.3.2.3.1.4.1.3.2.3.1.3.1.4 0 .3.1"/><path class="tb" d="M145 214.5l.3 0 .4-.1.3 0 .3 0 .4-.1.3 0 .3 0 .3-.1"/><path class="t3" d="M145 214.5l.3 0 .4-.1.3 0 .3 0 .4-.1.3 0 .3 0 .3-.1"/><path class="tb" d="M145 213.7l.3.2.4.2.3.1.3.2.4.1.3.1.3.1.3.1"/><path class="t4" d="M145 213.7l.3.2.4.2.3.1.3.2.4.1.3.1.3.1.3.1"/><path class="tb" d="M150.2 211.6l.4-.3.3-.2.3-.3.4-.3.3-.2.3-.2.3-.3.4-.1"/><path class="t1" d="M150.2 211.6l.4-.3.3-.2.3-.3.4-.3.3-.2.3-.2.3-.3.4-.1"/><path d="M101.1 184.1l.9.2-27.2-15.1-.8-.1z" fill="#fed365"/><path d="M132.7 209.9l.8.6-27.2-12.5-.8-.5z" fill="#3dc9d5"/><path class="tb" d="M139.8 218.1l.3-.1.3-.1.4-.1.3-.1.3-.1.3-.1.4-.1.3-.2"/><path class="t1" d="M139.8 218.1l.3-.1.3-.1.4-.1.3-.1.3-.1.3-.1.4-.1.3-.2"/><path class="tb" d="M160.7 203.4l.3-.1.4-.2.3-.1.3-.1.3-.2.4-.1.3-.1.3-.1"/><path class="t0" d="M160.7 203.4l.3-.1.4-.2.3-.1.3-.1.3-.2.4-.1.3-.1.3-.1"/><path class="tb" d="M147.6 212.6l.4-.1.3-.1.3-.1.3-.2.4-.1.3-.2.3-.1.3-.2"/><path class="t0" d="M147.6 212.6l.4-.1.3-.1.3-.1.3-.2.4-.1.3-.2.3-.1.3-.2"/><path d="M99.5 185.6l.8-1.4-27.1-15-.9 1.7z" fill="#fed167"/><path class="m" d="M71.7 172a2.3 2.3 0 1 0 .1 0M72.4 169.3a2.3 2.3 0 1 0 .1 0M73 167.4a2.3 2.3 0 1 0 .1 0M74.7 167a2.3 2.3 0 1 0 .1 0" fill="#77AC30"/><path class="tb" d="M155.5 207.7l.3-.3.3-.4.4-.4.3-.4.3-.3.3-.4.4-.3.3-.3"/><path class="t0" d="M155.5 207.7l.3-.3.3-.4.4-.4.3-.4.3-.3.3-.4.4-.3.3-.3"/><path d="M100.3 184.2l.8-.1-27.1-15-.9.1z" fill="#fed053"/><path class="tb" d="M158.1 204.9l.3-.3.4-.2.3-.2.3-.2.3-.1.4-.2.3-.1.3-.2"/><path class="t0" d="M158.1 204.9l.3-.3.4-.2.3-.2.3-.2.3-.1.4-.2.3-.1.3-.2"/><path d="M131.9 209.3l.8.6-27.2-12.4-.8-.7z" fill="#2ac5ca"/><path class="tb" d="M105.3 197.2l.3.3.3.2.4.2.3.3.3.2.3.2.4.2.3.3"/><path class="t3" d="M105.3 197.2l.3.3.3.2.4.2.3.3.3.2.3.2.4.2.3.3"/><path class="tb" d="M145 213l.3 0 .4.1.3 0 .3-.1.4-.1.3-.1.3-.1.3-.1"/><path class="t0" d="M145 213l.3 0 .4.1.3 0 .3-.1.4-.1.3-.1.3-.1.3-.1"/><path class="tb" d="M137.2 218.8l.3-.1.3-.1.4-.1.3 0 .3-.1.3-.1.4-.1.3-.1"/><path class="t1" d="M137.2 218.8l.3-.1.3-.1.4-.1.3 0 .3-.1.3-.1.4-.1.3-.1"/><path class="tb" d="M142.4 214.6l.3 0 .4 0 .3 0 .3 0 .3 0 .4 0 .3-.1.3 0"/><path class="t3" d="M142.4 214.6l.3 0 .4 0 .3 0 .3 0 .3 0 .4 0 .3-.1.3 0"/><path d="M136 203.8l2 2.7-27.2-12-2-1.6z" fill="#5fd2ba"/><path class="tb" d="M110.5 194.1l.3.3.4.2.3.3.3.3.4.2.3.3.3.2.3.2"/><path class="t0" d="M110.5 194.1l.3.3.4.2.3.3.3.3.4.2.3.3.3.2.3.2"/><path d="M122.9 218.5l.8-6.1-27.1-14-.9 7.7z" fill="#a8e0f2"/><path class="m" d="M97.7 203.7a2.3 2.3 0 1 0 .1 0M98 201.7a2.3 2.3 0 1 0 .1 0M98.7 199a2.3 2.3 0 1 0 .1 0M99.4 197a2.3 2.3 0 1 0 .1 0M100.3 195.1a2.3 2.3 0 1 0 .1 0" fill="#7E2F8E"/><path d="M135.2 206l.8.8-27.2-12.5-.8-1.3z" fill="#4bccb5"/><path class="tb" d="M134.6 219.4l.3-.1.3-.1.3 0 .4-.1.3-.1.3-.1.3 0 .4-.1"/><path class="t1" d="M134.6 219.4l.3-.1.3-.1.3 0 .4-.1.3-.1.3-.1.3 0 .4-.1"/><path d="M131.1 208.2l.8 1.1-27.2-12.4-.8-.9z" fill="#4ccec8"/><path class="m" d="M98.4 202.3a2.3 2.3 0 1 0 .1 0M98.7 200.5a2.3 2.3 0 1 0 .1 0M99 198.8a2.3 2.3 0 1 0 .1 0M99.4 197.1a2.3 2.3 0 1 0 .1 0M100 194.6a2.3 2.3 0 1 0 .1 0" fill="#0072BD"/><path d="M125.3 213.5l.9-2.6-27.2-11.3-.9 2.8z" fill="#77d6e5"/><path class="m" d="M121.8 230.6a2.3 2.3 0 1 0 .1 0M122.1 228.7a2.3 2.3 0 1 0 .1 0M122.4 226.8a2.3 2.3 0 1 0 .1 0M122.7 224.9a2.3 2.3 0 1 0 .1 0M123.1 223a2.3 2.3 0 1 0 .1 0" fill="#0072BD"/><path d="M125.3 213l.9-5-27.2-7.9-.9 4.4z" fill="#87dbe8"/><path class="tb" d="M137.2 216.1l.3.2.3.1.4.2.3.2.3.2.3.2.4.2.3.2"/><path class="t2" d="M137.2 216.1l.3.2.3.1.4.2.3.2.3.2.3.2.4.2.3.2"/><path class="m" d="M121.8 228.8a2.3 2.3 0 1 0 .1 0M122.7 227.4a2.3 2.3 0 1 0 .1 0M123.7 225.7a2.3 2.3 0 1 0 .1 0M124.4 223.9a2.3 2.3 0 1 0 .1 0M125 222.2a2.3 2.3 0 1 0 .1 0" fill="#D95319"/><path class="tb" d="M142.4 211.7l.3.2.4.3.3.3.3.2.3.3.4.3.3.2.3.2"/><path class="t4" d="M142.4 211.7l.3.2.4.3.3.3.3.2.3.3.4.3.3.2.3.2"/><path class="tb" d="M139.8 214.2l.3.1.3.1.4.1.3.1.3 0 .3 0 .4 0 .3 0"/><path class="t3" d="M139.8 214.2l.3.1.3.1.4.1.3.1.3 0 .3 0 .4 0 .3 0"/><path class="tb" d="M142.4 211.6l.3.2.4.2.3.3.3.1.3.2.4.2.3.1.3.1"/><path class="t0" d="M142.4 211.6l.3.2.4.2.3.3.3.1.3.2.4.2.3.1.3.1"/><path class="tb" d="M131.9 220l.4-.1.3 0 .3-.1.3-.1.4-.1.3 0 .3-.1.4-.1"/><path class="t1" d="M131.9 220l.4-.1.3 0 .3-.1.3-.1.4-.1.3 0 .3-.1.4-.1"/><path d="M134.3 205l.8 1-27.1-12.9-.9-1.4z" fill="#65d4b1"/><path class="tb" d="M107.9 192.6l.3.6.4.5.3.5.3.5.3.4.4.4.3.4.3.3"/><path class="t4" d="M107.9 192.6l.3.6.4.5.3.5.3.5.3.4.4.4.3.4.3.3"/><path d="M130.3 207.4l.8.9-27.2-12.3-.8-.7z" fill="#46cbb9"/><path d="M126.2 210.9l.8-1.7-27.2-11.4-.8 1.9z" fill="#43cccd"/><path d="M135.2 202.8l.8 1-27.2-10.9-.8-.8z" fill="#5bd2a0"/><path d="M127 209.2l.8-1.1-27.2-11.6-.8 1.3z" fill="#41cabd"/><path d="M129.4 206.9l.8.5-27.1-12.1-.9-.3z" fill="#5ed2ba"/><path class="tb" d="M102.7 195.1l.3.1.3.2.4.2.3.3.3.4.3.3.4.4.3.2"/><path class="t3" d="M102.7 195.1l.3.1.3.2.4.2.3.3.3.4.3.3.4.4.3.2"/><path class="tb" d="M129.3 220l.3 0 .4 0 .3 0 .3 0 .4 0 .3.1.3 0 .3-.1"/><path class="t1" d="M129.3 220l.3 0 .4 0 .3 0 .3 0 .4 0 .3.1.3 0 .3-.1"/><path d="M133.5 204l.8 1-27.2-13.3-.8-1.4z" fill="#61d39a"/><path d="M127.8 208.1l.8-.9-27.2-11.8-.8 1.1z" fill="#5dd1bd"/><path d="M128.6 207.2l.8-.3-27.2-11.9-.8.4z" fill="#4ecdb1"/><path class="m" d="M101.3 193.6a2.3 2.3 0 1 0 .1 0" fill="#7E2F8E"/><path d="M134.3 201.8l.9 1-27.3-10.7-.8-.7z" fill="#78d89f"/><path class="m" d="M121.8 226.9a2.3 2.3 0 1 0 .1 0M122.7 225.3a2.3 2.3 0 1 0 .1 0M123.7 223a2.3 2.3 0 1 0 .1 0M124.4 220.5a2.3 2.3 0 1 0 .1 0M125 218.2a2.3 2.3 0 1 0 .1 0" fill="#EDB120"/><path class="tb" d="M107.9 191.9l.3.3.4.3.3.4.3.3.3.2.4.3.3.2.3.2"/><path class="t0" d="M107.9 191.9l.3.3.4.3.3.4.3.3.3.2.4.3.3.2.3.2"/><path class="tb" d="M137.2 212.9l.3.2.3.1.4.2.3.2.3.2.3.1.4.2.3.1"/><path class="t3" d="M137.2 212.9l.3.2.3.1.4.2.3.2.3.2.3.1.4.2.3.1"/><path class="tb" d="M134.6 214.7l.3.2.3.2.3.1.4.2.3.2.3.1.3.2.4.2"/><path class="t2" d="M134.6 214.7l.3.2.3.2.3.1.4.2.3.2.3.1.3.2.4.2"/><path d="M126.2 208.1l.8-3.8-27.2-7.5-.9 3.4z" fill="#88ddd0"/><path class="tb" d="M139.8 209.9l.3.2.3.2.4.2.3.2.3.2.3.3.4.2.3.3"/><path class="t4" d="M139.8 209.9l.3.2.3.2.4.2.3.2.3.2.3.3.4.2.3.3"/><path d="M133.5 200.9l.8.9-27.2-10.4-.8-.5z" fill="#77d488"/><path class="tb" d="M139.8 209.3l.3.4.3.4.4.3.3.3.3.2.3.3.4.2.3.2"/><path class="t0" d="M139.8 209.3l.3.4.3.4.4.3.3.3.3.2.3.3.4.2.3.2"/><path d="M132.7 203.1l.8.9-27.2-13.7-.8-1.3z" fill="#82d896"/><path d="M123.7 212.5l.8-5.5-27.1-14.7-.9 6.2z" fill="#a6e6da"/><path class="m" d="M121.8 225.1a2.3 2.3 0 1 0 .1 0M122.4 223.2a2.3 2.3 0 1 0 .1 0M123.1 221.1a2.3 2.3 0 1 0 .1 0M123.7 218.3a2.3 2.3 0 1 0 .1 0M124 216.4a2.3 2.3 0 1 0 .1 0" fill="#7E2F8E"/><path d="M132.7 200.3l.8.6-27.2-10-.8 0z" fill="#8ed88c"/><path d="M127 204.4l.8-2.4-27.2-7.6-.8 2.4z" fill="#60d29c"/><path d="M131.9 199.8l.8.5-27.2-9.4-.8.2z" fill="#89d479"/><path class="tb" d="M105.3 191.1l.3-.1.3-.1.4.1.3 0 .3.2.3.2.4.2.3.3"/><path class="t0" d="M105.3 191.1l.3-.1.3-.1.4.1.3 0 .3.2.3.2.4.2.3.3"/><path d="M131.9 202l.8 1.1-27.2-14.1-.8-1.4z" fill="#8bd478"/><path class="tb" d="M131.9 213.9l.4 0 .3.1.3.1.3.1.4.1.3.1.3.2.4.1"/><path class="t2" d="M131.9 213.9l.4 0 .3.1.3.1.3.1.4.1.3.1.3.2.4.1"/><path class="tb" d="M105.3 188.3l.3.6.3.5.4.5.3.5.3.6.3.5.4.6.3.5"/><path class="t4" d="M105.3 188.3l.3.6.3.5.4.5.3.5.3.6.3.5.4.6.3.5"/><path class="tb" d="M134.6 211.3l.3.2.3.2.3.3.4.2.3.2.3.1.3.2.4.2"/><path class="t3" d="M134.6 211.3l.3.2.3.2.3.3.4.2.3.2.3.1.3.2.4.2"/><path d="M131.1 199.4l.8.4-27.2-8.7-.8.2z" fill="#9ad883"/><path d="M127.8 202l.8-1.9-27.2-7.6-.8 2z" fill="#89d990"/><path d="M130.3 199.2l.8.2-27.2-8.1-.9.2z" fill="#93d472"/><path class="tb" d="M137.2 208l.3.3.3.2.4.3.3.2.3.2.3.2.4.2.3.3"/><path class="t4" d="M137.2 208l.3.3.3.2.4.3.3.2.3.2.3.2.4.2.3.3"/><path class="m" d="M96.7 196.3a2.3 2.3 0 1 0 .1 0M97.1 193.7a2.3 2.3 0 1 0 .1 0M97.4 191.3a2.3 2.3 0 1 0 .1 0M97.7 189.1a2.3 2.3 0 1 0 .1 0M98 187.2a2.3 2.3 0 1 0 .1 0" fill="#77AC30"/><path d="M129.4 199.2l.9 0-27.3-7.7-.8.2z" fill="#a0d87f"/><path d="M131.1 200.9l.8 1.1-27.2-14.4-.8-1.4z" fill="#add675"/><path class="tb" d="M102.7 191.7l.3-.1.3-.1.4 0 .3-.1.3-.1.3-.1.4 0 .3-.1"/><path class="t0" d="M102.7 191.7l.3-.1.3-.1.4 0 .3-.1.3-.1.3-.1.4 0 .3-.1"/><path d="M128.6 200.1l.8-.9-27.2-7.6-.8 1z" fill="#90d474"/><path class="m" d="M127 201a2.3 2.3 0 1 0 .1 0M127.6 199.2a2.3 2.3 0 1 0 .1 0M128.3 197.7a2.3 2.3 0 1 0 .1 0M184.5 199.1a2.3 2.3 0 1 0 .1 0M185.2 197a2.3 2.3 0 1 0 .1 0" fill="#0072BD"/><path class="m" d="M123.4 221.1a2.3 2.3 0 1 0 .1 0M123.7 219a2.3 2.3 0 1 0 .1 0M124 216.8a2.3 2.3 0 1 0 .1 0M124.4 214.7a2.3 2.3 0 1 0 .1 0M124.7 212.6a2.3 2.3 0 1 0 .1 0" fill="#0072BD"/><path class="tb" d="M129.3 213.5l.3 0 .4 0 .3.1.3 0 .4.1.3 0 .3.1.3.1"/><path class="t2" d="M129.3 213.5l.3 0 .4 0 .3.1.3 0 .4.1.3 0 .3.1.3.1"/><path class="m" d="M121.8 222.4a2.3 2.3 0 1 0 .1 0M122.1 219.8a2.3 2.3 0 1 0 .1 0M122.4 217.3a2.3 2.3 0 1 0 .1 0M122.7 214.8a2.3 2.3 0 1 0 .1 0M123.1 212.3a2.3 2.3 0 1 0 .1 0" fill="#77AC30"/><path class="m" d="M125.7 216.5a2.3 2.3 0 1 0 .1 0M126.3 214.9a2.3 2.3 0 1 0 .1 0M127.3 213.2a2.3 2.3 0 1 0 .1 0M128.3 211.8a2.3 2.3 0 1 0 .1 0" fill="#EDB120"/><path d="M124.5 207.1l.9-4.2-27.2-15-.9 4.5z" fill="#b7e6b4"/><path class="tb" d="M137.2 205.6l.3.4.3.5.4.5.3.4.3.5.3.5.4.4.3.5"/><path class="t0" d="M137.2 205.6l.3.4.3.5.4.5.3.4.3.5.3.5.4.4.3.5"/><path d="M130.2 199.9l.9 1-27.2-14.7-.8-1.3z" fill="#bacf55"/><path class="tb" d="M131.9 209.5l.4.2.3.2.3.2.3.3.4.2.3.2.3.3.4.2"/><path class="t3" d="M131.9 209.5l.4.2.3.2.3.2.3.3.4.2.3.2.3.3.4.2"/><path d="M129.4 199.3l.8.6-27.1-15-.9-.6z" fill="#d0d15e"/><path class="tb" d="M102.7 184.5l.3.2.3.4.4.4.3.5.3.6.3.6.4.6.3.5"/><path class="t4" d="M102.7 184.5l.3.2.3.4.4.4.3.5.3.6.3.6.4.6.3.5"/><path class="tb" d="M134.6 205.5l.3.3.3.4.3.3.4.4.3.3.3.3.3.3.4.2"/><path class="t4" d="M134.6 205.5l.3.3.3.4.3.3.4.4.3.3.3.3.3.3.4.2"/><path d="M125.3 203l.9-2.7-27.2-15.1-.9 2.8z" fill="#d2e091"/><path d="M128.6 199l.8.3-27.2-15-.8-.3z" fill="#d4ca49"/><path d="M127.8 198.9l.8.1-27.2-15-.8-.2z" fill="#ddce5a"/><path d="M126.1 200.3l.9-1.4-27.2-15-.8 1.4z" fill="#d9cf5b"/><path d="M127 198.9l.8 0-27.2-15.1-.8.1z" fill="#dcc848"/><path class="m" d="M98.7 184.7a2.3 2.3 0 1 0 .1 0M99.4 182.7a2.3 2.3 0 1 0 .1 0M100.7 181.7a2.3 2.3 0 1 0 .1 0M102.3 182a2.3 2.3 0 1 0 .1 0" fill="#77AC30"/><path class="m" d="M124.4 214.4a2.3 2.3 0 1 0 .1 0M124.7 212.5a2.3 2.3 0 1 0 .1 0M125.3 209.9a2.3 2.3 0 1 0 .1 0M126 208.1a2.3 2.3 0 1 0 .1 0M127 206.3a2.3 2.3 0 1 0 .1 0" fill="#7E2F8E"/><path class="tb" d="M129.3 206.8l.3.2.4.3.3.3.3.3.4.4.3.5.3.4.3.3"/><path class="t3" d="M129.3 206.8l.3.2.4.3.3.3.3.3.4.4.3.5.3.4.3.3"/><path class="tb" d="M134.6 202.3l.3.4.3.4.3.4.4.4.3.5.3.3.3.5.4.4"/><path class="t0" d="M134.6 202.3l.3.4.3.4.3.4.4.4.3.5.3.3.3.5.4.4"/><path class="tb" d="M131.9 202.3l.4.5.3.3.3.4.3.4.4.4.3.4.3.4.4.4"/><path class="t4" d="M131.9 202.3l.4.5.3.3.3.4.3.4.4.4.3.4.3.4.4.4"/><path class="m" d="M125 210.6a2.3 2.3 0 1 0 .1 0M125.3 208.7a2.3 2.3 0 1 0 .1 0M125.7 206.7a2.3 2.3 0 1 0 .1 0M126 204.8a2.3 2.3 0 1 0 .1 0M126.3 203.2a2.3 2.3 0 1 0 .1 0" fill="#0072BD"/><path class="m" d="M123.4 210.1a2.3 2.3 0 1 0 .1 0M123.7 207.9a2.3 2.3 0 1 0 .1 0M124 205.7a2.3 2.3 0 1 0 .1 0M124.4 203.7a2.3 2.3 0 1 0 .1 0M124.7 201.9a2.3 2.3 0 1 0 .1 0" fill="#77AC30"/><path class="tb" d="M131.9 199.9l.4.2.3.2.3.2.3.3.4.3.3.4.3.4.4.4"/><path class="t0" d="M131.9 199.9l.4.2.3.2.3.2.3.3.4.3.3.4.3.4.4.4"/><path class="tb" d="M129.3 199.2l.3.2.4.3.3.4.3.4.4.4.3.5.3.5.3.4"/><path class="t4" d="M129.3 199.2l.3.2.4.3.3.4.3.4.4.4.3.5.3.5.3.4"/><path class="tb" d="M129.3 199.1l.3 0 .4 0 .3.1.3.1.4.1.3.2.3.1.3.2"/><path class="t0" d="M129.3 199.1l.3 0 .4 0 .3.1.3.1.4.1.3.2.3.1.3.2"/><path class="m" d="M125.3 199.4a2.3 2.3 0 1 0 .1 0M126 197.4a2.3 2.3 0 1 0 .1 0M127.3 196.4a2.3 2.3 0 1 0 .1 0M128.9 196.8a2.3 2.3 0 1 0 .1 0" fill="#77AC30"/><line x1="121.8" y1="232.9" x2="187.2" y2="217.7" stroke="#6a6a6a" stroke-width="0.6"/><line x1="121.8" y1="232.9" x2="68.5" y2="212.6" stroke="#6a6a6a" stroke-width="0.6"/><line x1="68.5" y1="212.6" x2="68.5" y2="166.8" stroke="#6a6a6a" stroke-width="0.6"/><line x1="121.8" y1="232.9" x2="123.5" y2="233.5" stroke="#6a6a6a" stroke-width="0.6"/><line x1="154.5" y1="225.3" x2="156.2" y2="225.9" stroke="#6a6a6a" stroke-width="0.6"/><line x1="187.2" y1="217.7" x2="188.9" y2="218.3" stroke="#6a6a6a" stroke-width="0.6"/><line x1="121.8" y1="232.9" x2="120" y2="233.3" stroke="#6a6a6a" stroke-width="0.6"/><line x1="95.2" y1="222.8" x2="93.4" y2="223.2" stroke="#6a6a6a" stroke-width="0.6"/><line x1="68.5" y1="212.6" x2="66.7" y2="213" stroke="#6a6a6a" stroke-width="0.6"/><line x1="68.5" y1="212.6" x2="66.7" y2="213" stroke="#6a6a6a" stroke-width="0.6"/><line x1="68.5" y1="166.8" x2="66.7" y2="167.2" stroke="#6a6a6a" stroke-width="0.6"/></g><linearGradient id="pg" x1="0" y1="0" x2="0" y2="1"><stop offset="0" stop-color="#f9fb15"/><stop offset="0.000" stop-color="#f9fb15"/><stop offset="0.048" stop-color="#f5e924"/><stop offset="0.095" stop-color="#fad62d"/><stop offset="0.143" stop-color="#fec338"/><stop offset="0.190" stop-color="#f0ba36"/><stop offset="0.238" stop-color="#d1bf27"/><stop offset="0.286" stop-color="#abc739"/><stop offset="0.333" stop-color="#81cc59"/><stop offset="0.381" stop-color="#57cc7a"/><stop offset="0.429" stop-color="#37c897"/><stop offset="0.476" stop-color="#24c1ae"/><stop offset="0.524" stop-color="#02bac3"/><stop offset="0.571" stop-color="#12b1d6"/><stop offset="0.619" stop-color="#20a5e3"/><stop offset="0.667" stop-color="#2797eb"/><stop offset="0.714" stop-color="#2e87f7"/><stop offset="0.762" stop-color="#3875fe"/><stop offset="0.810" stop-color="#4563fd"/><stop offset="0.857" stop-color="#4852f4"/><stop offset="0.905" stop-color="#4741e5"/><stop offset="0.952" stop-color="#4332cb"/><stop offset="1.000" stop-color="#3e26a8"/></linearGradient><g id="rp"><line x1="463.2" y1="234.9" x2="395.3" y2="183.7" stroke="#e3e3e3" stroke-width="0.5"/><line x1="492.9" y1="221.9" x2="425" y2="170.7" stroke="#e3e3e3" stroke-width="0.5"/><line x1="522.6" y1="209" x2="454.7" y2="157.8" stroke="#e3e3e3" stroke-width="0.5"/><line x1="552.3" y1="196" x2="484.4" y2="144.8" stroke="#e3e3e3" stroke-width="0.5"/><line x1="463.2" y1="234.9" x2="552.3" y2="196" stroke="#e3e3e3" stroke-width="0.5"/><line x1="446.2" y1="222.1" x2="535.3" y2="183.2" stroke="#e3e3e3" stroke-width="0.5"/><line x1="429.2" y1="209.3" x2="518.3" y2="170.4" stroke="#e3e3e3" stroke-width="0.5"/><line x1="412.3" y1="196.5" x2="501.4" y2="157.6" stroke="#e3e3e3" stroke-width="0.5"/><line x1="395.3" y1="183.7" x2="484.4" y2="144.8" stroke="#e3e3e3" stroke-width="0.5"/><line x1="395.3" y1="183.7" x2="395.3" y2="73.6" stroke="#e3e3e3" stroke-width="0.5"/><line x1="425" y1="170.7" x2="425" y2="60.6" stroke="#e3e3e3" stroke-width="0.5"/><line x1="454.7" y1="157.8" x2="454.7" y2="47.7" stroke="#e3e3e3" stroke-width="0.5"/><line x1="484.4" y1="144.8" x2="484.4" y2="34.7" stroke="#e3e3e3" stroke-width="0.5"/><line x1="395.3" y1="161.7" x2="484.4" y2="122.8" stroke="#e3e3e3" stroke-width="0.5"/><line x1="395.3" y1="139.7" x2="484.4" y2="100.8" stroke="#e3e3e3" stroke-width="0.5"/><line x1="395.3" y1="117.6" x2="484.4" y2="78.7" stroke="#e3e3e3" stroke-width="0.5"/><line x1="395.3" y1="95.6" x2="484.4" y2="56.7" stroke="#e3e3e3" stroke-width="0.5"/><line x1="395.3" y1="73.6" x2="484.4" y2="34.7" stroke="#e3e3e3" stroke-width="0.5"/><line x1="552.3" y1="196" x2="552.3" y2="85.9" stroke="#e3e3e3" stroke-width="0.5"/><line x1="535.3" y1="183.2" x2="535.3" y2="73.1" stroke="#e3e3e3" stroke-width="0.5"/><line x1="518.3" y1="170.4" x2="518.3" y2="60.3" stroke="#e3e3e3" stroke-width="0.5"/><line x1="501.4" y1="157.6" x2="501.4" y2="47.5" stroke="#e3e3e3" stroke-width="0.5"/><line x1="484.4" y1="144.8" x2="484.4" y2="34.7" stroke="#e3e3e3" stroke-width="0.5"/><line x1="552.3" y1="174" x2="484.4" y2="122.8" stroke="#e3e3e3" stroke-width="0.5"/><line x1="552.3" y1="152" x2="484.4" y2="100.8" stroke="#e3e3e3" stroke-width="0.5"/><line x1="552.3" y1="129.9" x2="484.4" y2="78.7" stroke="#e3e3e3" stroke-width="0.5"/><line x1="552.3" y1="107.9" x2="484.4" y2="56.7" stroke="#e3e3e3" stroke-width="0.5"/><line x1="552.3" y1="85.9" x2="484.4" y2="34.7" stroke="#e3e3e3" stroke-width="0.5"/><circle class="m" cx="484.4" cy="120.6" r="2.4" fill="#A2142F"/><circle class="m" cx="484.4" cy="118.4" r="2.4" fill="#0072BD"/><path d="M482.5 135.2l13.5-4.6-11.6-10.3-13.5 4.5z" fill="#8ba8ff"/><path d="M482.5 132.6l13.5-4.5-11.6-10-13.5 4.5z" fill="#84abfe"/><circle class="m" cx="484.4" cy="109.6" r="2.4" fill="#7E2F8E"/><circle class="m" cx="484.4" cy="105.2" r="2.4" fill="#4DBEEE"/><circle class="m" cx="484.4" cy="103" r="2.4" fill="#77AC30"/><path d="M482.5 124.1l13.5-5.2-11.6-9.6-13.5 5.2z" fill="#7fbdf5"/><circle class="m" cx="484.4" cy="100.8" r="2.4" fill="#EDB120"/><path d="M469.3 139.4l13.5-4.5-11.5-10.3-13.5 4.5z" fill="#88abff"/><path d="M482.5 119.7l13.5-4.5-11.6-10.3-13.5 4.5z" fill="#7bc5f0"/><path d="M469.3 136.9l13.5-4.5-11.5-10-13.5 4.5z" fill="#81aefd"/><path d="M493.8 145.2l13.5-4.6-11.5-10.3-13.5 4.5z" fill="#8da5fe"/><path d="M482.5 117.5l13.5-4.5-11.6-10.3-13.5 4.5z" fill="#79c8ee"/><path d="M493.8 142.2l13.5-4.5-11.5-10-13.5 4.5z" fill="#86a9ff"/><path d="M482.5 116.8l13.5-6.7-11.6-9.6-13.5 6.7z" fill="#80ceee"/><path d="M469.3 129.2l13.5-5.3-11.5-9.6-13.5 5.2z" fill="#7ebff4"/><path d="M456.2 143.7l13.5-4.5-11.6-10.4-13.5 4.6z" fill="#85aefe"/><path d="M493.8 133.4l13.5-5.2-11.5-9.7-13.5 5.3z" fill="#80bcf6"/><path d="M469.3 124l13.5-4.5-11.5-10.4-13.5 4.6z" fill="#79c7ee"/><path d="M456.2 141.1l13.5-4.5-11.6-10-13.5 4.6z" fill="#7fb1fc"/><path d="M480.7 149.4l13.5-4.5-11.6-10.3-13.5 4.5z" fill="#8ba8ff"/><path d="M469.3 123.3l13.5-6.8-11.5-9.6-13.5 6.8z" fill="#81cdee"/><path d="M469.3 121.8l13.5-4.5-11.5-10.4-13.5 4.6z" fill="#77cbec"/><path d="M493.8 129.7l13.5-4.5-11.5-10.3-13.5 4.5z" fill="#7cc2f1"/><path d="M505.1 155.2l13.5-4.5-11.5-10.4-13.5 4.5z" fill="#8ea2fe"/><path d="M480.7 146.5l13.5-4.5-11.6-10-13.5 4.5z" fill="#83acfe"/><circle class="m" cx="444.9" cy="133.4" r="2.4" fill="#A2142F"/><path d="M493.8 127.5l13.5-4.5-11.5-10.3-13.5 4.5z" fill="#7ac6ef"/><circle class="m" cx="444.9" cy="131.2" r="2.4" fill="#0072BD"/><path d="M505.1 151.9l13.5-4.6-11.5-10-13.5 4.6z" fill="#89a6ff"/><path d="M493.8 126.1l13.5-6.8-11.5-9.6-13.5 6.8z" fill="#81cdee"/><path d="M456.2 134.2l13.5-5.3-11.6-9.6-13.5 5.3z" fill="#7dc0f3"/><path d="M449.7 143.7l6.8-.1-11.7-10.5-6.8.1z" fill="#5798fb"/><path d="M449.7 143.2l6.8-2.2-11.7-10.1-6.8 2.4z" fill="#7db3fb"/><path d="M480.7 138.4l13.5-5.2-11.6-9.6-13.5 5.2z" fill="#7fbdf5"/><circle class="m" cx="518.3" cy="150.6" r="2.4" fill="#A2142F"/><circle class="m" cx="444.9" cy="124.6" r="2.4" fill="#7E2F8E"/><path d="M456.2 129.8l13.5-6.8-11.6-9.6-13.5 6.8z" fill="#81ccef"/><path d="M456.2 128.3l13.5-4.5-11.6-10.4-13.5 4.5z" fill="#78caed"/><path d="M467.5 153.7l13.5-4.5-11.6-10.4-13.5 4.6z" fill="#88abff"/><circle class="m" cx="518.3" cy="147.3" r="2.4" fill="#0072BD"/><path d="M456.2 126.1l13.5-4.5-11.6-10.4-13.5 4.5z" fill="#75cdea"/><path d="M505.1 142.7l13.5-5.3-11.5-9.6-13.5 5.3z" fill="#80bbf7"/><path d="M480.7 134l13.5-4.5-11.6-10.4-13.5 4.6z" fill="#7bc5f0"/><path d="M492 159.4l13.5-4.5-11.6-10.3-13.5 4.5z" fill="#8da5fe"/><path d="M467.5 150.8l13.5-4.5-11.6-10-13.5 4.5z" fill="#80affd"/><circle class="m" cx="444.9" cy="120.2" r="2.4" fill="#EDB120"/><path d="M443.1 145.2l6.8-2.2-11.7-9.9-6.8 2.3z" fill="#7cb4fa"/><path d="M449.7 135.6l6.8-1.6-11.7-9.7-6.8 1.6z" fill="#6bbaf0"/><path d="M443.1 143.6l6.7-.1-11.7-10.4-6.7.1z" fill="#55a0f7"/><path d="M480.7 132.6l13.5-6.8-11.6-9.6-13.5 6.8z" fill="#81ccef"/><path d="M480.7 131.8l13.5-4.5-11.6-10.4-13.5 4.6z" fill="#79c8ee"/><path d="M505.1 139.7l13.5-4.5-11.5-10.3-13.5 4.5z" fill="#7dc0f3"/><circle class="m" cx="444.9" cy="118" r="2.4" fill="#4DBEEE"/><path d="M516.5 165.1l13.5-4.4-11.6-10.4-13.5 4.5z" fill="#8f9ffd"/><path d="M492 156.1l13.5-4.5-11.6-10-13.5 4.5z" fill="#86aaff"/><path d="M449.7 133.4l6.8-3.8-11.7-9.7-6.8 3.8z" fill="#86ccf0"/><path d="M505.1 137.5l13.5-4.5-11.5-10.3-13.5 4.5z" fill="#7bc4f0"/><circle class="m" cx="444.9" cy="115.8" r="2.4" fill="#77AC30"/><circle class="m" cx="484.4" cy="63.3" r="2.4" fill="#D95319"/><path d="M516.5 161.2l13.5-4.5-11.6-9.7-13.5 4.5z" fill="#88a3fe"/><path d="M436.4 147.2l6.8-2.2-11.7-9.7-6.8 2.3z" fill="#7bb5f9"/><path d="M505.1 135.3l13.5-6.7-11.5-9.6-13.5 6.7z" fill="#81ccef"/><path d="M467.5 143.4l13.5-5.2-11.6-9.6-13.5 5.2z" fill="#7ebff4"/><path d="M449.7 127.6l6.8.6-11.7-10.5-6.8-.3z" fill="#43bbe3"/><path d="M443.1 137l6.8-1.6-11.8-9.6-6.7 1.5z" fill="#69bcee"/><path d="M461 153.7l6.8-.1-11.7-10.5-6.8.1z" fill="#5994fd"/><circle class="m" cx="518.3" cy="137.4" r="2.4" fill="#7E2F8E"/><path d="M482.5 84.3l13.5-10.2-11.6-11.1-13.5 10.5z" fill="#d6e4a2"/><circle class="m" cx="425" cy="137.7" r="2.4" fill="#0072BD"/><path d="M443.1 137l6.8-3.8-11.7-9.6-6.9 3.8z" fill="#87cbf1"/><path d="M449.7 126.5l6.8-.6-11.7-10.4-6.8.9z" fill="#50c4e2"/><path d="M461 152.7l6.8-2.1-11.7-10-6.8 2.2z" fill="#7cb0fc"/><path d="M436.4 143.6l6.8-.1-11.7-10.4-6.8.1z" fill="#53a7f1"/><circle class="m" cx="518.3" cy="135.2" r="2.4" fill="#4DBEEE"/><path d="M492 147.7l13.5-5.3-11.6-9.6-13.5 5.3z" fill="#80bcf6"/><path d="M432.5 148.9l4.1-1.8-11.8-9.6-4 1.8z" fill="#85bbf9"/><path d="M467.5 139l13.5-6.7-11.6-9.6-13.5 6.7z" fill="#82cbf0"/><path d="M467.5 138.3l13.5-4.5-11.6-10.4-13.5 4.5z" fill="#79c7ee"/><circle class="m" cx="518.3" cy="133" r="2.4" fill="#77AC30"/><circle class="m" cx="484.4" cy="55" r="2.4" fill="#0072BD"/><path d="M478.8 163.7l13.5-4.5-11.6-10.4-13.5 4.6z" fill="#8ba8ff"/><circle class="m" cx="425" cy="133.3" r="2.4" fill="#A2142F"/><path d="M436.4 140.6l6.8-3.8-11.7-9.6-6.8 3.8z" fill="#87caf1"/><path d="M467.5 136.1l13.5-4.5-11.6-10.4-13.5 4.5z" fill="#77cbec"/><path d="M492 144l13.5-4.5-11.6-10.4-13.5 4.6z" fill="#7cc2f1"/><path d="M436.4 138.4l6.8-1.5-11.7-9.7-6.8 1.6z" fill="#68bfed"/><path d="M516.5 152.6l13.5-5.2-11.6-10.3-13.5 5.2z" fill="#84bbf9"/><path d="M428.6 150.7l4-1.9-11.7-9.6-4.1 1.8z" fill="#85bbf9"/><circle class="m" cx="425" cy="131.1" r="2.4" fill="#EDB120"/><path d="M503.3 169.4l13.5-4.5-11.6-10.3-13.5 4.5z" fill="#8ea2fe"/><path d="M478.8 160.4l13.5-4.5-11.6-10-13.5 4.5z" fill="#82adfe"/><path d="M469.4 94.2l13.4-10.2-11.5-10.8-13.5 10.4z" fill="#c5e6ae"/><path d="M454.4 154.6l6.8-2.1-11.7-9.9-6.8 2.2z" fill="#7bb1fb"/><path d="M432.5 143.7l4.1-.2-11.8-10.4-4 .3z" fill="#59b1ef"/><path d="M454.4 153.6l6.8-.1-11.7-10.4-6.8.1z" fill="#559cf9"/><path d="M443.1 127l6.7.5-11.7-10.2-6.7-.3z" fill="#36c1da"/><circle class="m" cx="518.3" cy="128.6" r="2.4" fill="#EDB120"/><path d="M482.5 76l13.5-10.6-11.6-10.7-13.5 10.5z" fill="#f1df9b"/><path d="M461 144.8l6.8-1.5-11.7-9.7-6.8 1.6z" fill="#6bb8f1"/><path d="M492 141.8l13.5-4.5-11.6-10.4-13.5 4.6z" fill="#7ac6ef"/><path d="M443.1 127l6.7-.6-11.7-10.2-6.7.9z" fill="#44c7db"/><circle class="m" cx="425" cy="128.9" r="2.4" fill="#7E2F8E"/><path d="M516.5 149.9l13.5-4.6-11.6-10.4-13.5 4.5z" fill="#80bef5"/><path d="M492 141.8l13.5-6.7-11.6-9.6-13.5 6.7z" fill="#82cbf0"/><path d="M432.5 143.1l4.1-2.6-11.8-9.7-4 2.6z" fill="#8ccbf2"/><path d="M527.8 175.1l13.5-4.4-11.6-10.4-13.5 4.5z" fill="#909cfc"/><path d="M424.6 152.4l4.1-1.8-11.8-9.7-4 1.9z" fill="#85bbf9"/><path d="M503.3 165.4l13.5-4.5-11.6-9.6-13.5 4.5z" fill="#85a6ff"/><circle class="m" cx="413.1" cy="142.9" r="2.4" fill="#0072BD"/><path d="M516.5 147.5l13.5-4.6-11.6-10.2-13.5 4.5z" fill="#7cc1f2"/><path d="M461 142.7l6.8-3.9-11.7-9.6-6.8 3.8z" fill="#87cbf1"/><path d="M428.6 145.5l4-2.6-11.7-9.6-4.1 2.6z" fill="#8ccaf3"/><path d="M432.5 139.3l4.1-1-11.8-9.6-4 1z" fill="#68c2ec"/><path d="M428.6 143.8l4-.2-11.7-10.3-4.1.4z" fill="#56b3ec"/><path d="M422 153.7l2.7-1.4-11.8-9.6-2.7 1.3z" fill="#88bdf9"/><path d="M527.8 170.5l13.5-4.5-11.6-9.7-13.5 4.5z" fill="#89a1fe"/><path d="M447.7 156.5l6.8-2.1-11.7-9.7-6.8 2.2z" fill="#7ab2fa"/><path d="M456.2 104.1l13.5-10.2-11.6-10.6-13.5 10.5z" fill="#b3e7ba"/><path d="M516.5 144.9l13.5-6.7-11.6-9.9-13.5 6.7z" fill="#84cbf0"/><path d="M424.6 148l4.1-2.6-11.8-9.6-4.1 2.6z" fill="#8dc9f4"/><path d="M461 137.4l6.8.8-11.7-10.5-6.8-.5z" fill="#45b9e5"/><circle class="m" cx="413.1" cy="138.5" r="2.4" fill="#EDB120"/><path d="M478.8 152.7l13.5-5.2-11.6-9.7-13.5 5.3z" fill="#7fbdf5"/><path d="M472.3 163.7l6.8-.1-11.7-10.4-6.8 0z" fill="#5d90fe"/><path d="M493.8 94.8l13.5-10-11.6-11-13.5 10.2z" fill="#cde5a7"/><path d="M419.3 155l2.7-1.4-11.7-9.7-2.8 1.3z" fill="#88bdf9"/><path d="M469.4 86.2l13.4-10.5-11.5-10.8-13.5 10.5z" fill="#e4e29a"/><path d="M454.4 146.3l6.8-1.6-11.7-9.7-6.8 1.6z" fill="#6abbef"/><path d="M428.6 140.1l4-.9-11.7-9.6-4.1 1.1z" fill="#66c3eb"/><path d="M461 136.3l6.8-.4-11.7-10.4-6.8.6z" fill="#4dc0e4"/><path d="M454.4 146.3l6.8-3.8-11.7-9.7-6.8 3.8z" fill="#87caf1"/><path d="M447.8 153.6l6.7-.1-11.7-10.4-6.7.1z" fill="#54a3f4"/><path d="M436.4 127.4l6.8-.6-11.7-9.9-6.8.9z" fill="#3cc9d4"/><path d="M472.3 162.2l6.8-2-11.7-10-6.8 2.1z" fill="#7cadfd"/><path d="M422 149.4l2.7-1.5-11.8-9.6-2.7 1.4z" fill="#87c5f4"/><path d="M436.5 126.3l6.7.5-11.7-9.9-6.8-.3z" fill="#2fc6d0"/><path d="M416.6 156.3l2.8-1.4-11.8-9.8-2.8 1.4z" fill="#88bdf9"/><circle class="m" cx="405.1" cy="146.6" r="2.4" fill="#0072BD"/><circle class="m" cx="444.9" cy="93.8" r="2.4" fill="#D95319"/><path d="M424.6 144l4.1-.3-11.8-10.1-4 .3z" fill="#53b6ea"/><path d="M503.3 157.6l13.5-5.3-11.6-10.2-13.5 5.2z" fill="#84bcf8"/><path d="M449.7 111.4l6.8-7.6-11.7-10.3-6.8 7.5z" fill="#ace8cc"/><circle class="m" cx="413.1" cy="134.1" r="2.4" fill="#A2142F"/><path d="M478.8 148.3l13.5-4.5-11.6-10.4-13.5 4.5z" fill="#7bc5f0"/><path d="M419.3 150.9l2.7-1.6-11.7-9.7-2.8 1.4z" fill="#88c5f4"/><path d="M443.8 158.2l4.1-1.8-11.8-9.7-4 1.9z" fill="#85bafa"/><circle class="m" cx="425" cy="117.9" r="2.4" fill="#77AC30"/><path d="M490.1 173.6l13.5-4.4-11.5-10.4-13.5 4.6z" fill="#8da4fe"/><path d="M478.8 148.3l13.5-6.7-11.6-9.6-13.5 6.7z" fill="#83caf0"/><path d="M443 118.7l6.9-7.6-11.7-10.3-6.9 7.5z" fill="#a4e6d5"/><path d="M424.6 141l4.1-1-11.8-9.4-4 1.1z" fill="#64c4ea"/><circle class="m" cx="425" cy="116.8" r="2.4" fill="#4DBEEE"/><circle class="m" cx="413.1" cy="131.9" r="2.4" fill="#7E2F8E"/><path d="M478.8 146.1l13.5-4.5-11.6-10.4-13.5 4.5z" fill="#79c8ee"/><path d="M416.6 152.3l2.7-1.5-11.7-9.9-2.8 1.4z" fill="#89c5f4"/><circle class="m" cx="405.1" cy="142.4" r="2.4" fill="#EDB120"/><path d="M447.7 149.9l6.9-3.8-11.8-9.6-6.8 3.8z" fill="#88c9f2"/><path d="M503.3 154.3l13.5-4.6-11.6-10.5-13.5 4.5z" fill="#7fc1f3"/><circle class="m" cx="425" cy="115.7" r="2.4" fill="#D95319"/><path d="M436.4 126l6.8-7.6-11.6-10.3-6.9 7.5z" fill="#9be3de"/><path d="M422 144l2.7-.1-11.8-10-2.7.2z" fill="#50b8e9"/><path d="M527.8 162.5l13.5-5.2-11.6-10.3-13.5 5.2z" fill="#85b9fa"/><path d="M456.2 96.5l13.5-10.5-11.6-10.9-13.5 10.5z" fill="#d4e5a4"/><path d="M514.6 179.3l13.5-4.4-11.6-10.4-13.5 4.5z" fill="#8f9ffd"/><path d="M480.7 104.4l13.5-9.9-11.6-10.8-13.5 10.2z" fill="#bde7b3"/><circle class="m" cx="405.1" cy="141.3" r="2.4" fill="#D95319"/><path d="M447.8 147.7l6.7-1.6-11.7-9.6-6.8 1.5z" fill="#69beed"/><path d="M439.9 159.9l4-1.8-11.7-9.6-4.1 1.8z" fill="#85bafa"/><path d="M432.5 128.1l4.1-.8-11.8-9.7-4 .9z" fill="#4fcfd4"/><path d="M432.5 129.9l4.1-4.1-11.7-10.4-4.1 4.3z" fill="#8fe1e3"/><path d="M490.1 169.7l13.5-4.5-11.5-9.7-13.5 4.6z" fill="#82a9fe"/><path d="M493.8 86.5l13.5-10.7-11.6-10.7-13.5 10.6z" fill="#ece099"/><path d="M443.9 153.6l4-.1-11.8-10.4-4 .2z" fill="#55abf0"/><path d="M465.7 163.6l6.8-.1-11.7-10.4-6.8.1z" fill="#5798fb"/><path d="M432.5 127.6l4.1-1.4-11.8-9.7-4 1.5z" fill="#66d6d7"/><path d="M465.7 164l6.8-2-11.7-9.9-6.8 2.1z" fill="#79aefc"/><path d="M422 142l2.7-1.1-11.8-9.2-2.7 1.1z" fill="#73cbeb"/><path d="M503.3 151.8l13.5-4.6-11.6-10.3-13.5 4.6z" fill="#7bc4f0"/><path d="M454.4 136.5l6.8.8-11.8-10.2-6.7-.5z" fill="#3cbfdd"/><path d="M416.6 150.7l2.8-4.5-11.8-9.6-2.8 4.6z" fill="#a5d7f5"/><path d="M527.8 160.1l13.5-4.7-11.6-10.5-13.5 4.7z" fill="#82bcf7"/><path d="M428.5 133.8l4.1-4.1-11.7-10.2-4.1 4.2z" fill="#8cdfe7"/><path d="M472.3 154.1l6.8-1.6-11.7-9.6-6.8 1.6z" fill="#6cb7f2"/><path d="M454.4 136.5l6.8-.3-11.7-10.2-6.8.6z" fill="#42c3dd"/><path d="M419.3 146.4l2.7-4.5-11.7-9.8-2.8 4.7z" fill="#a3dbf3"/><path d="M539.1 185.1l13.5-4.4-11.6-10.4-13.5 4.4z" fill="#9099fa"/><path d="M419.3 144.1l2.7-.2-11.8-9.8-2.7.2z" fill="#4cb9e7"/><circle class="m" cx="413.1" cy="127.9" r="2.4" fill="#D95319"/><path d="M503.3 151.4l13.5-6.7-11.6-10-13.5 6.8z" fill="#85caf0"/><circle class="m" cx="444.9" cy="85.6" r="2.4" fill="#0072BD"/><circle class="m" cx="478.8" cy="163.4" r="2.4" fill="#A2142F"/><path d="M443.8 152.3l4.1-2.5-11.7-9.7-4.1 2.6z" fill="#8ccaf3"/><path d="M424.6 137.7l4.1-4.1-11.8-10-4.1 4.2z" fill="#8fddea"/><path d="M421.9 142l2.8-4.5-11.7-9.8-2.8 4.6z" fill="#a0def0"/><path d="M435.9 161.7l4.1-1.9-11.8-9.6-4 1.8z" fill="#85bafa"/><path d="M449.7 104.1l6.8-7.8-11.7-11-6.8 8.1z" fill="#c7e9b9"/><path d="M419.3 143l2.7-1.1-11.8-9.2-2.7 1.1z" fill="#73cbeb"/><path d="M514.6 174.7l13.5-4.4-11.6-9.7-13.5 4.5z" fill="#87a4ff"/><path d="M527.8 157.4l13.5-4.7-11.6-10.2-13.5 4.6z" fill="#7ebff4"/><path d="M428.6 128.8l4-.8-11.7-9.6-4.1.9z" fill="#53d0d1"/><path d="M443 111.7l6.9-7.8-11.7-10.7-6.9 8z" fill="#b6e9c6"/><path d="M428.6 128.9l4-1.4-11.7-9.6-4.1 1.5z" fill="#67d6d6"/><path d="M472.3 151.9l6.8-3.8-11.7-9.6-6.8 3.8z" fill="#87caf1"/><circle class="m" cx="425" cy="109.1" r="2.4" fill="#0072BD"/><path d="M439.9 154.8l4-2.6-11.7-9.6-4.1 2.6z" fill="#8dc9f4"/><path d="M443.9 148.4l4-.8-11.8-9.7-4 1z" fill="#65bfec"/><path d="M416.6 144.1l2.7-.1-11.7-9.7-2.8.3z" fill="#48bae5"/><path d="M439.9 153.6l4-.1-11.7-10.3-4.1.2z" fill="#52aeed"/><path d="M436.4 119.3l6.8-7.8-11.6-10.5-6.9 8z" fill="#a9e7d1"/><circle class="m" cx="478.8" cy="160.1" r="2.4" fill="#0072BD"/><circle class="m" cx="405.1" cy="134.9" r="2.4" fill="#7E2F8E"/><path d="M416.6 144.1l2.8-1.1-11.8-9.3-2.8 1.1z" fill="#73cbeb"/><circle class="m" cx="405.1" cy="134.7" r="2.4" fill="#A2142F"/><path d="M433.3 163l2.7-1.4-11.8-9.7-2.7 1.4z" fill="#89bcfa"/><path d="M432.5 123.8l4.1-4.7-11.7-10.3-4.1 4.8z" fill="#a3e5d9"/><path d="M505.2 105.2l13.4-9.7-11.5-11-13.5 9.9z" fill="#c5e6ad"/><path d="M539.1 179.8l13.5-4.4-11.6-9.7-13.5 4.4z" fill="#8a9ffe"/><circle class="m" cx="413.1" cy="123.1" r="2.4" fill="#0072BD"/><path d="M467.5 114.1l13.5-10-11.6-10.5-13.5 10.2z" fill="#ade6bf"/><path d="M428.5 128.4l4.1-4.7-11.7-10.2-4.1 4.8z" fill="#9ce4de"/><path d="M480.7 96.8l13.5-10.6-11.6-10.8-13.5 10.5z" fill="#dde39e"/><path d="M472.4 147.1l6.7 1.1-11.7-10.5-6.8-.7z" fill="#47b6e7"/><path d="M483.7 173.5l6.7 0-11.7-10.3-6.7 0z" fill="#5f8bff"/><path d="M527.8 154.5l13.5-6.8-11.6-9.9-13.5 6.8z" fill="#85caf1"/><path d="M459.1 165.8l6.8-2-11.7-9.8-6.8 2.1z" fill="#78b0fb"/><path d="M424.6 133l4.1-4.8-11.8-10.1-4.1 4.9z" fill="#93e2e3"/><path d="M490.1 162.6l13.5-5.3-11.5-10.2-13.5 5.3z" fill="#83bef6"/><path d="M435.9 157.3l4.1-2.6-11.8-9.7-4 2.6z" fill="#8dc8f4"/><path d="M430.6 164.3l2.7-1.4-11.7-9.7-2.8 1.4z" fill="#89bcfa"/><path d="M421.9 135.3l2.8-2.5-11.8-10-2.7 2.8z" fill="#89dfe5"/><path d="M424.6 130.2l4.1-1.4-11.8-9.5-4 1.4z" fill="#68d6d4"/><path d="M424.6 129.6l4.1-.9-11.8-9.5-4 .9z" fill="#57d1ce"/><path d="M465.7 155.5l6.8-1.5-11.7-9.7-6.8 1.6z" fill="#6bbaf0"/><path d="M472.3 146l6.8 0-11.7-10.5-6.8.4z" fill="#49bbe5"/><circle class="m" cx="413.1" cy="120.9" r="2.4" fill="#4DBEEE"/><path d="M459.1 163.6l6.7-.1-11.7-10.4-6.7.1z" fill="#55a0f7"/><path d="M419.3 137.7l2.7-2.5-11.7-9.7-2.8 2.9z" fill="#89dde7"/><circle class="m" cx="405.1" cy="131.2" r="2.4" fill="#0072BD"/><circle class="m" cx="413.1" cy="120.2" r="2.4" fill="#77AC30"/><path d="M439.9 149.2l4-.9-11.7-9.5-4.1 1z" fill="#63c0eb"/><path d="M465.7 155.6l6.8-3.9-11.7-9.6-6.8 3.8z" fill="#88c9f2"/><path d="M447.8 136.7l6.7-.3-11.7-10-6.8.6z" fill="#35c6d5"/><path d="M483.7 171l6.7-1.5-11.7-9.7-6.8 2z" fill="#73a5fd"/><path d="M433.3 158.8l2.7-1.6-11.8-9.7-2.7 1.5z" fill="#8bc6f5"/><path d="M416.6 140.1l2.8-2.5-11.8-9.4-2.8 2.9z" fill="#8adce9"/><circle class="m" cx="552.3" cy="180.6" r="2.4" fill="#A2142F"/><path d="M447.8 135.6l6.7.8-11.7-10-6.7-.5z" fill="#2fc5d2"/><path d="M427.9 165.7l2.8-1.4-11.8-9.8-2.7 1.4z" fill="#8abcfa"/><path d="M435.9 153.6l4.1-.1-11.8-10.2-4 .3z" fill="#4eb1eb"/><path d="M514.6 167.5l13.5-5.2-11.6-10.3-13.5 5.2z" fill="#84baf9"/><path d="M461 121.4l6.8-7.6-11.7-10.3-6.8 7.5z" fill="#a9e7cf"/><path d="M490.1 158.7l13.5-4.6-11.5-10.7-13.5 4.5z" fill="#7fc3f2"/><path d="M422 130.2l2.7 0-11.8-9.5-2.7-.2z" fill="#3fcac4"/><path d="M430.6 160.4l2.7-1.7-11.7-9.7-2.8 1.5z" fill="#8cc5f5"/><path d="M501.4 183.6l13.5-4.5-11.5-10.3-13.5 4.5z" fill="#8ea1fe"/><path d="M422 130l2.7-.5-11.8-9.5-2.7.3z" fill="#54d0c9"/><path d="M455.2 167.5l4-1.9-11.7-9.6-4.1 1.8z" fill="#85b9fb"/><path d="M454.3 128.7l6.9-7.6-11.7-10.3-6.8 7.5z" fill="#a2e5d8"/><path d="M490.1 157.9l13.5-6.7-11.5-10-13.5 6.8z" fill="#86c9f1"/><circle class="m" cx="478.8" cy="152.4" r="2.4" fill="#7E2F8E"/><path d="M490.1 156.2l13.5-4.6-11.5-10.4-13.5 4.5z" fill="#7bc6ef"/><path d="M514.6 164.7l13.5-4.8-11.6-10.6-13.5 4.7z" fill="#82bef6"/><path d="M435.9 149.9l4.1-.8-11.8-9.4-4 .9z" fill="#60c1ea"/><path d="M467.5 107.1l13.5-10.6-11.6-10.8-13.5 10.5z" fill="#cce6aa"/><path d="M427.9 161.9l2.8-1.6-11.8-9.9-2.7 1.5z" fill="#8dc5f6"/><path d="M447.7 136l6.9-7.6-11.7-10.3-6.9 7.5z" fill="#97e2e0"/><path d="M492 114.7l13.5-9.7-11.6-10.8-13.5 9.9z" fill="#b5e7b8"/><path d="M539.1 172.4l13.5-5.2-11.6-10.3-13.5 5.2z" fill="#85b6fc"/><path d="M433.3 153.5l2.7 0-11.8-10-2.7.1z" fill="#4ab2e9"/><path d="M459.1 159.2l6.8-3.8-11.7-9.7-6.9 3.8z" fill="#88c8f2"/><path d="M525.9 189.3l13.5-4.4-11.5-10.4-13.5 4.5z" fill="#8f9cfc"/><path d="M505.2 97l13.4-10.7-11.5-10.8-13.5 10.7z" fill="#e6e29a"/><circle class="m" cx="552.3" cy="175.3" r="2.4" fill="#0072BD"/><path d="M419.3 130.5l2.7-.6-11.8-9.6-2.7.3z" fill="#5ad1c7"/><path d="M419.3 130.1l2.7 0-11.8-9.7-2.7-.2z" fill="#46ccc0"/><path d="M443.8 139.7l4.1-3.9-11.7-10.4-4.1 4.1z" fill="#8bdfe5"/><path d="M459.1 157l6.8-1.6-11.8-9.7-6.7 1.6z" fill="#69bcee"/><path d="M455.2 163.4l4 .1-11.7-10.4-4.1.1z" fill="#51a4f2"/><path d="M451.2 169.2l4.1-1.8-11.8-9.7-4.1 1.9z" fill="#85b9fb"/><path d="M477 173.4l6.8 0-11.7-10.3-6.8.1z" fill="#5793fd"/><path d="M443.9 137.3l4-.7-11.8-9.7-4 .8z" fill="#4bced5"/><path d="M501.4 179l13.5-4.5-11.5-9.7-13.5 4.5z" fill="#83a7ff"/><path d="M514.6 161.8l13.5-4.6-11.6-10.3-13.5 4.6z" fill="#7dc2f2"/><path d="M539.1 170.3l13.5-4.8-11.6-10.5-13.5 4.8z" fill="#83b9fa"/><path d="M465.7 146l6.8 1-11.7-10.2-6.8-.7z" fill="#3fbde0"/><path d="M443.8 136.8l4.1-1.3-11.8-9.7-4 1.4z" fill="#62d5d8"/><path d="M439.9 143.4l4.1-3.9-11.8-10.2-4.1 4.1z" fill="#8cdee8"/><path d="M477 172.3l6.8-1.5-11.7-9.2-6.8 2z" fill="#6da5fc"/><circle class="m" cx="478.8" cy="148" r="2.4" fill="#EDB120"/><circle class="m" cx="478.8" cy="148" r="2.4" fill="#4DBEEE"/><circle class="m" cx="518.3" cy="95.5" r="2.4" fill="#D95319"/><path d="M427.9 159.8l2.8-4.4-11.8-9.6-2.8 4.5z" fill="#a5d6f5"/><path d="M433.3 150.9l2.7-1.1-11.8-9.2-2.7 1.1z" fill="#74caec"/><path d="M465.7 146l6.8-.1-11.7-10.2-6.8.4z" fill="#3ebfde"/><path d="M483.7 163.8l6.7-1.4-11.7-10.3-6.8 1.6z" fill="#70b6f3"/><path d="M430.6 155.6l2.8-4.4-11.8-9.7-2.8 4.5z" fill="#a3daf3"/><path d="M514.6 161l13.5-6.7-11.6-10-13.5 6.8z" fill="#86c9f1"/><path d="M430.6 153.4l2.7 0-11.7-9.8-2.8.1z" fill="#48b5e8"/><path d="M461 114.5l6.8-7.6-11.7-11-6.8 7.9z" fill="#c0e9be"/><path d="M435.9 147.2l4.1-3.9-11.7-10.1-4.1 4.1z" fill="#90dceb"/><path d="M416.6 130.9l2.7-.5-11.7-9.8-2.7.3z" fill="#60d2c6"/><path d="M455.1 161.6l4.1-2.6-11.7-9.6-4.1 2.6z" fill="#8dc9f4"/><path d="M433.2 151.4l2.8-4.4-11.7-9.9-2.8 4.5z" fill="#a1ddf1"/><circle class="m" cx="405.1" cy="121.1" r="2.4" fill="#77AC30"/><path d="M416.6 130.1l2.7 0-11.7-9.9-2.7-.2z" fill="#4dcdbc"/><path d="M539.1 167.3l13.5-4.7-11.6-10.2-13.5 4.6z" fill="#80bdf5"/><circle class="m" cx="478.8" cy="145.8" r="2.4" fill="#77AC30"/><path d="M447.2 170.9l4.1-1.8-11.8-9.7-4 1.9z" fill="#85b9fb"/><path d="M454.3 121.8l6.9-7.6-11.7-10.7-6.8 7.9z" fill="#b0e9ca"/><path d="M525.9 184l13.5-4.4-11.5-9.7-13.5 4.5z" fill="#88a2fe"/><path d="M430.6 151.9l2.7-1.1-11.7-9.2-2.8 1.1z" fill="#74caec"/><circle class="m" cx="405.1" cy="120.2" r="2.4" fill="#4DBEEE"/><path d="M439.9 138l4-.8-11.7-9.6-4.1.9z" fill="#4ecfd2"/><path d="M483.6 161.7l6.9-4-11.8-10-6.8 3.8z" fill="#8acaf2"/><path d="M439.9 138.1l4-1.4-11.7-9.6-4.1 1.4z" fill="#63d5d7"/><path d="M447.7 129.2l6.9-7.6-11.7-10.5-6.9 7.9z" fill="#a6e6d4"/><path d="M451.2 163.3l4 .1-11.7-10.3-4 .1z" fill="#4fa9ef"/><path d="M451.2 164.1l4.1-2.6-11.8-9.7-4.1 2.6z" fill="#8dc8f4"/><path d="M516.5 116l13.5-9.5-11.6-11.3-13.5 9.7z" fill="#bce7b4"/><path d="M427.9 153.3l2.8.1-11.8-9.8-2.7.1z" fill="#46b7e6"/><path d="M455.2 157.6l4-.8-11.7-9.6-4.1.8z" fill="#62bcec"/><path d="M443.8 133.7l4.1-4.7-11.7-10.3-4.1 4.8z" fill="#a0e4db"/><path d="M492 107.3l13.5-10.6-11.6-10.8-13.5 10.6z" fill="#d6e5a3"/><path d="M444.6 172.3l2.7-1.5-11.7-9.6-2.8 1.4z" fill="#8bbbfb"/><path d="M478.8 124.1l13.5-9.7-11.6-10.6-13.5 10z" fill="#a7e6c3"/><path d="M427.9 153l2.8-1.1-11.8-9.3-2.7 1.1z" fill="#74cbeb"/><path d="M439.9 138.1l4.1-4.6-11.8-10.2-4.1 4.7z" fill="#98e3e0"/><path d="M483.7 157.7l6.7.9-11.7-10.9-6.7-1z" fill="#4ab2e9"/><path d="M495 183.4l6.7 0-11.7-10.3-6.7 0z" fill="#6387fe"/><path d="M435.9 142.6l4.1-4.6-11.7-10.1-4.1 4.7z" fill="#90e1e4"/><circle class="m" cx="552.3" cy="167.2" r="2.4" fill="#7E2F8E"/><path d="M539.1 164.1l13.5-6.8-11.6-9.9-13.5 6.8z" fill="#86c8f2"/><path d="M501.4 172.4l13.5-5.2-11.5-10.2-13.5 5.2z" fill="#84bbf8"/><path d="M447.2 166.5l4.1-2.6-11.7-9.6-4.1 2.6z" fill="#8ec7f5"/><path d="M470.4 173.6l6.8-1.4-11.7-8.8-6.8 2z" fill="#67a6fa"/><path d="M433.3 144.7l2.7-2.2-11.7-10-2.8 2.5z" fill="#85dde5"/><path d="M441.9 173.7l2.8-1.5-11.8-9.7-2.8 1.5z" fill="#8bbbfb"/><path d="M483.7 155.9l6.7.1-11.7-10.5-6.7.1z" fill="#47b6e7"/><path d="M435.9 139.4l4.1-1.4-11.8-9.6-4 1.5z" fill="#64d5d6"/><path d="M470.4 173.4l6.8-.1-11.7-10.2-6.8.1z" fill="#549bf9"/><path d="M477 165l6.8-1.4-11.7-10-6.8 1.5z" fill="#6bb8f1"/><path d="M435.9 138.7l4.1-.8-11.8-9.5-4 .8z" fill="#52d0cf"/><circle class="m" cx="552.3" cy="165.4" r="2.4" fill="#4DBEEE"/><path d="M430.6 146.7l2.7-2.2-11.7-9.6-2.8 2.5z" fill="#86dbe7"/><path d="M477 165.4l6.8-3.9-11.7-10.1-6.8 3.8z" fill="#8bc9f3"/><path d="M459.1 146l6.7-.1-11.7-10-6.7.4z" fill="#32c3d7"/><circle class="m" cx="458.9" cy="165.5" r="2.4" fill="#0072BD"/><path d="M451.2 158.2l4.1-.7-11.8-9.6-4.1.9z" fill="#5fbdeb"/><path d="M447.3 163.2l4 .1-11.8-10.2-4 .1z" fill="#4dadec"/><circle class="m" cx="518.3" cy="86.3" r="2.4" fill="#0072BD"/><path d="M444.6 168.2l2.7-1.8-11.7-9.6-2.8 1.6z" fill="#8ec6f6"/><path d="M459.1 144.8l6.7 1.1-11.7-9.9-6.7-.8z" fill="#30c4d5"/><path d="M439.2 175.1l2.8-1.5-11.8-9.7-2.7 1.4z" fill="#8bbbfb"/><path d="M501.4 169.2l13.5-4.8-11.5-10.6-13.5 4.6z" fill="#81c1f4"/><path d="M495 179.8l6.8-1-11.8-9.7-6.7 1.5z" fill="#6c9efe"/><path d="M472.3 131.4l6.8-7.6-11.6-10.3-6.9 7.5z" fill="#a6e6d2"/><path d="M525.9 177.3l13.5-5.1-11.5-10.3-13.5 5.2z" fill="#85b7fb"/><path d="M427.9 148.8l2.8-2.2-11.8-9.4-2.8 2.6z" fill="#87dae9"/><path d="M512.8 193.5l13.5-4.4-11.6-10.3-13.5 4.4z" fill="#8f9efd"/><circle class="m" cx="552.3" cy="162.5" r="2.4" fill="#77AC30"/><circle class="m" cx="458.9" cy="163.3" r="2.4" fill="#A2142F"/><path d="M441.9 169.9l2.8-1.8-11.8-9.8-2.8 1.7z" fill="#8fc5f6"/><path d="M433.3 139.5l2.7-.2-11.8-9.5-2.7 0z" fill="#3ac9c7"/><path d="M465.7 138.7l6.8-7.6-11.7-10.3-6.8 7.5z" fill="#9fe4db"/><path d="M433.3 139.3l2.7-.7-11.8-9.5-2.7.5z" fill="#5bd2ce"/><path d="M501.4 167.6l13.5-6.8-11.5-10-13.5 6.8z" fill="#87c8f2"/><path d="M478.8 117.7l13.5-10.7-11.6-10.8-13.5 10.6z" fill="#c4e7b0"/><path d="M525.9 175l13.5-4.9-11.5-10.6-13.5 4.8z" fill="#84bcf8"/><path d="M501.4 166.3l13.5-4.7-11.5-10.4-13.5 4.6z" fill="#7cc4f1"/><path d="M466.5 175.5l4-2-11.7-8.2-4.1 1.8z" fill="#7eb4fa"/><path d="M503.3 125.3l13.5-9.5-11.6-11.1-13.5 9.7z" fill="#aee6be"/><path d="M459 146l6.9-7.6-11.7-10.3-6.9 7.5z" fill="#92e2e3"/><path d="M516.5 108l13.5-10.5-11.6-11.5-13.5 10.6z" fill="#dfe49f"/><path d="M439.2 171.6l2.8-1.8-11.8-9.9-2.7 1.6z" fill="#90c5f7"/><path d="M447.3 158.8l4-.7-11.8-9.4-4 .8z" fill="#5cbfea"/><path d="M444.6 163l2.7.2-11.7-10.1-2.8 0z" fill="#4bb0ea"/><path d="M470.4 169.1l6.8-3.9-11.7-10.2-6.8 3.8z" fill="#8cc8f4"/><path d="M455.1 149.5l4.1-3.7-11.7-10.4-4.1 3.9z" fill="#8adee7"/><path d="M430.6 139.9l2.7-.7-11.7-9.6-2.8.5z" fill="#60d3cd"/><path d="M466.5 173l4 .2-11.7-10.1-4.1-.1z" fill="#53a1f5"/><path d="M430.6 139.7l2.7-.3-11.7-9.7-2.8.1z" fill="#41cbc3"/><path d="M488.3 183.3l6.8 0-11.7-10.3-6.8 0z" fill="#5b8ffe"/><path d="M525.9 171.8l13.5-4.7-11.5-10.3-13.5 4.7z" fill="#7fbff4"/><path d="M470.4 166.2l6.8-1.4-11.7-9.8-6.8 1.6z" fill="#68baef"/><path d="M477 156.6l6.8 1-11.7-11-6.8-1z" fill="#43bbe3"/><circle class="m" cx="458.9" cy="158.9" r="2.4" fill="#EDB120"/><path d="M455.2 146.6l4-.8-11.7-9.6-4.1.8z" fill="#49cdd7"/><path d="M512.8 188.2l13.5-4.4-11.6-9.7-13.5 4.5z" fill="#85a6ff"/><path d="M462.5 177.4l4.1-2-11.8-8.4-4 1.8z" fill="#7fb5fa"/><path d="M451.2 153.1l4.1-3.7-11.8-10.2-4.1 3.8z" fill="#8ddcea"/><circle class="m" cx="552.3" cy="157.2" r="2.4" fill="#EDB120"/><path d="M455.2 146l4-1.3-11.7-9.6-4.1 1.3z" fill="#5fd4d9"/><path d="M477 155.6l6.8.2-11.7-10.3-6.8.1z" fill="#41bce1"/><path d="M495 173.4l6.8-1.1-11.8-10.3-6.7 1.3z" fill="#6db1f5"/><path d="M472.3 124.8l6.8-7.3-11.6-11-6.9 7.6z" fill="#b9e9c3"/><path d="M439.2 168.9l2.8-4.2-11.8-9.6-2.7 4.4z" fill="#a5d5f6"/><path d="M444.6 159.8l2.7-1.1-11.7-9.2-2.8 1.1z" fill="#74caec"/><path d="M525.9 170.7l13.5-6.9-11.5-9.9-13.5 6.8z" fill="#87c7f2"/><path d="M488.3 180.7l6.8-1.1-11.7-9.2-6.8 1.5z" fill="#639ffc"/><path d="M441.9 162.7l2.7.2-11.7-9.9-2.7 0z" fill="#49b3e9"/><path d="M441.9 164.8l2.8-4.2-11.8-9.7-2.8 4.3z" fill="#a3d9f4"/><path d="M447.2 156.6l4.1-3.7-11.7-10-4.1 3.9z" fill="#91daed"/><circle class="m" cx="458.9" cy="156.7" r="2.4" fill="#7E2F8E"/><path d="M427.9 140.6l2.8-.7-11.8-9.9-2.7.5z" fill="#64d4cc"/><path d="M466.5 171.5l4-2.5-11.7-10.4-4.1 2.6z" fill="#90c9f5"/><path d="M465.7 132l6.8-7.4-11.7-10.7-6.8 7.6z" fill="#abe8cd"/><path d="M444.6 160.7l2.8-4.2-11.8-9.9-2.8 4.4z" fill="#a1dcf2"/><path d="M427.9 139.8l2.8-.2-11.8-9.9-2.7 0z" fill="#4accc0"/><path d="M458.6 179.2l4-2-11.7-8.5-4.1 1.9z" fill="#80b5fb"/><circle class="m" cx="447.1" cy="170.7" r="2.4" fill="#0072BD"/><path d="M527.8 126.8l13.5-9.3-11.6-11.3-13.5 9.5z" fill="#b3e7bb"/><path d="M459 139.2l6.9-7.4-11.7-10.5-6.9 7.6z" fill="#a3e5d6"/><path d="M441.9 160.8l2.8-1.1-11.8-9.2-2.8 1.1z" fill="#74caec"/><path d="M494.9 171.4l6.9-4-11.7-10-6.9 3.9z" fill="#8cc9f4"/><path d="M451.2 147.2l4.1-.7-11.8-9.6-4 .7z" fill="#49ced3"/><path d="M462.5 172.8l4.1.2-11.8-10-4-.1z" fill="#51a6f1"/><path d="M503.3 118.2l13.5-10.5-11.6-11.3-13.5 10.6z" fill="#cee6aa"/><path d="M451.2 147.3l4.1-1.4-11.8-9.6-4.1 1.4z" fill="#60d4d8"/><path d="M462.5 173.9l4.1-2.6-11.8-10.2-4 2.6z" fill="#90c7f6"/><path d="M490.1 134.5l13.5-9.5-11.6-10.9-13.5 9.7z" fill="#a2e5c8"/><path d="M455.1 143.5l4.1-4.5-11.7-10.3-4.1 4.6z" fill="#9ce3dd"/><path d="M495 168.2l6.7.9-11.7-10.9-6.7-1z" fill="#4caeeb"/><path d="M439.3 162.5l2.7.2-11.8-9.7-2.7-.1z" fill="#47b6e7"/><path d="M466.5 166.8l4-.8-11.7-9.5-4.1.7z" fill="#60baec"/><path d="M451.2 147.9l4.1-4.6-11.8-10.2-4.1 4.7z" fill="#93e2e2"/><path d="M506.3 193.3l6.8.1-11.7-10.4-6.8 0z" fill="#6583fe"/><path d="M439.2 161.9l2.8-1.1-11.8-9.3-2.7 1.1z" fill="#74caec"/><path d="M455.9 180.5l2.8-1.4-11.8-8.6-2.8 1.4z" fill="#84b7fb"/><path d="M512.8 182.3l13.5-5.2-11.6-10.2-13.5 5.2z" fill="#84b9fa"/><path d="M447.2 152.2l4.1-4.5-11.7-10.1-4.1 4.6z" fill="#8fe0e6"/><path d="M495 165.7l6.7.4-11.7-10.5-6.7-.1z" fill="#49b3e8"/><path d="M458.5 176.3l4.1-2.6-11.7-10.1-4.1 2.6z" fill="#91c6f6"/><path d="M444.6 154l2.7-1.9-11.7-10-2.8 2.2z" fill="#81dae6"/><path d="M481.7 183.1l6.8 0-11.7-10.2-6.8 0z" fill="#5498fb"/><circle class="m" cx="447.1" cy="166.3" r="2.4" fill="#EDB120"/><path d="M488.3 174.4l6.8-1.2-11.7-10-6.8 1.4z" fill="#68b4f2"/><circle class="m" cx="478.8" cy="123.8" r="2.4" fill="#D95319"/><path d="M447.2 148.5l4.1-1.3-11.8-9.6-4 1.4z" fill="#61d4d7"/><path d="M453.2 181.9l2.8-1.4-11.8-8.6-2.7 1.4z" fill="#84b7fb"/><path d="M447.3 147.8l4-.7-11.8-9.6-4 .8z" fill="#4dcfd0"/><path d="M488.3 175.2l6.8-4-11.7-10.1-6.8 3.9z" fill="#8dc8f4"/><path d="M481.7 181.5l6.8-1-11.7-8.7-6.8 1.5z" fill="#5ca0f9"/><path d="M512.8 179.6l13.5-4.8-11.6-10.7-13.5 4.7z" fill="#84bef6"/><path d="M470.4 155.6l6.8.9-11.7-11-6.8-1.1z" fill="#35c2d9"/><path d="M441.9 155.7l2.8-1.8-11.8-9.7-2.8 2.1z" fill="#81d9e7"/><path d="M470.4 155.4l6.8.1-11.7-10-6.8 0z" fill="#35c2d9"/><path d="M483.6 142.1l6.9-7.8-11.7-10.8-6.9 7.5z" fill="#a5e6d7"/><path d="M458.6 172.5l4 .2-11.8-9.8-4-.1z" fill="#4eaaee"/><path d="M455.9 177.7l2.7-1.6-11.7-10.1-2.8 1.8z" fill="#90c5f7"/><path d="M462.5 167.4l4.1-.7-11.8-9.6-4 .7z" fill="#5fbceb"/><circle class="m" cx="439.1" cy="174.9" r="2.4" fill="#0072BD"/><path d="M506.3 188.6l6.8-.5-11.7-9.7-6.8 1z" fill="#6295fe"/><path d="M450.6 183.2l2.7-1.4-11.8-8.6-2.7 1.5z" fill="#84b6fb"/><path d="M477 149.7l6.8-7.8-11.7-11.1-6.8 7.5z" fill="#9de4df"/><path d="M439.2 157.5l2.8-1.9-11.8-9.3-2.7 2.1z" fill="#82d8e8"/><circle class="m" cx="447.1" cy="163" r="2.4" fill="#A2142F"/><path d="M490.1 128.4l13.5-10.5-11.6-11.2-13.5 10.7z" fill="#bce7b7"/><path d="M453.2 179.3l2.8-1.6-11.8-10-2.7 1.8z" fill="#8fc4f8"/><path d="M514.6 135.9l13.5-9.4-11.6-11.1-13.5 9.6z" fill="#a6e6c4"/><path d="M527.8 119l13.5-10.4-11.6-11.4-13.5 10.4z" fill="#d5e5a4"/><path d="M444.6 148.8l2.7-.4-11.7-9.5-2.8.2z" fill="#43cccc"/><path d="M512.8 177.2l13.5-6.8-11.6-10-13.5 6.8z" fill="#87c6f3"/><path d="M512.8 176.3l13.5-4.7-11.6-10.4-13.5 4.7z" fill="#7ec2f2"/><path d="M470.3 157.3l6.9-7.8-11.7-11.4-6.8 7.5z" fill="#93e1e7"/><path d="M444.6 148.6l2.7-.9-11.7-9.5-2.8.7z" fill="#60d4d3"/><circle class="m" cx="458.9" cy="145.7" r="2.4" fill="#D95319"/><circle class="m" cx="458.9" cy="145.7" r="2.4" fill="#77AC30"/><circle class="m" cx="439.1" cy="171.3" r="2.4" fill="#EDB120"/><path d="M466.4 160.9l4.1-3.8-11.7-11.7-4.1 3.7z" fill="#92ddeb"/><path d="M450.6 180.8l2.7-1.6-11.8-9.8-2.7 1.8z" fill="#8fc2f8"/><circle class="m" cx="458.9" cy="144.6" r="2.4" fill="#4DBEEE"/><path d="M481.7 179l6.8-4-11.7-10.2-6.8 3.9z" fill="#8ec7f5"/><path d="M455.9 172.7l2.7-.3-11.7-9.6-2.7-.2z" fill="#4caeeb"/><path d="M458.6 168l4-.7-11.7-9.6-4.1.7z" fill="#5dbeea"/><path d="M477.8 183.5l4.1-2.1-11.8-8.3-4.1 2z" fill="#81b7fa"/><circle class="m" cx="478.8" cy="117.4" r="2.4" fill="#0072BD"/><path d="M488.3 167.3l6.8.8-11.7-11-6.8-.9z" fill="#47b6e7"/><path d="M499.7 193.1l6.7.1-11.7-10.3-6.7 0z" fill="#5f8cff"/><path d="M477.8 182.7l4 .3-11.7-10.2-4-.2z" fill="#539ef7"/><path d="M441.9 149.4l2.8-.9-11.8-9.6-2.7.6z" fill="#64d5d2"/><path d="M441.9 149.2l2.7-.4-11.7-9.7-2.7.2z" fill="#4bceca"/><path d="M462.5 164.6l4.1-3.8-11.7-11.8-4.1 3.7z" fill="#97dcee"/><circle class="m" cx="447.1" cy="158.6" r="2.4" fill="#7E2F8E"/><path d="M483.6 136.1l6.9-8-11.7-11-6.9 7.4z" fill="#b3e9c9"/><path d="M481.7 175.4l6.8-1.2-11.7-9.8-6.8 1.4z" fill="#64b6ef"/><path d="M466.5 156.3l4-1.1-11.7-9.8-4.1.8z" fill="#53cfdb"/><circle class="m" cx="439.1" cy="168.7" r="2.4" fill="#D95319"/><path d="M466.5 156.7l4-1.2-11.7-11.2-4.1 1.3z" fill="#68d5df"/><path d="M488.4 165.3l6.7.3-11.7-10.2-6.8-.2z" fill="#44bae4"/><circle class="m" cx="512.8" cy="193.2" r="2.4" fill="#A2142F"/><path d="M506.3 183l6.8-.9-11.7-10.3-6.8 1.2z" fill="#69acf7"/><path d="M458.5 168.3l4.1-3.8-11.7-12-4.1 3.7z" fill="#9adaf0"/><path d="M477 143.8l6.8-7.9-11.7-11.6-6.8 7.3z" fill="#aae7d4"/><path d="M450.5 177.7l2.8-3.3-11.7-10.1-2.8 4.3z" fill="#a2d3f6"/><path d="M453.2 174.5l2.8-3.2-11.8-11.1-2.8 4.3z" fill="#a3d7f4"/><path d="M453.2 173l2.8-.3-11.8-10.2-2.7-.1z" fill="#4eb2ea"/><path d="M455.9 171.4l2.7-3.3-11.7-12-2.8 4.2z" fill="#a3daf3"/><circle class="m" cx="447.1" cy="156.4" r="2.4" fill="#D95319"/><path d="M473.8 185.5l4.1-2.1-11.8-8.4-4 2z" fill="#82b7fa"/><path d="M477.8 181.3l4.1-2.4-11.8-10.3-4.1 2.5z" fill="#91c6f6"/><path d="M455.9 169.1l2.7-1.2-11.7-9.5-2.8 1z" fill="#79caed"/><path d="M439.2 150.2l2.8-.9-11.8-9.8-2.7.7z" fill="#68d5d1"/><path d="M470.3 151.6l6.9-8-11.7-12.2-6.8 7.4z" fill="#a4e5dd"/><path d="M539.1 137.6l13.5-9.2-11.6-11.3-13.5 9.4z" fill="#aae6c1"/><path d="M439.2 149.5l2.8-.4-11.8-9.9-2.7.2z" fill="#52cfc8"/><path d="M499.7 189l6.7-.6-11.7-9.1-6.8 1z" fill="#5798fc"/><path d="M514.6 129l13.5-10.3-11.6-11.3-13.5 10.5z" fill="#c4e7b0"/><circle class="m" cx="458.9" cy="138.9" r="2.4" fill="#0072BD"/><path d="M466.4 155.1l4.1-3.7-11.7-12.8-4.1 4.5z" fill="#97e3e2"/><path d="M506.3 181.1l6.8-4.1-11.7-10-6.8 4z" fill="#8ec7f5"/><path d="M501.5 145l13.4-9.4-11.5-10.9-13.5 9.5z" fill="#9de4cd"/><path d="M462.5 157.9l4.1-1.3-11.8-11.1-4 1.4z" fill="#68d5de"/><path d="M506.3 178.8l6.8.7-11.7-10.9-6.8-.8z" fill="#4ea9ef"/><path d="M462.5 157.3l4.1-1.1-11.8-10.1-4 .7z" fill="#57d1da"/><path d="M453.2 170.2l2.8-1.2-11.8-9.6-2.7 1.1z" fill="#79caed"/><path d="M473.9 182.2l4 .4-11.8-10-4-.2z" fill="#52a4f3"/><path d="M473.8 183.6l4.1-2.4-11.7-10.2-4.1 2.5z" fill="#91c5f7"/><path d="M462.5 158.6l4.1-3.6-11.7-12-4.1 4.5z" fill="#90e1e5"/><path d="M469.9 187.6l4-2.2-11.7-8.5-4.1 2z" fill="#83b8fa"/><path d="M450.6 173.2l2.7-.3-11.8-10.6-2.7-.2z" fill="#52b7ea"/><circle class="m" cx="512.8" cy="187.9" r="2.4" fill="#0072BD"/><path d="M477.8 176l4-.8-11.7-9.5-4.1.7z" fill="#61b8ed"/><circle class="m" cx="447.1" cy="152" r="2.4" fill="#0072BD"/><path d="M458.5 162.2l4.1-3.7-11.7-11.2-4.1 4.6z" fill="#8fdfe8"/><circle class="m" cx="439.1" cy="162.3" r="2.4" fill="#A2142F"/><path d="M450.6 171.3l2.7-1.2-11.8-9.7-2.7 1.1z" fill="#79cbed"/><circle class="m" cx="439.1" cy="161.6" r="2.4" fill="#7E2F8E"/><path d="M506.3 175.6l6.8.6-11.8-10.5-6.7-.4z" fill="#4bb0ea"/><path d="M469.9 186l4-2.5-11.7-10.2-4.1 2.6z" fill="#91c4f8"/><path d="M493 192.9l6.8.1-11.7-10.3-6.8 0z" fill="#5694fc"/><path d="M467.2 188.8l2.8-1.3-11.8-8.7-2.8 1.4z" fill="#82b7fb"/><path d="M455.9 163.4l2.7-1.3-11.7-10.4-2.8 1.9z" fill="#7bd7e6"/><path d="M458.5 159l4.1-1.2-11.7-11-4.1 1.3z" fill="#67d6dc"/><path d="M499.7 183.8l6.7-.9-11.7-10.1-6.8 1.2z" fill="#65aff3"/><path d="M481.7 166.3l6.8.9-11.7-11.1-6.8-.9z" fill="#3ebedf"/><path d="M494.9 152.8l6.9-8.1-11.7-10.8-6.9 7.9z" fill="#a3e5db"/><path d="M458.6 158.3l4-1.1-11.7-10.5-4.1.7z" fill="#5bd3d8"/><path d="M499.6 185l6.9-4.1-11.7-10.1-6.9 4z" fill="#8fc6f6"/><path d="M481.7 164.8l6.8.3-11.7-10-6.8-.1z" fill="#3ac0dc"/><path d="M488.3 160.7l6.8-8.1-11.6-11.1-6.9 7.9z" fill="#96e3e3"/><circle class="m" cx="447.1" cy="148.2" r="2.4" fill="#4DBEEE"/><path d="M467.2 187.3l2.8-1.4-11.8-10.1-2.7 1.6z" fill="#8dc1f8"/><path d="M453.2 164.6l2.8-1.3-11.8-9.8-2.7 1.8z" fill="#79d6e6"/><path d="M464.6 190l2.7-1.3-11.8-8.6-2.7 1.4z" fill="#82b6fb"/><path d="M469.9 181.8l4 .3-11.7-9.8-4.1-.2z" fill="#4fa9ef"/><circle class="m" cx="447.1" cy="147.6" r="2.4" fill="#77AC30"/><path d="M473.8 176.6l4.1-.7-11.8-9.6-4 .7z" fill="#60baec"/><path d="M501.5 139l13.4-10.3-11.5-11.1-13.5 10.5z" fill="#b3e7bd"/><path d="M539.1 130l13.5-10.2-11.6-11.5-13.5 10.4z" fill="#cce6ab"/><path d="M493 189.4l6.8-.6-11.7-8.7-6.8 1z" fill="#539cf9"/><path d="M481.7 168.6l6.8-8.1-11.7-11.4-6.8 7.9z" fill="#97e0eb"/><path d="M525.9 146.5l13.5-9.2-11.6-11.1-13.5 9.4z" fill="#a0e5ca"/><circle class="m" cx="439.1" cy="157.2" r="2.4" fill="#0072BD"/><circle class="m" cx="512.8" cy="182" r="2.4" fill="#7E2F8E"/><path d="M455.9 159.3l2.7-.4-11.7-10.9-2.7.4z" fill="#54d1d6"/><path d="M450.6 165.8l2.7-1.3-11.8-9.2-2.7 1.8z" fill="#77d4e6"/><path d="M464.5 188.6l2.8-1.4-11.8-9.9-2.7 1.6z" fill="#8cc0f8"/><path d="M477.8 172.4l4.1-3.9-11.8-11.8-4.1 3.8z" fill="#99dbef"/><path d="M461.9 191.3l2.7-1.4-11.8-8.5-2.7 1.4z" fill="#81b6fb"/><path d="M455.9 158.8l2.7-.5-11.7-11-2.8.9z" fill="#62d5d7"/><circle class="m" cx="552.3" cy="128.4" r="2.4" fill="#D95319"/><path d="M473.8 176.1l4.1-3.9-11.7-11.8-4.1 3.8z" fill="#9bd9f1"/><path d="M493 189l6.8-4.1-11.7-10.3-6.8 4.1z" fill="#90c5f7"/><path d="M499.7 177.9l6.7.7-11.7-10.9-6.7-.9z" fill="#4ab2e9"/><path d="M461.9 190l2.7-1.5-11.7-9.7-2.8 1.6z" fill="#8bbff9"/><circle class="m" cx="512.8" cy="179.3" r="2.4" fill="#4DBEEE"/><path d="M467.2 182.5l2.8-.8-11.8-9.7-2.7.3z" fill="#67b8f0"/><path d="M494.9 147.3l6.9-8.5-11.7-11-6.9 8z" fill="#aee9d0"/><path d="M489.1 192.3l4 .5-11.7-10.2-4-.3z" fill="#539bf9"/><path d="M469.9 177.2l4-.7-11.7-9.6-4.1.7z" fill="#5ebdeb"/><path d="M453.2 159.7l2.8-.4-11.8-10.9-2.7.4z" fill="#57d1d4"/><path d="M469.8 179.9l4.1-3.9-11.7-11.9-4.1 3.8z" fill="#9dd7f3"/><path d="M488.3 155.7l6.8-8.6-11.6-11.6-6.9 8z" fill="#a7e6db"/><path d="M453.2 159.3l2.8-.6-11.8-10.6-2.7.9z" fill="#61d4d5"/><path d="M477.8 167.4l4-1.2-11.7-11.1-4 1.2z" fill="#6bd2e3"/><path d="M481.7 164l6.8-8.6-11.7-12.1-6.8 7.9z" fill="#9be4e4"/><path d="M477.8 166.1l4-1.4-11.7-9.8-4.1 1z" fill="#62d1e0"/><path d="M493 184.6l6.8-1-11.7-9.8-6.8 1.2z" fill="#60b3f0"/><path d="M489.1 191.5l4.1-2.3-11.8-8.2-4.1 2.2z" fill="#84baf9"/><path d="M467.2 182.1l2.8-2.3-11.8-12.1-2.7 3.3z" fill="#9fd5f4"/><path d="M499.7 174.9l6.7.6-11.7-10.3-6.7-.4z" fill="#46b8e6"/><circle class="m" cx="512.8" cy="176.9" r="2.4" fill="#EDB120"/><path d="M464.5 184.2l2.8-2.2-11.7-11.1-2.8 3.3z" fill="#9dd2f5"/><path d="M464.5 183.2l2.8-.8-11.8-10.1-2.7.3z" fill="#6bbbef"/><path d="M477.8 166.7l4-2.8-11.7-12.9-4.1 3.7z" fill="#8cdfe6"/><circle class="m" cx="512.8" cy="176" r="2.4" fill="#77AC30"/><path d="M489.1 191.2l4.1-2.4-11.8-10.3-4 2.4z" fill="#90c3f8"/><path d="M461.9 186.4l2.7-2.3-11.7-10.1-2.8 3.3z" fill="#9bcff6"/><path d="M525.9 139.8l13.5-10.1-11.6-11.3-13.5 10.3z" fill="#bbe7b7"/><path d="M450.6 159.8l2.7-.6-11.8-10.3-2.7.9z" fill="#60d4d3"/><path d="M450.6 160.1l2.7-.5-11.8-10.9-2.7.4z" fill="#5ad2d1"/><path d="M467.2 178.4l2.8-1.3-11.8-9.6-2.7 1.2z" fill="#7ccaee"/><circle class="m" cx="439.1" cy="150" r="2.4" fill="#77AC30"/><circle class="m" cx="439.1" cy="149.3" r="2.4" fill="#4DBEEE"/><path d="M512.8 155.4l13.5-9.2-11.6-10.9-13.5 9.4z" fill="#99e3d1"/><path d="M485.2 193.7l4-2.3-11.8-8.4-4 2.2z" fill="#85bafa"/><path d="M473.8 168.4l4.1-1.1-11.8-11.1-4 1.2z" fill="#69d3e2"/><path d="M473.8 169.4l4.1-2.8-11.7-12-4.1 3.6z" fill="#8bdde8"/><path d="M473.8 167.5l4.1-1.5-11.8-10.2-4 1.1z" fill="#64d2df"/><path d="M461.9 183.9l2.7-.8-11.7-10.6-2.8.3z" fill="#6ebeef"/><path d="M485.1 193.4l4.1-2.3-11.7-10.3-4.1 2.5z" fill="#90c2f9"/><path d="M485.2 191.6l4 .6-11.8-10-4-.4z" fill="#53a1f5"/><path d="M464.5 179.5l2.8-1.2-11.8-9.7-2.7 1.2z" fill="#7ccaee"/><circle class="m" cx="552.3" cy="119.8" r="2.4" fill="#0072BD"/><path d="M469.9 172.1l4-2.8-11.7-11.2-4.1 3.7z" fill="#8bdbea"/><path d="M489.1 185.1l4.1-.7-11.8-9.6-4 .8z" fill="#61b7ee"/><path d="M481.2 195.9l4.1-2.3-11.8-8.5-4.1 2.1z" fill="#86bafa"/><path d="M461.9 180.7l2.7-1.2-11.8-9.8-2.7 1.2z" fill="#7dcaee"/><path d="M481.2 195.7l4-2.4-11.7-10.2-4.1 2.5z" fill="#90c1f9"/><path d="M493 177.1l6.8.7-11.7-11.1-6.8-.8z" fill="#44bae4"/><path d="M469.9 169.5l4-1.1-11.7-11-4.1 1.2z" fill="#67d3e0"/><path d="M506.2 163.6l6.9-8.4-11.7-10.8-6.8 8.1z" fill="#9fe4df"/><path d="M467.2 172.7l2.8-.7-11.8-10.3-2.7 1.3z" fill="#6fd1e6"/><path d="M469.9 168.9l4-1.5-11.7-10.6-4.1 1.1z" fill="#65d4df"/><path d="M499.6 171.8l6.9-8.5-11.7-11-6.9 8.1z" fill="#94e1e7"/><path d="M478.5 197l2.8-1.2-11.8-8.7-2.7 1.3z" fill="#80b6fa"/><path d="M493 179.9l6.8-8.4-11.7-11.3-6.8 8.1z" fill="#9ddeef"/><path d="M512.8 149.7l13.5-10.2-11.6-11.1-13.5 10.3z" fill="#abe7c3"/><path d="M493 174.2l6.8.6-11.7-10.1-6.8-.3z" fill="#3ebedf"/><path d="M478.5 196.8l2.8-1.2-11.8-10.1-2.7 1.4z" fill="#89bdf9"/><path d="M481.2 191l4 .6-11.7-9.9-4-.3z" fill="#50a7f1"/><path d="M489.1 183.8l4.1-4-11.7-11.7-4.1 3.9z" fill="#9cd8f2"/><path d="M464.6 173.4l2.7-.7-11.8-9.8-2.7 1.3z" fill="#6acfe4"/><path d="M485.2 185.8l4-.7-11.8-9.6-4 .7z" fill="#60b9ed"/><path d="M467.2 169.9l2.7-.5-11.7-10.9-2.7.4z" fill="#52cfdb"/><circle class="m" cx="492.9" cy="192.6" r="2.4" fill="#A2142F"/><path d="M475.9 198.2l2.7-1.3-11.8-8.6-2.7 1.4z" fill="#7fb6fa"/><path d="M467.2 169l2.7-.2-11.7-10.9-2.7.5z" fill="#4eced8"/><path d="M485.1 187.6l4.1-4-11.7-11.8-4.1 3.9z" fill="#9ed6f3"/><path d="M475.9 198l2.7-1.3-11.8-9.9-2.7 1.4z" fill="#88bcf9"/><path d="M461.9 174.1l2.7-.8-11.8-9.2-2.7 1.3z" fill="#64cee3"/><path d="M481.1 191.5l4.1-4-11.7-11.9-4.1 3.9z" fill="#a0d3f5"/><path d="M506.2 158.6l6.9-9.2-11.7-11-6.8 8.6z" fill="#abe8d6"/><path d="M499.6 167.5l6.9-9.2-11.7-11.5-6.9 8.5z" fill="#a2e5e0"/><path d="M493 176.4l6.8-9.1-11.7-12.2-6.8 8.5z" fill="#98e2ea"/><path d="M473.2 199.4l2.7-1.3-11.7-8.5-2.8 1.3z" fill="#7fb5fa"/><path d="M464.5 170.2l2.8-.4-11.8-10.9-2.7.4z" fill="#52cfd9"/><path d="M489.1 178l4.1-1-11.8-11.2-4 1.2z" fill="#70cfe7"/><path d="M478.5 192.2l2.8-1.3-11.8-9.6-2.7.8z" fill="#7bc0f3"/><path d="M473.2 199.1l2.7-1.2-11.7-9.8-2.8 1.5z" fill="#87bcfa"/><circle class="m" cx="492.9" cy="189.1" r="2.4" fill="#0072BD"/><path d="M478.5 192.7l2.8-1.3-11.8-12-2.7 2.2z" fill="#95ccf5"/><path d="M464.6 169.2l2.7-.3-11.8-10.6-2.7.6z" fill="#4bced5"/><circle class="m" cx="492.9" cy="188.7" r="2.4" fill="#EDB120"/><path d="M489.1 178.3l4.1-2-11.8-12.9-4 2.9z" fill="#8ad9eb"/><path d="M481.2 186.4l4-.7-11.7-9.6-4.1.7z" fill="#5fbbec"/><path d="M489.1 175.9l4.1-1.8-11.8-9.8-4 1.4z" fill="#6ed3e4"/><path d="M475.9 193.9l2.7-1.3-11.7-11-2.8 2.3z" fill="#92caf5"/><path d="M475.9 193.4l2.7-1.3-11.8-10.1-2.7.8z" fill="#7ec1f3"/><path d="M461.9 170.6l2.7-.4-11.7-11-2.8.4z" fill="#53d0d7"/><path d="M485.1 180.1l4.1-1.9-11.7-12-4.1 2.8z" fill="#89d8eb"/><path d="M461.9 169.3l2.7-.2-11.8-10.3-2.7.6z" fill="#4aced2"/><path d="M485.1 179l4.1-1.1-11.7-11-4.1 1.1z" fill="#6dd0e6"/><path d="M473.2 195.2l2.7-1.3-11.7-10.1-2.8 2.3z" fill="#8ec7f5"/><path d="M478.5 187.6l2.8-1.3-11.8-9.6-2.7 1.3z" fill="#7fcaef"/><circle class="m" cx="492.9" cy="184.3" r="2.4" fill="#7E2F8E"/><path d="M473.2 194.5l2.7-1.2-11.7-10.6-2.8.8z" fill="#81c3f3"/><path d="M485.1 177.6l4.1-1.8-11.7-10.2-4.1 1.5z" fill="#70d4e4"/><path d="M481.2 182l4-2-11.7-11.1-4.1 2.8z" fill="#86d6eb"/><path d="M475.9 188.9l2.7-1.3-11.8-9.7-2.7 1.3z" fill="#7fcaef"/><circle class="m" cx="512.8" cy="155.1" r="2.4" fill="#D95319"/><path d="M481.2 180l4-1.1-11.7-11-4.1 1.2z" fill="#6ad0e4"/><path d="M481.2 179.4l4-1.9-11.7-10.5-4.1 1.4z" fill="#72d5e4"/><path d="M473.2 190.1l2.7-1.3-11.7-9.7-2.8 1.2z" fill="#80caef"/><circle class="m" cx="481" cy="195.6" r="2.4" fill="#0072BD"/><circle class="m" cx="492.9" cy="179.7" r="2.4" fill="#D95319"/><circle class="m" cx="481" cy="195.4" r="2.4" fill="#EDB120"/><path d="M478.5 182.1l2.8-.2-11.8-10.3-2.7.7z" fill="#59c7e4"/><path d="M478.5 180.4l2.8-.4-11.8-11-2.7.4z" fill="#57cce0"/><circle class="m" cx="492.9" cy="176.8" r="2.4" fill="#4DBEEE"/><path d="M478.5 179.2l2.8.1-11.8-10.9-2.7.2z" fill="#3bc6d8"/><path d="M475.9 182.3l2.7-.2-11.8-9.8-2.7.7z" fill="#51c6e1"/><circle class="m" cx="492.9" cy="176.1" r="2.4" fill="#0072BD"/><circle class="m" cx="512.8" cy="149.4" r="2.4" fill="#0072BD"/><circle class="m" cx="481" cy="191.2" r="2.4" fill="#D95319"/><circle class="m" cx="481" cy="190.8" r="2.4" fill="#A2142F"/><path d="M475.9 180.7l2.7-.4-11.8-10.9-2.7.4z" fill="#55cdde"/><circle class="m" cx="492.9" cy="173.9" r="2.4" fill="#77AC30"/><path d="M473.2 182.4l2.7-.2-11.7-9.2-2.8.7z" fill="#47c5de"/><path d="M475.9 179l2.7.1-11.8-10.6-2.7.3z" fill="#33c6d4"/><circle class="m" cx="473" cy="199.1" r="2.4" fill="#0072BD"/><circle class="m" cx="473" cy="198.9" r="2.4" fill="#EDB120"/><path d="M473.2 181.1l2.7-.4-11.7-11-2.8.5z" fill="#53cedc"/><circle class="m" cx="481" cy="186.2" r="2.4" fill="#7E2F8E"/><path d="M473.2 178.9l2.7.1-11.7-10.3-2.8.2z" fill="#2fc6d0"/><circle class="m" cx="473" cy="194.9" r="2.4" fill="#D95319"/><circle class="m" cx="473" cy="194.3" r="2.4" fill="#A2142F"/><circle class="m" cx="481" cy="181.8" r="2.4" fill="#0072BD"/><circle class="m" cx="481" cy="179.8" r="2.4" fill="#4DBEEE"/><circle class="m" cx="473" cy="189.9" r="2.4" fill="#7E2F8E"/><circle class="m" cx="481" cy="179.1" r="2.4" fill="#77AC30"/><circle class="m" cx="473" cy="182.2" r="2.4" fill="#0072BD"/><circle class="m" cx="473" cy="180.9" r="2.4" fill="#4DBEEE"/><circle class="m" cx="473" cy="178.7" r="2.4" fill="#77AC30"/><line x1="463.2" y1="234.9" x2="552.3" y2="196" stroke="#6a6a6a" stroke-width="0.6"/><line x1="463.2" y1="234.9" x2="395.3" y2="183.7" stroke="#6a6a6a" stroke-width="0.6"/><line x1="395.3" y1="183.7" x2="395.3" y2="73.6" stroke="#6a6a6a" stroke-width="0.6"/><line x1="463.2" y1="234.9" x2="465.3" y2="236.5" stroke="#6a6a6a" stroke-width="0.6"/><line x1="492.9" y1="221.9" x2="495" y2="223.5" stroke="#6a6a6a" stroke-width="0.6"/><line x1="522.6" y1="209" x2="524.7" y2="210.5" stroke="#6a6a6a" stroke-width="0.6"/><line x1="552.3" y1="196" x2="554.4" y2="197.6" stroke="#6a6a6a" stroke-width="0.6"/><line x1="463.2" y1="234.9" x2="460.8" y2="235.9" stroke="#6a6a6a" stroke-width="0.6"/><line x1="446.2" y1="222.1" x2="443.8" y2="223.1" stroke="#6a6a6a" stroke-width="0.6"/><line x1="429.2" y1="209.3" x2="426.9" y2="210.3" stroke="#6a6a6a" stroke-width="0.6"/><line x1="412.3" y1="196.5" x2="409.9" y2="197.5" stroke="#6a6a6a" stroke-width="0.6"/><line x1="395.3" y1="183.7" x2="392.9" y2="184.7" stroke="#6a6a6a" stroke-width="0.6"/><line x1="395.3" y1="183.7" x2="392.9" y2="184.7" stroke="#6a6a6a" stroke-width="0.6"/><line x1="395.3" y1="161.7" x2="392.9" y2="162.7" stroke="#6a6a6a" stroke-width="0.6"/><line x1="395.3" y1="139.7" x2="392.9" y2="140.7" stroke="#6a6a6a" stroke-width="0.6"/><line x1="395.3" y1="117.6" x2="392.9" y2="118.7" stroke="#6a6a6a" stroke-width="0.6"/><line x1="395.3" y1="95.6" x2="392.9" y2="96.7" stroke="#6a6a6a" stroke-width="0.6"/><line x1="395.3" y1="73.6" x2="392.9" y2="74.6" stroke="#6a6a6a" stroke-width="0.6"/></g></defs>
<rect width="685" height="778" fill="#fff"/>
<rect x="2.5" y="2.5" width="338" height="254" fill="none" stroke="#1a1a1a" stroke-width="1"/>
<rect x="345" y="2.5" width="337.5" height="254" fill="none" stroke="#1a1a1a" stroke-width="1"/>
<rect x="2.5" y="261.5" width="338" height="255" fill="none" stroke="#1a1a1a" stroke-width="1"/>
<rect x="345" y="261.5" width="337.5" height="255" fill="none" stroke="#1a1a1a" stroke-width="1"/>
<rect x="2.5" y="520.5" width="338" height="255" fill="none" stroke="#1a1a1a" stroke-width="1"/>
<rect x="345" y="520.5" width="337.5" height="255" fill="none" stroke="#1a1a1a" stroke-width="1"/>
<rect x="344" y="2" width="1.6" height="255" fill="#5a5a5a"/>
<rect x="344" y="261" width="1.6" height="256" fill="#5a5a5a"/>
<rect x="344" y="520" width="1.6" height="256" fill="#5a5a5a"/>
<rect x="2" y="261" width="339" height="1.6" fill="#5a5a5a"/>
<rect x="344" y="261" width="339" height="1.6" fill="#5a5a5a"/>
<rect x="2" y="520" width="339" height="1.6" fill="#5a5a5a"/>
<rect x="344" y="520" width="339" height="1.6" fill="#5a5a5a"/>
<text x="33.4" y="33.9" font-size="18.5" font-weight="bold" fill="#000" font-family="Liberation Serif">A</text>
<text x="125.2" y="32.8" font-size="7.6" text-anchor="middle" font-weight="bold" fill="#111">Separation  time9'</text>
<text x="127.6" y="148.3" font-size="7.6" text-anchor="middle" font-weight="bold" fill="#111">Separation time  9'</text>
<use href="#lt" y="0"/>
<use href="#lb" y="0"/>
<text x="64.7" y="54.1" font-size="7" text-anchor="end">50</text>
<text x="64.7" y="99.7" font-size="7" text-anchor="end">0</text>
<text x="62.5" y="106.4" font-size="7" text-anchor="middle">3</text>
<text x="78.5" y="113" font-size="7" text-anchor="middle">2</text>
<text x="95.7" y="120.2" font-size="7" text-anchor="middle">1</text>
<text x="111.9" y="126.9" font-size="7" text-anchor="middle">0</text>
<text x="153.5" y="120" font-size="7" text-anchor="middle">8</text>
<text x="187.5" y="111.9" font-size="7" text-anchor="middle">10</text>
<text x="34.9" y="132.2" font-size="7.6">Ampholyte Ratio</text>
<text x="152" y="133.5" font-size="7.6">pH</text>
<text x="52.8" y="75.3" font-size="7.6" text-anchor="middle" transform="rotate(-90 52.8 75.3)">Resolution (pixels)</text>
<text x="64.7" y="169.2" font-size="7" text-anchor="end">50</text>
<text x="64.7" y="214.4" font-size="7" text-anchor="end">0</text>
<text x="62.2" y="221.8" font-size="7" text-anchor="middle">8</text>
<text x="88.3" y="232.2" font-size="7" text-anchor="middle">6</text>
<text x="113.6" y="242.8" font-size="7" text-anchor="middle">4</text>
<text x="156.6" y="235.3" font-size="7" text-anchor="middle">8</text>
<text x="191.5" y="227.3" font-size="7" text-anchor="middle">10</text>
<text x="28.7" y="247.7" font-size="7.6">Total Ampholyte %</text>
<text x="154.5" y="249.2" font-size="7.6">pH</text>
<text x="52.8" y="190.3" font-size="7.6" text-anchor="middle" transform="rotate(-90 52.8 190.3)">Resolution (pixels)</text>
<circle cx="217.5" cy="40.5" r="2.5" fill="#0072BD" stroke="#1a1a1a" stroke-width="0.5"/>
<text x="231.1" y="43.3" font-size="6.35">Tot. Ampholyte 4%</text>
<circle cx="217.5" cy="48.9" r="2.5" fill="#D95319" stroke="#1a1a1a" stroke-width="0.5"/>
<text x="231.1" y="51.7" font-size="6.35">Tot. Ampholyte 6%</text>
<circle cx="217.5" cy="57.3" r="2.5" fill="#EDB120" stroke="#1a1a1a" stroke-width="0.5"/>
<text x="231.1" y="60.1" font-size="6.35">Tot. Ampholyte 8%</text>
<circle cx="222.1" cy="156" r="2.4" fill="#0072BD" stroke="#1a1a1a" stroke-width="0.5"/>
<text x="235.4" y="158.8" font-size="6.3">Amph. Ratio 0.33</text>
<circle cx="222.1" cy="164.4" r="2.4" fill="#D95319" stroke="#1a1a1a" stroke-width="0.5"/>
<text x="235.4" y="167.2" font-size="6.3">Amph. Ratio 0.6</text>
<circle cx="222.1" cy="172.8" r="2.4" fill="#EDB120" stroke="#1a1a1a" stroke-width="0.5"/>
<text x="235.4" y="175.6" font-size="6.3">Amph. Ratio 1</text>
<circle cx="222.1" cy="181.2" r="2.4" fill="#7E2F8E" stroke="#1a1a1a" stroke-width="0.5"/>
<text x="235.4" y="184" font-size="6.3">Amph. Ratio 1.67</text>
<circle cx="222.1" cy="189.6" r="2.4" fill="#77AC30" stroke="#1a1a1a" stroke-width="0.5"/>
<text x="235.4" y="192.4" font-size="6.3">Amph. Ratio 3</text>
<rect x="293.3" y="36.2" width="10.9" height="81.8" fill="url(#pg)" stroke="#555" stroke-width="0.6"/>
<text x="307.3" y="39.1" font-size="7">50</text>
<text x="307.3" y="55.4" font-size="7">40</text>
<text x="307.3" y="71.8" font-size="7">30</text>
<text x="307.3" y="88.1" font-size="7">20</text>
<text x="307.3" y="104.5" font-size="7">10</text>
<text x="307.3" y="120.9" font-size="7">0</text>
<rect x="293.3" y="151.2" width="11.3" height="82.6" fill="url(#pg)" stroke="#555" stroke-width="0.6"/>
<text x="307.8" y="154" font-size="7">50</text>
<text x="307.8" y="170.6" font-size="7">40</text>
<text x="307.8" y="187.1" font-size="7">30</text>
<text x="307.8" y="203.6" font-size="7">20</text>
<text x="307.8" y="220.1" font-size="7">10</text>
<text x="307.8" y="236.7" font-size="7">0</text>
<text x="33.4" y="286.8" font-size="18.5" font-weight="bold" fill="#000" font-family="Liberation Serif">C</text>
<text x="125.2" y="283.8" font-size="7.6" text-anchor="middle" font-weight="bold" fill="#111">Separation  time10.5'</text>
<text x="127.6" y="399.3" font-size="7.6" text-anchor="middle" font-weight="bold" fill="#111">Separation time  10.5'</text>
<use href="#lt" y="251"/>
<use href="#lb2" y="251"/>
<text x="64.7" y="305.1" font-size="7" text-anchor="end">50</text>
<text x="64.7" y="350.6" font-size="7" text-anchor="end">0</text>
<text x="62.5" y="357.3" font-size="7" text-anchor="middle">3</text>
<text x="78.5" y="364.1" font-size="7" text-anchor="middle">2</text>
<text x="95.7" y="371.2" font-size="7" text-anchor="middle">1</text>
<text x="111.9" y="377.8" font-size="7" text-anchor="middle">0</text>
<text x="153.5" y="370.9" font-size="7" text-anchor="middle">8</text>
<text x="187.5" y="362.8" font-size="7" text-anchor="middle">10</text>
<text x="34.9" y="383.2" font-size="7.6">Ampholyte Ratio</text>
<text x="152" y="384.5" font-size="7.6">pH</text>
<text x="52.8" y="326.3" font-size="7.6" text-anchor="middle" transform="rotate(-90 52.8 326.3)">Resolution (pixels)</text>
<text x="64.7" y="420.2" font-size="7" text-anchor="end">50</text>
<text x="64.7" y="465.4" font-size="7" text-anchor="end">0</text>
<text x="62.2" y="472.8" font-size="7" text-anchor="middle">8</text>
<text x="88.3" y="483.2" font-size="7" text-anchor="middle">6</text>
<text x="113.6" y="493.8" font-size="7" text-anchor="middle">4</text>
<text x="156.6" y="486.3" font-size="7" text-anchor="middle">8</text>
<text x="191.5" y="478.3" font-size="7" text-anchor="middle">10</text>
<text x="28.7" y="498.7" font-size="7.6">Total Ampholyte %</text>
<text x="154.5" y="500.2" font-size="7.6">pH</text>
<text x="52.8" y="441.3" font-size="7.6" text-anchor="middle" transform="rotate(-90 52.8 441.3)">Resolution (pixels)</text>
<circle cx="217.5" cy="291.5" r="2.5" fill="#0072BD" stroke="#1a1a1a" stroke-width="0.5"/>
<text x="231.1" y="294.3" font-size="6.35">Tot. Ampholyte 4%</text>
<circle cx="217.5" cy="299.9" r="2.5" fill="#D95319" stroke="#1a1a1a" stroke-width="0.5"/>
<text x="231.1" y="302.7" font-size="6.35">Tot. Ampholyte 6%</text>
<circle cx="217.5" cy="308.3" r="2.5" fill="#EDB120" stroke="#1a1a1a" stroke-width="0.5"/>
<text x="231.1" y="311.1" font-size="6.35">Tot. Ampholyte 8%</text>
<circle cx="222.1" cy="407" r="2.4" fill="#0072BD" stroke="#1a1a1a" stroke-width="0.5"/>
<text x="235.4" y="409.8" font-size="6.3">Amph. Ratio 0.33</text>
<circle cx="222.1" cy="415.4" r="2.4" fill="#D95319" stroke="#1a1a1a" stroke-width="0.5"/>
<text x="235.4" y="418.2" font-size="6.3">Amph. Ratio 0.6</text>
<circle cx="222.1" cy="423.8" r="2.4" fill="#EDB120" stroke="#1a1a1a" stroke-width="0.5"/>
<text x="235.4" y="426.6" font-size="6.3">Amph. Ratio 1</text>
<circle cx="222.1" cy="432.2" r="2.4" fill="#7E2F8E" stroke="#1a1a1a" stroke-width="0.5"/>
<text x="235.4" y="435" font-size="6.3">Amph. Ratio 1.67</text>
<circle cx="222.1" cy="440.6" r="2.4" fill="#77AC30" stroke="#1a1a1a" stroke-width="0.5"/>
<text x="235.4" y="443.4" font-size="6.3">Amph. Ratio 3</text>
<rect x="293.3" y="287.2" width="10.9" height="81.8" fill="url(#pg)" stroke="#555" stroke-width="0.6"/>
<text x="307.3" y="290" font-size="7">50</text>
<text x="307.3" y="306.4" font-size="7">40</text>
<text x="307.3" y="322.8" font-size="7">30</text>
<text x="307.3" y="339.1" font-size="7">20</text>
<text x="307.3" y="355.5" font-size="7">10</text>
<text x="307.3" y="371.8" font-size="7">0</text>
<rect x="293.3" y="402.2" width="11.3" height="82.6" fill="url(#pg)" stroke="#555" stroke-width="0.6"/>
<text x="307.8" y="405" font-size="7">50</text>
<text x="307.8" y="421.6" font-size="7">40</text>
<text x="307.8" y="438.1" font-size="7">30</text>
<text x="307.8" y="454.6" font-size="7">20</text>
<text x="307.8" y="471.1" font-size="7">10</text>
<text x="307.8" y="487.6" font-size="7">0</text>
<text x="33.4" y="539.9" font-size="18.5" font-weight="bold" fill="#000" font-family="Liberation Serif">E</text>
<text x="125.2" y="534.8" font-size="7.6" text-anchor="middle" font-weight="bold" fill="#111">Separation  time12'</text>
<text x="127.6" y="650.3" font-size="7.6" text-anchor="middle" font-weight="bold" fill="#111">Separation time  12'</text>
<use href="#lt" y="502"/>
<use href="#lb2" y="502"/>
<text x="64.7" y="556.1" font-size="7" text-anchor="end">50</text>
<text x="64.7" y="601.7" font-size="7" text-anchor="end">0</text>
<text x="62.5" y="608.4" font-size="7" text-anchor="middle">3</text>
<text x="78.5" y="615.1" font-size="7" text-anchor="middle">2</text>
<text x="95.7" y="622.2" font-size="7" text-anchor="middle">1</text>
<text x="111.9" y="628.9" font-size="7" text-anchor="middle">0</text>
<text x="153.5" y="622" font-size="7" text-anchor="middle">8</text>
<text x="187.5" y="613.9" font-size="7" text-anchor="middle">10</text>
<text x="34.9" y="634.2" font-size="7.6">Ampholyte Ratio</text>
<text x="152" y="635.5" font-size="7.6">pH</text>
<text x="52.8" y="577.3" font-size="7.6" text-anchor="middle" transform="rotate(-90 52.8 577.3)">Resolution (pixels)</text>
<text x="64.7" y="671.2" font-size="7" text-anchor="end">50</text>
<text x="64.7" y="716.5" font-size="7" text-anchor="end">0</text>
<text x="62.2" y="723.9" font-size="7" text-anchor="middle">8</text>
<text x="88.3" y="734.2" font-size="7" text-anchor="middle">6</text>
<text x="113.6" y="744.8" font-size="7" text-anchor="middle">4</text>
<text x="156.6" y="737.4" font-size="7" text-anchor="middle">8</text>
<text x="191.5" y="729.4" font-size="7" text-anchor="middle">10</text>
<text x="28.7" y="749.7" font-size="7.6">Total Ampholyte %</text>
<text x="154.5" y="751.2" font-size="7.6">pH</text>
<text x="52.8" y="692.3" font-size="7.6" text-anchor="middle" transform="rotate(-90 52.8 692.3)">Resolution (pixels)</text>
<circle cx="217.5" cy="542.5" r="2.5" fill="#0072BD" stroke="#1a1a1a" stroke-width="0.5"/>
<text x="231.1" y="545.3" font-size="6.35">Tot. Ampholyte 4%</text>
<circle cx="217.5" cy="550.9" r="2.5" fill="#D95319" stroke="#1a1a1a" stroke-width="0.5"/>
<text x="231.1" y="553.7" font-size="6.35">Tot. Ampholyte 6%</text>
<circle cx="217.5" cy="559.3" r="2.5" fill="#EDB120" stroke="#1a1a1a" stroke-width="0.5"/>
<text x="231.1" y="562.1" font-size="6.35">Tot. Ampholyte 8%</text>
<circle cx="222.1" cy="658" r="2.4" fill="#0072BD" stroke="#1a1a1a" stroke-width="0.5"/>
<text x="235.4" y="660.8" font-size="6.3">Amph. Ratio 0.33</text>
<circle cx="222.1" cy="666.4" r="2.4" fill="#D95319" stroke="#1a1a1a" stroke-width="0.5"/>
<text x="235.4" y="669.2" font-size="6.3">Amph. Ratio 0.6</text>
<circle cx="222.1" cy="674.8" r="2.4" fill="#EDB120" stroke="#1a1a1a" stroke-width="0.5"/>
<text x="235.4" y="677.6" font-size="6.3">Amph. Ratio 1</text>
<circle cx="222.1" cy="683.2" r="2.4" fill="#7E2F8E" stroke="#1a1a1a" stroke-width="0.5"/>
<text x="235.4" y="686" font-size="6.3">Amph. Ratio 1.67</text>
<circle cx="222.1" cy="691.6" r="2.4" fill="#77AC30" stroke="#1a1a1a" stroke-width="0.5"/>
<text x="235.4" y="694.4" font-size="6.3">Amph. Ratio 3</text>
<rect x="293.3" y="538.2" width="10.9" height="81.8" fill="url(#pg)" stroke="#555" stroke-width="0.6"/>
<text x="307.3" y="541.1" font-size="7">50</text>
<text x="307.3" y="557.4" font-size="7">40</text>
<text x="307.3" y="573.8" font-size="7">30</text>
<text x="307.3" y="590.1" font-size="7">20</text>
<text x="307.3" y="606.5" font-size="7">10</text>
<text x="307.3" y="622.9" font-size="7">0</text>
<rect x="293.3" y="653.2" width="11.3" height="82.6" fill="url(#pg)" stroke="#555" stroke-width="0.6"/>
<text x="307.8" y="656.1" font-size="7">50</text>
<text x="307.8" y="672.6" font-size="7">40</text>
<text x="307.8" y="689.1" font-size="7">30</text>
<text x="307.8" y="705.6" font-size="7">20</text>
<text x="307.8" y="722.1" font-size="7">10</text>
<text x="307.8" y="738.6" font-size="7">0</text>
<text x="348.9" y="33.4" font-size="18.5" font-weight="bold" fill="#000" font-family="Liberation Serif">B</text>
<text x="473.8" y="31.7" font-size="8.44" text-anchor="middle" font-weight="bold" fill="#111">Separation time  9'</text>
<use href="#rp" y="0"/>
<text x="390.3" y="73.9" font-size="7.6" text-anchor="end">50</text>
<text x="390.3" y="95.9" font-size="7.6" text-anchor="end">40</text>
<text x="390.3" y="117.9" font-size="7.6" text-anchor="end">30</text>
<text x="390.3" y="140" font-size="7.6" text-anchor="end">20</text>
<text x="390.3" y="162" font-size="7.6" text-anchor="end">10</text>
<text x="390.3" y="184.1" font-size="7.6" text-anchor="end">0</text>
<text x="387" y="194.1" font-size="7.6" text-anchor="middle">8</text>
<text x="404.6" y="207" font-size="7.6" text-anchor="middle">7</text>
<text x="421.3" y="219.8" font-size="7.6" text-anchor="middle">6</text>
<text x="438.3" y="231.7" font-size="7.6" text-anchor="middle">5</text>
<text x="455.3" y="244.5" font-size="7.6" text-anchor="middle">4</text>
<text x="469.5" y="245.5" font-size="7.6" text-anchor="middle">0</text>
<text x="499.6" y="232.7" font-size="7.6" text-anchor="middle">1</text>
<text x="529.2" y="219.8" font-size="7.6" text-anchor="middle">2</text>
<text x="558.7" y="207" font-size="7.6" text-anchor="middle">3</text>
<text x="358" y="243.4" font-size="8.55">Total Ampholyte %</text>
<text x="501.9" y="246" font-size="8.5">Ampholyte Ratio</text>
<text x="375.5" y="128.7" font-size="8.5" text-anchor="middle" transform="rotate(-90 375.5 128.7)">Resolution (pixels)</text>
<circle cx="587.6" cy="40.9" r="2.5" fill="#0072BD" stroke="#1a1a1a" stroke-width="0.5"/>
<text x="601.2" y="43.9" font-size="6.9">pH 6.44</text>
<circle cx="587.6" cy="50.6" r="2.5" fill="#D95319" stroke="#1a1a1a" stroke-width="0.5"/>
<text x="601.2" y="53.6" font-size="6.9">pH 6.94</text>
<circle cx="587.6" cy="60.2" r="2.5" fill="#EDB120" stroke="#1a1a1a" stroke-width="0.5"/>
<text x="601.2" y="63.2" font-size="6.9">pH 7.44</text>
<circle cx="587.6" cy="69.9" r="2.5" fill="#7E2F8E" stroke="#1a1a1a" stroke-width="0.5"/>
<text x="601.2" y="72.9" font-size="6.9">pH 7.94</text>
<circle cx="587.6" cy="79.5" r="2.5" fill="#77AC30" stroke="#1a1a1a" stroke-width="0.5"/>
<text x="601.2" y="82.6" font-size="6.9">pH 8.44</text>
<circle cx="587.6" cy="89.2" r="2.5" fill="#4DBEEE" stroke="#1a1a1a" stroke-width="0.5"/>
<text x="601.2" y="92.2" font-size="6.9">pH 8.94</text>
<circle cx="587.6" cy="98.9" r="2.5" fill="#A2142F" stroke="#1a1a1a" stroke-width="0.5"/>
<text x="601.2" y="101.9" font-size="6.9">pH 9.44</text>
<circle cx="587.6" cy="108.5" r="2.5" fill="#0072BD" stroke="#1a1a1a" stroke-width="0.5"/>
<text x="601.2" y="111.5" font-size="6.9">pH 9.94</text>
<rect x="634.3" y="35.3" width="12.4" height="198.3" fill="url(#pg)" stroke="#555" stroke-width="0.6"/>
<text x="650" y="38.1" font-size="7">50</text>
<text x="650" y="58" font-size="7">45</text>
<text x="650" y="77.8" font-size="7">40</text>
<text x="650" y="97.6" font-size="7">35</text>
<text x="650" y="117.5" font-size="7">30</text>
<text x="650" y="137.3" font-size="7">25</text>
<text x="650" y="157.1" font-size="7">20</text>
<text x="650" y="177" font-size="7">15</text>
<text x="650" y="196.8" font-size="7">10</text>
<text x="650" y="216.6" font-size="7">5</text>
<text x="650" y="236.5" font-size="7">0</text>
<text x="348.9" y="286.4" font-size="18.5" font-weight="bold" fill="#000" font-family="Liberation Serif">D</text>
<text x="473.8" y="282.7" font-size="8.44" text-anchor="middle" font-weight="bold" fill="#111">Separation time  10.5'</text>
<use href="#rp" y="251"/>
<text x="390.3" y="324.9" font-size="7.6" text-anchor="end">50</text>
<text x="390.3" y="346.9" font-size="7.6" text-anchor="end">40</text>
<text x="390.3" y="368.9" font-size="7.6" text-anchor="end">30</text>
<text x="390.3" y="391" font-size="7.6" text-anchor="end">20</text>
<text x="390.3" y="413" font-size="7.6" text-anchor="end">10</text>
<text x="390.3" y="435.1" font-size="7.6" text-anchor="end">0</text>
<text x="387" y="445.1" font-size="7.6" text-anchor="middle">8</text>
<text x="404.6" y="458" font-size="7.6" text-anchor="middle">7</text>
<text x="421.3" y="470.8" font-size="7.6" text-anchor="middle">6</text>
<text x="438.3" y="482.7" font-size="7.6" text-anchor="middle">5</text>
<text x="455.3" y="495.5" font-size="7.6" text-anchor="middle">4</text>
<text x="469.5" y="496.5" font-size="7.6" text-anchor="middle">0</text>
<text x="499.6" y="483.7" font-size="7.6" text-anchor="middle">1</text>
<text x="529.2" y="470.8" font-size="7.6" text-anchor="middle">2</text>
<text x="558.7" y="458" font-size="7.6" text-anchor="middle">3</text>
<text x="358" y="494.4" font-size="8.55">Total Ampholyte %</text>
<text x="501.9" y="497" font-size="8.5">Ampholyte Ratio</text>
<text x="375.5" y="379.7" font-size="8.5" text-anchor="middle" transform="rotate(-90 375.5 379.7)">Resolution (pixels)</text>
<circle cx="587.6" cy="291.9" r="2.5" fill="#0072BD" stroke="#1a1a1a" stroke-width="0.5"/>
<text x="601.2" y="294.9" font-size="6.9">pH 6.44</text>
<circle cx="587.6" cy="301.6" r="2.5" fill="#D95319" stroke="#1a1a1a" stroke-width="0.5"/>
<text x="601.2" y="304.6" font-size="6.9">pH 6.94</text>
<circle cx="587.6" cy="311.2" r="2.5" fill="#EDB120" stroke="#1a1a1a" stroke-width="0.5"/>
<text x="601.2" y="314.2" font-size="6.9">pH 7.44</text>
<circle cx="587.6" cy="320.9" r="2.5" fill="#7E2F8E" stroke="#1a1a1a" stroke-width="0.5"/>
<text x="601.2" y="323.9" font-size="6.9">pH 7.94</text>
<circle cx="587.6" cy="330.5" r="2.5" fill="#77AC30" stroke="#1a1a1a" stroke-width="0.5"/>
<text x="601.2" y="333.6" font-size="6.9">pH 8.44</text>
<circle cx="587.6" cy="340.2" r="2.5" fill="#4DBEEE" stroke="#1a1a1a" stroke-width="0.5"/>
<text x="601.2" y="343.2" font-size="6.9">pH 8.94</text>
<circle cx="587.6" cy="349.9" r="2.5" fill="#A2142F" stroke="#1a1a1a" stroke-width="0.5"/>
<text x="601.2" y="352.9" font-size="6.9">pH 9.44</text>
<circle cx="587.6" cy="359.5" r="2.5" fill="#0072BD" stroke="#1a1a1a" stroke-width="0.5"/>
<text x="601.2" y="362.5" font-size="6.9">pH 9.94</text>
<rect x="634.3" y="286.3" width="12.4" height="198.3" fill="url(#pg)" stroke="#555" stroke-width="0.6"/>
<text x="650" y="289.1" font-size="7">50</text>
<text x="650" y="309" font-size="7">45</text>
<text x="650" y="328.8" font-size="7">40</text>
<text x="650" y="348.6" font-size="7">35</text>
<text x="650" y="368.5" font-size="7">30</text>
<text x="650" y="388.3" font-size="7">25</text>
<text x="650" y="408.1" font-size="7">20</text>
<text x="650" y="428" font-size="7">15</text>
<text x="650" y="447.8" font-size="7">10</text>
<text x="650" y="467.6" font-size="7">5</text>
<text x="650" y="487.4" font-size="7">0</text>
<text x="348.9" y="539.4" font-size="18.5" font-weight="bold" fill="#000" font-family="Liberation Serif">F</text>
<text x="473.8" y="533.7" font-size="8.44" text-anchor="middle" font-weight="bold" fill="#111">Separation time  12'</text>
<use href="#rp" y="502"/>
<text x="390.3" y="575.9" font-size="7.6" text-anchor="end">50</text>
<text x="390.3" y="597.9" font-size="7.6" text-anchor="end">40</text>
<text x="390.3" y="619.9" font-size="7.6" text-anchor="end">30</text>
<text x="390.3" y="642" font-size="7.6" text-anchor="end">20</text>
<text x="390.3" y="664" font-size="7.6" text-anchor="end">10</text>
<text x="390.3" y="686.1" font-size="7.6" text-anchor="end">0</text>
<text x="387" y="696.1" font-size="7.6" text-anchor="middle">8</text>
<text x="404.6" y="709" font-size="7.6" text-anchor="middle">7</text>
<text x="421.3" y="721.8" font-size="7.6" text-anchor="middle">6</text>
<text x="438.3" y="733.7" font-size="7.6" text-anchor="middle">5</text>
<text x="455.3" y="746.5" font-size="7.6" text-anchor="middle">4</text>
<text x="469.5" y="747.5" font-size="7.6" text-anchor="middle">0</text>
<text x="499.6" y="734.7" font-size="7.6" text-anchor="middle">1</text>
<text x="529.2" y="721.8" font-size="7.6" text-anchor="middle">2</text>
<text x="558.7" y="709" font-size="7.6" text-anchor="middle">3</text>
<text x="358" y="745.4" font-size="8.55">Total Ampholyte %</text>
<text x="501.9" y="748" font-size="8.5">Ampholyte Ratio</text>
<text x="375.5" y="630.7" font-size="8.5" text-anchor="middle" transform="rotate(-90 375.5 630.7)">Resolution (pixels)</text>
<circle cx="587.6" cy="542.9" r="2.5" fill="#0072BD" stroke="#1a1a1a" stroke-width="0.5"/>
<text x="601.2" y="545.9" font-size="6.9">pH 6.44</text>
<circle cx="587.6" cy="552.6" r="2.5" fill="#D95319" stroke="#1a1a1a" stroke-width="0.5"/>
<text x="601.2" y="555.6" font-size="6.9">pH 6.94</text>
<circle cx="587.6" cy="562.2" r="2.5" fill="#EDB120" stroke="#1a1a1a" stroke-width="0.5"/>
<text x="601.2" y="565.2" font-size="6.9">pH 7.44</text>
<circle cx="587.6" cy="571.9" r="2.5" fill="#7E2F8E" stroke="#1a1a1a" stroke-width="0.5"/>
<text x="601.2" y="574.9" font-size="6.9">pH 7.94</text>
<circle cx="587.6" cy="581.5" r="2.5" fill="#77AC30" stroke="#1a1a1a" stroke-width="0.5"/>
<text x="601.2" y="584.6" font-size="6.9">pH 8.44</text>
<circle cx="587.6" cy="591.2" r="2.5" fill="#4DBEEE" stroke="#1a1a1a" stroke-width="0.5"/>
<text x="601.2" y="594.2" font-size="6.9">pH 8.94</text>
<circle cx="587.6" cy="600.9" r="2.5" fill="#A2142F" stroke="#1a1a1a" stroke-width="0.5"/>
<text x="601.2" y="603.9" font-size="6.9">pH 9.44</text>
<circle cx="587.6" cy="610.5" r="2.5" fill="#0072BD" stroke="#1a1a1a" stroke-width="0.5"/>
<text x="601.2" y="613.5" font-size="6.9">pH 9.94</text>
<rect x="634.3" y="537.3" width="12.4" height="198.3" fill="url(#pg)" stroke="#555" stroke-width="0.6"/>
<text x="650" y="540.1" font-size="7">50</text>
<text x="650" y="560" font-size="7">45</text>
<text x="650" y="579.8" font-size="7">40</text>
<text x="650" y="599.6" font-size="7">35</text>
<text x="650" y="619.5" font-size="7">30</text>
<text x="650" y="639.3" font-size="7">25</text>
<text x="650" y="659.1" font-size="7">20</text>
<text x="650" y="679" font-size="7">15</text>
<text x="650" y="698.8" font-size="7">10</text>
<text x="650" y="718.6" font-size="7">5</text>
<text x="650" y="738.5" font-size="7">0</text>
</svg></body></html>
